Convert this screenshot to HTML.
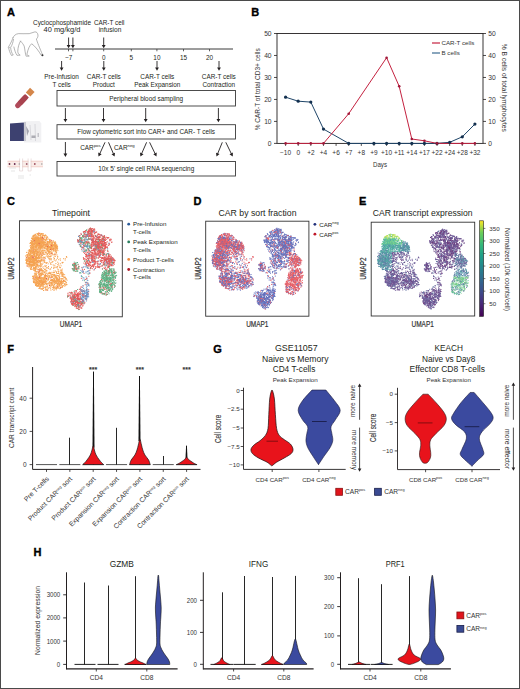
<!DOCTYPE html>
<html><head><meta charset="utf-8"><style>
html,body{margin:0;padding:0;background:#fff;}
svg{display:block;font-family:"Liberation Sans", sans-serif;}
</style></head><body>
<svg width="520" height="689" viewBox="0 0 520 689">
<rect x="0" y="0" width="520" height="689" fill="#fff"/>
<text x="6.9" y="15.6" font-size="11" text-anchor="start" font-weight="bold" fill="#000" stroke="#000" stroke-width="0.35">A</text>
<g transform="translate(5 28) scale(0.08078)" fill="none" stroke="#8c8c8c" stroke-width="8" stroke-linejoin="round" stroke-linecap="round"><path d="M100 118 C110 95 130 75 165 70 C210 68 260 74 300 70 C325 66 345 52 370 48 C392 46 405 62 408 88 C410 108 402 124 388 136 C400 175 430 250 465 332 M445 332 C420 290 380 230 330 195 C305 215 285 260 272 322 C272 335 285 343 300 347 L262 349 C250 320 248 270 238 225 C228 205 215 185 192 162 M192 162 C172 195 160 240 158 290 C160 315 172 330 188 336 L148 338 C130 310 118 270 110 235 M105 140 C100 175 90 210 70 240 C72 280 85 315 102 334 L80 340 C62 310 50 275 46 250 M100 118 C90 150 70 190 40 240 C45 248 52 246 58 240"/><circle cx="463" cy="337" r="13" fill="#333" stroke="none"/></g>
<g transform="translate(22.5 100.5) rotate(-47)"><rect x="-9.5" y="-2.6" width="16" height="5.2" rx="2.6" fill="#b04a5a"/><rect x="-4" y="-2.6" width="10.5" height="5.2" fill="#a8434f"/><rect x="8.2" y="-3.1" width="6.2" height="6.2" fill="#d4864a"/></g>
<path d="M10 123.6 L23.9 122.6 L23.9 140.9 L10 140.9 Z" fill="#3d4170"/><path d="M24 121.2 L39.5 120.9 L41.3 123.5 L41.3 142.4 L24 142.4 Z" fill="#f1f1f3"/><path d="M24 122 L26 122 L26 141 L24 141 Z" fill="#c8c8d0"/><path d="M26 126 L29 131 L27 136 Z" fill="#707080" opacity="0.6"/><path d="M30 125 L31 140 M35 124 L35.5 141" stroke="#d0d0d6" stroke-width="0.8"/><rect x="31.5" y="135.5" width="4" height="2.5" fill="#909098" opacity="0.7"/><rect x="37.5" y="133" width="1.5" height="4" fill="#b0b0b8" opacity="0.7"/>
<g><rect x="7.5" y="161.2" width="35.5" height="5.6" fill="#f9ece8"/><path d="M7.5 161.2 L43 161.2 M7.5 166.8 L43 166.8" stroke="#ecb8b0" stroke-width="0.6"/><rect x="20" y="158" width="2.2" height="13" fill="#fff"/><rect x="28.5" y="158" width="2.2" height="13" fill="#fff"/><path d="M19.6 158.5 L19.6 171 L22.6 171 L22.6 158.5 M28.1 158.5 L28.1 171 L31.1 171 L31.1 158.5" stroke="#d8c0c0" stroke-width="0.5" fill="none"/><circle cx="9.5" cy="164" r="0.9" fill="#6a2a40"/><circle cx="14.7" cy="164" r="0.9" fill="#6a2a50"/><circle cx="19.3" cy="164" r="0.8" fill="#a0a0a0"/><circle cx="26.7" cy="164" r="0.9" fill="#a06070"/><circle cx="34.8" cy="164" r="0.9" fill="#a05060"/><circle cx="41.8" cy="164" r="0.8" fill="#a0a0a0"/><path d="M9 168 L16 168 M11 171 L15 171 M18 176 L24 176 M18 178 L24 178 M29.5 175 L31 175" stroke="#c8c8c8" stroke-width="0.5"/></g>
<text x="62" y="25" font-size="6.4" text-anchor="middle" fill="#231f20" textLength="58" lengthAdjust="spacingAndGlyphs" >Cyclocphosphamide</text>
<text x="62" y="32.2" font-size="6.4" text-anchor="middle" fill="#231f20" textLength="36.8" lengthAdjust="spacingAndGlyphs" >40 mg/kg/d</text>
<text x="109.2" y="25" font-size="6.4" text-anchor="middle" fill="#231f20" textLength="30.6" lengthAdjust="spacingAndGlyphs" >CAR-T cell</text>
<text x="110" y="32.2" font-size="6.4" text-anchor="middle" fill="#231f20" textLength="22.7" lengthAdjust="spacingAndGlyphs" >infusion</text>
<line x1="55" y1="49" x2="233" y2="49" stroke="#3a3a3a" stroke-width="1.0" />
<line x1="68.5" y1="49" x2="68.5" y2="51.3" stroke="#3a3a3a" stroke-width="0.8" />
<line x1="72.9" y1="49" x2="72.9" y2="51.3" stroke="#3a3a3a" stroke-width="0.8" />
<line x1="103.7" y1="49" x2="103.7" y2="51.3" stroke="#3a3a3a" stroke-width="0.8" />
<line x1="131.3" y1="49" x2="131.3" y2="51.3" stroke="#3a3a3a" stroke-width="0.8" />
<line x1="156.9" y1="49" x2="156.9" y2="51.3" stroke="#3a3a3a" stroke-width="0.8" />
<line x1="183.5" y1="49" x2="183.5" y2="51.3" stroke="#3a3a3a" stroke-width="0.8" />
<line x1="209.5" y1="49" x2="209.5" y2="51.3" stroke="#3a3a3a" stroke-width="0.8" />
<line x1="68.6" y1="37.5" x2="68.6" y2="45.4" stroke="#231f20" stroke-width="0.9" />
<path d="M66.69999999999999 44.9 L70.5 44.9 L68.6 48.3 Z" fill="#231f20"/>
<line x1="72.9" y1="37.5" x2="72.9" y2="45.4" stroke="#231f20" stroke-width="0.9" />
<path d="M71.0 44.9 L74.80000000000001 44.9 L72.9 48.3 Z" fill="#231f20"/>
<line x1="103.7" y1="37.5" x2="103.7" y2="45.4" stroke="#231f20" stroke-width="0.9" />
<path d="M101.8 44.9 L105.60000000000001 44.9 L103.7 48.3 Z" fill="#231f20"/>
<text x="68.8" y="59.8" font-size="6.4" text-anchor="middle" fill="#231f20" >−7</text>
<text x="103.7" y="59.8" font-size="6.4" text-anchor="middle" fill="#231f20" >0</text>
<text x="131.3" y="59.8" font-size="6.4" text-anchor="middle" fill="#231f20" >5</text>
<text x="156.9" y="59.8" font-size="6.4" text-anchor="middle" fill="#231f20" >10</text>
<text x="183.5" y="59.8" font-size="6.4" text-anchor="middle" fill="#231f20" >15</text>
<text x="209.5" y="59.8" font-size="6.4" text-anchor="middle" fill="#231f20" >20</text>
<line x1="61.6" y1="61" x2="61.6" y2="67.89999999999999" stroke="#231f20" stroke-width="0.9" />
<path d="M59.7 67.39999999999999 L63.5 67.39999999999999 L61.6 70.8 Z" fill="#231f20"/>
<line x1="103.8" y1="61" x2="103.8" y2="67.89999999999999" stroke="#231f20" stroke-width="0.9" />
<path d="M101.89999999999999 67.39999999999999 L105.7 67.39999999999999 L103.8 70.8 Z" fill="#231f20"/>
<line x1="157" y1="61" x2="157" y2="67.89999999999999" stroke="#231f20" stroke-width="0.9" />
<path d="M155.1 67.39999999999999 L158.9 67.39999999999999 L157 70.8 Z" fill="#231f20"/>
<line x1="219" y1="61" x2="219" y2="67.89999999999999" stroke="#231f20" stroke-width="0.9" />
<path d="M217.1 67.39999999999999 L220.9 67.39999999999999 L219 70.8 Z" fill="#231f20"/>
<text x="61.6" y="79.2" font-size="6.4" text-anchor="middle" fill="#231f20" >Pre-Infusion</text>
<text x="61.6" y="87" font-size="6.4" text-anchor="middle" fill="#231f20" >T cells</text>
<text x="103.8" y="79.2" font-size="6.4" text-anchor="middle" fill="#231f20" >CAR-T cells</text>
<text x="103.8" y="87" font-size="6.4" text-anchor="middle" fill="#231f20" >Product</text>
<text x="157.3" y="79.2" font-size="6.4" text-anchor="middle" fill="#231f20" >CAR-T cells</text>
<text x="157.3" y="87" font-size="6.4" text-anchor="middle" fill="#231f20" >Peak Expansion</text>
<text x="218.8" y="79.2" font-size="6.4" text-anchor="middle" fill="#231f20" >CAR-T cells</text>
<text x="218.8" y="87" font-size="6.4" text-anchor="middle" fill="#231f20" >Contraction</text>
<rect x="57" y="90.5" width="178.5" height="15.5" fill="none" stroke="#3a3a3a" stroke-width="0.9"/>
<text x="146.2" y="100.55" font-size="6.4" text-anchor="middle" fill="#231f20" >Peripheral blood sampling</text>
<rect x="57" y="124.7" width="178.5" height="14.299999999999997" fill="none" stroke="#3a3a3a" stroke-width="0.9"/>
<text x="146.2" y="134.15" font-size="6.4" text-anchor="middle" fill="#231f20" >Flow cytometric sort into CAR+ and CAR- T cells</text>
<rect x="57" y="161.5" width="178.5" height="14.5" fill="none" stroke="#3a3a3a" stroke-width="0.9"/>
<text x="146.2" y="171.05" font-size="6.4" text-anchor="middle" fill="#231f20" >10x 5’ single cell RNA sequencing</text>
<line x1="65.4" y1="108" x2="65.4" y2="119.39999999999999" stroke="#231f20" stroke-width="0.9" />
<path d="M63.50000000000001 118.89999999999999 L67.30000000000001 118.89999999999999 L65.4 122.3 Z" fill="#231f20"/>
<line x1="103.5" y1="108" x2="103.5" y2="119.39999999999999" stroke="#231f20" stroke-width="0.9" />
<path d="M101.6 118.89999999999999 L105.4 118.89999999999999 L103.5 122.3 Z" fill="#231f20"/>
<line x1="145.7" y1="108" x2="145.7" y2="119.39999999999999" stroke="#231f20" stroke-width="0.9" />
<path d="M143.79999999999998 118.89999999999999 L147.6 118.89999999999999 L145.7 122.3 Z" fill="#231f20"/>
<line x1="218.4" y1="108" x2="218.4" y2="119.39999999999999" stroke="#231f20" stroke-width="0.9" />
<path d="M216.5 118.89999999999999 L220.3 118.89999999999999 L218.4 122.3 Z" fill="#231f20"/>
<line x1="65.4" y1="142" x2="65.4" y2="154.1" stroke="#231f20" stroke-width="0.9" />
<path d="M63.50000000000001 153.6 L67.30000000000001 153.6 L65.4 157 Z" fill="#231f20"/>
<line x1="105" y1="142.3" x2="99.70701969815084" y2="153.86312619788586" stroke="#231f20" stroke-width="0.9" />
<path d="M98.19 152.62 L101.64 154.20 L98.5 156.5 Z" fill="#231f20"/>
<line x1="108.5" y1="142.3" x2="113.45536977385015" y2="153.83545094896263" stroke="#231f20" stroke-width="0.9" />
<path d="M111.51 154.13 L115.00 152.63 L114.6 156.5 Z" fill="#231f20"/>
<line x1="146.6" y1="142.3" x2="141.56041062375698" y2="153.84228534558883" stroke="#231f20" stroke-width="0.9" />
<path d="M140.02 152.62 L143.50 154.14 L140.4 156.5 Z" fill="#231f20"/>
<line x1="149.6" y1="142.3" x2="155.2325538832057" y2="153.89163262920593" stroke="#231f20" stroke-width="0.9" />
<path d="M153.31 154.27 L156.72 152.61 L156.5 156.5 Z" fill="#231f20"/>
<line x1="222.3" y1="142.3" x2="217.5965627419308" y2="153.81531190768663" stroke="#231f20" stroke-width="0.9" />
<path d="M216.03 152.63 L219.54 154.07 L216.5 156.5 Z" fill="#231f20"/>
<line x1="225.8" y1="142.3" x2="231.4325538832057" y2="153.89163262920593" stroke="#231f20" stroke-width="0.9" />
<path d="M229.51 154.27 L232.92 152.61 L232.7 156.5 Z" fill="#231f20"/>
<text x="80.2" y="150" font-size="6.4" fill="#231f20">CAR<tspan font-size="4.3" dy="-2.6">pos</tspan></text>
<text x="114" y="150" font-size="6.4" fill="#231f20">CAR<tspan font-size="4.3" dy="-2.6">neg</tspan></text>
<text x="251.3" y="15.5" font-size="11" text-anchor="start" font-weight="bold" fill="#000" stroke="#000" stroke-width="0.35">B</text>
<rect x="277" y="33.5" width="206" height="109.9" fill="none" stroke="#231f20" stroke-width="0.9"/>
<line x1="274" y1="143.4" x2="277" y2="143.4" stroke="#231f20" stroke-width="0.8" />
<line x1="483" y1="143.4" x2="486" y2="143.4" stroke="#231f20" stroke-width="0.8" />
<text x="271.6" y="145.8" font-size="6.7" text-anchor="end" fill="#333" >0</text>
<text x="488.2" y="145.8" font-size="6.7" text-anchor="start" fill="#333" >0</text>
<line x1="274" y1="121.42" x2="277" y2="121.42" stroke="#231f20" stroke-width="0.8" />
<line x1="483" y1="121.42" x2="486" y2="121.42" stroke="#231f20" stroke-width="0.8" />
<text x="271.6" y="123.82000000000001" font-size="6.7" text-anchor="end" fill="#333" >10</text>
<text x="488.2" y="123.82000000000001" font-size="6.7" text-anchor="start" fill="#333" >10</text>
<line x1="274" y1="99.44" x2="277" y2="99.44" stroke="#231f20" stroke-width="0.8" />
<line x1="483" y1="99.44" x2="486" y2="99.44" stroke="#231f20" stroke-width="0.8" />
<text x="271.6" y="101.84" font-size="6.7" text-anchor="end" fill="#333" >20</text>
<text x="488.2" y="101.84" font-size="6.7" text-anchor="start" fill="#333" >20</text>
<line x1="274" y1="77.46000000000001" x2="277" y2="77.46000000000001" stroke="#231f20" stroke-width="0.8" />
<line x1="483" y1="77.46000000000001" x2="486" y2="77.46000000000001" stroke="#231f20" stroke-width="0.8" />
<text x="271.6" y="79.86000000000001" font-size="6.7" text-anchor="end" fill="#333" >30</text>
<text x="488.2" y="79.86000000000001" font-size="6.7" text-anchor="start" fill="#333" >30</text>
<line x1="274" y1="55.480000000000004" x2="277" y2="55.480000000000004" stroke="#231f20" stroke-width="0.8" />
<line x1="483" y1="55.480000000000004" x2="486" y2="55.480000000000004" stroke="#231f20" stroke-width="0.8" />
<text x="271.6" y="57.88" font-size="6.7" text-anchor="end" fill="#333" >40</text>
<text x="488.2" y="57.88" font-size="6.7" text-anchor="start" fill="#333" >40</text>
<line x1="274" y1="33.500000000000014" x2="277" y2="33.500000000000014" stroke="#231f20" stroke-width="0.8" />
<line x1="483" y1="33.500000000000014" x2="486" y2="33.500000000000014" stroke="#231f20" stroke-width="0.8" />
<text x="271.6" y="35.90000000000001" font-size="6.7" text-anchor="end" fill="#333" >50</text>
<text x="488.2" y="35.90000000000001" font-size="6.7" text-anchor="start" fill="#333" >50</text>
<line x1="285.6" y1="143.4" x2="285.6" y2="145.9" stroke="#231f20" stroke-width="0.8" />
<text x="285.6" y="154.9" font-size="6.5" text-anchor="middle" fill="#333" >−10</text>
<line x1="298.22" y1="143.4" x2="298.22" y2="145.9" stroke="#231f20" stroke-width="0.8" />
<text x="298.22" y="154.9" font-size="6.5" text-anchor="middle" fill="#333" >0</text>
<line x1="310.84000000000003" y1="143.4" x2="310.84000000000003" y2="145.9" stroke="#231f20" stroke-width="0.8" />
<text x="310.84000000000003" y="154.9" font-size="6.5" text-anchor="middle" fill="#333" >+2</text>
<line x1="323.46000000000004" y1="143.4" x2="323.46000000000004" y2="145.9" stroke="#231f20" stroke-width="0.8" />
<text x="323.46000000000004" y="154.9" font-size="6.5" text-anchor="middle" fill="#333" >+4</text>
<line x1="336.08000000000004" y1="143.4" x2="336.08000000000004" y2="145.9" stroke="#231f20" stroke-width="0.8" />
<text x="336.08000000000004" y="154.9" font-size="6.5" text-anchor="middle" fill="#333" >+6</text>
<line x1="348.70000000000005" y1="143.4" x2="348.70000000000005" y2="145.9" stroke="#231f20" stroke-width="0.8" />
<text x="348.70000000000005" y="154.9" font-size="6.5" text-anchor="middle" fill="#333" >+7</text>
<line x1="361.32000000000005" y1="143.4" x2="361.32000000000005" y2="145.9" stroke="#231f20" stroke-width="0.8" />
<text x="361.32000000000005" y="154.9" font-size="6.5" text-anchor="middle" fill="#333" >+8</text>
<line x1="373.94" y1="143.4" x2="373.94" y2="145.9" stroke="#231f20" stroke-width="0.8" />
<text x="373.94" y="154.9" font-size="6.5" text-anchor="middle" fill="#333" >+9</text>
<line x1="386.56" y1="143.4" x2="386.56" y2="145.9" stroke="#231f20" stroke-width="0.8" />
<text x="386.56" y="154.9" font-size="6.5" text-anchor="middle" fill="#333" >+10</text>
<line x1="399.18" y1="143.4" x2="399.18" y2="145.9" stroke="#231f20" stroke-width="0.8" />
<text x="399.18" y="154.9" font-size="6.5" text-anchor="middle" fill="#333" >+11</text>
<line x1="411.8" y1="143.4" x2="411.8" y2="145.9" stroke="#231f20" stroke-width="0.8" />
<text x="411.8" y="154.9" font-size="6.5" text-anchor="middle" fill="#333" >+14</text>
<line x1="424.42" y1="143.4" x2="424.42" y2="145.9" stroke="#231f20" stroke-width="0.8" />
<text x="424.42" y="154.9" font-size="6.5" text-anchor="middle" fill="#333" >+17</text>
<line x1="437.04" y1="143.4" x2="437.04" y2="145.9" stroke="#231f20" stroke-width="0.8" />
<text x="437.04" y="154.9" font-size="6.5" text-anchor="middle" fill="#333" >+22</text>
<line x1="449.66" y1="143.4" x2="449.66" y2="145.9" stroke="#231f20" stroke-width="0.8" />
<text x="449.66" y="154.9" font-size="6.5" text-anchor="middle" fill="#333" >+24</text>
<line x1="462.28" y1="143.4" x2="462.28" y2="145.9" stroke="#231f20" stroke-width="0.8" />
<text x="462.28" y="154.9" font-size="6.5" text-anchor="middle" fill="#333" >+28</text>
<line x1="474.9" y1="143.4" x2="474.9" y2="145.9" stroke="#231f20" stroke-width="0.8" />
<text x="474.9" y="154.9" font-size="6.5" text-anchor="middle" fill="#333" >+32</text>
<text x="380" y="166.5" font-size="7.2" text-anchor="middle" fill="#333" textLength="14" lengthAdjust="spacingAndGlyphs" >Days</text>
<text transform="translate(260.4 89.3) rotate(-90)" font-size="8" text-anchor="middle" fill="#333" textLength="82" lengthAdjust="spacingAndGlyphs">% CAR-T of total CD3+ cells</text>
<text transform="translate(502.4 87.8) rotate(90)" font-size="8" text-anchor="middle" fill="#333" textLength="88" lengthAdjust="spacingAndGlyphs">% B cells of total lymphocytes</text>
<polyline points="285.6,97.2 298.2,101.2 310.8,102.1 323.5,129.1 348.7,143.4 373.9,143.4 386.6,143.4 399.2,143.4 411.8,143.4 424.4,143.4 437.0,143.4 449.7,142.3 462.3,136.8 474.9,124.1" fill="none" stroke="#1f4568" stroke-width="1"/>
<polyline points="285.6,143.4 298.2,143.4 310.8,143.4 323.5,143.4 348.7,113.7 386.6,57.7 399.2,86.3 411.8,139.0 424.4,140.8 437.0,143.4 449.7,143.4 462.3,143.4 474.9,143.4" fill="none" stroke="#c4213f" stroke-width="1"/>
<circle cx="285.6" cy="97.2" r="1.6" fill="#13304f"/>
<circle cx="298.2" cy="101.2" r="1.6" fill="#13304f"/>
<circle cx="310.8" cy="102.1" r="1.6" fill="#13304f"/>
<circle cx="323.5" cy="129.1" r="1.6" fill="#13304f"/>
<circle cx="348.7" cy="143.4" r="1.6" fill="#13304f"/>
<circle cx="373.9" cy="143.4" r="1.6" fill="#13304f"/>
<circle cx="386.6" cy="143.4" r="1.6" fill="#13304f"/>
<circle cx="399.2" cy="143.4" r="1.6" fill="#13304f"/>
<circle cx="411.8" cy="143.4" r="1.6" fill="#13304f"/>
<circle cx="424.4" cy="143.4" r="1.6" fill="#13304f"/>
<circle cx="437.0" cy="143.4" r="1.6" fill="#13304f"/>
<circle cx="449.7" cy="142.3" r="1.6" fill="#13304f"/>
<circle cx="462.3" cy="136.8" r="1.6" fill="#13304f"/>
<circle cx="474.9" cy="124.1" r="1.6" fill="#13304f"/>
<circle cx="285.6" cy="143.4" r="1.3" fill="#a0183a"/>
<circle cx="298.2" cy="143.4" r="1.3" fill="#a0183a"/>
<circle cx="310.8" cy="143.4" r="1.3" fill="#a0183a"/>
<circle cx="323.5" cy="143.4" r="1.3" fill="#a0183a"/>
<circle cx="348.7" cy="113.7" r="1.3" fill="#a0183a"/>
<circle cx="386.6" cy="57.7" r="1.3" fill="#a0183a"/>
<circle cx="399.2" cy="86.3" r="1.3" fill="#a0183a"/>
<circle cx="411.8" cy="139.0" r="1.3" fill="#a0183a"/>
<circle cx="424.4" cy="140.8" r="1.3" fill="#a0183a"/>
<circle cx="437.0" cy="143.4" r="1.3" fill="#a0183a"/>
<circle cx="462.3" cy="143.4" r="1.3" fill="#a0183a"/>
<circle cx="474.9" cy="143.4" r="1.3" fill="#a0183a"/>
<line x1="432" y1="43" x2="440" y2="43" stroke="#c4213f" stroke-width="1.2" />
<line x1="432" y1="53" x2="440" y2="53" stroke="#3a6a90" stroke-width="1.2" />
<text x="441.5" y="45.2" font-size="6.2" text-anchor="start" fill="#333" >CAR-T cells</text>
<text x="441.5" y="55.2" font-size="6.2" text-anchor="start" fill="#333" >B cells</text>
<g opacity="0.78" stroke-width="1.0" stroke-linecap="square">
<path d="M33.3 262.6h0M42.4 282.1h0M36.4 277.8h0M56.9 287.6h0M37.3 286.2h0M59.1 286.1h0M55.7 288.1h0M33.9 260.4h0M52.7 274.6h0M34.8 263.4h0M35.1 272.8h0M59.9 285.4h0M49.6 241.2h0M58.5 280.2h0M45.5 242.6h0M36.9 257.5h0M43.6 254.2h0M44.0 279.6h0M56.8 285.2h0M38.5 239.4h0M32.1 251.5h0M43.2 286.2h0M60.7 270.9h0M36.3 244.4h0M53.5 268.2h0M52.1 244.2h0M49.6 242.8h0M38.2 251.6h0M65.3 258.7h0M50.9 249.3h0M32.8 278.2h0M48.5 278.9h0M44.8 276.2h0M42.6 270.6h0M55.8 248.4h0M35.0 249.7h0M46.6 249.0h0M39.3 247.5h0M42.2 246.7h0M47.0 279.2h0M59.5 281.6h0M42.5 273.9h0M54.3 243.0h0M50.7 287.1h0M41.9 282.3h0M54.8 275.7h0M35.8 256.7h0M56.5 278.0h0M35.9 256.8h0M38.2 275.8h0M42.7 289.1h0M50.3 244.5h0M38.5 282.2h0M48.3 247.5h0M28.7 263.4h0M39.7 252.9h0M45.7 280.5h0M33.2 239.8h0M56.7 245.0h0M35.4 266.8h0M26.4 262.6h0M35.7 251.8h0M42.0 260.0h0M40.0 274.2h0M41.3 271.1h0M34.7 260.3h0M40.9 246.0h0M38.6 267.2h0M34.6 258.8h0M36.2 274.4h0M49.4 246.6h0M41.4 241.4h0M31.5 256.2h0M38.9 255.9h0M41.2 239.3h0M31.8 241.4h0M34.3 270.2h0M41.5 239.5h0M29.3 265.2h0M36.8 277.6h0M34.3 239.7h0M40.7 234.6h0M38.8 277.6h0M56.5 252.6h0M38.1 239.4h0M37.1 237.4h0M38.7 233.8h0M45.1 244.7h0M29.6 250.5h0M62.3 275.9h0M47.8 248.8h0M60.6 263.8h0M29.5 263.9h0M43.1 235.6h0M31.5 261.4h0M31.6 265.9h0M50.6 247.8h0M37.7 277.0h0M50.2 251.6h0M37.3 244.5h0M32.5 262.5h0M48.7 252.2h0M41.3 260.7h0M47.1 243.0h0M46.4 256.0h0M45.8 275.8h0M38.8 281.1h0M29.4 254.8h0M50.1 241.4h0M28.6 257.4h0M48.4 241.7h0M26.5 260.0h0M57.2 267.7h0M39.0 288.5h0M44.6 235.6h0M56.7 279.4h0M41.6 277.9h0M51.0 280.5h0M33.0 264.6h0M26.2 258.9h0M33.5 261.9h0M49.7 251.5h0M33.4 259.5h0M40.3 244.9h0M39.8 244.2h0M39.7 257.7h0M42.2 282.5h0M58.7 287.9h0M56.6 275.7h0M39.5 257.9h0M62.6 282.2h0M34.2 262.5h0M38.3 245.4h0M55.5 280.3h0M35.2 280.3h0M58.7 282.8h0M36.1 266.7h0M35.0 237.1h0M64.6 284.1h0M44.1 281.7h0M61.7 287.5h0M27.1 261.9h0M49.4 287.7h0M36.9 258.7h0M26.7 263.6h0M48.7 258.7h0M36.2 277.6h0M37.7 241.8h0M61.8 272.4h0M34.2 276.6h0M39.1 251.9h0M47.5 243.0h0M37.0 286.5h0M44.4 261.9h0M32.9 238.4h0M39.2 244.9h0M36.4 261.2h0M32.4 257.0h0M41.3 278.9h0M59.7 288.7h0M33.6 278.4h0M39.5 278.6h0M37.1 260.8h0M30.3 260.6h0M58.5 283.0h0M29.4 264.9h0M34.9 270.6h0M55.6 246.9h0M56.4 289.8h0M38.8 242.7h0M28.0 261.3h0M48.9 245.2h0M52.1 252.9h0M59.3 278.3h0M27.4 259.9h0M33.5 237.1h0M52.6 279.6h0M57.1 278.7h0M56.9 245.6h0M39.5 276.1h0M27.3 260.2h0M36.7 262.7h0M46.2 253.2h0M36.6 240.8h0M45.0 281.6h0M42.3 264.7h0M32.0 250.4h0M38.9 252.5h0M52.0 244.1h0M42.6 236.8h0M48.8 252.0h0M34.4 243.8h0M45.0 254.1h0M52.4 287.6h0M41.2 241.9h0M53.9 270.9h0M38.8 253.6h0M51.1 243.9h0M34.2 262.4h0M45.9 242.8h0M29.1 249.9h0M30.6 255.0h0M36.0 262.5h0M39.4 251.1h0M38.2 245.1h0M39.9 253.5h0M42.1 289.2h0M36.4 259.8h0M51.6 248.5h0M35.8 245.7h0M52.7 274.3h0M35.0 262.6h0M48.7 246.6h0M55.8 243.0h0M30.7 269.3h0M48.3 245.4h0M53.5 286.3h0M57.1 279.0h0M56.0 247.3h0M33.6 259.0h0M28.6 253.4h0M31.3 240.8h0M46.3 244.8h0M44.1 277.7h0M44.7 275.5h0M35.4 271.1h0M33.5 244.0h0M33.8 242.9h0M43.0 233.8h0M32.7 245.7h0M37.1 265.1h0M33.9 252.8h0M39.9 249.5h0M29.5 250.7h0M59.5 284.5h0M31.1 262.0h0M46.7 239.0h0M49.6 247.5h0M63.1 274.2h0M60.2 258.8h0M35.8 284.0h0M55.6 243.7h0M29.4 262.5h0M63.1 279.1h0M39.8 254.5h0M28.9 258.8h0M44.0 241.0h0M48.3 275.7h0M49.2 282.8h0M29.2 251.2h0M39.7 242.4h0M58.4 281.9h0M30.0 256.8h0M31.2 251.8h0M53.8 281.0h0M50.4 280.3h0M55.0 281.6h0M43.2 239.5h0M35.0 253.4h0M36.0 282.5h0M56.1 266.9h0M40.4 285.7h0M41.4 283.4h0M47.5 246.5h0M40.1 235.2h0M36.2 246.7h0M35.7 242.9h0M37.9 234.7h0M36.3 254.9h0M52.6 279.7h0M29.4 264.7h0M45.7 277.8h0M55.0 250.2h0M41.9 286.6h0M33.8 238.7h0M29.4 257.7h0M44.9 278.9h0M51.6 280.1h0M29.1 264.6h0M37.2 283.2h0M40.9 284.0h0M38.9 239.3h0M57.8 284.6h0M42.6 283.7h0M42.1 239.3h0M39.8 280.7h0M35.4 249.7h0M37.0 238.9h0M30.7 258.3h0M42.7 283.4h0M39.0 238.2h0M40.2 273.5h0M51.1 256.0h0M41.6 268.7h0M36.1 241.7h0M36.6 257.8h0M31.6 247.3h0M66.3 279.1h0M31.2 259.5h0M41.0 247.8h0M36.9 238.4h0M54.4 287.9h0M37.8 265.1h0M54.8 256.0h0M47.9 246.2h0M42.7 237.0h0M55.4 277.7h0M37.1 264.8h0M50.3 286.0h0M30.8 256.4h0M49.9 248.4h0M33.4 254.5h0M40.2 282.2h0M58.8 276.6h0M33.9 281.7h0M61.7 276.1h0M43.0 234.9h0M47.5 257.0h0M28.4 258.6h0M51.8 244.0h0M39.7 260.4h0M34.2 236.2h0M42.2 258.2h0M30.3 267.0h0M60.1 282.8h0M33.9 235.3h0M35.8 239.8h0M33.0 265.2h0M54.2 277.2h0M35.5 257.6h0M33.9 249.3h0M35.0 254.1h0M30.9 258.8h0M45.1 283.9h0M56.7 247.4h0M65.2 260.0h0M26.6 259.0h0M54.6 272.6h0M42.3 249.0h0M43.0 242.8h0M39.3 283.9h0M48.5 266.5h0M57.4 287.4h0M37.9 244.1h0M33.6 241.9h0M35.8 259.1h0M37.4 258.5h0M37.6 279.7h0M35.1 280.0h0M50.6 264.0h0M53.4 249.3h0M30.6 243.0h0M40.0 248.8h0M31.3 259.2h0M32.5 276.4h0M37.1 278.2h0M44.0 251.1h0M43.6 244.0h0M34.2 237.4h0M45.1 271.3h0M34.7 265.1h0M33.5 236.8h0M51.2 279.6h0M41.4 251.8h0M33.1 276.2h0M28.6 264.8h0M58.5 273.5h0M36.5 252.9h0M47.7 237.4h0M34.0 240.3h0M39.3 238.4h0M46.6 246.5h0M39.9 261.9h0M41.6 280.4h0M38.8 260.2h0M64.6 274.7h0M40.1 265.6h0M49.3 242.2h0M54.2 245.2h0M27.3 255.5h0M36.1 239.5h0M54.1 247.6h0M35.8 279.2h0M39.9 242.2h0M41.4 246.1h0M46.4 241.0h0M32.9 258.3h0M53.9 275.4h0M38.7 240.3h0M35.6 285.1h0M31.1 259.2h0M46.9 284.3h0M57.1 246.9h0M30.3 268.4h0M60.3 281.9h0M56.5 288.4h0M37.3 262.2h0M37.2 283.2h0M55.4 275.1h0M39.6 283.5h0M51.6 248.5h0M36.5 238.0h0M35.1 251.6h0M61.9 278.6h0M36.1 267.1h0M53.6 280.8h0M33.9 246.8h0M37.8 238.0h0M35.5 285.4h0M43.0 274.4h0M35.4 258.7h0M30.5 252.7h0M35.7 262.3h0M56.0 282.1h0M32.4 247.7h0M51.7 280.4h0M61.6 274.8h0M51.7 244.7h0M48.3 268.2h0M33.2 246.6h0M38.8 285.1h0M34.9 240.7h0M57.9 288.5h0M36.8 245.3h0M61.9 270.5h0M44.0 278.9h0M34.3 263.1h0M55.5 281.8h0M55.3 256.4h0M35.6 266.9h0M35.6 250.7h0M29.0 253.8h0M38.3 242.5h0M49.4 284.3h0M39.6 262.1h0M53.7 250.8h0M31.1 251.0h0M43.2 286.0h0M43.5 290.5h0M43.9 271.5h0M42.7 243.2h0M47.1 267.8h0M31.5 267.3h0M44.5 277.4h0M34.9 258.5h0M39.7 283.5h0M31.0 268.8h0M39.9 279.2h0M52.4 243.7h0M32.5 239.0h0M34.7 268.1h0M35.1 258.1h0M66.4 284.5h0M33.1 264.1h0M46.4 275.7h0M35.5 250.5h0M41.8 245.3h0M32.0 265.2h0M35.6 251.8h0M32.3 247.3h0M42.3 284.8h0M29.5 261.9h0M50.5 249.4h0M32.4 245.5h0M34.3 259.9h0M37.8 285.2h0M49.6 252.3h0M42.7 272.3h0M42.5 283.4h0M41.1 259.7h0M31.0 251.4h0M34.6 275.0h0M52.5 249.4h0M45.9 289.4h0M48.0 277.2h0M45.6 246.6h0M53.1 285.6h0M38.9 283.9h0M31.8 257.6h0M36.9 238.2h0M41.6 240.1h0M55.8 254.7h0M49.7 258.4h0M46.5 270.3h0M46.3 263.4h0M39.3 243.9h0M37.9 254.5h0M40.7 235.1h0M29.4 263.1h0M41.4 259.7h0M26.2 262.9h0M55.6 247.7h0M30.8 242.8h0M42.8 242.9h0M49.3 282.7h0M41.0 268.4h0M40.7 241.5h0M39.9 271.8h0M61.1 283.5h0M36.6 238.4h0M57.9 283.4h0M58.0 285.5h0M64.8 277.5h0M57.9 250.6h0M60.2 273.7h0M30.2 266.3h0M42.3 250.5h0M36.5 251.2h0M36.9 282.7h0M52.6 246.1h0M54.2 272.2h0M53.0 281.8h0M49.8 239.7h0M43.2 278.1h0M35.5 240.0h0M49.8 240.2h0M33.0 252.8h0M33.3 268.5h0M38.7 241.1h0M51.2 247.1h0M39.7 277.2h0M54.7 282.0h0M36.8 258.8h0M51.3 277.6h0M51.1 241.7h0M37.9 233.5h0M33.8 243.9h0M47.6 247.1h0M49.7 242.9h0M41.2 251.8h0M31.9 255.6h0M51.8 244.9h0M49.2 276.7h0M63.2 283.2h0M38.2 238.6h0M26.7 261.1h0M40.4 282.6h0M51.9 272.3h0M55.0 275.7h0M36.4 282.4h0M45.0 281.1h0M51.9 247.9h0M38.7 240.1h0M46.6 246.3h0M43.4 239.3h0M29.5 261.6h0M36.5 257.9h0M33.5 251.9h0M33.6 240.0h0M54.4 248.2h0M54.0 290.5h0M38.0 265.8h0M44.7 261.9h0M35.4 246.8h0M31.0 256.6h0M49.9 259.9h0M41.6 244.5h0M51.9 249.8h0M45.3 258.6h0M35.5 267.4h0M41.1 285.4h0M50.6 273.0h0M28.9 255.9h0M36.0 237.1h0M43.2 243.1h0M32.9 241.1h0M38.7 245.1h0" stroke="#f38a22"/>
<path d="M43.3 245.1h0M42.5 283.3h0M33.6 258.8h0M59.2 279.6h0M45.0 244.5h0M33.5 250.2h0M40.5 270.1h0M37.8 243.9h0M33.0 248.2h0M60.6 287.4h0M51.4 240.4h0M37.7 252.5h0M36.7 253.7h0M80.7 246.7h0M102.6 260.7h0M101.7 258.5h0M83.7 232.4h0M86.7 236.4h0M98.0 267.1h0M92.5 257.8h0M92.7 236.4h0M101.8 240.6h0M91.7 239.6h0M95.1 262.3h0M111.1 260.8h0M89.9 235.3h0M112.7 259.6h0M92.2 259.6h0M111.3 259.0h0M105.5 245.6h0M97.0 254.9h0M98.9 248.9h0M101.9 244.2h0M99.6 256.6h0M96.4 247.1h0M98.4 243.8h0M108.9 265.3h0M104.3 243.3h0M97.6 243.6h0M97.1 254.0h0M102.1 250.8h0M108.6 267.6h0M112.0 257.6h0M83.5 236.7h0M107.2 241.7h0M91.3 239.9h0M92.2 246.3h0M95.1 248.5h0M104.4 242.1h0M103.6 243.3h0M111.6 259.1h0M101.5 235.0h0M84.9 236.4h0M105.2 237.9h0M88.2 229.3h0M99.8 252.9h0M89.3 264.4h0M99.6 250.1h0M88.5 264.0h0M108.9 243.4h0M109.6 263.2h0M92.5 261.4h0M110.5 257.9h0M98.5 253.4h0M94.7 243.7h0M95.4 240.5h0M111.2 264.5h0M92.1 242.5h0M102.9 257.9h0M110.6 265.0h0M102.4 248.2h0M105.1 247.0h0M111.4 261.2h0M91.8 240.1h0M99.7 246.1h0M83.4 247.7h0M109.3 261.6h0M96.4 241.2h0M96.0 238.4h0M96.2 256.7h0M96.3 242.2h0M95.2 245.4h0M101.2 261.7h0M110.0 240.9h0M100.8 247.3h0M103.2 258.6h0M97.3 241.0h0M109.8 239.7h0M104.3 235.6h0M102.4 257.9h0M104.4 261.7h0M107.0 259.7h0M110.1 258.5h0M95.4 252.8h0M94.9 233.8h0M84.9 245.7h0M93.0 255.8h0M91.3 268.0h0M92.5 260.3h0M91.0 233.1h0M99.5 247.0h0M90.6 267.7h0M95.7 239.1h0M106.6 262.4h0M101.5 251.8h0M98.7 239.6h0M103.5 259.1h0M90.5 228.9h0M102.2 254.4h0M98.2 258.5h0M105.4 247.7h0M97.9 254.9h0M104.0 267.9h0M88.2 263.6h0M92.7 256.9h0M93.3 266.4h0M103.0 262.9h0M93.4 250.6h0M112.2 262.9h0M99.9 257.1h0M91.6 260.4h0M97.7 264.1h0M100.4 241.4h0M93.5 237.8h0M81.2 239.8h0M92.2 259.4h0M87.0 231.7h0M100.4 250.5h0M95.8 267.0h0M90.8 262.4h0M103.0 252.8h0M90.1 265.5h0M88.7 255.5h0M82.0 247.0h0M99.2 256.1h0M103.5 264.4h0M86.5 234.7h0M90.3 245.0h0M78.4 242.1h0M107.3 258.8h0M100.1 237.5h0M103.1 239.0h0M91.8 247.1h0M93.3 236.6h0M89.2 257.1h0M98.7 253.7h0M86.3 254.0h0M102.6 245.1h0M86.7 255.1h0M86.7 263.4h0M83.7 242.9h0M100.3 247.8h0M85.0 246.4h0M93.1 242.8h0M94.5 244.3h0M95.5 236.2h0M96.5 236.4h0M102.9 248.6h0M108.9 264.5h0M107.5 263.3h0M104.5 268.4h0M93.4 266.6h0M93.5 265.0h0M109.3 244.7h0M102.6 244.9h0M94.6 253.9h0M90.4 265.2h0M81.0 233.4h0M106.1 259.9h0M88.1 265.4h0M102.3 245.3h0M105.1 254.8h0M80.9 245.7h0M86.1 251.3h0M100.2 246.7h0M97.7 261.6h0M103.4 254.4h0M91.9 256.9h0M95.2 266.6h0M107.8 261.6h0M110.5 239.2h0M98.8 237.4h0M107.5 238.1h0M79.9 235.7h0M98.9 255.7h0M97.1 266.8h0M100.6 241.8h0M81.1 241.7h0M98.8 246.6h0M102.7 252.5h0M103.1 255.3h0M90.9 229.3h0M88.8 263.3h0M93.4 261.1h0M109.9 265.7h0M87.8 248.8h0M94.2 258.4h0M89.9 245.2h0M88.1 250.8h0M96.0 245.8h0M98.0 254.3h0M93.9 231.9h0M94.7 252.2h0M83.7 245.0h0M95.5 244.2h0M104.6 257.4h0M92.9 240.0h0M94.8 230.1h0M91.8 255.4h0M92.9 233.0h0M91.6 252.9h0M98.0 244.6h0M108.1 261.8h0M99.3 253.0h0M89.6 255.4h0M84.3 243.0h0M101.6 241.0h0M102.7 238.8h0M93.3 239.7h0M94.8 254.4h0M86.1 242.7h0M102.3 245.6h0M104.5 237.6h0M101.9 244.9h0M94.0 270.0h0M88.5 237.9h0M103.7 263.2h0M93.1 244.5h0M95.5 249.5h0M85.7 230.5h0M109.5 240.1h0M100.3 261.5h0M105.2 240.5h0M96.2 254.5h0M98.9 244.4h0M113.1 263.4h0M99.8 255.6h0M114.1 261.8h0M92.5 241.4h0M94.1 246.7h0M88.2 263.2h0M111.3 257.9h0M97.2 252.4h0M115.2 260.7h0M92.3 250.5h0M91.7 239.5h0M108.8 259.3h0M94.5 231.2h0M104.7 260.4h0M88.4 232.5h0M91.8 260.2h0M93.4 256.9h0M111.1 261.1h0M95.3 241.4h0M111.8 259.7h0M107.4 247.7h0M100.7 257.4h0M85.6 244.7h0M113.1 265.6h0M102.4 241.4h0M86.0 241.4h0M87.8 260.9h0M95.5 253.6h0M100.0 254.3h0M99.7 240.8h0M90.9 246.9h0M91.7 266.5h0M100.1 245.1h0M103.5 241.6h0M104.5 237.8h0M96.5 249.1h0M88.5 242.5h0M88.9 250.0h0M93.3 264.8h0M108.6 256.6h0M93.2 229.0h0M114.6 260.1h0M94.0 265.3h0M108.6 237.7h0M92.4 259.2h0M86.0 243.4h0M91.4 231.7h0M81.1 243.8h0M104.7 289.6h0M100.4 287.9h0M104.2 293.5h0M111.2 269.2h0M111.0 286.3h0M109.5 290.8h0M103.6 284.4h0M114.6 272.5h0M103.9 274.1h0M102.4 281.2h0M107.9 271.3h0M101.2 287.9h0M103.5 287.7h0M112.4 273.2h0M104.4 273.3h0M100.4 292.9h0M76.6 269.5h0M73.7 270.1h0M78.1 264.9h0M75.8 271.5h0M72.9 265.3h0M72.4 268.6h0M79.1 266.4h0M74.3 263.5h0M83.3 272.1h0M85.7 279.5h0M81.4 278.3h0M85.9 296.0h0M76.3 300.9h0M70.9 301.4h0M67.5 295.2h0M74.2 299.9h0M88.8 291.7h0M76.3 300.4h0M77.2 301.6h0M81.3 303.6h0M75.7 303.1h0M80.7 304.0h0M74.1 298.7h0M74.8 297.3h0M74.8 300.6h0M81.2 293.4h0M81.6 304.6h0M77.6 294.5h0M74.7 296.0h0M78.1 302.5h0M84.1 303.8h0M76.0 300.4h0M79.9 298.4h0M75.5 303.9h0M78.1 298.2h0M80.2 308.0h0M74.4 297.2h0M79.4 299.0h0M74.4 297.2h0M82.6 305.0h0M76.1 292.2h0M80.2 296.7h0M72.7 305.0h0M78.3 296.8h0M73.4 302.1h0M82.9 294.2h0M79.4 289.4h0M80.2 301.0h0M77.7 299.6h0M78.2 307.8h0M79.3 303.0h0M80.3 303.7h0M83.2 301.1h0M72.8 301.5h0M76.6 290.9h0M80.1 296.9h0M74.7 293.7h0M75.6 293.2h0M71.7 298.8h0M67.9 293.3h0M77.7 303.4h0M78.8 302.9h0M75.8 298.1h0M72.8 304.7h0M72.4 298.8h0M78.1 293.0h0M78.4 299.7h0M76.0 299.5h0M70.6 298.9h0M80.7 305.9h0M77.5 295.5h0M76.3 302.0h0M79.5 299.3h0M81.5 303.9h0M83.7 297.1h0M77.7 295.3h0M74.3 297.8h0M87.6 292.4h0M76.8 301.0h0M81.4 298.7h0M84.9 302.8h0M78.0 304.9h0M79.0 302.5h0M76.8 294.9h0M76.9 300.9h0M73.6 299.3h0M78.7 309.1h0M77.6 302.3h0M79.9 291.5h0M76.8 294.7h0M72.9 293.0h0M74.4 301.4h0M79.9 293.8h0" stroke="#dc2a2a"/>
<path d="M78.4 240.5h0M89.1 246.9h0M95.5 244.1h0M83.0 244.2h0M77.6 239.9h0M107.7 248.8h0M99.8 264.0h0M87.5 247.0h0M112.3 264.6h0M107.7 262.6h0M80.2 241.7h0M84.5 251.5h0M87.9 246.5h0M86.6 250.3h0M100.8 247.9h0M85.9 239.0h0M88.3 259.1h0M80.4 238.1h0M101.4 249.9h0M85.7 250.9h0M87.7 245.4h0M86.5 246.6h0M79.3 235.8h0M81.8 247.2h0M88.6 238.1h0M83.3 236.6h0M87.6 236.3h0M82.1 250.9h0M81.4 234.4h0M93.5 230.2h0M94.4 250.9h0M86.1 271.8h0M84.2 279.2h0M87.6 271.4h0M88.6 268.3h0M82.7 280.2h0M86.8 278.1h0M81.4 276.2h0M88.3 270.9h0M88.0 284.8h0M86.7 294.7h0M87.1 298.1h0M83.0 293.8h0M82.4 295.2h0M81.2 299.7h0M87.1 294.8h0M87.5 289.2h0M89.2 285.9h0M84.8 291.5h0M86.9 294.3h0M86.6 289.2h0M78.2 299.1h0M85.6 296.0h0M84.1 303.3h0M70.1 296.9h0M87.8 280.5h0M85.1 296.0h0M78.0 297.9h0M88.1 283.1h0M83.3 295.2h0M81.1 298.9h0M83.0 298.1h0M86.7 282.3h0M86.2 292.3h0M83.6 288.4h0M86.7 285.2h0M85.5 296.1h0M88.7 285.1h0M86.7 295.7h0M88.5 291.6h0M86.9 295.1h0M83.6 300.8h0M81.0 298.4h0" stroke="#3a78b8"/>
<path d="M94.8 259.0h0M89.6 248.1h0M89.8 231.4h0M91.1 230.5h0M91.3 247.7h0M84.2 233.7h0M89.7 233.3h0M90.5 251.8h0M103.1 251.8h0M86.5 229.9h0M78.6 236.5h0M86.7 239.9h0M107.2 259.8h0M98.2 238.3h0M85.2 245.0h0M108.8 266.4h0M96.4 239.6h0M99.6 236.9h0M84.2 233.2h0M87.6 242.5h0M90.9 254.8h0M104.1 236.3h0M107.4 250.2h0M87.3 244.5h0M84.3 242.2h0M80.9 237.6h0M99.4 250.7h0M86.0 249.4h0M90.2 233.6h0M87.4 243.8h0M89.3 239.5h0M92.1 234.9h0M111.2 284.7h0M105.8 277.1h0M102.1 290.2h0M102.3 279.2h0M100.4 284.3h0M113.8 277.0h0M107.6 284.5h0M100.7 289.6h0M109.6 279.4h0M100.2 281.8h0M113.8 270.5h0M108.0 287.9h0M103.8 275.4h0M103.1 277.8h0M111.4 285.7h0M104.8 278.3h0M101.7 278.0h0M110.4 280.9h0M112.7 282.5h0M100.4 290.3h0M110.2 280.2h0M108.9 286.5h0M106.6 278.7h0M102.3 281.1h0M108.8 282.7h0M110.2 282.7h0M100.8 285.4h0M104.3 282.8h0M110.5 277.6h0M109.4 287.8h0M111.1 279.1h0M108.6 287.5h0M112.5 277.1h0M113.2 272.4h0M110.6 281.0h0M114.3 274.0h0M99.7 285.6h0M104.8 279.9h0M111.2 277.9h0M111.4 276.1h0M100.9 291.9h0M110.9 278.3h0M108.5 270.7h0M105.4 275.9h0M108.8 273.3h0M109.6 269.9h0M104.9 280.2h0M106.3 271.8h0M112.8 280.1h0M111.2 271.4h0M105.9 286.8h0M104.3 274.9h0M112.3 289.3h0M98.7 284.1h0M109.8 287.8h0M111.8 275.4h0M114.5 282.1h0M103.9 293.6h0M109.2 278.4h0M110.7 269.5h0M112.1 288.8h0M106.1 291.6h0M99.0 287.3h0M106.5 284.6h0M112.8 283.3h0M109.2 271.0h0M111.5 291.1h0M104.1 283.7h0M108.0 287.5h0M105.8 274.9h0M101.1 291.9h0M111.0 270.9h0M100.4 285.9h0M114.9 285.6h0M101.6 275.8h0M106.0 295.2h0M108.1 280.2h0M112.8 275.0h0M105.6 278.7h0M104.6 274.4h0M103.9 281.1h0M106.3 285.9h0M111.0 280.0h0M110.8 275.4h0M110.3 279.3h0M108.1 280.0h0M104.8 283.4h0M108.2 271.0h0M112.0 277.4h0M104.2 284.3h0M105.6 274.9h0M116.0 275.7h0M108.6 285.4h0M108.4 281.5h0M111.5 282.0h0M108.9 279.0h0M104.0 284.8h0M111.7 270.3h0M106.1 277.3h0M103.5 290.6h0M105.7 280.6h0M109.5 270.1h0M103.2 290.2h0M110.7 288.1h0M106.3 280.5h0M107.5 276.1h0M102.1 286.4h0M108.2 283.1h0M101.6 289.2h0M109.8 271.3h0M77.2 271.3h0M74.6 264.7h0M74.7 270.7h0M74.0 268.3h0M76.6 268.6h0M74.3 262.2h0M74.5 270.8h0M74.6 265.7h0M77.1 270.7h0M74.3 269.3h0M75.0 264.6h0M78.1 264.3h0M76.0 269.5h0M80.8 273.1h0M71.6 292.4h0M78.3 302.0h0M82.8 303.5h0M80.4 293.9h0M71.9 297.6h0M73.4 301.8h0M78.7 309.6h0M76.4 306.5h0" stroke="#2f9a5e"/>
<path d="M29.4 250.4h0M35.9 238.6h0M50.2 246.9h0M43.3 238.7h0M36.9 258.7h0M54.3 244.5h0M44.6 248.7h0M45.5 274.4h0M48.3 278.9h0M49.2 250.9h0M47.1 247.3h0M43.4 278.8h0M45.1 277.3h0M51.6 275.8h0M38.0 233.5h0M45.8 245.0h0M38.1 278.0h0M36.0 253.8h0M53.0 247.0h0M33.1 236.3h0M36.8 263.9h0M34.3 264.4h0M55.6 246.5h0M55.5 243.2h0M40.0 270.7h0M60.2 267.8h0M61.1 282.6h0M40.6 266.9h0M38.5 274.2h0M57.6 247.0h0M35.4 258.4h0M38.6 235.1h0M42.1 250.1h0M40.2 243.4h0M39.3 277.7h0M53.9 286.3h0M35.6 238.1h0M36.6 271.7h0M36.0 251.7h0M36.1 274.5h0M36.1 261.2h0M35.1 255.4h0M40.3 257.8h0M33.8 249.0h0M38.8 269.4h0M42.8 241.2h0M36.1 257.2h0M65.6 285.0h0M66.4 256.8h0M43.7 259.0h0M43.5 282.9h0M55.1 246.3h0M57.9 279.7h0M31.0 261.0h0M40.5 261.8h0M35.4 284.2h0M40.0 287.0h0M34.9 237.2h0M45.2 243.3h0M37.5 238.3h0M47.4 251.1h0M30.6 258.0h0M30.5 250.4h0M56.3 288.2h0M62.5 287.2h0M34.9 268.9h0M50.9 283.0h0M51.8 249.3h0M50.0 269.6h0M41.8 263.7h0M31.7 242.2h0M41.9 260.4h0M52.2 249.0h0M45.1 272.7h0M35.2 234.4h0M41.1 284.5h0M48.9 251.2h0M36.3 277.0h0M58.5 271.8h0M43.0 263.1h0M30.8 253.3h0M65.5 281.6h0M34.0 279.7h0M27.6 256.8h0M40.0 276.5h0M45.8 252.4h0M56.5 281.8h0M48.7 239.0h0M33.7 263.7h0M36.5 245.4h0M40.3 277.7h0M51.3 283.7h0M42.1 278.9h0M56.3 287.7h0M54.4 279.9h0M56.9 282.5h0M42.8 287.0h0M54.3 284.8h0M56.0 245.8h0M51.5 249.9h0M32.4 253.4h0M44.0 272.6h0M46.0 244.4h0M29.0 264.4h0M45.9 262.6h0M30.5 245.6h0M47.5 253.9h0M37.7 271.6h0M40.2 282.0h0M39.4 274.9h0M44.3 272.3h0M56.6 283.0h0M40.9 275.5h0M56.6 277.2h0M51.1 264.3h0M40.7 248.2h0M28.8 260.3h0M33.8 259.4h0M34.7 268.0h0M57.4 278.1h0M54.3 260.1h0M54.6 280.3h0M38.8 256.9h0M34.4 243.9h0M35.6 248.1h0M34.4 251.3h0M39.1 235.4h0M55.4 245.4h0M41.3 246.9h0M40.0 275.3h0M29.3 251.9h0M30.6 252.9h0M53.0 285.8h0M39.0 285.9h0M58.0 271.2h0M41.2 237.6h0M51.7 262.3h0M47.2 249.7h0M34.9 240.3h0M38.4 260.4h0M46.4 283.4h0M33.9 246.6h0M38.5 247.6h0M38.9 248.5h0M63.1 274.6h0M40.0 268.4h0M44.6 280.1h0M26.3 263.2h0M36.3 284.5h0M31.1 251.0h0M41.0 256.8h0M30.9 242.9h0M36.8 279.0h0M32.0 243.0h0M40.6 269.6h0M45.2 276.0h0M32.8 260.2h0M44.0 250.1h0M44.4 244.9h0M57.6 283.4h0M61.2 284.6h0M31.9 246.6h0M37.5 279.6h0M38.0 282.2h0M40.7 243.2h0M30.5 247.6h0M26.4 257.5h0M29.0 262.3h0M35.3 260.4h0M33.5 282.4h0M32.6 261.8h0M34.7 244.5h0M51.4 274.7h0M30.2 261.7h0M34.2 253.2h0M32.2 260.9h0M37.0 278.5h0M51.5 284.0h0M35.3 269.7h0M66.5 282.7h0M34.8 245.8h0M45.3 278.2h0M36.3 281.1h0M40.3 288.7h0M31.5 255.3h0M46.7 271.9h0M38.0 238.7h0M39.6 274.8h0M34.1 242.6h0M58.2 281.4h0M34.1 265.3h0M64.8 286.2h0M56.3 253.1h0M37.4 234.2h0M34.2 246.3h0M46.1 246.8h0M57.3 279.9h0M44.6 281.7h0M31.6 266.7h0M31.3 267.1h0M41.9 247.5h0M58.6 269.8h0M33.6 244.8h0M35.9 241.4h0M35.2 283.4h0M40.8 248.2h0M29.8 249.5h0M26.0 255.8h0M37.3 239.7h0M39.1 274.0h0M59.8 276.3h0M27.6 254.5h0M39.9 261.5h0M30.3 262.6h0M51.6 252.4h0M37.9 261.6h0M35.7 271.1h0M50.6 241.8h0M39.4 271.5h0M37.9 283.6h0M54.4 279.2h0M28.7 258.5h0M38.0 270.0h0M38.0 241.3h0M39.5 280.8h0M40.6 262.1h0M28.6 258.4h0M44.3 283.1h0M55.1 245.0h0M48.0 273.4h0M45.2 282.2h0M35.5 238.9h0M62.7 272.9h0M35.3 270.7h0M31.9 250.5h0M38.5 247.0h0M28.5 259.0h0M54.0 268.0h0M51.5 283.5h0M40.2 263.6h0M51.3 248.0h0M46.4 284.5h0M36.1 243.2h0M40.6 253.1h0M45.2 290.2h0M42.4 253.0h0M31.5 244.1h0M43.3 248.2h0M40.8 238.7h0M41.8 245.1h0M30.1 246.1h0M37.5 251.6h0M37.6 264.5h0M29.4 265.9h0M50.5 263.0h0M52.6 262.0h0M35.4 263.3h0M30.5 247.9h0M33.9 267.9h0M38.5 256.5h0M36.0 276.4h0M52.5 283.0h0M42.1 237.6h0M43.3 274.7h0M34.2 279.4h0M43.8 245.3h0M37.0 265.6h0M35.7 237.1h0M40.6 282.2h0M39.0 248.2h0M57.7 285.0h0M57.7 256.5h0M29.9 264.4h0M45.5 283.6h0M54.4 280.0h0M48.0 288.1h0M27.0 263.9h0M38.4 234.7h0M53.9 246.0h0M52.3 246.5h0M38.3 239.5h0M35.0 271.1h0M35.1 278.4h0M37.9 285.5h0M42.7 251.0h0M46.5 238.8h0M38.4 234.8h0M32.6 252.3h0M65.9 282.1h0M56.2 245.8h0M35.0 251.1h0M50.7 252.0h0M50.6 288.7h0M28.9 258.5h0M34.6 240.1h0M50.8 284.3h0M27.3 266.1h0M37.3 279.2h0M54.0 244.9h0M40.1 273.1h0M50.0 254.6h0M39.0 241.7h0M35.9 243.7h0M39.7 235.7h0M45.0 241.1h0M34.3 265.6h0M26.8 262.0h0M30.8 254.8h0M34.4 273.9h0M54.0 259.0h0M35.2 242.8h0M38.4 245.9h0M41.2 242.5h0M36.8 242.5h0M35.3 239.2h0M33.7 259.2h0M41.3 255.4h0M47.5 247.5h0M33.6 261.0h0M62.3 269.1h0M39.0 237.5h0M32.0 261.0h0M62.0 279.0h0M47.2 289.7h0M48.1 248.2h0M38.1 277.5h0M42.1 282.4h0M27.3 260.4h0M37.2 245.6h0M51.1 247.7h0M55.9 246.7h0M43.0 273.8h0M55.0 276.0h0M40.7 249.4h0M57.3 249.1h0M37.4 245.1h0M38.9 258.0h0M35.2 252.0h0M40.7 243.9h0M26.7 260.2h0M42.6 242.5h0M58.1 287.1h0M36.6 255.3h0M35.0 261.3h0M48.3 251.6h0M33.5 259.9h0M45.0 282.8h0M28.3 258.8h0M26.8 254.7h0M40.4 286.3h0M35.3 235.8h0M41.2 243.3h0M33.2 236.3h0M36.2 255.5h0M32.4 247.0h0M32.5 245.0h0M36.4 240.5h0M39.7 277.1h0M40.0 247.3h0M32.5 242.9h0M42.7 242.7h0M38.8 240.0h0M41.0 255.2h0M31.4 253.6h0M30.9 255.6h0M37.7 238.4h0M33.9 277.0h0M35.9 265.2h0M59.7 267.3h0M30.8 251.7h0M30.1 249.8h0M57.4 258.3h0M38.5 233.0h0M39.2 242.2h0M46.0 275.8h0M47.5 283.9h0M45.6 240.2h0M50.7 268.8h0M39.7 261.5h0M55.8 250.6h0M42.9 241.7h0M62.0 272.2h0M56.6 252.0h0M58.7 273.0h0M31.1 251.9h0M31.2 258.5h0M29.9 261.2h0M43.0 242.7h0M49.5 247.0h0M34.5 253.5h0M26.5 252.4h0M33.6 261.8h0M45.1 238.0h0M40.4 246.0h0M35.8 241.6h0M52.5 280.9h0M31.7 238.7h0M39.5 281.9h0M33.9 280.4h0M46.5 238.5h0M51.8 277.5h0M56.7 279.9h0M56.5 272.6h0M62.5 262.7h0M44.9 247.1h0M56.8 280.2h0M35.6 281.9h0M56.1 277.1h0M32.3 262.1h0M33.7 243.8h0M34.5 252.8h0M33.8 276.5h0M38.0 242.1h0M51.5 267.3h0M37.9 273.1h0M37.0 260.5h0M32.9 258.6h0M39.1 258.3h0M46.6 239.7h0M44.2 287.1h0M44.2 277.0h0M30.5 264.7h0M34.8 279.4h0M53.3 254.8h0M41.7 246.6h0M58.7 259.7h0M32.9 259.5h0M65.9 283.2h0M32.0 238.3h0M38.3 280.2h0M53.4 272.6h0M33.8 235.4h0M36.5 239.3h0M41.6 281.7h0M59.9 280.1h0M35.7 239.2h0M42.7 241.3h0M35.8 277.7h0M50.8 273.9h0M40.9 247.6h0M33.3 247.8h0M27.9 254.5h0M56.2 283.3h0M41.8 247.3h0M63.6 258.7h0M31.8 264.6h0M37.2 252.5h0M43.8 287.8h0M33.3 281.1h0M45.1 287.5h0M55.1 278.2h0M63.1 273.8h0M36.0 260.7h0M39.1 250.3h0M33.5 254.8h0M38.9 284.2h0M50.8 245.1h0M39.7 269.1h0M40.1 244.2h0M36.7 280.2h0M36.2 250.7h0M31.0 245.1h0M37.7 248.3h0M34.8 240.3h0M39.3 282.2h0M60.4 260.2h0M49.0 257.0h0M38.0 243.6h0M40.0 243.7h0M34.0 278.6h0M40.3 238.0h0M52.8 249.2h0M63.8 280.8h0M57.6 248.6h0M57.1 255.0h0M38.1 243.5h0M30.7 242.4h0M34.7 253.0h0M36.6 246.8h0M45.1 252.4h0M33.4 247.0h0M33.7 263.2h0M61.7 281.3h0M47.8 242.6h0M41.6 242.2h0M32.5 260.7h0M54.0 242.9h0M51.6 246.1h0M52.4 276.9h0M58.9 279.6h0M54.1 280.9h0M61.7 283.0h0M47.5 253.9h0M54.1 282.9h0M61.0 280.8h0M40.0 281.5h0M61.3 270.0h0M39.6 240.8h0M51.6 245.9h0M52.7 284.8h0M38.3 257.4h0M37.0 240.9h0M52.7 289.4h0M38.5 247.8h0M51.1 285.6h0M53.2 280.2h0M32.1 264.2h0M50.8 280.9h0M39.8 245.8h0M33.1 241.4h0M39.7 281.7h0M53.5 287.7h0M39.9 245.7h0M42.1 281.1h0M51.8 247.9h0M57.3 281.3h0M52.1 280.0h0M41.4 280.1h0M28.0 256.2h0M55.5 271.0h0M42.1 273.8h0M61.6 272.6h0M61.6 280.0h0M40.9 243.2h0M35.6 251.3h0M33.4 277.0h0M57.7 264.7h0M32.0 249.1h0M42.6 243.9h0M35.2 242.6h0M55.5 276.6h0M40.6 243.3h0M43.4 280.3h0M55.4 248.0h0M40.4 264.2h0M35.6 243.4h0M43.0 278.8h0M32.8 266.1h0M33.7 249.9h0M34.3 243.7h0M38.0 259.9h0M43.8 268.5h0M31.5 248.8h0M62.8 285.8h0M46.1 277.1h0M40.9 238.6h0M35.7 257.0h0M33.4 257.1h0M53.1 248.9h0M51.1 246.1h0M48.6 245.1h0M42.8 247.0h0M55.1 251.2h0M42.5 246.2h0M43.7 281.4h0M38.5 242.9h0M50.7 273.4h0M43.4 247.1h0M42.8 246.4h0M38.5 240.7h0M56.5 277.2h0M46.0 235.7h0M62.5 286.4h0M47.7 242.8h0M53.4 250.8h0M42.2 248.2h0M55.1 253.1h0" stroke="#f38a22"/>
<path d="M45.9 275.3h0M51.4 253.6h0M40.9 254.2h0M37.7 261.4h0M29.2 261.1h0M50.7 277.9h0M57.4 286.6h0M34.5 254.7h0M33.7 257.1h0M33.3 251.6h0M39.9 245.1h0M47.2 290.3h0M39.6 280.7h0M92.1 234.6h0M83.5 252.2h0M98.1 246.4h0M99.9 243.3h0M100.1 255.0h0M96.5 245.0h0M93.3 235.4h0M103.2 265.1h0M97.2 262.1h0M98.8 254.4h0M102.7 244.8h0M97.1 247.7h0M103.6 254.0h0M103.6 262.4h0M112.5 262.4h0M113.5 262.5h0M108.8 245.1h0M105.5 238.9h0M96.4 253.3h0M96.8 247.4h0M98.1 249.6h0M96.7 241.7h0M99.6 252.0h0M88.4 239.4h0M98.2 239.5h0M98.2 248.1h0M85.9 254.5h0M87.0 260.8h0M83.9 242.4h0M91.7 255.4h0M106.7 259.1h0M84.5 258.9h0M109.6 263.0h0M102.8 252.0h0M104.7 240.0h0M104.4 237.1h0M91.3 245.3h0M99.1 242.2h0M95.2 249.2h0M114.2 260.4h0M104.2 261.9h0M88.1 235.4h0M101.5 260.4h0M103.0 251.8h0M98.3 248.4h0M92.1 235.9h0M111.2 256.1h0M87.2 256.8h0M91.9 257.4h0M94.1 252.9h0M108.8 237.9h0M94.7 232.2h0M94.8 263.1h0M88.6 249.4h0M104.5 259.1h0M111.0 261.8h0M100.3 250.4h0M109.6 243.9h0M101.0 235.2h0M100.2 249.7h0M93.7 242.2h0M85.3 243.1h0M91.2 252.1h0M104.7 263.5h0M100.1 241.4h0M101.9 235.8h0M77.7 239.9h0M81.2 234.5h0M84.9 239.3h0M89.6 238.7h0M104.1 246.2h0M102.4 247.9h0M98.6 251.8h0M87.8 263.5h0M106.0 246.2h0M92.7 240.9h0M86.0 254.5h0M82.5 242.4h0M93.3 240.5h0M101.4 245.9h0M88.8 254.7h0M101.8 243.2h0M103.2 238.5h0M91.7 261.1h0M98.3 242.4h0M80.6 243.2h0M103.9 254.3h0M91.8 235.1h0M103.5 245.8h0M88.9 231.7h0M91.7 228.7h0M96.0 242.6h0M95.4 249.8h0M99.1 239.2h0M108.2 258.8h0M84.3 250.3h0M90.1 254.0h0M111.0 262.6h0M103.7 257.9h0M94.4 261.6h0M88.7 260.0h0M107.9 251.5h0M97.2 246.6h0M106.2 264.7h0M103.2 240.1h0M83.7 231.9h0M104.8 245.5h0M93.2 261.8h0M107.4 246.9h0M97.7 243.8h0M92.1 266.0h0M101.3 245.6h0M91.0 231.4h0M100.4 239.8h0M104.9 245.5h0M92.1 259.5h0M97.3 239.6h0M97.9 246.1h0M86.4 242.4h0M103.8 236.9h0M91.4 229.4h0M92.4 230.4h0M89.2 256.0h0M81.6 249.2h0M88.4 231.3h0M91.5 256.9h0M93.6 254.3h0M95.8 247.0h0M94.6 264.7h0M95.4 241.3h0M110.0 256.1h0M104.1 253.5h0M99.8 246.7h0M100.0 260.1h0M92.1 252.1h0M80.0 239.5h0M108.4 266.6h0M102.5 257.9h0M102.1 243.8h0M83.6 258.9h0M98.9 252.0h0M103.4 255.8h0M101.7 262.6h0M98.3 239.4h0M101.6 247.0h0M99.1 240.8h0M100.5 251.4h0M111.1 256.5h0M108.7 255.5h0M91.7 236.8h0M92.4 230.6h0M112.7 257.9h0M88.7 231.6h0M92.4 231.5h0M113.3 260.2h0M99.3 237.5h0M78.0 241.6h0M94.7 264.4h0M101.8 240.9h0M91.8 255.0h0M92.2 252.9h0M99.5 242.2h0M101.1 248.2h0M92.3 255.9h0M100.7 252.6h0M96.7 255.2h0M95.6 240.5h0M99.3 255.5h0M103.8 242.1h0M91.8 233.8h0M88.4 266.0h0M93.3 242.2h0M94.0 262.0h0M91.9 243.9h0M91.2 233.8h0M96.6 239.3h0M93.9 257.6h0M97.7 235.2h0M95.8 248.6h0M95.9 255.3h0M109.5 262.1h0M102.3 257.7h0M83.3 231.8h0M97.4 248.1h0M93.2 255.5h0M83.4 257.6h0M108.7 260.9h0M94.1 241.7h0M105.0 257.2h0M93.4 239.0h0M94.2 229.2h0M99.0 237.1h0M91.3 232.0h0M109.9 263.8h0M80.7 238.5h0M89.1 258.5h0M99.2 244.4h0M105.0 260.3h0M84.7 233.0h0M103.6 252.6h0M98.3 239.2h0M94.6 229.0h0M98.5 250.5h0M111.7 242.4h0M86.2 255.1h0M86.0 254.3h0M88.4 230.6h0M94.2 263.5h0M113.2 259.5h0M87.8 267.1h0M97.2 248.6h0M87.5 258.2h0M97.8 237.3h0M100.3 234.9h0M92.6 253.4h0M91.9 246.4h0M95.0 241.6h0M109.7 266.3h0M94.5 260.3h0M104.2 239.3h0M108.8 260.0h0M110.1 259.2h0M83.8 243.6h0M104.5 242.7h0M95.1 261.6h0M93.7 236.7h0M84.1 246.3h0M84.5 231.5h0M107.1 253.6h0M100.3 236.1h0M91.2 238.7h0M96.2 261.6h0M113.4 263.1h0M99.6 239.5h0M99.4 234.3h0M90.2 255.9h0M88.8 263.3h0M89.7 266.0h0M87.7 255.7h0M92.2 253.1h0M93.8 243.2h0M87.6 245.7h0M100.5 260.2h0M101.2 243.5h0M95.7 252.4h0M79.7 244.6h0M94.3 238.0h0M114.1 259.8h0M107.8 250.9h0M89.2 260.2h0M79.0 241.1h0M102.9 251.4h0M90.7 247.3h0M87.6 252.6h0M89.7 228.6h0M92.9 245.6h0M86.9 235.8h0M96.6 245.2h0M100.0 264.4h0M108.3 256.3h0M101.7 244.0h0M89.5 253.7h0M94.4 241.9h0M94.6 256.9h0M85.6 232.3h0M96.8 246.9h0M109.2 258.4h0M94.8 248.1h0M86.8 241.5h0M106.5 294.8h0M114.1 283.8h0M113.9 279.5h0M103.1 286.8h0M110.6 283.7h0M114.2 276.5h0M113.9 273.1h0M114.1 270.1h0M111.5 283.6h0M109.2 289.6h0M114.3 271.7h0M112.3 275.4h0M99.7 289.0h0M107.1 281.8h0M108.3 270.7h0M106.8 277.6h0M109.4 272.0h0M77.0 269.5h0M78.9 266.8h0M74.3 264.8h0M78.9 269.0h0M75.8 268.0h0M75.6 264.9h0M76.1 269.3h0M82.4 269.3h0M86.9 278.3h0M87.3 265.7h0M81.9 267.4h0M75.0 290.7h0M78.1 295.0h0M78.4 298.6h0M78.2 306.2h0M73.1 303.2h0M86.3 298.8h0M71.7 300.5h0M77.9 293.9h0M75.6 304.8h0M75.2 305.6h0M80.5 294.3h0M85.6 296.2h0M83.2 305.1h0M79.0 294.2h0M85.2 284.7h0M75.1 305.8h0M72.5 304.2h0M75.2 297.5h0M78.0 299.9h0M85.4 282.3h0M76.9 305.3h0M77.0 304.2h0M73.6 296.2h0M78.2 298.6h0M80.5 298.0h0M77.8 295.0h0M67.5 297.0h0M72.0 302.9h0M79.0 299.0h0M82.1 303.1h0M86.7 299.9h0M78.6 305.1h0M77.9 296.4h0M80.0 298.0h0M77.5 297.7h0M78.7 307.9h0M77.4 295.3h0M76.5 306.6h0M77.9 305.1h0M74.6 297.2h0M81.9 289.8h0M80.3 288.4h0M74.6 301.2h0M77.2 301.5h0M76.6 302.1h0M73.8 299.8h0M71.4 300.7h0M83.2 301.3h0M78.7 295.6h0M77.4 308.6h0M72.0 303.0h0M70.4 297.7h0M74.4 299.0h0M74.5 295.4h0M77.8 304.3h0M81.7 299.3h0M77.4 299.1h0M74.5 304.3h0M80.6 301.6h0M81.7 290.2h0M88.2 294.3h0M71.7 299.1h0M74.0 294.3h0M74.1 300.9h0M78.0 294.4h0M81.4 304.4h0M72.3 293.9h0M77.2 298.5h0M73.5 295.8h0M72.4 302.9h0M70.5 292.8h0M87.8 292.9h0M75.7 300.3h0M78.3 296.7h0M79.4 294.1h0M75.6 302.2h0M78.2 303.8h0M76.8 298.2h0M75.4 299.3h0M74.3 301.3h0M70.9 302.7h0M74.3 298.5h0" stroke="#dc2a2a"/>
<path d="M104.4 254.5h0M78.3 242.4h0M98.9 264.9h0M112.5 258.2h0M88.3 249.1h0M80.9 240.7h0M101.2 235.2h0M84.9 240.4h0M85.5 236.7h0M88.9 256.9h0M85.8 233.0h0M109.4 260.1h0M105.9 258.5h0M88.1 234.0h0M98.2 247.9h0M86.1 238.9h0M81.8 242.3h0M83.2 249.0h0M88.7 260.5h0M88.8 253.8h0M95.5 256.9h0M103.5 244.1h0M85.7 246.2h0M88.0 235.1h0M106.4 260.6h0M106.2 261.4h0M91.8 259.8h0M84.7 238.9h0M106.0 262.0h0M90.5 235.6h0M93.8 231.5h0M89.5 273.7h0M87.0 267.7h0M79.5 272.9h0M88.1 273.2h0M82.9 277.9h0M87.2 280.0h0M83.8 277.8h0M86.1 276.9h0M83.6 297.2h0M82.6 301.9h0M86.4 291.1h0M85.4 298.0h0M75.3 301.5h0M81.6 301.9h0M81.8 298.4h0M82.5 291.6h0M81.1 298.2h0M86.5 296.9h0M87.5 296.2h0M86.1 290.6h0M84.3 296.7h0M73.7 297.5h0M82.4 293.1h0M87.1 286.5h0M81.2 295.8h0M83.6 290.6h0M88.7 296.8h0M85.9 295.7h0M73.9 299.0h0M79.9 302.6h0M83.8 299.8h0M84.5 292.8h0M86.3 293.4h0M83.9 296.4h0M87.1 290.8h0M83.1 296.9h0M83.9 294.9h0M81.1 289.6h0M82.0 297.9h0M86.9 294.6h0M82.9 293.5h0M84.9 293.3h0" stroke="#3a78b8"/>
<path d="M79.9 244.9h0M86.6 230.4h0M102.4 265.3h0M103.6 254.5h0M112.6 262.4h0M79.7 235.6h0M106.5 265.7h0M83.7 237.6h0M79.6 241.9h0M87.0 236.1h0M87.4 233.9h0M85.7 250.9h0M86.6 245.8h0M100.2 248.0h0M81.1 238.3h0M82.1 239.2h0M89.1 261.4h0M96.4 258.1h0M102.4 247.4h0M87.8 260.3h0M80.7 245.2h0M91.2 247.6h0M101.7 250.1h0M108.6 254.5h0M94.2 244.3h0M86.4 247.0h0M84.4 261.1h0M99.6 266.9h0M84.1 246.9h0M79.5 237.8h0M83.9 235.3h0M115.0 273.6h0M105.2 280.1h0M104.1 275.6h0M102.9 280.7h0M101.5 292.2h0M113.7 280.3h0M109.8 281.3h0M109.6 280.0h0M102.2 278.7h0M116.6 275.4h0M112.7 273.3h0M109.4 270.7h0M110.3 278.2h0M105.8 275.9h0M108.2 282.3h0M109.4 271.2h0M104.7 285.7h0M111.2 274.2h0M111.5 284.9h0M102.7 290.6h0M112.4 271.7h0M105.0 270.3h0M108.4 281.4h0M106.0 280.0h0M106.9 273.3h0M104.4 284.1h0M104.3 285.7h0M106.9 271.1h0M99.6 291.5h0M109.3 273.0h0M104.8 293.4h0M111.2 271.3h0M113.9 277.7h0M109.0 282.6h0M103.0 288.0h0M109.0 281.0h0M105.3 287.5h0M107.2 277.1h0M107.5 285.4h0M100.4 292.0h0M109.2 274.0h0M105.7 269.7h0M111.1 285.2h0M113.3 272.6h0M106.7 280.0h0M100.0 286.7h0M101.5 292.5h0M111.3 270.0h0M109.4 291.0h0M111.0 280.3h0M111.4 287.7h0M109.6 272.4h0M106.5 288.6h0M112.7 275.3h0M99.6 283.2h0M115.9 282.9h0M110.3 275.5h0M115.3 283.4h0M109.0 290.5h0M106.6 285.9h0M101.0 291.9h0M106.2 276.3h0M103.6 293.7h0M106.4 274.3h0M108.4 274.2h0M103.4 284.2h0M108.4 290.2h0M115.4 278.0h0M111.0 284.4h0M104.1 286.7h0M109.4 284.2h0M114.1 282.2h0M106.3 270.2h0M107.7 278.0h0M108.3 290.4h0M114.5 273.3h0M104.8 280.2h0M112.4 283.1h0M104.7 284.7h0M104.9 277.3h0M104.8 281.5h0M111.9 272.8h0M111.7 291.0h0M101.3 277.8h0M103.2 276.6h0M113.3 281.1h0M106.2 270.7h0M102.4 274.9h0M106.1 277.8h0M115.4 273.1h0M106.3 284.1h0M99.5 290.2h0M102.8 289.7h0M112.3 285.7h0M105.4 281.7h0M107.2 288.1h0M112.5 283.2h0M111.2 291.2h0M105.8 284.8h0M106.9 275.6h0M99.9 287.1h0M106.8 284.6h0M99.4 284.0h0M108.2 282.7h0M104.3 289.2h0M113.1 277.2h0M103.6 275.2h0M111.2 274.2h0M103.8 285.9h0M102.4 274.2h0M101.1 289.8h0M78.5 268.0h0M77.9 268.7h0M74.7 266.1h0M74.8 264.8h0M75.3 263.4h0M72.3 268.6h0M74.3 265.0h0M74.5 268.1h0M75.5 264.3h0M73.8 266.9h0M74.6 263.7h0M72.7 269.8h0M74.1 269.7h0M87.7 267.2h0M74.7 300.7h0M74.2 291.4h0M71.1 293.5h0M73.2 296.5h0M75.7 300.9h0M73.4 299.4h0M68.1 296.0h0" stroke="#2f9a5e"/>
<path d="M35.7 234.4h0M33.0 265.3h0M49.9 283.3h0M35.6 273.8h0M41.1 266.1h0M39.3 271.6h0M44.7 237.0h0M59.1 285.6h0M28.9 258.4h0M28.2 264.1h0M47.9 242.0h0M30.3 262.2h0M44.7 275.8h0M41.4 238.4h0M27.6 263.5h0M51.9 277.6h0M37.5 241.0h0M42.2 255.3h0M43.4 257.2h0M30.0 243.5h0M61.4 280.7h0M38.6 237.1h0M51.6 249.6h0M35.1 241.8h0M40.4 261.9h0M37.7 285.1h0M47.8 246.6h0M45.5 244.7h0M50.5 246.0h0M45.1 276.5h0M46.2 245.6h0M47.8 248.1h0M57.9 275.5h0M34.1 245.2h0M42.2 246.6h0M35.4 269.6h0M48.9 273.6h0M31.2 262.3h0M44.6 277.8h0M35.3 243.5h0M31.5 269.2h0M52.5 253.3h0M34.8 256.5h0M41.0 238.5h0M55.0 243.2h0M40.2 273.8h0M29.2 253.9h0M48.2 263.8h0M32.1 263.7h0M28.1 263.5h0M38.9 280.5h0M49.9 247.7h0M34.7 244.3h0M40.8 278.6h0M43.2 261.0h0M39.6 246.6h0M44.7 254.4h0M39.5 265.9h0M51.9 251.2h0M47.3 254.8h0M37.3 263.2h0M43.8 238.9h0M38.3 277.8h0M37.7 279.7h0M59.2 275.8h0M39.9 258.4h0M37.7 265.5h0M64.4 281.5h0M53.3 245.2h0M39.5 241.3h0M37.6 243.8h0M33.6 252.3h0M33.5 282.3h0M51.6 242.1h0M25.9 260.5h0M54.1 245.2h0M45.1 239.6h0M40.4 260.3h0M38.6 258.3h0M36.4 272.1h0M56.0 278.0h0M41.1 250.8h0M62.2 262.4h0M49.4 249.7h0M32.4 265.6h0M30.1 252.2h0M47.1 248.5h0M35.8 245.9h0M38.3 285.0h0M36.2 280.8h0M38.0 246.3h0M56.3 247.0h0M54.9 245.7h0M31.2 240.5h0M34.6 252.8h0M49.6 256.5h0M59.7 283.5h0M50.2 247.7h0M43.9 282.1h0M48.8 277.5h0M30.3 264.2h0M36.7 283.5h0M37.1 267.0h0M61.1 278.6h0M36.2 256.2h0M42.9 281.8h0M45.7 288.2h0M33.1 249.7h0M32.0 255.2h0M38.4 243.3h0M47.6 249.6h0M33.0 244.2h0M43.0 282.5h0M56.2 277.0h0M47.7 250.5h0M33.0 238.2h0M49.5 242.7h0M44.5 242.8h0M35.6 237.6h0M40.4 242.8h0M51.5 276.6h0M48.2 280.0h0M35.0 273.5h0M44.0 280.2h0M54.6 284.5h0M30.2 258.3h0M29.4 257.6h0M44.1 280.1h0M43.7 241.9h0M51.4 259.8h0M45.3 279.3h0M55.2 283.5h0M56.9 280.5h0M50.6 256.8h0M60.6 272.4h0M32.5 243.1h0M33.8 254.8h0M32.5 250.1h0M44.7 272.4h0M38.3 257.0h0M55.0 281.6h0M36.5 249.9h0M37.5 285.5h0M36.6 254.7h0M35.9 275.4h0M37.8 255.0h0M45.6 276.4h0M52.0 245.8h0M44.0 235.4h0M61.3 282.2h0M35.3 258.9h0M45.8 278.5h0M54.5 274.6h0M53.2 249.7h0M60.9 270.0h0M53.2 247.2h0M29.2 263.2h0M40.4 246.1h0M40.8 253.0h0M40.7 273.4h0M41.1 284.0h0M48.6 247.7h0M46.3 248.2h0M57.1 286.8h0M31.7 246.6h0M33.8 251.5h0M67.1 280.2h0M40.7 261.0h0M39.5 242.8h0M47.9 246.5h0M37.6 254.7h0M38.5 238.9h0M34.2 275.5h0M48.3 255.8h0M38.3 239.3h0M36.1 264.4h0M32.0 264.5h0M37.0 233.6h0M41.7 259.8h0M33.2 254.6h0M36.1 274.7h0M54.2 284.7h0M27.5 264.1h0M50.6 273.0h0M39.2 240.2h0M31.5 245.1h0M37.3 238.2h0M55.4 287.0h0M36.6 241.8h0M50.9 248.5h0M39.2 284.6h0M48.1 243.7h0M47.4 244.7h0M42.0 244.8h0M33.7 257.9h0M49.7 277.6h0M31.7 243.7h0M34.6 252.4h0M27.0 261.0h0M48.2 245.9h0M38.6 239.1h0M35.5 247.8h0M37.8 282.2h0M36.8 244.6h0M43.3 279.7h0M46.9 270.6h0M31.1 262.4h0M41.8 257.7h0M28.1 261.6h0M36.0 275.9h0M36.9 255.9h0M38.0 241.3h0M46.3 262.9h0M64.9 283.9h0M46.3 265.7h0M38.2 237.4h0M38.5 279.2h0M31.5 249.1h0M54.5 282.0h0M40.6 263.9h0M59.7 274.3h0M34.4 235.3h0M41.1 239.3h0M41.3 258.0h0M31.7 264.9h0M60.3 267.5h0M46.1 245.5h0M36.2 276.1h0M33.1 236.0h0M39.5 288.0h0M41.1 234.0h0M31.2 259.5h0M40.6 238.9h0M34.0 254.5h0M58.1 283.3h0M36.8 285.6h0M38.8 239.0h0M53.4 248.5h0M55.4 249.6h0M38.8 243.0h0M51.1 282.3h0M44.4 257.6h0M52.3 276.4h0M44.8 281.9h0M49.9 285.9h0M41.2 273.8h0M31.4 261.8h0M35.8 245.1h0M31.2 258.3h0M47.8 290.0h0M30.3 264.5h0M27.5 259.1h0M28.6 252.8h0M44.5 250.7h0M32.4 242.3h0M54.0 265.9h0M42.2 242.0h0M41.8 234.7h0M33.1 252.6h0M30.2 257.3h0M59.5 277.6h0M36.8 278.2h0M42.2 283.6h0M58.9 281.9h0M26.7 262.9h0M42.0 260.9h0M54.8 282.8h0M32.2 247.9h0M31.3 261.1h0M59.6 277.9h0M65.5 278.0h0M37.3 255.1h0M42.9 251.2h0M31.6 256.2h0M36.6 255.4h0M43.9 237.8h0M62.5 276.3h0M34.0 259.9h0M38.7 249.7h0M38.1 238.0h0M47.7 285.8h0M54.4 242.5h0M32.1 244.1h0M33.4 261.1h0M35.6 260.4h0M37.5 242.1h0M36.3 273.6h0M58.1 283.6h0M53.0 241.1h0M36.2 269.1h0M55.7 260.9h0M53.8 279.0h0M38.1 277.9h0M28.8 260.2h0M37.9 262.0h0M67.0 284.6h0M31.3 256.6h0M39.9 280.7h0M32.9 259.0h0M50.1 273.5h0M33.6 267.3h0M32.0 238.2h0M35.8 268.2h0M50.4 242.2h0M34.4 263.3h0M50.0 246.4h0M38.1 277.4h0M35.9 259.6h0M32.4 255.8h0M43.6 244.9h0M42.0 259.5h0M47.4 276.3h0M53.8 241.9h0M53.9 287.4h0M51.3 279.5h0M37.4 237.2h0M35.6 268.8h0M57.7 278.8h0M47.9 249.9h0M42.1 277.6h0M52.9 275.0h0M35.0 249.7h0M33.8 262.1h0M54.7 242.7h0M39.8 276.0h0M37.6 283.4h0M56.7 273.8h0M33.7 259.4h0M48.1 246.0h0M34.0 238.7h0M49.6 272.3h0M51.5 283.8h0M38.7 272.5h0M42.2 270.2h0M36.3 253.2h0M45.9 276.0h0M51.5 282.4h0M41.1 240.0h0M32.1 262.6h0M39.9 239.9h0M45.6 250.9h0M42.1 280.6h0M28.6 253.8h0M40.3 236.0h0M40.6 278.0h0M46.1 268.1h0M43.3 240.9h0M36.2 285.6h0M56.2 286.0h0M50.0 247.6h0M33.7 265.6h0M40.0 256.6h0M50.9 290.1h0M44.7 260.5h0M40.7 245.5h0M43.5 283.8h0M43.5 250.2h0M34.1 268.7h0M52.2 245.6h0M36.2 237.8h0M45.1 282.1h0M34.2 260.6h0M46.0 289.3h0M45.8 235.4h0M61.1 265.8h0M48.3 257.1h0M62.3 278.6h0M53.8 283.2h0M57.7 257.1h0M53.2 264.9h0M34.7 247.7h0M53.5 288.0h0M33.0 243.5h0M33.7 270.2h0M37.6 240.4h0M37.6 242.8h0M48.6 283.8h0M40.6 239.0h0M40.1 287.3h0M36.3 243.1h0M40.6 266.2h0M36.6 260.4h0M39.4 255.9h0M35.8 240.8h0M29.1 266.1h0M32.3 252.3h0M35.8 240.7h0M45.6 287.7h0M44.6 269.5h0M57.8 273.5h0M62.6 275.1h0M33.7 252.2h0M38.7 282.2h0M33.5 263.0h0M34.0 251.5h0M56.3 259.8h0M55.2 243.9h0M45.4 245.0h0M42.9 244.0h0M32.5 261.0h0M43.0 246.8h0M36.7 249.0h0M53.3 245.8h0M31.8 257.3h0M38.9 234.2h0M63.4 276.1h0M30.3 260.2h0M44.9 248.2h0M32.3 251.9h0M47.8 279.1h0M36.6 264.5h0M36.3 262.7h0M45.3 246.1h0M48.7 253.4h0M36.4 281.2h0M37.6 281.9h0M45.0 265.4h0M33.9 262.2h0M44.6 244.4h0M61.9 273.3h0M49.9 247.8h0M45.2 235.8h0M45.1 241.9h0M49.5 273.5h0M34.9 243.7h0M47.8 275.9h0M30.7 265.6h0M34.1 258.7h0M45.8 286.9h0M56.7 278.4h0M58.6 286.9h0M41.6 281.1h0M34.7 282.3h0M39.2 248.7h0M49.3 276.0h0M44.4 239.5h0M40.7 237.8h0M32.1 243.5h0M57.7 262.2h0M35.8 259.5h0M38.2 279.4h0M28.0 261.3h0M42.8 242.7h0M47.0 236.5h0M54.2 287.7h0M37.9 250.8h0M30.0 261.7h0M44.4 284.6h0M34.6 281.3h0M36.8 251.1h0M38.0 278.7h0M35.7 282.5h0M43.4 288.5h0M35.2 279.6h0M38.3 273.0h0M57.4 283.9h0M42.5 238.7h0M47.5 286.8h0M25.9 256.1h0M43.8 277.3h0M36.1 235.6h0M48.4 247.8h0M39.6 245.7h0M52.2 242.0h0M42.9 252.2h0M40.9 275.2h0M48.7 279.3h0M42.1 245.7h0M59.5 281.0h0M38.3 261.0h0M51.9 244.1h0M40.3 281.8h0M39.3 288.2h0M41.7 282.5h0M37.3 253.6h0M59.2 266.0h0M38.9 266.3h0M36.8 247.0h0M30.7 252.1h0M41.7 270.5h0M37.0 236.7h0M46.1 286.1h0M40.5 278.5h0M53.2 272.6h0M34.2 241.3h0M30.5 258.3h0M28.3 263.9h0M44.3 247.2h0M38.3 240.8h0M32.2 243.1h0M46.7 273.4h0M31.5 255.5h0M41.7 285.5h0M58.9 271.3h0M44.1 247.0h0M33.2 269.3h0M45.3 234.9h0M41.7 272.7h0M60.2 283.6h0M48.3 251.8h0M49.4 249.9h0M44.2 241.8h0M37.5 243.2h0M41.2 281.2h0M45.8 252.2h0M51.6 280.3h0M47.1 254.2h0M35.2 259.7h0M36.0 264.6h0M45.2 278.9h0M32.0 261.2h0M32.5 255.6h0M57.6 281.8h0M61.9 286.7h0M42.6 255.6h0M32.2 247.4h0M33.0 265.7h0M57.4 275.7h0M33.3 261.6h0M39.8 280.5h0M59.9 285.5h0M31.8 242.1h0M63.2 282.2h0M29.7 251.4h0M39.7 254.6h0M36.4 281.0h0M55.4 241.9h0M30.7 260.9h0M44.2 278.5h0M40.1 243.3h0M33.5 277.7h0M32.4 238.8h0M33.4 240.4h0M39.6 246.6h0M51.4 246.9h0M55.0 282.5h0M41.1 280.2h0M34.8 253.4h0M49.7 275.7h0M39.6 255.5h0M53.2 281.6h0M46.3 246.3h0M38.4 257.9h0M33.7 261.5h0M44.4 262.4h0M41.0 241.2h0M46.9 267.6h0M34.3 258.3h0M48.9 243.3h0M53.9 286.3h0M44.0 266.7h0M49.9 241.1h0M41.8 289.0h0M60.1 278.9h0M29.1 257.2h0M41.6 260.8h0M58.4 279.8h0M34.9 260.8h0M50.1 253.2h0M65.2 277.1h0M44.4 281.7h0M31.4 259.6h0M44.5 236.0h0M30.0 259.4h0M53.4 281.9h0M31.8 256.6h0M55.8 251.8h0" stroke="#f38a22"/>
<path d="M42.9 254.0h0M35.0 277.7h0M26.9 257.3h0M53.3 248.7h0M63.5 280.5h0M47.5 246.3h0M42.2 240.3h0M54.8 254.4h0M47.1 244.3h0M27.1 265.9h0M43.0 282.3h0M49.5 285.5h0M33.0 256.7h0M98.7 264.0h0M91.5 255.3h0M95.0 253.5h0M100.6 239.4h0M109.4 256.6h0M95.2 268.5h0M89.9 255.9h0M87.9 235.1h0M99.1 244.9h0M98.2 237.6h0M110.0 264.3h0M99.7 234.7h0M98.7 244.1h0M85.9 235.6h0M105.4 240.4h0M81.7 240.5h0M97.9 242.5h0M94.9 258.0h0M101.9 243.5h0M106.8 247.7h0M79.4 239.6h0M94.0 249.8h0M104.8 253.0h0M105.3 257.3h0M102.7 236.4h0M80.3 246.4h0M88.3 236.5h0M89.6 229.3h0M111.9 265.8h0M84.4 236.9h0M86.2 265.1h0M92.1 240.4h0M104.2 264.2h0M82.7 236.1h0M95.7 247.1h0M97.7 245.0h0M107.6 267.7h0M103.5 239.3h0M109.2 255.0h0M111.3 239.3h0M97.6 245.5h0M95.4 254.3h0M101.1 249.2h0M99.4 251.7h0M93.9 230.3h0M105.3 250.1h0M98.9 246.8h0M109.9 257.3h0M105.3 246.6h0M86.7 257.0h0M86.5 259.3h0M92.3 252.7h0M106.4 254.3h0M97.1 242.1h0M103.8 255.1h0M85.2 231.4h0M93.6 253.2h0M113.0 260.0h0M102.0 266.2h0M94.6 233.5h0M101.0 252.1h0M86.2 256.1h0M91.1 232.0h0M85.5 259.1h0M89.7 261.5h0M99.7 247.9h0M102.4 238.5h0M104.8 265.7h0M109.1 265.0h0M95.1 254.9h0M107.2 263.6h0M104.2 239.7h0M107.4 258.4h0M94.0 261.1h0M88.3 231.1h0M91.0 254.5h0M94.4 251.5h0M94.0 238.6h0M91.3 246.2h0M99.6 267.7h0M90.4 227.9h0M101.4 252.9h0M106.7 259.1h0M96.0 236.9h0M94.2 248.5h0M79.9 237.3h0M106.1 244.1h0M88.9 236.2h0M111.4 260.6h0M87.5 232.1h0M103.9 250.8h0M78.0 241.8h0M93.5 260.2h0M103.5 238.2h0M107.6 265.0h0M84.6 253.4h0M96.5 246.9h0M110.3 259.2h0M107.8 257.7h0M87.8 234.3h0M90.4 228.5h0M96.3 244.7h0M109.0 267.1h0M88.5 264.6h0M104.6 244.9h0M100.7 243.9h0M84.3 234.4h0M91.4 248.5h0M91.4 266.4h0M96.0 232.3h0M100.1 246.7h0M103.0 249.5h0M88.2 231.9h0M92.3 228.5h0M102.2 238.5h0M96.7 232.0h0M97.1 246.6h0M104.7 239.7h0M101.4 244.8h0M99.3 246.8h0M108.3 263.2h0M108.1 256.4h0M93.2 243.9h0M81.6 242.6h0M99.0 245.6h0M99.8 236.6h0M111.8 258.1h0M91.0 229.1h0M97.2 245.3h0M91.9 256.7h0M103.6 253.4h0M106.3 261.8h0M92.0 266.3h0M91.2 230.2h0M105.6 260.1h0M99.8 252.2h0M104.6 257.0h0M110.2 259.3h0M102.8 253.3h0M91.2 247.6h0M99.4 247.2h0M105.7 260.0h0M102.9 239.7h0M109.4 264.0h0M77.7 240.2h0M95.7 246.5h0M108.8 253.4h0M102.6 255.4h0M88.2 251.2h0M98.2 249.0h0M89.0 253.0h0M98.2 261.3h0M87.7 258.5h0M83.9 263.1h0M95.3 243.3h0M103.5 245.1h0M86.5 265.8h0M102.3 237.3h0M102.4 268.9h0M92.7 239.2h0M98.5 234.4h0M105.5 242.5h0M99.5 240.4h0M96.2 247.4h0M96.4 249.8h0M97.3 254.2h0M100.6 252.3h0M105.0 258.2h0M107.5 263.7h0M102.8 252.4h0M84.7 242.3h0M96.1 232.1h0M110.1 260.5h0M107.3 259.3h0M110.1 254.6h0M92.1 236.0h0M99.7 251.1h0M90.0 231.8h0M97.0 255.0h0M97.8 242.5h0M90.4 232.3h0M112.2 262.6h0M97.4 253.3h0M91.8 243.0h0M80.1 240.8h0M99.2 256.8h0M83.7 259.1h0M90.0 257.7h0M92.2 232.6h0M104.6 236.2h0M106.7 244.5h0M98.3 234.1h0M87.9 232.4h0M93.5 267.2h0M95.3 245.3h0M90.3 265.6h0M89.8 262.4h0M91.3 230.5h0M93.4 245.5h0M97.2 267.1h0M100.6 251.0h0M91.3 250.5h0M98.9 254.1h0M98.0 233.9h0M99.5 240.1h0M101.6 260.2h0M112.5 260.8h0M111.7 264.9h0M104.6 237.6h0M84.1 240.7h0M106.3 260.8h0M109.7 262.2h0M91.7 244.8h0M99.1 236.3h0M80.9 240.6h0M106.1 263.1h0M98.5 266.7h0M93.7 248.6h0M100.8 254.4h0M103.6 236.4h0M98.8 252.8h0M99.6 249.9h0M89.9 251.5h0M84.0 245.9h0M101.7 257.4h0M80.0 242.1h0M95.0 264.2h0M105.3 259.5h0M106.2 237.2h0M103.9 240.2h0M104.4 251.2h0M95.1 250.6h0M93.2 229.7h0M98.3 250.6h0M106.9 261.9h0M97.5 265.8h0M113.1 258.3h0M92.4 268.7h0M94.3 241.9h0M102.0 242.7h0M114.3 262.3h0M88.4 234.1h0M98.9 248.6h0M105.0 247.2h0M98.2 267.2h0M99.2 266.3h0M106.1 259.1h0M83.6 242.7h0M105.9 268.9h0M94.1 235.1h0M91.5 236.1h0M113.8 263.9h0M92.1 249.1h0M103.2 258.0h0M113.7 258.8h0M92.7 242.3h0M100.5 250.5h0M91.4 258.4h0M110.0 261.3h0M92.4 265.5h0M89.6 236.4h0M94.3 249.8h0M97.3 235.1h0M105.6 244.3h0M107.9 262.8h0M90.3 262.7h0M91.6 233.2h0M94.3 244.7h0M91.6 255.5h0M104.7 272.4h0M106.9 290.3h0M109.7 284.6h0M107.0 275.4h0M106.5 277.3h0M105.8 289.2h0M114.7 286.2h0M112.2 287.3h0M105.7 285.8h0M113.9 272.4h0M108.9 289.6h0M101.9 293.0h0M102.1 293.2h0M112.1 286.6h0M109.3 281.4h0M104.2 294.6h0M74.9 263.5h0M78.0 267.8h0M75.2 268.4h0M74.0 263.4h0M76.3 268.1h0M73.8 269.1h0M74.6 264.1h0M75.6 266.7h0M86.4 278.8h0M89.8 270.4h0M82.9 270.2h0M90.1 273.1h0M71.6 299.8h0M77.3 297.9h0M75.8 301.2h0M72.6 295.6h0M78.0 305.8h0M80.8 299.4h0M79.8 303.0h0M75.1 300.4h0M77.4 303.3h0M74.2 294.8h0M85.9 299.0h0M81.5 303.8h0M76.3 290.8h0M80.2 301.9h0M82.2 303.1h0M74.0 301.7h0M81.1 302.5h0M82.3 294.8h0M73.7 303.2h0M78.7 298.5h0M77.8 296.1h0M88.0 283.9h0M70.7 295.9h0M79.6 299.6h0M70.9 294.1h0M72.0 304.6h0M78.4 303.3h0M70.2 298.4h0M78.0 299.4h0M79.9 294.9h0M71.7 292.3h0M82.7 306.2h0M74.5 292.7h0M72.2 294.8h0M82.9 302.2h0M74.6 297.2h0M77.9 302.7h0M76.7 301.2h0M73.2 298.7h0M80.6 290.2h0M82.4 302.3h0M73.6 302.5h0M73.0 298.1h0M74.8 306.6h0M78.7 302.6h0M73.4 297.2h0M77.1 295.1h0M76.7 302.3h0M87.2 283.0h0M82.0 291.4h0M79.1 307.3h0M76.3 295.6h0M75.4 302.0h0M79.7 299.6h0M75.8 302.6h0M79.9 305.2h0M74.3 303.2h0M69.0 294.2h0M75.5 303.2h0M76.8 298.6h0M76.2 294.6h0M72.3 301.2h0M71.5 292.7h0M72.7 296.5h0M74.1 297.2h0M75.3 302.0h0M77.5 293.6h0M87.0 296.4h0M82.6 300.5h0M76.5 306.9h0M72.8 303.6h0M88.7 289.7h0M68.3 296.3h0M72.6 299.8h0M71.9 301.2h0M76.2 304.5h0M78.2 306.2h0M75.0 296.8h0M73.5 300.9h0M81.7 308.0h0M75.5 297.9h0" stroke="#dc2a2a"/>
<path d="M94.4 269.3h0M93.0 262.5h0M81.7 247.1h0M80.3 241.7h0M106.4 256.0h0M90.4 238.1h0M89.2 246.9h0M94.8 251.1h0M85.4 241.3h0M82.8 242.3h0M83.3 249.0h0M86.0 234.4h0M96.8 245.3h0M87.5 246.9h0M84.1 242.4h0M93.2 240.6h0M99.4 243.6h0M79.2 244.2h0M92.6 262.1h0M100.6 248.0h0M98.1 260.8h0M101.9 235.3h0M96.2 245.7h0M89.6 250.6h0M82.2 244.4h0M93.9 232.1h0M112.5 260.9h0M86.1 245.9h0M108.6 263.4h0M100.3 255.6h0M95.8 242.5h0M85.7 266.9h0M86.3 266.0h0M82.7 271.0h0M83.4 271.4h0M81.4 275.8h0M81.9 271.6h0M84.0 266.7h0M83.2 297.5h0M86.3 298.8h0M82.7 290.1h0M86.1 290.9h0M86.0 296.0h0M86.4 289.2h0M88.0 291.5h0M88.1 294.0h0M82.6 296.4h0M72.4 297.4h0M88.4 285.3h0M75.0 301.1h0M84.6 291.6h0M73.4 302.8h0M81.3 299.1h0M82.5 299.9h0M84.1 301.2h0M88.1 290.9h0M84.4 294.9h0M82.8 293.0h0M86.8 297.0h0M81.0 290.8h0M84.5 290.1h0M84.2 293.1h0M81.6 291.3h0M86.4 287.3h0M87.7 296.7h0M86.3 292.6h0M87.2 292.2h0M87.2 293.2h0M75.8 299.0h0M71.4 301.9h0M88.0 296.6h0M82.2 301.8h0M85.9 298.1h0" stroke="#3a78b8"/>
<path d="M89.9 229.0h0M99.5 246.4h0M89.8 243.5h0M108.0 253.4h0M80.3 242.1h0M95.7 245.9h0M82.1 237.9h0M89.6 247.2h0M90.5 268.5h0M98.8 243.6h0M85.7 262.7h0M85.1 241.9h0M84.7 239.9h0M111.9 262.7h0M97.8 250.0h0M110.8 258.6h0M101.9 245.1h0M79.4 240.0h0M88.7 242.0h0M83.3 243.5h0M81.4 239.3h0M83.3 242.6h0M102.5 269.0h0M95.5 235.5h0M89.3 250.3h0M87.8 240.0h0M90.6 233.3h0M103.0 248.4h0M89.0 245.3h0M103.5 237.6h0M81.5 241.3h0M105.1 276.2h0M108.8 277.4h0M115.7 272.0h0M107.8 286.2h0M107.1 273.3h0M108.2 278.3h0M112.6 284.9h0M107.5 279.4h0M108.0 283.1h0M103.8 284.2h0M108.6 272.8h0M112.2 274.7h0M101.3 292.1h0M115.1 275.6h0M109.3 271.3h0M112.8 282.5h0M107.2 282.0h0M105.0 278.6h0M108.3 275.3h0M103.1 275.1h0M103.6 279.8h0M114.5 273.1h0M103.7 271.2h0M101.4 282.4h0M106.5 279.2h0M101.2 283.8h0M102.9 276.4h0M110.6 279.9h0M99.7 292.0h0M111.7 270.7h0M111.1 268.5h0M106.5 270.6h0M106.4 275.8h0M106.0 293.1h0M103.7 273.6h0M106.8 288.7h0M105.9 292.1h0M109.5 277.9h0M105.4 273.2h0M110.6 285.1h0M100.7 282.7h0M109.5 270.3h0M113.2 269.6h0M104.5 271.6h0M112.1 284.3h0M107.3 285.1h0M98.9 284.8h0M100.5 282.4h0M109.2 273.3h0M111.5 286.7h0M103.7 284.1h0M102.1 274.6h0M108.6 287.9h0M109.8 277.8h0M103.4 276.9h0M108.8 288.7h0M100.1 285.6h0M109.0 284.2h0M102.9 277.8h0M111.5 272.5h0M102.2 294.1h0M104.1 272.5h0M107.9 288.6h0M109.8 276.7h0M101.7 284.3h0M112.6 282.6h0M113.0 278.1h0M105.6 273.1h0M100.8 291.4h0M112.6 280.7h0M103.4 278.4h0M102.2 276.4h0M116.1 272.6h0M103.4 284.8h0M102.0 275.8h0M109.5 268.4h0M114.9 273.3h0M109.7 289.8h0M106.6 282.2h0M99.9 286.1h0M106.4 277.9h0M112.4 279.3h0M104.7 288.2h0M108.3 292.6h0M113.0 274.9h0M102.5 293.8h0M111.9 273.7h0M104.2 279.7h0M109.1 290.0h0M105.3 291.8h0M110.6 285.7h0M110.5 270.1h0M100.4 290.7h0M102.4 290.0h0M111.5 272.0h0M105.5 272.5h0M111.2 284.6h0M109.0 293.8h0M106.9 272.6h0M113.4 275.1h0M100.6 284.3h0M111.0 280.0h0M108.1 278.2h0M105.2 294.1h0M106.0 286.2h0M102.8 283.0h0M107.8 286.9h0M113.0 268.6h0M112.0 271.1h0M107.0 287.0h0M109.9 289.9h0M76.1 265.5h0M73.0 265.0h0M74.4 264.6h0M76.4 266.1h0M74.2 265.3h0M76.8 262.8h0M73.9 264.9h0M76.2 271.0h0M73.7 265.8h0M75.8 263.4h0M74.8 264.6h0M77.8 271.1h0M82.0 276.5h0M80.3 272.6h0M81.1 302.8h0M75.4 299.2h0M77.0 306.8h0M67.5 296.7h0M79.0 306.7h0M79.1 301.2h0M73.9 297.7h0" stroke="#2f9a5e"/>
<path d="M55.5 251.1h0M42.2 282.6h0M64.0 280.4h0M50.8 249.8h0M55.2 288.9h0M31.2 261.7h0M35.5 240.9h0M53.1 244.6h0M39.7 278.7h0M45.5 240.1h0M51.4 282.7h0M54.6 243.7h0M32.4 262.6h0M52.5 279.9h0M64.4 284.0h0M36.4 280.0h0M41.0 239.5h0M48.7 278.7h0M32.6 244.6h0M33.3 249.1h0M50.4 282.7h0M29.9 255.7h0M38.1 252.4h0M58.0 280.6h0M55.8 281.5h0M33.9 260.0h0M48.3 288.2h0M62.4 274.3h0M53.8 248.8h0M46.7 243.2h0M33.1 241.5h0M36.3 242.0h0M48.9 246.8h0M40.9 248.7h0M31.7 244.6h0M42.1 236.2h0M40.9 236.4h0M33.6 246.0h0M62.3 283.5h0M30.5 251.9h0M32.6 239.6h0M39.1 238.2h0M52.8 245.1h0M62.2 281.4h0M45.3 240.2h0M37.5 283.6h0M34.3 254.3h0M38.2 262.3h0M52.8 282.2h0M34.9 238.5h0M57.4 266.5h0M41.5 274.5h0M56.3 248.1h0M38.6 283.6h0M31.2 250.2h0M33.3 246.2h0M33.3 253.0h0M42.5 235.7h0M61.7 284.2h0M37.3 258.5h0M57.1 247.3h0M27.8 260.3h0M54.0 275.9h0M37.1 253.6h0M60.2 282.9h0M40.5 273.9h0M36.0 249.7h0M42.0 270.0h0M36.6 280.2h0M33.1 261.9h0M52.6 242.5h0M41.7 274.0h0M55.9 246.3h0M54.1 289.2h0M47.1 262.5h0M39.7 241.1h0M41.8 270.2h0M33.6 239.7h0M37.3 278.1h0M33.8 263.8h0M49.5 241.1h0M32.9 238.8h0M50.7 280.5h0M39.7 261.4h0M46.2 275.6h0M35.1 246.9h0M61.0 281.6h0M40.5 252.5h0M47.7 248.2h0M55.9 263.5h0M26.6 261.5h0M40.5 237.5h0M37.4 265.0h0M59.5 281.0h0M37.0 268.7h0M28.8 257.5h0M49.9 247.1h0M51.4 246.8h0M33.0 278.8h0M41.8 237.8h0M46.2 249.5h0M46.5 281.9h0M33.4 262.2h0M47.0 243.5h0M58.7 264.9h0M39.0 251.0h0M60.4 281.4h0M36.3 260.1h0M40.8 242.1h0M42.0 281.0h0M34.3 261.3h0M36.8 243.6h0M61.2 273.6h0M44.1 245.3h0M54.1 248.8h0M39.9 251.4h0M40.3 240.9h0M34.8 256.7h0M40.8 250.7h0M56.0 247.4h0M37.3 238.6h0M58.3 275.7h0M36.8 263.0h0M29.0 259.2h0M60.9 282.9h0M52.4 245.9h0M40.6 278.8h0M52.3 284.3h0M42.9 285.6h0M34.3 268.9h0M37.8 245.9h0M43.8 282.2h0M61.7 281.2h0M46.4 279.5h0M33.0 265.9h0M54.2 267.3h0M26.4 259.8h0M43.6 270.7h0M40.8 252.7h0M48.7 268.3h0M61.3 284.8h0M40.5 284.2h0M36.5 284.5h0M39.1 286.5h0M40.3 278.8h0M40.7 247.0h0M47.7 276.7h0M37.7 243.7h0M32.5 245.0h0M47.8 256.3h0M41.0 237.1h0M33.8 281.9h0M31.9 256.9h0M32.0 269.3h0M60.7 282.1h0M36.8 242.5h0M30.2 258.2h0M37.7 281.4h0M32.4 259.7h0M37.0 258.3h0M42.0 254.9h0M49.7 273.7h0M38.5 262.8h0M51.8 280.6h0M35.4 250.1h0M38.4 255.7h0M45.4 269.4h0M50.0 239.9h0M51.2 258.6h0M37.7 238.6h0M54.9 265.2h0M60.2 281.9h0M62.9 274.3h0M38.6 285.9h0M36.4 254.1h0M36.3 243.7h0M57.7 269.1h0M39.4 240.4h0M35.6 246.4h0M52.9 261.5h0M41.4 254.1h0M45.4 248.3h0M40.2 277.9h0M36.9 247.4h0M37.4 281.7h0M34.2 258.8h0M37.3 243.1h0M35.9 267.8h0M43.0 252.4h0M31.1 248.9h0M53.8 257.3h0M43.7 244.7h0M36.7 248.7h0M52.5 247.0h0M35.9 247.8h0M30.4 242.8h0M42.8 245.2h0M27.6 258.0h0M45.1 276.8h0M56.0 267.6h0M37.3 245.6h0M40.9 253.4h0M31.0 265.1h0M41.1 244.1h0M56.0 283.7h0M36.9 261.5h0M38.8 280.2h0M34.1 255.2h0M43.5 284.7h0M34.6 235.6h0M30.6 259.9h0M52.8 280.5h0M53.3 280.4h0M41.9 277.4h0M45.3 281.7h0M45.2 273.8h0M29.4 258.5h0M42.1 279.9h0M27.7 256.5h0M43.5 260.7h0M51.6 248.9h0M43.4 281.9h0M55.0 246.2h0M42.8 253.2h0M35.2 237.9h0M47.3 239.1h0M45.0 274.9h0M63.6 277.9h0M33.3 236.1h0M40.8 247.9h0M45.4 270.9h0M32.7 252.6h0M37.8 240.7h0M30.4 263.8h0M40.4 240.7h0M41.8 243.0h0M31.8 264.0h0M38.8 285.9h0M41.2 260.4h0M37.3 243.5h0M32.9 241.0h0M36.5 264.4h0M35.0 244.1h0M65.3 279.9h0M42.4 282.1h0M29.7 254.7h0M60.1 281.8h0M66.8 257.3h0M41.7 245.9h0M39.9 285.0h0M36.8 246.7h0M40.9 288.9h0M33.8 268.0h0M55.2 249.3h0M53.2 240.8h0M30.4 260.2h0M42.3 278.2h0M46.6 281.1h0M37.0 250.3h0M43.0 284.3h0M33.6 262.9h0M34.3 282.8h0M52.2 283.7h0M31.5 252.2h0M34.5 238.7h0M40.9 276.3h0M34.7 249.7h0M30.7 261.9h0M53.7 274.7h0M36.0 241.0h0M59.2 278.1h0M39.8 265.3h0M43.6 242.1h0M49.3 254.3h0M38.9 269.4h0M39.9 243.1h0M41.0 269.9h0M39.1 260.3h0M61.5 282.5h0M42.1 283.9h0M29.4 263.4h0M33.1 264.5h0M56.6 271.8h0M40.3 242.2h0M63.7 281.5h0M33.7 281.6h0M36.9 239.3h0M54.0 276.0h0M39.1 247.3h0M39.7 274.3h0M42.8 267.1h0M42.2 239.4h0M44.5 242.7h0M64.5 277.7h0M40.6 280.3h0M30.3 254.5h0M51.9 282.1h0M37.9 240.5h0M47.4 250.1h0M41.4 265.9h0M52.5 279.9h0M54.0 250.7h0M57.4 280.7h0M51.5 242.8h0M40.7 286.3h0M47.4 241.3h0M47.8 280.8h0M41.8 233.9h0M41.1 273.6h0M38.1 254.5h0M34.5 251.2h0M28.3 250.9h0M40.9 243.3h0M58.3 280.0h0M50.1 253.4h0M66.5 256.6h0M34.9 265.6h0M59.1 278.0h0M35.7 256.6h0M44.7 247.5h0M47.8 248.2h0M50.7 256.4h0M37.0 266.6h0M48.1 247.4h0M46.4 237.6h0M40.7 247.0h0M33.9 244.2h0M47.5 241.5h0M35.0 242.9h0M51.2 245.5h0M46.7 252.8h0M42.9 240.8h0M34.5 256.0h0M49.1 272.7h0M40.7 281.6h0M36.0 256.8h0M57.0 277.6h0M56.7 248.9h0M32.7 250.8h0M37.5 257.5h0M35.9 276.6h0M49.2 252.3h0M54.3 278.8h0M36.1 258.0h0M36.1 274.8h0M47.8 244.6h0M41.8 246.3h0M31.7 265.1h0M31.1 246.1h0M47.8 274.6h0M48.3 242.3h0M56.2 246.0h0M34.4 264.7h0M41.8 288.7h0M60.3 284.0h0M41.7 275.4h0M56.7 248.3h0M64.6 284.9h0M33.0 248.1h0M39.2 272.0h0M55.4 281.4h0M54.3 247.1h0M32.3 241.4h0M54.9 249.0h0M37.9 236.8h0M36.2 246.4h0M36.3 266.0h0M51.1 249.8h0M45.4 280.8h0M40.9 242.9h0M56.0 288.3h0M38.0 278.8h0M39.4 270.7h0M50.8 275.1h0M32.3 249.1h0M50.0 240.2h0M49.8 241.1h0M49.9 259.7h0M30.9 257.6h0M40.7 280.5h0M38.9 239.4h0M43.2 257.3h0M38.7 252.9h0M31.0 248.8h0M50.2 256.1h0M34.5 254.6h0M36.2 236.2h0M56.7 244.9h0M56.2 279.8h0M26.1 259.3h0M40.0 246.0h0M52.6 277.0h0M42.7 274.0h0M35.2 234.4h0M48.8 251.8h0M30.5 256.8h0M34.4 242.1h0M38.4 243.8h0M43.3 279.3h0M60.6 288.4h0M38.3 244.9h0M34.6 268.1h0M66.4 278.9h0M50.2 258.9h0M33.2 248.0h0M35.1 240.6h0M37.8 245.3h0M36.0 259.0h0M39.3 277.1h0M36.9 257.0h0M38.2 277.6h0M33.4 253.4h0M42.6 281.8h0M36.2 247.4h0M29.0 267.1h0M40.3 281.8h0M57.8 273.5h0M34.3 260.9h0M48.7 273.2h0M54.6 246.3h0M36.2 259.9h0M51.5 285.8h0M42.8 242.9h0M56.0 245.2h0M53.6 287.7h0M38.6 284.4h0M58.8 280.0h0M46.7 286.9h0M55.2 244.4h0M54.4 258.5h0M48.5 250.8h0M63.4 281.2h0M33.7 247.6h0M41.6 269.6h0M56.9 278.8h0M41.0 264.5h0M38.3 278.7h0M44.6 257.3h0M51.9 255.0h0M56.1 281.7h0M38.1 235.2h0M58.8 284.6h0M51.8 245.3h0M47.0 245.6h0M64.1 280.3h0M42.6 288.8h0M34.5 256.0h0M38.0 243.7h0M34.1 282.5h0M49.1 244.3h0M43.6 235.6h0M41.6 284.4h0M52.5 246.0h0M35.3 242.1h0M38.2 265.2h0M33.7 255.8h0M40.1 280.8h0M46.3 290.0h0M56.9 249.2h0M34.2 279.3h0M40.4 246.7h0M62.3 262.9h0M43.7 242.9h0M29.0 259.0h0M37.6 249.5h0M50.9 243.8h0M65.9 285.1h0M45.3 257.1h0M48.2 249.3h0M52.7 254.2h0M40.4 246.6h0M49.4 261.9h0M63.4 285.7h0M58.7 263.3h0M49.5 281.7h0M41.2 242.7h0M37.9 269.5h0M65.7 278.2h0M36.2 251.8h0M38.7 238.0h0M63.1 262.4h0M31.2 265.2h0M42.3 233.8h0M40.1 246.1h0M43.6 253.9h0M47.2 237.2h0M39.0 283.6h0M37.2 277.0h0M46.8 251.0h0M41.1 247.4h0M48.5 246.2h0M46.9 283.4h0M45.7 266.5h0M42.6 271.3h0M34.5 263.0h0M36.3 245.0h0M36.7 278.3h0M28.1 266.2h0M41.3 256.3h0M43.1 252.6h0M27.4 260.1h0M64.1 276.8h0M40.8 245.8h0M40.5 235.4h0M45.0 282.4h0M36.3 256.8h0M61.9 285.3h0M37.7 251.9h0M40.8 278.2h0M33.2 245.1h0M32.3 237.2h0M50.4 248.3h0M29.3 255.5h0M44.1 243.5h0M37.2 285.8h0M57.5 246.4h0M37.1 276.0h0M41.5 233.5h0M54.8 243.8h0M34.0 268.1h0M43.2 233.9h0M29.4 259.5h0M49.9 276.5h0M33.0 258.7h0M37.9 281.0h0M30.7 269.1h0M28.0 252.8h0M34.8 239.7h0M57.8 284.5h0M31.4 262.2h0M52.0 246.6h0M30.2 253.4h0M40.7 247.8h0M33.1 265.1h0M59.9 286.7h0M61.8 271.7h0M34.0 239.2h0M49.7 239.8h0M48.2 283.1h0M39.5 238.8h0M36.1 278.5h0M37.4 245.3h0M54.7 254.2h0M31.9 241.5h0M28.8 253.0h0M41.8 279.9h0M31.3 265.7h0M28.1 255.1h0M27.7 255.8h0M56.6 250.7h0M36.8 255.5h0M38.1 243.0h0M41.4 241.0h0M62.9 276.2h0M42.7 284.7h0M34.2 248.5h0M53.4 278.4h0M41.4 239.4h0M31.3 267.5h0M35.7 263.6h0M62.3 281.4h0M39.9 243.2h0M38.2 285.6h0M35.8 284.0h0M40.7 233.4h0M46.9 244.6h0M54.4 242.3h0" stroke="#f38a22"/>
<path d="M39.1 243.4h0M51.5 245.6h0M39.2 270.0h0M44.1 259.1h0M39.4 277.0h0M50.5 249.4h0M32.8 257.7h0M34.4 240.8h0M42.4 237.5h0M46.5 278.5h0M43.1 238.4h0M38.7 272.0h0M39.4 233.3h0M98.8 248.1h0M87.6 262.3h0M95.9 244.6h0M108.3 266.3h0M111.9 242.0h0M101.2 241.4h0M105.7 247.4h0M92.7 231.4h0M89.3 230.7h0M89.6 231.9h0M94.4 251.3h0M111.3 265.1h0M83.3 239.8h0M84.7 249.0h0M96.7 239.0h0M111.8 265.6h0M87.1 252.6h0M94.4 248.9h0M106.6 261.2h0M91.1 230.1h0M96.8 250.8h0M108.3 260.6h0M87.2 234.9h0M105.8 243.9h0M85.9 256.9h0M85.8 256.3h0M108.3 245.4h0M90.4 262.4h0M105.8 269.3h0M104.5 248.6h0M97.3 237.2h0M100.4 242.7h0M82.4 240.8h0M89.2 243.0h0M78.3 240.6h0M104.4 241.9h0M105.2 260.4h0M92.5 258.8h0M85.0 236.1h0M86.5 261.8h0M90.4 267.4h0M92.0 237.2h0M90.9 258.7h0M110.3 259.2h0M106.6 239.3h0M110.8 258.7h0M94.2 237.3h0M102.9 245.0h0M103.2 244.0h0M104.9 258.6h0M97.9 237.9h0M91.7 256.3h0M106.4 247.2h0M94.2 258.5h0M91.7 257.0h0M93.5 241.8h0M89.0 252.7h0M84.9 231.4h0M97.7 242.2h0M96.8 237.3h0M105.1 247.0h0M95.5 259.0h0M98.8 257.5h0M93.8 257.0h0M102.0 250.4h0M88.1 248.6h0M85.2 234.5h0M104.8 242.9h0M107.3 259.6h0M104.7 243.7h0M103.0 246.7h0M107.1 237.5h0M91.0 262.4h0M108.2 257.4h0M97.5 239.2h0M104.2 245.7h0M102.2 242.5h0M100.6 254.1h0M90.9 252.3h0M103.7 241.1h0M102.0 241.0h0M97.7 237.4h0M88.8 258.2h0M89.9 234.2h0M104.8 264.5h0M99.9 243.0h0M91.6 235.1h0M97.3 263.8h0M82.5 236.5h0M82.8 247.7h0M88.1 231.6h0M104.7 244.0h0M91.5 240.9h0M89.8 230.3h0M101.9 265.9h0M83.8 235.2h0M98.9 239.6h0M95.4 232.5h0M91.7 258.2h0M83.9 258.8h0M108.7 255.0h0M105.0 246.0h0M95.0 248.4h0M85.0 261.1h0M97.7 246.6h0M104.1 244.2h0M109.4 260.4h0M108.9 258.5h0M101.1 252.4h0M87.7 261.8h0M98.6 247.4h0M90.1 234.2h0M95.1 261.2h0M95.6 262.9h0M105.6 246.0h0M91.4 236.1h0M94.1 250.4h0M92.7 256.8h0M102.0 239.4h0M95.5 244.7h0M90.9 248.4h0M103.7 250.7h0M101.3 247.3h0M88.2 256.1h0M97.8 263.2h0M95.0 260.9h0M96.0 235.9h0M87.0 256.0h0M89.4 230.2h0M102.7 245.4h0M100.8 242.8h0M107.4 237.6h0M79.8 239.0h0M98.4 243.2h0M85.9 237.6h0M85.4 263.6h0M96.9 244.0h0M91.5 239.6h0M114.1 260.6h0M104.3 259.2h0M91.4 229.8h0M100.9 240.7h0M102.4 241.5h0M86.7 260.0h0M105.0 239.9h0M114.3 264.2h0M98.6 245.4h0M97.6 245.1h0M93.2 243.7h0M97.2 247.6h0M105.6 267.3h0M94.7 256.0h0M98.6 246.6h0M106.3 257.2h0M108.2 258.0h0M93.8 260.3h0M89.7 255.0h0M104.5 259.7h0M90.4 262.9h0M111.3 265.4h0M99.2 250.8h0M105.6 259.5h0M89.0 242.2h0M91.8 244.3h0M88.9 233.6h0M101.7 235.3h0M102.8 239.5h0M87.8 234.1h0M85.2 264.4h0M107.9 266.3h0M94.8 250.4h0M91.8 231.7h0M82.6 247.7h0M87.5 243.8h0M95.3 242.7h0M93.2 241.0h0M87.3 242.2h0M101.2 247.3h0M92.9 250.6h0M109.1 259.0h0M109.0 258.8h0M102.1 243.4h0M108.1 263.3h0M86.5 255.1h0M103.0 253.6h0M88.0 241.2h0M108.6 261.6h0M88.8 231.8h0M94.5 264.3h0M95.9 236.5h0M106.2 256.0h0M110.6 262.9h0M102.2 241.2h0M95.1 239.7h0M95.4 240.5h0M106.7 242.8h0M95.8 263.1h0M113.6 262.4h0M102.4 247.0h0M99.0 238.6h0M109.5 261.1h0M111.1 260.3h0M103.0 260.5h0M96.3 241.6h0M108.4 258.9h0M97.6 242.0h0M91.7 242.8h0M105.5 248.3h0M95.5 268.1h0M90.2 234.5h0M110.8 240.3h0M92.3 238.4h0M104.2 248.1h0M93.0 240.4h0M104.1 249.8h0M108.1 237.6h0M102.1 258.7h0M101.4 239.9h0M96.3 243.3h0M98.9 267.4h0M89.8 264.6h0M88.9 233.5h0M104.2 261.7h0M95.1 251.6h0M79.2 235.7h0M97.2 245.8h0M99.3 246.1h0M91.6 234.7h0M98.2 236.6h0M94.2 256.2h0M83.7 245.5h0M86.9 261.3h0M85.1 252.6h0M110.8 258.2h0M106.2 255.2h0M89.2 255.2h0M104.7 243.1h0M93.3 244.9h0M91.3 244.7h0M100.2 266.3h0M93.6 249.5h0M92.5 254.1h0M106.4 258.4h0M92.4 242.3h0M90.6 236.5h0M98.7 243.9h0M93.8 258.9h0M89.5 235.6h0M102.9 251.0h0M96.9 257.5h0M111.4 259.8h0M97.5 251.4h0M103.1 252.6h0M102.2 238.4h0M92.3 264.7h0M92.7 239.4h0M94.1 229.7h0M85.9 262.4h0M101.8 260.8h0M108.8 255.9h0M95.0 261.2h0M102.8 245.0h0M90.5 239.1h0M99.2 244.5h0M104.4 249.0h0M100.6 247.7h0M88.5 259.3h0M91.2 254.8h0M104.4 241.0h0M109.0 271.0h0M110.2 272.7h0M108.9 275.6h0M105.1 287.7h0M110.0 285.1h0M104.2 293.4h0M99.8 287.0h0M107.1 269.2h0M103.4 288.2h0M106.5 276.1h0M107.0 292.9h0M101.5 279.5h0M108.3 272.1h0M106.9 280.8h0M99.9 284.6h0M107.1 294.4h0M74.4 267.2h0M76.0 265.8h0M74.8 267.2h0M74.7 266.3h0M75.8 267.9h0M74.0 268.7h0M75.1 265.2h0M73.0 264.1h0M90.2 268.8h0M88.8 276.3h0M84.0 273.4h0M84.5 269.4h0M76.5 304.5h0M82.8 294.7h0M80.4 305.8h0M83.1 286.0h0M82.6 296.0h0M79.3 309.4h0M81.2 287.0h0M75.5 297.2h0M74.3 303.5h0M78.8 295.1h0M78.8 294.2h0M74.8 297.4h0M86.5 290.1h0M77.3 294.9h0M77.2 293.7h0M84.7 298.1h0M84.9 295.9h0M71.0 301.4h0M76.8 296.3h0M71.6 298.0h0M79.1 306.9h0M86.2 295.5h0M81.0 307.3h0M81.1 287.1h0M71.5 303.8h0M81.8 301.8h0M75.4 295.0h0M76.3 306.0h0M77.9 305.4h0M74.5 301.2h0M69.8 295.6h0M77.4 298.0h0M75.9 291.1h0M75.3 303.0h0M84.2 302.8h0M75.4 294.4h0M71.9 292.6h0M83.0 300.3h0M75.0 296.6h0M75.7 306.0h0M78.6 304.2h0M73.5 304.2h0M77.4 301.7h0M78.2 299.9h0M73.1 301.5h0M72.0 303.6h0M83.7 295.1h0M84.2 291.3h0M83.7 301.7h0M76.2 308.0h0M77.3 303.9h0M70.7 297.2h0M74.0 294.6h0M74.8 300.6h0M78.8 306.3h0M79.0 303.9h0M68.5 296.0h0M83.4 291.0h0M78.9 305.3h0M78.3 292.9h0M80.6 292.3h0M82.1 303.5h0M73.0 305.4h0M76.9 296.4h0M69.3 292.4h0M71.9 303.8h0M72.0 296.7h0M82.2 300.0h0M81.1 304.9h0M79.3 293.0h0M73.8 297.6h0M77.9 297.6h0M81.7 308.2h0M74.3 300.7h0M71.7 299.4h0M77.8 302.0h0M79.4 300.0h0M72.1 299.9h0M77.7 303.2h0M76.8 308.3h0M73.9 297.1h0" stroke="#dc2a2a"/>
<path d="M96.6 236.7h0M100.5 263.6h0M98.0 249.5h0M87.1 235.9h0M105.3 265.9h0M80.3 240.8h0M108.0 253.5h0M82.0 242.3h0M88.9 253.6h0M87.2 239.4h0M87.8 254.3h0M103.7 240.2h0M87.6 245.3h0M80.1 240.8h0M78.5 236.5h0M87.4 235.3h0M97.9 255.1h0M87.3 239.7h0M109.0 243.1h0M86.5 264.5h0M105.1 262.9h0M89.8 246.4h0M84.1 244.7h0M84.9 246.3h0M91.0 256.2h0M82.1 241.4h0M94.2 245.6h0M107.2 264.0h0M91.1 239.6h0M94.9 248.2h0M88.9 270.9h0M87.7 268.2h0M86.0 272.9h0M80.9 270.4h0M83.3 267.2h0M89.4 272.8h0M82.8 272.5h0M82.2 268.0h0M88.2 293.7h0M86.3 301.0h0M78.6 305.1h0M86.1 295.3h0M80.0 306.2h0M82.6 287.4h0M85.3 298.6h0M77.1 300.3h0M87.1 292.9h0M85.8 299.1h0M83.0 285.7h0M85.5 293.1h0M88.1 295.6h0M80.4 289.3h0M86.1 296.0h0M86.8 282.4h0M86.8 284.3h0M81.0 294.9h0M77.6 305.2h0M86.5 290.2h0M81.5 298.2h0M83.9 291.4h0M83.8 293.6h0M83.0 299.7h0M82.4 301.7h0M86.2 299.5h0M82.0 291.0h0M83.6 301.0h0M85.7 282.9h0M87.5 296.7h0M82.2 296.8h0M87.8 294.1h0M88.8 284.3h0M83.1 290.7h0" stroke="#3a78b8"/>
<path d="M96.3 248.5h0M89.8 246.0h0M87.9 244.1h0M82.8 235.5h0M98.4 241.5h0M83.3 251.2h0M98.3 241.3h0M88.3 243.7h0M111.9 263.2h0M86.2 250.6h0M84.5 242.8h0M104.7 264.3h0M98.7 239.9h0M96.6 247.0h0M88.4 238.6h0M86.3 250.1h0M109.4 266.6h0M101.9 240.1h0M80.5 246.5h0M81.1 238.0h0M101.3 244.9h0M90.5 247.6h0M100.5 253.2h0M86.1 237.5h0M110.3 259.8h0M103.9 254.0h0M87.9 248.8h0M82.9 235.7h0M81.9 237.9h0M106.8 254.5h0M84.9 260.9h0M114.4 285.2h0M100.4 286.5h0M108.0 278.1h0M108.3 275.8h0M109.1 271.9h0M103.3 284.8h0M102.6 272.5h0M111.2 281.2h0M100.1 283.8h0M107.3 273.3h0M112.9 289.0h0M106.1 279.4h0M108.4 281.1h0M99.8 281.8h0M110.6 289.3h0M108.9 284.4h0M101.6 283.8h0M109.9 290.3h0M104.8 280.7h0M105.2 274.5h0M104.1 273.9h0M112.0 285.7h0M102.3 286.7h0M114.0 284.2h0M103.8 278.3h0M113.7 280.8h0M102.3 273.9h0M105.9 284.1h0M107.2 279.7h0M108.8 282.4h0M112.5 275.2h0M104.1 294.2h0M108.7 287.7h0M100.5 281.9h0M106.1 286.5h0M102.4 285.4h0M106.9 273.8h0M112.5 275.0h0M105.8 271.0h0M111.9 278.5h0M105.2 272.8h0M105.7 285.5h0M106.6 282.5h0M107.1 274.8h0M106.5 272.9h0M99.6 289.8h0M112.3 289.8h0M113.4 276.0h0M107.1 289.9h0M107.6 278.6h0M102.7 278.3h0M102.1 284.4h0M115.7 280.6h0M113.2 277.8h0M115.3 278.2h0M115.2 286.2h0M108.7 271.2h0M101.6 280.7h0M104.5 277.4h0M107.7 280.0h0M105.5 286.1h0M107.5 291.5h0M104.4 279.9h0M108.3 272.2h0M106.6 276.4h0M109.4 279.6h0M107.5 278.0h0M104.7 285.1h0M102.5 276.8h0M110.7 278.2h0M113.0 277.5h0M107.5 285.4h0M107.9 287.3h0M99.9 292.3h0M106.2 279.8h0M112.8 283.2h0M100.6 285.0h0M112.5 275.8h0M110.3 288.3h0M102.9 289.7h0M104.2 277.5h0M106.2 278.4h0M114.1 271.3h0M109.0 274.3h0M103.3 278.3h0M115.5 277.3h0M108.3 283.0h0M100.3 286.0h0M100.5 287.3h0M100.2 292.5h0M99.6 283.5h0M113.8 278.9h0M110.5 285.9h0M99.9 289.2h0M113.8 284.7h0M107.3 294.5h0M106.5 277.3h0M104.7 280.5h0M108.6 273.6h0M112.2 288.1h0M110.2 279.4h0M112.9 276.2h0M114.1 269.1h0M115.7 276.8h0M100.6 280.5h0M109.1 279.1h0M114.3 287.5h0M106.1 273.8h0M114.8 277.1h0M106.6 287.1h0M74.6 268.8h0M75.7 263.0h0M74.1 266.3h0M76.5 265.1h0M77.5 262.5h0M72.6 264.6h0M72.5 265.1h0M78.9 268.1h0M73.5 270.8h0M74.6 267.7h0M78.5 266.7h0M77.2 268.3h0M73.3 269.1h0M84.4 280.7h0M88.2 274.2h0M78.4 304.5h0M73.7 305.3h0M83.1 302.8h0M77.6 289.5h0M79.4 301.1h0M74.4 295.7h0M75.7 301.2h0" stroke="#2f9a5e"/>
</g>
<rect x="19.5" y="220.8" width="102.8" height="96.0" fill="none" stroke="#333" stroke-width="0.9"/>
<g opacity="0.78" stroke-width="1.0" stroke-linecap="square">
<path d="M219.5 262.5h0M229.6 245.3h0M237.1 249.9h0M240.6 244.7h0M245.4 285.3h0M215.2 258.4h0M231.8 240.3h0M229.6 278.6h0M244.8 280.0h0M232.1 245.1h0M223.7 241.2h0M229.6 257.2h0M223.0 263.8h0M224.4 252.4h0M246.5 267.7h0M231.8 244.9h0M231.4 276.3h0M224.9 235.4h0M217.9 244.8h0M233.3 279.0h0M238.9 253.4h0M239.1 245.2h0M225.1 269.3h0M226.4 273.6h0M215.4 254.0h0M224.5 262.3h0M229.0 288.8h0M236.2 247.8h0M227.1 278.4h0M229.5 261.0h0M226.2 286.7h0M248.0 283.9h0M212.6 262.5h0M216.8 250.5h0M226.2 274.1h0M246.6 282.6h0M238.1 249.5h0M222.4 274.3h0M228.2 260.4h0M219.8 282.0h0M212.1 260.5h0M227.8 239.7h0M244.8 271.6h0M217.1 253.3h0M226.3 276.4h0M232.1 252.5h0M231.4 244.8h0M242.3 263.4h0M228.4 278.7h0M217.8 261.3h0M243.2 282.3h0M240.6 284.5h0M235.1 277.3h0M235.0 252.3h0M232.3 244.5h0M232.2 262.5h0M229.2 281.6h0M215.7 254.8h0M228.3 280.7h0M242.9 282.7h0M237.4 264.3h0M220.1 259.4h0M219.8 261.9h0M244.7 275.5h0M230.3 280.0h0M245.0 287.6h0M243.0 275.5h0M237.7 259.8h0M220.5 262.4h0M241.8 280.1h0M240.6 267.2h0M221.3 237.3h0M224.0 261.3h0M241.4 281.4h0M223.7 285.2h0M212.9 263.6h0M235.0 258.7h0M234.0 276.5h0M248.2 272.2h0M234.1 256.3h0M223.3 286.2h0M218.2 243.2h0M247.1 281.9h0M227.6 278.7h0M223.3 258.3h0M225.7 278.4h0M243.4 286.5h0M224.7 255.8h0M237.5 258.6h0M221.0 244.7h0M215.5 261.1h0M219.7 237.4h0M223.3 278.3h0M223.3 233.9h0M219.4 254.7h0M231.6 278.0h0M225.6 276.8h0M219.8 250.3h0M238.4 244.2h0M251.2 285.9h0M238.9 247.2h0M222.2 248.0h0M243.7 279.6h0M231.4 276.6h0M221.7 247.9h0M221.4 283.1h0M228.4 288.9h0M222.6 259.8h0M229.8 284.4h0M223.2 255.9h0M235.0 246.7h0M228.2 277.2h0M224.4 237.6h0M217.7 249.2h0M219.9 259.0h0M215.0 258.5h0M227.6 258.0h0M217.9 264.8h0M230.6 282.9h0M234.4 273.2h0M221.7 239.2h0M245.9 284.2h0M225.1 239.2h0M239.7 248.6h0M227.5 260.4h0M222.8 264.3h0M231.1 281.7h0M228.7 253.0h0M226.0 242.6h0M215.6 265.9h0M241.4 281.4h0M219.3 252.7h0M229.3 284.1h0M219.1 257.7h0M229.6 274.5h0M221.0 249.8h0M238.9 279.5h0M245.5 277.9h0M216.2 264.4h0M231.8 283.3h0M222.8 255.4h0M226.2 243.2h0M237.9 279.8h0M225.0 249.8h0M234.0 285.5h0M221.4 278.2h0M226.6 242.4h0M221.7 249.8h0M229.0 283.1h0M229.1 267.0h0M220.8 254.8h0M215.1 260.2h0M216.5 254.5h0M219.2 259.0h0M225.3 241.9h0M225.9 235.9h0M236.3 246.5h0M222.1 259.6h0M221.4 243.0h0M227.2 243.5h0M237.6 279.3h0M227.5 255.5h0M222.0 256.6h0M220.0 257.1h0M218.3 260.9h0M246.4 282.5h0M213.5 260.3h0M220.3 238.9h0M220.7 256.0h0M243.0 247.5h0M212.8 259.0h0M243.0 249.0h0M218.9 250.9h0M228.9 242.7h0M228.4 280.4h0M221.3 261.2h0M213.1 254.8h0M233.4 244.5h0M220.7 264.6h0M228.7 237.7h0M226.0 276.9h0M218.7 243.1h0M227.3 255.2h0M217.2 255.6h0M222.5 246.5h0M222.2 265.2h0M244.1 257.2h0M225.6 238.6h0M225.7 270.6h0M232.3 275.7h0M231.9 240.4h0M236.2 259.7h0M229.5 257.4h0M217.2 248.9h0M217.4 258.5h0M222.1 240.9h0M242.6 279.6h0M248.9 274.9h0M231.4 238.2h0M219.7 262.9h0M216.8 256.8h0M231.7 245.1h0M218.8 261.0h0M220.9 268.0h0M249.8 275.9h0M224.1 238.2h0M234.1 278.9h0M220.1 276.3h0M215.2 267.0h0M225.3 258.3h0M230.5 286.8h0M229.3 282.1h0M235.9 273.4h0M230.2 278.7h0M241.8 281.6h0M232.1 286.6h0M234.8 250.9h0M227.9 269.5h0M222.0 239.4h0M229.5 285.8h0M229.0 243.4h0M214.2 261.3h0M233.3 245.8h0M226.0 283.2h0M220.7 256.0h0M220.9 281.1h0M224.2 278.5h0M233.5 289.9h0M225.2 283.9h0M226.3 280.6h0M222.5 250.8h0M248.6 262.8h0M225.6 281.9h0M229.0 272.2h0M226.5 238.2h0M225.6 287.9h0M228.0 282.3h0M227.5 242.9h0M252.1 278.0h0M228.0 270.4h0M232.4 285.8h0M232.8 270.2h0M240.4 243.1h0M215.6 263.1h0M212.4 262.9h0M233.2 283.2h0M229.1 243.1h0M222.5 245.2h0M235.8 285.2h0M223.2 241.1h0M239.0 289.1h0M226.8 235.6h0M239.6 279.9h0M248.3 285.0h0M227.1 278.1h0M218.8 255.7h0M221.7 240.2h0M243.8 246.6h0M243.8 275.6h0M237.6 247.2h0M225.9 277.0h0M241.0 281.8h0M237.6 277.4h0M224.2 280.8h0M220.1 244.0h0M217.0 260.9h0M244.1 284.2h0M238.1 245.0h0M237.7 247.0h0M219.0 266.0h0M236.1 275.6h0M239.5 281.4h0M218.2 241.7h0M219.3 256.7h0M219.9 240.2h0M240.4 290.2h0M236.2 241.3h0M217.3 256.7h0M227.7 239.6h0M251.6 276.9h0M217.6 259.6h0M222.1 283.8h0M218.1 256.6h0M278.6 234.8h0M269.9 252.3h0M288.2 258.5h0M270.1 232.7h0M286.6 255.0h0M283.0 245.2h0M276.4 256.0h0M279.2 231.7h0M285.6 245.1h0M284.7 237.8h0M283.6 247.8h0M276.2 246.2h0M271.2 249.1h0M283.2 239.2h0M292.0 245.7h0M283.5 255.0h0M285.4 249.0h0M283.3 247.5h0M286.1 256.6h0M283.3 250.9h0M284.9 243.9h0M274.8 239.6h0M289.3 236.6h0M284.7 248.2h0M283.6 254.0h0M299.1 262.4h0M276.1 229.6h0M292.3 269.2h0M291.1 248.7h0M293.7 241.9h0M286.9 242.9h0M278.7 246.4h0M281.6 248.6h0M266.7 242.3h0M290.9 242.1h0M290.0 239.5h0M271.5 236.3h0M291.8 238.2h0M274.6 229.6h0M286.3 252.9h0M267.4 240.9h0M280.3 230.6h0M278.5 236.2h0M285.4 247.0h0M289.5 245.2h0M289.8 244.2h0M293.1 265.6h0M281.2 243.9h0M281.9 240.7h0M283.6 242.3h0M271.7 231.7h0M288.9 248.3h0M291.6 247.1h0M286.7 249.8h0M294.6 253.6h0M286.2 246.2h0M269.9 247.8h0M272.0 259.1h0M286.6 241.6h0M288.4 236.0h0M264.2 240.1h0M267.7 234.7h0M271.3 239.5h0M274.0 247.1h0M290.6 246.3h0M289.6 251.8h0M285.1 251.9h0M274.2 263.5h0M268.5 242.4h0M290.9 235.8h0M288.9 258.0h0M280.9 251.6h0M287.1 254.2h0M287.9 246.1h0M275.3 254.7h0M288.4 243.4h0M289.7 238.7h0M282.5 237.1h0M284.8 242.5h0M294.2 262.6h0M269.2 242.5h0M266.7 241.9h0M277.0 267.6h0M275.4 232.0h0M274.5 231.9h0M264.4 242.0h0M280.0 260.2h0M276.3 230.6h0M288.8 254.4h0M284.7 258.5h0M292.0 247.8h0M290.2 257.9h0M270.3 258.9h0M279.2 256.9h0M279.8 266.3h0M275.0 264.6h0M295.9 260.1h0M270.1 232.2h0M272.2 251.0h0M277.8 248.6h0M277.9 266.4h0M271.5 242.1h0M286.6 246.8h0M287.8 245.7h0M277.4 231.7h0M274.4 246.7h0M286.9 250.6h0M283.2 232.3h0M277.3 262.4h0M291.2 239.9h0M288.5 239.6h0M285.8 246.9h0M277.4 248.5h0M275.6 256.0h0M268.0 249.3h0M273.0 250.4h0M284.3 263.1h0M281.5 260.8h0M282.3 247.1h0M289.7 239.2h0M275.9 230.5h0M289.2 245.6h0M275.7 257.2h0M286.3 246.8h0M272.8 254.0h0M289.1 245.2h0M273.1 255.2h0M283.4 244.1h0M277.9 239.8h0M277.7 247.8h0M277.9 230.1h0M282.0 236.4h0M289.4 239.9h0M273.2 259.9h0M272.6 239.1h0M285.6 241.0h0M284.1 245.3h0M280.0 264.9h0M295.9 244.8h0M299.3 257.9h0M285.1 246.7h0M295.9 266.5h0M290.1 245.2h0M264.4 241.7h0M265.8 240.2h0M288.3 241.1h0M278.3 255.0h0M285.0 234.7h0M286.1 242.4h0M265.6 244.4h0M278.8 255.9h0M287.2 252.7h0M283.2 255.2h0M287.1 252.4h0M274.3 234.4h0M294.0 238.3h0M274.8 266.0h0M279.7 242.4h0M280.5 262.0h0M273.9 243.9h0M281.8 242.8h0M283.1 239.6h0M286.2 251.1h0M276.5 232.1h0M283.5 255.0h0M279.9 261.1h0M295.5 258.8h0M291.6 262.8h0M283.9 248.2h0M279.7 255.6h0M269.9 257.6h0M270.1 259.2h0M275.3 232.1h0M281.2 252.3h0M270.1 245.2h0M285.5 237.3h0M274.3 232.7h0M281.3 230.4h0M281.9 240.7h0M293.3 243.0h0M282.3 263.1h0M271.1 233.2h0M288.9 247.2h0M285.8 253.0h0M296.1 261.1h0M277.8 250.6h0M288.1 241.2h0M289.2 239.0h0M279.8 239.9h0M284.1 242.2h0M272.6 242.9h0M268.3 247.4h0M274.2 267.0h0M288.4 245.1h0M276.1 250.7h0M275.0 238.1h0M286.8 235.2h0M279.5 244.7h0M282.0 249.6h0M272.1 230.8h0M296.0 240.3h0M280.9 260.3h0M291.7 240.7h0M282.7 254.5h0M286.1 250.0h0M276.4 251.6h0M292.9 260.5h0M265.6 235.9h0M283.7 245.9h0M281.4 264.1h0M278.0 234.9h0M286.8 236.4h0M269.7 236.8h0M278.8 250.6h0M278.2 239.7h0M271.5 252.6h0M268.5 241.6h0M276.6 256.0h0M275.2 263.2h0M278.9 268.6h0M280.8 242.1h0M288.5 242.9h0M280.1 249.6h0M278.9 254.2h0M287.2 257.4h0M272.0 244.8h0M285.7 266.3h0M271.2 239.1h0M272.5 241.5h0M274.3 260.8h0M282.0 253.7h0M286.5 254.4h0M292.5 262.0h0M278.6 249.2h0M274.1 252.7h0M276.1 228.9h0M279.2 242.4h0M287.0 250.6h0M283.1 245.4h0M286.5 264.4h0M294.9 256.3h0M288.2 244.2h0M280.8 249.9h0M283.8 235.4h0M285.7 244.6h0M295.2 237.9h0M278.9 259.2h0M272.5 243.6h0M277.9 232.0h0M267.5 244.0h0M295.5 270.9h0M296.7 272.6h0M290.3 275.2h0M290.7 293.1h0M291.6 287.5h0M293.1 277.1h0M300.8 276.3h0M300.4 273.0h0M292.3 270.8h0M298.7 287.0h0M292.2 285.5h0M300.5 272.3h0M295.4 289.3h0M288.4 292.6h0M286.2 288.6h0M293.6 281.5h0M293.4 280.6h0M286.1 289.9h0M286.4 284.4h0M299.5 276.0h0M296.0 271.8h0M262.5 265.4h0M264.3 268.6h0M261.1 266.0h0M260.4 268.2h0M263.0 268.5h0M260.7 262.1h0M258.9 265.1h0M265.4 268.0h0M259.9 270.7h0M261.0 267.6h0M260.2 266.8h0M261.5 265.2h0M264.5 264.2h0M262.5 269.4h0M272.8 278.6h0M274.2 268.1h0M272.7 265.9h0M274.0 271.3h0M275.0 268.2h0M269.2 280.0h0M270.5 273.2h0M273.6 279.8h0M267.9 276.0h0M268.6 267.9h0M258.0 299.4h0M264.5 294.7h0M257.3 301.0h0M258.0 292.1h0M259.0 295.2h0M264.4 305.3h0M272.8 298.4h0M258.2 300.1h0M261.6 300.0h0M262.0 304.3h0M273.1 294.3h0M260.6 294.4h0M266.9 293.9h0M260.5 298.3h0M261.2 296.9h0M272.9 289.8h0M272.5 294.9h0M272.4 295.7h0M268.0 304.2h0M268.8 294.9h0M261.6 297.1h0M269.1 287.1h0M260.1 302.7h0M274.5 291.2h0M258.0 297.6h0M268.2 298.0h0M269.3 303.1h0M269.0 291.3h0M261.9 303.5h0M264.6 297.8h0M267.5 297.8h0M257.3 293.7h0M271.3 291.1h0M265.9 298.6h0M260.8 296.8h0M256.6 298.0h0M273.4 293.9h0M262.5 291.9h0M266.6 296.3h0M258.1 291.9h0M265.0 304.6h0M271.1 291.3h0M264.3 296.0h0M270.8 296.4h0M269.3 293.8h0M265.8 289.1h0M266.6 300.6h0M267.7 298.7h0M262.9 306.1h0M273.2 282.2h0M264.4 304.7h0M273.2 284.1h0M267.0 289.8h0M268.8 301.8h0M260.0 302.0h0M259.4 297.7h0M258.3 297.2h0M264.6 299.5h0M267.7 295.5h0M261.1 293.3h0M258.4 303.2h0M263.6 294.7h0M263.1 301.9h0M265.2 295.2h0M274.6 282.9h0M269.7 294.8h0M262.6 307.5h0M263.8 303.4h0M267.4 290.5h0M270.3 291.0h0M258.8 298.4h0M264.6 292.6h0M265.2 305.8h0M270.2 299.3h0M265.4 303.4h0M273.2 282.1h0M254.9 295.6h0M260.9 303.9h0M272.8 293.0h0M263.9 295.1h0M264.7 292.6h0M262.6 294.2h0M270.3 296.1h0M265.8 300.7h0M260.4 294.0h0M259.4 304.9h0M270.2 296.7h0M259.1 296.1h0M264.4 294.1h0M270.4 294.5h0M274.0 296.3h0M274.1 292.1h0M267.5 289.3h0M273.5 296.0h0M269.0 300.0h0M275.0 291.3h0M264.4 304.4h0M265.4 302.1h0M273.3 294.7h0M254.7 295.9h0M259.0 299.4h0M265.8 293.8h0M265.1 308.6h0M264.2 301.5h0M264.7 305.7h0M261.5 296.4h0M263.2 294.4h0M264.1 302.7h0M260.7 300.8h0M260.9 300.9h0M266.3 293.4h0" stroke="#3848aa"/>
<path d="M222.0 234.7h0M222.7 277.6h0M223.6 286.0h0M242.0 287.8h0M225.9 278.5h0M235.9 241.4h0M213.9 263.5h0M227.3 239.7h0M218.8 244.8h0M220.5 264.4h0M237.9 249.7h0M239.8 268.1h0M236.0 243.0h0M251.7 258.7h0M232.5 245.7h0M231.1 276.0h0M226.5 243.6h0M225.5 277.5h0M228.4 236.4h0M225.5 247.6h0M222.3 251.7h0M221.5 243.6h0M218.9 239.8h0M227.3 238.8h0M220.6 254.3h0M214.3 263.5h0M221.0 244.5h0M221.7 283.9h0M219.5 253.0h0M231.5 243.5h0M243.4 247.4h0M223.3 253.7h0M227.2 246.2h0M224.9 267.2h0M228.0 263.6h0M227.7 241.6h0M240.4 288.9h0M218.1 241.6h0M231.4 239.8h0M229.3 263.0h0M235.8 241.3h0M225.1 277.4h0M242.9 252.6h0M216.3 252.2h0M235.0 239.2h0M234.0 248.3h0M224.3 246.4h0M215.8 263.8h0M217.9 265.8h0M246.1 283.3h0M219.3 278.6h0M232.5 249.6h0M215.2 264.3h0M233.8 254.0h0M236.4 241.6h0M230.6 272.2h0M227.2 275.3h0M230.4 245.4h0M227.0 248.4h0M235.8 242.8h0M221.0 267.9h0M226.6 243.0h0M225.1 256.9h0M226.1 244.4h0M216.5 258.4h0M215.7 257.6h0M224.1 246.1h0M248.1 281.0h0M247.0 272.3h0M220.1 254.9h0M230.4 281.4h0M220.1 246.7h0M223.2 258.7h0M230.9 279.9h0M217.3 251.1h0M217.1 243.1h0M247.3 269.9h0M222.7 261.2h0M218.7 257.0h0M218.7 259.7h0M234.9 247.9h0M232.6 248.3h0M217.9 246.7h0M212.7 257.5h0M227.0 261.0h0M219.8 282.1h0M218.8 261.8h0M249.3 274.2h0M213.6 259.9h0M218.2 264.4h0M221.9 246.6h0M232.5 253.2h0M226.6 288.3h0M228.6 264.7h0M218.3 250.5h0M225.9 274.6h0M228.9 237.1h0M225.4 284.3h0M242.6 253.1h0M240.2 270.7h0M237.4 244.1h0M232.2 242.9h0M228.1 247.6h0M222.2 262.5h0M227.4 244.3h0M227.1 248.3h0M214.3 261.5h0M216.8 259.9h0M251.3 283.7h0M234.6 245.5h0M236.9 242.0h0M214.8 253.4h0M220.7 235.5h0M241.3 246.4h0M226.9 262.0h0M214.8 258.4h0M229.3 234.0h0M223.4 265.0h0M226.9 239.1h0M220.3 254.5h0M217.4 262.0h0M249.4 274.0h0M225.1 243.2h0M232.7 284.2h0M226.9 253.1h0M227.5 273.7h0M217.7 261.7h0M253.2 257.3h0M215.5 251.3h0M216.6 264.5h0M216.3 256.8h0M230.8 250.8h0M236.7 280.1h0M228.6 278.0h0M221.3 253.5h0M226.7 285.4h0M238.5 283.5h0M220.4 279.2h0M230.1 245.5h0M222.0 237.3h0M225.3 248.3h0M223.5 255.1h0M224.7 234.9h0M227.2 283.7h0M244.2 284.4h0M229.0 251.0h0M223.1 239.5h0M240.4 275.8h0M242.5 246.0h0M240.2 278.7h0M222.3 241.8h0M237.1 284.1h0M223.6 279.0h0M240.3 245.1h0M223.2 238.6h0M218.3 238.4h0M234.2 246.3h0M220.6 265.5h0M217.1 254.9h0M227.4 273.4h0M228.3 259.5h0M226.5 281.9h0M221.6 239.4h0M221.9 268.7h0M244.1 278.6h0M231.0 247.6h0M228.4 258.2h0M241.0 242.9h0M220.2 235.5h0M243.1 273.6h0M223.5 245.8h0M237.5 245.7h0M233.0 252.9h0M229.2 241.0h0M251.6 260.0h0M227.4 240.2h0M243.7 287.1h0M222.4 258.0h0M222.1 259.1h0M231.3 282.5h0M222.5 285.3h0M236.9 264.0h0M220.0 265.5h0M226.3 248.9h0M218.7 247.2h0M230.3 251.2h0M229.9 244.1h0M231.4 271.2h0M229.0 242.8h0M240.7 247.2h0M241.2 249.1h0M234.6 257.1h0M220.3 240.5h0M232.9 246.7h0M219.2 243.7h0M218.6 249.2h0M226.9 239.2h0M222.6 243.3h0M226.9 266.1h0M222.8 260.4h0M222.1 241.0h0M216.1 261.2h0M235.8 247.2h0M212.3 259.3h0M229.0 273.8h0M220.3 251.5h0M220.6 242.2h0M229.6 279.1h0M222.8 238.2h0M242.8 272.4h0M248.9 262.7h0M219.5 248.2h0M221.9 281.7h0M218.6 262.1h0M223.2 257.0h0M224.3 242.3h0M237.8 267.2h0M222.7 281.0h0M247.9 274.7h0M220.5 260.9h0M230.5 276.9h0M231.5 236.0h0M229.1 243.0h0M245.0 259.7h0M233.0 286.6h0M240.8 258.5h0M220.1 235.7h0M220.0 247.7h0M240.1 250.9h0M218.4 243.6h0M244.0 262.2h0M219.5 247.9h0M238.2 245.5h0M228.9 288.5h0M226.2 279.0h0M223.0 251.2h0M221.4 258.1h0M238.9 246.1h0M221.5 242.3h0M228.8 238.9h0M226.4 244.4h0M223.0 279.9h0M217.3 245.3h0M221.0 240.5h0M223.9 249.6h0M235.0 279.1h0M231.6 257.1h0M220.3 278.4h0M226.6 281.5h0M245.1 263.3h0M224.4 243.7h0M223.1 247.1h0M225.0 238.2h0M226.8 278.3h0M227.9 242.4h0M218.8 260.6h0M227.0 235.4h0M218.5 243.3h0M217.8 255.6h0M228.9 271.1h0M219.5 269.2h0M226.2 271.7h0M246.6 283.4h0M244.3 283.1h0M227.1 246.0h0M231.3 282.1h0M221.5 259.7h0M231.5 278.7h0M218.5 237.4h0M226.2 245.8h0M238.1 248.1h0M238.5 279.8h0M229.5 234.2h0M236.2 276.3h0M222.6 280.8h0M217.6 262.2h0M238.3 246.7h0M235.5 276.5h0M225.9 246.7h0M212.9 261.1h0M227.4 280.0h0M222.7 282.1h0M222.4 278.3h0M217.8 248.9h0M219.9 261.5h0M227.3 241.4h0M217.6 265.7h0M235.3 243.5h0M223.0 255.6h0M241.4 251.2h0M230.0 281.2h0M227.8 260.8h0M239.7 278.2h0M236.4 253.3h0M248.7 281.2h0M248.9 286.1h0M227.0 233.6h0M240.8 242.5h0M276.3 229.3h0M283.1 236.9h0M289.7 265.1h0M296.5 264.2h0M287.1 263.5h0M276.3 231.7h0M297.9 259.0h0M277.6 230.8h0M295.4 265.3h0M298.5 265.8h0M289.3 252.1h0M285.6 242.3h0M294.2 248.9h0M288.1 260.3h0M297.4 258.7h0M297.1 257.9h0M284.8 241.5h0M291.0 259.1h0M297.2 265.0h0M276.9 251.9h0M291.3 265.6h0M294.0 258.4h0M290.9 261.7h0M275.4 253.7h0M277.5 233.4h0M297.9 260.5h0M294.7 258.8h0M296.9 259.2h0M272.2 262.7h0M289.5 262.9h0M291.3 245.6h0M282.5 232.6h0M273.0 246.0h0M289.5 252.8h0M283.1 247.1h0M271.7 245.2h0M284.3 250.1h0M287.4 248.1h0M291.1 257.1h0M286.8 247.9h0M292.2 260.0h0M294.0 263.2h0M289.1 255.4h0M295.2 255.5h0M281.1 253.9h0M288.4 245.2h0M292.7 259.9h0M291.0 259.7h0M292.1 259.5h0M275.1 260.5h0M275.2 242.2h0M274.0 242.7h0M274.3 260.3h0M267.1 245.4h0M277.6 247.7h0M296.1 262.0h0M296.4 265.6h0M284.6 260.8h0M288.2 250.2h0M289.0 268.9h0M292.7 256.0h0M291.5 260.3h0M290.1 252.6h0M299.1 260.8h0M283.7 248.7h0M272.9 247.1h0M295.4 260.0h0M300.7 261.7h0M270.9 261.1h0M301.8 260.7h0M295.3 259.3h0M291.2 260.4h0M278.3 259.8h0M293.0 258.4h0M299.7 265.5h0M292.4 268.8h0M300.4 263.8h0M289.7 258.0h0M296.5 261.3h0M278.6 235.1h0M281.4 248.3h0M301.6 273.4h0M295.4 277.3h0M302.3 271.9h0M294.3 285.9h0M293.6 273.1h0M294.7 278.1h0M299.2 284.6h0M294.0 279.2h0M294.5 282.9h0M290.4 283.9h0M295.1 272.7h0M298.7 274.5h0M287.8 291.8h0M286.3 281.5h0M297.1 289.0h0M295.4 284.1h0M288.1 283.5h0M297.0 280.7h0M289.3 290.2h0M298.9 271.5h0M291.5 270.2h0M290.2 271.1h0M287.9 282.1h0M293.0 279.0h0M300.2 280.6h0M288.8 273.7h0M290.8 282.5h0M297.1 277.4h0M295.9 287.5h0M297.7 278.9h0M295.1 287.2h0M299.1 276.9h0M299.8 272.3h0M297.2 280.8h0M291.8 287.2h0M293.8 276.9h0M294.1 285.1h0M297.1 284.9h0M291.7 272.7h0M292.2 285.2h0M293.2 282.2h0M293.6 274.6h0M293.1 272.8h0M286.1 289.5h0M298.9 289.5h0M300.0 275.9h0M293.7 289.6h0M294.1 278.4h0M289.2 278.1h0M288.6 284.2h0M302.3 280.4h0M299.8 277.6h0M301.9 278.0h0M301.8 286.0h0M295.3 271.0h0M288.1 280.5h0M291.0 277.2h0M294.2 279.8h0M292.0 285.8h0M294.0 291.1h0M290.9 279.7h0M294.9 272.1h0M299.4 283.1h0M295.7 270.8h0M298.0 290.8h0M290.6 283.5h0M294.6 287.2h0M292.3 274.8h0M287.6 291.6h0M297.5 270.8h0M286.9 285.6h0M301.4 285.3h0M288.2 275.6h0M291.3 280.0h0M298.9 282.9h0M291.2 284.5h0M286.4 285.8h0M293.0 277.7h0M298.9 279.1h0M291.3 287.9h0M294.9 292.2h0M299.6 274.7h0M289.1 293.5h0M294.9 282.7h0M286.8 285.7h0M287.0 287.0h0M286.7 292.1h0M286.1 283.2h0M302.6 275.6h0M288.9 289.7h0M298.1 271.9h0M292.0 272.4h0M297.8 284.4h0M291.3 280.3h0M295.1 273.4h0M298.7 287.8h0M296.8 279.2h0M296.1 270.0h0M289.7 289.8h0M297.3 287.8h0M292.9 280.2h0M294.1 275.9h0M288.6 286.1h0M294.8 282.8h0M288.1 288.9h0M296.4 271.2h0M260.8 267.1h0M265.3 266.8h0M260.8 264.7h0M262.7 268.0h0M258.8 268.5h0M262.5 269.2h0M268.9 269.2h0M272.1 279.3h0M274.1 267.1h0M269.2 294.3h0M265.1 304.6h0M271.7 284.5h0M271.4 295.5h0M274.5 283.7h0M261.5 300.7h0M266.8 289.0h0M253.9 296.3h0M269.7 300.8h0M266.3 302.2h0M268.6 299.6h0M260.3 297.3h0" stroke="#e0303a"/>
<path d="M215.7 250.5h0M243.2 287.3h0M241.6 288.6h0M217.5 261.6h0M239.4 244.8h0M221.1 263.4h0M221.4 272.7h0M216.6 262.2h0M237.9 275.6h0M238.3 277.4h0M228.5 255.3h0M224.8 239.6h0M236.7 282.5h0M241.9 243.3h0M224.0 284.8h0M248.8 274.2h0M233.0 243.3h0M222.5 242.2h0M240.3 286.1h0M245.8 281.4h0M225.4 238.4h0M237.0 286.8h0M241.3 243.4h0M223.8 283.4h0M242.8 277.8h0M239.1 281.9h0M225.2 280.3h0M227.8 274.4h0M224.9 283.3h0M217.4 250.3h0M221.2 237.4h0M221.7 266.7h0M216.9 258.0h0M224.6 277.6h0M237.8 245.7h0M221.2 268.8h0M228.3 269.9h0M225.7 241.5h0M219.9 252.4h0M242.2 246.4h0M220.5 270.1h0M222.5 276.8h0M224.9 258.3h0M242.4 277.8h0M218.7 265.5h0M221.4 247.1h0M226.8 252.6h0M234.1 248.9h0M223.7 264.9h0M240.7 279.7h0M215.0 257.5h0M237.7 246.9h0M218.6 253.5h0M230.3 272.5h0M233.4 243.2h0M222.5 256.3h0M225.0 280.9h0M226.5 281.8h0M234.7 241.9h0M243.6 267.6h0M243.1 279.1h0M230.8 242.9h0M240.7 260.1h0M219.7 259.5h0M221.8 248.2h0M241.8 245.5h0M230.0 242.1h0M249.0 282.0h0M241.6 283.2h0M225.3 285.6h0M222.3 266.6h0M229.9 270.6h0M227.1 252.8h0M247.7 284.5h0M222.7 284.2h0M249.5 274.4h0M226.2 268.3h0M223.9 242.0h0M222.5 284.3h0M221.6 258.9h0M223.0 278.8h0M218.2 269.2h0M231.5 275.8h0M227.1 253.1h0M247.5 284.3h0M230.4 259.1h0M227.0 243.3h0M221.1 270.4h0M225.1 242.9h0M224.8 239.1h0M245.7 278.1h0M218.5 260.8h0M244.1 269.0h0M228.0 259.8h0M239.2 261.5h0M240.5 284.4h0M236.9 272.9h0M224.3 238.9h0M244.5 281.1h0M234.4 243.8h0M227.5 242.1h0M232.4 246.9h0M213.9 258.0h0M215.3 250.0h0M224.0 281.9h0M229.6 279.5h0M216.0 249.6h0M212.2 255.8h0M222.0 245.8h0M221.3 262.6h0M232.6 262.8h0M237.9 252.5h0M231.5 273.7h0M228.3 279.7h0M226.9 263.9h0M229.6 281.7h0M226.8 270.0h0M221.6 271.0h0M243.8 286.3h0M227.1 248.0h0M217.5 259.5h0M218.1 250.6h0M218.0 263.9h0M225.1 285.6h0M222.0 283.7h0M222.3 243.4h0M251.7 279.7h0M246.5 281.6h0M244.8 281.6h0M241.5 249.4h0M221.7 263.2h0M222.2 282.2h0M222.3 276.2h0M220.6 282.6h0M227.1 276.1h0M216.9 261.9h0M215.6 264.6h0M232.1 277.6h0M229.2 251.3h0M217.8 256.2h0M225.1 269.3h0M231.2 278.7h0M225.3 260.3h0M238.6 246.6h0M215.6 263.4h0M242.9 271.7h0M221.8 260.4h0M224.7 235.1h0M226.0 274.2h0M226.4 273.4h0M236.9 288.4h0M250.8 277.5h0M238.2 281.9h0M226.3 273.0h0M224.0 265.1h0M236.7 242.4h0M213.0 261.9h0M220.7 273.7h0M220.8 251.3h0M223.1 242.6h0M236.4 253.5h0M220.7 241.0h0M238.1 244.2h0M225.3 237.8h0M221.2 249.8h0M226.1 275.8h0M233.8 241.7h0M217.2 258.8h0M231.4 283.6h0M243.7 249.2h0M243.4 277.5h0M228.6 249.1h0M212.9 260.2h0M231.9 251.0h0M235.5 252.3h0M222.4 274.7h0M242.5 285.7h0M216.8 243.2h0M217.6 259.2h0M246.6 283.8h0M250.9 284.6h0M247.0 287.1h0M232.3 289.0h0M219.6 251.7h0M220.2 276.8h0M240.1 282.9h0M231.7 280.6h0M220.9 247.9h0M227.9 280.2h0M251.0 274.5h0M236.1 241.3h0M226.4 287.0h0M222.0 279.0h0M215.4 266.0h0M220.7 254.6h0M240.2 275.2h0M244.1 273.3h0M226.3 246.1h0M224.9 282.0h0M222.1 241.8h0M223.6 262.2h0M220.2 280.1h0M247.0 288.1h0M237.8 240.6h0M220.1 246.9h0M242.5 276.9h0M221.6 258.7h0M222.6 262.6h0M238.0 280.1h0M234.7 268.1h0M248.3 273.2h0M221.1 279.2h0M229.4 238.6h0M234.1 275.7h0M252.3 282.9h0M221.9 266.8h0M227.9 280.9h0M225.9 262.0h0M227.3 264.4h0M222.0 277.5h0M224.4 279.2h0M245.2 284.4h0M221.1 258.5h0M218.0 264.5h0M230.1 287.6h0M218.7 239.2h0M222.0 282.2h0M224.6 272.8h0M243.8 283.6h0M218.2 265.1h0M226.6 246.9h0M225.9 245.8h0M224.1 284.9h0M228.8 283.1h0M226.6 246.8h0M249.8 285.4h0M234.3 277.0h0M239.5 285.3h0M218.1 257.7h0M227.9 240.3h0M217.4 265.1h0M226.4 246.3h0M225.3 283.3h0M238.7 276.7h0M233.0 273.3h0M233.8 254.0h0M235.6 282.4h0M227.0 241.7h0M239.0 284.5h0M230.5 242.0h0M223.8 243.4h0M246.6 273.6h0M237.9 280.1h0M222.8 251.3h0M238.9 246.2h0M243.9 281.6h0M223.5 285.6h0M219.2 265.7h0M214.2 256.3h0M241.9 270.9h0M228.4 273.6h0M247.9 272.4h0M219.3 258.7h0M224.2 233.7h0M214.2 252.9h0M221.0 239.9h0M227.4 251.9h0M229.7 280.0h0M246.3 286.4h0M221.1 253.5h0M234.5 282.9h0M238.2 248.0h0M229.7 239.5h0M233.2 267.6h0M225.7 233.6h0M234.9 245.2h0M228.1 288.7h0M229.0 284.5h0M229.1 246.5h0M221.9 263.6h0M230.8 236.2h0M229.5 243.2h0M233.2 244.8h0M264.9 240.6h0M278.0 255.4h0M284.6 246.5h0M286.4 243.5h0M298.5 242.1h0M287.7 241.6h0M292.2 247.6h0M264.7 242.6h0M275.8 230.9h0M281.6 262.3h0M286.2 235.0h0M285.2 244.3h0M278.7 259.6h0M276.3 243.6h0M295.3 245.2h0M292.0 239.1h0M282.9 253.4h0M290.1 254.6h0M284.6 249.7h0M282.9 247.2h0M269.4 244.3h0M292.3 244.0h0M299.1 258.2h0M269.3 235.7h0M272.3 254.6h0M294.8 245.6h0M273.6 236.2h0M264.1 240.1h0M269.9 236.9h0M271.0 258.9h0M277.8 240.1h0M293.0 256.0h0M291.2 240.2h0M291.0 242.3h0M290.1 243.5h0M279.0 258.8h0M271.4 236.7h0M290.7 261.8h0M274.6 235.6h0M287.6 249.3h0M285.9 251.8h0M276.2 233.5h0M276.9 238.4h0M280.7 237.5h0M279.0 261.4h0M280.6 253.0h0M295.3 238.1h0M281.2 232.5h0M281.3 263.0h0M280.7 258.5h0M280.0 241.9h0M296.1 244.1h0M287.5 235.5h0M281.0 233.7h0M280.2 242.4h0M271.8 243.3h0M277.6 252.2h0M280.3 257.0h0M276.2 261.4h0M286.2 248.0h0M288.9 238.7h0M291.4 243.1h0M293.8 259.6h0M281.6 254.9h0M289.5 246.8h0M290.7 239.9h0M277.5 262.4h0M280.5 261.1h0M298.9 264.6h0M279.2 241.1h0M272.4 254.6h0M288.7 242.7h0M279.8 240.7h0M286.1 267.6h0M276.9 228.2h0M287.9 252.9h0M275.3 258.2h0M298.4 263.2h0M280.7 248.6h0M286.4 243.2h0M278.1 235.4h0M278.3 235.3h0M290.1 246.0h0M269.3 247.8h0M272.3 233.3h0M291.2 244.1h0M277.9 241.1h0M277.0 229.2h0M270.7 250.4h0M276.5 254.1h0M265.0 236.7h0M278.1 258.2h0M274.7 263.5h0M294.4 251.6h0M283.7 246.7h0M271.5 261.0h0M271.0 243.0h0M287.2 244.1h0M270.7 234.6h0M272.4 234.7h0M287.6 252.5h0M274.2 261.8h0M291.2 264.2h0M289.5 249.6h0M274.7 232.1h0M278.8 228.8h0M291.4 245.6h0M277.8 236.4h0M283.8 239.8h0M279.2 256.8h0M275.1 255.5h0M282.0 244.8h0M285.7 256.1h0M279.7 244.1h0M274.1 245.4h0M276.8 245.1h0M264.9 242.3h0M280.1 254.3h0M274.6 234.3h0M281.1 264.7h0M278.3 247.2h0M279.8 236.8h0M266.5 240.9h0M278.4 266.2h0M286.6 260.1h0M295.4 266.3h0M266.5 239.7h0M270.2 243.1h0M288.6 243.9h0M279.6 243.0h0M281.0 244.4h0M265.0 236.7h0M288.9 241.6h0M289.4 248.7h0M291.5 240.1h0M282.2 246.6h0M279.9 266.5h0M278.2 237.0h0M273.8 235.6h0M284.7 261.3h0M268.2 242.5h0M267.4 233.6h0M280.2 260.3h0M272.9 265.7h0M288.9 245.5h0M289.0 268.8h0M279.2 239.4h0M270.6 233.4h0M292.0 242.7h0M273.8 239.9h0M282.7 247.5h0M282.9 249.9h0M283.8 254.3h0M289.3 239.7h0M285.3 237.6h0M278.3 234.0h0M271.1 242.5h0M282.6 232.3h0M269.1 247.9h0M267.5 241.9h0M269.7 243.7h0M278.6 236.3h0M273.7 242.4h0M287.7 247.4h0M279.4 250.7h0M269.7 242.8h0M288.8 257.7h0M269.8 232.1h0M278.3 243.2h0M266.6 241.0h0M285.7 256.8h0M284.5 254.3h0M280.4 232.2h0M279.9 239.2h0M280.7 229.5h0M284.8 234.3h0M288.7 241.4h0M295.2 254.5h0M278.3 255.4h0M279.3 233.3h0M278.1 253.0h0M276.3 246.6h0M272.1 246.4h0M284.8 239.4h0M276.1 255.5h0M270.7 243.2h0M298.3 242.6h0M272.6 255.1h0M272.4 254.4h0M281.3 254.5h0M292.0 248.5h0M291.1 237.8h0M275.8 250.4h0M274.5 235.4h0M271.3 246.4h0M284.3 237.5h0M285.6 236.5h0M279.0 253.5h0M267.3 237.8h0M281.5 241.7h0M280.2 248.7h0M287.3 254.5h0M290.7 239.5h0M285.3 252.9h0M275.4 233.7h0M286.3 255.6h0M281.5 251.6h0M279.0 241.6h0M280.6 246.9h0M285.8 246.2h0M292.7 237.5h0M290.4 240.4h0M277.6 238.9h0M282.7 261.6h0M292.8 261.4h0M286.1 239.7h0M285.9 234.6h0M284.0 265.7h0M291.2 243.2h0M279.8 245.0h0M277.8 244.8h0M286.7 266.2h0M274.0 245.9h0M294.0 247.8h0M287.7 243.7h0M284.7 267.1h0M285.2 244.1h0M272.6 246.0h0M293.7 263.9h0M294.3 251.0h0M275.7 260.2h0M265.5 241.3h0M289.4 251.5h0M295.1 263.3h0M275.8 239.7h0M278.8 264.7h0M279.2 239.6h0M280.6 230.0h0M277.9 258.4h0M270.4 235.6h0M278.9 265.4h0M276.0 236.7h0M289.4 245.1h0M276.9 239.3h0M280.5 265.2h0M283.3 247.0h0M295.7 258.4h0M281.3 248.3h0M273.2 241.7h0M293.1 294.4h0M291.2 289.3h0M286.9 287.6h0M295.4 275.4h0M301.0 273.0h0M297.8 269.1h0M296.6 284.8h0M292.3 288.9h0M295.6 280.8h0M290.1 284.1h0M293.7 269.1h0M289.9 287.9h0M293.1 275.9h0M293.6 292.5h0M288.0 279.3h0M288.6 292.9h0M298.6 286.3h0M298.5 273.6h0M295.9 281.2h0M290.9 273.1h0M290.7 294.3h0M261.0 268.7h0M262.1 263.0h0M259.4 264.9h0M260.8 264.6h0M261.2 264.8h0M261.7 263.3h0M261.1 266.3h0M261.0 270.7h0M261.0 265.6h0M263.6 270.6h0M260.7 269.2h0M262.2 263.4h0M261.0 263.6h0M259.1 269.6h0M260.5 269.6h0M275.9 273.5h0M270.7 279.0h0M272.5 272.7h0M265.9 272.8h0M274.5 273.1h0M269.4 277.8h0M267.8 278.1h0M276.6 273.0h0M270.9 269.3h0M274.7 270.8h0M262.9 304.0h0M274.6 293.3h0M264.8 298.2h0M253.9 294.9h0M260.7 299.5h0M272.7 298.4h0M267.2 299.0h0M266.3 302.5h0M272.7 300.6h0M263.8 302.8h0M261.7 305.1h0M269.1 289.7h0M273.5 297.7h0M272.8 290.8h0M269.6 304.6h0M261.3 300.1h0M266.6 301.5h0M263.7 294.5h0M261.5 305.3h0M258.9 303.7h0M268.8 294.4h0M264.5 302.0h0M263.2 295.9h0M271.9 282.0h0M262.5 299.9h0M264.3 295.7h0M266.4 298.0h0M269.0 296.0h0M260.0 295.8h0M264.7 298.2h0M272.3 298.6h0M257.9 303.3h0M258.4 304.1h0M253.9 296.6h0M274.9 285.0h0M262.7 305.5h0M264.4 299.0h0M268.5 302.7h0M273.2 299.5h0M256.2 295.2h0M269.5 302.4h0M274.5 295.2h0M260.9 292.4h0M266.4 297.6h0M264.0 297.3h0M265.1 307.4h0M263.8 294.9h0M258.3 292.2h0M263.2 300.8h0M269.4 299.9h0M259.7 298.3h0M264.0 289.2h0M262.1 305.5h0M265.1 303.8h0M259.9 303.8h0M263.9 301.2h0M261.2 306.1h0M266.5 296.5h0M259.5 301.1h0M260.2 299.4h0M270.1 290.3h0M270.8 294.6h0M270.6 291.0h0M269.3 292.6h0M272.4 295.3h0M264.1 302.9h0M265.3 302.4h0M262.2 297.7h0M257.1 296.8h0M267.6 298.4h0M260.9 295.1h0M264.3 303.8h0M264.8 299.3h0M268.1 298.9h0M262.5 299.0h0M260.7 302.7h0M257.0 298.5h0M255.4 293.9h0M267.1 301.2h0M272.9 287.1h0M262.7 301.5h0M267.0 292.0h0M258.1 298.7h0M258.7 300.7h0M273.2 284.9h0M272.8 292.2h0M260.5 300.5h0M263.3 296.0h0M260.5 296.8h0M260.7 297.4h0M273.2 295.3h0M258.7 293.6h0M263.2 300.5h0M265.5 300.7h0M267.5 304.4h0M263.0 306.4h0M256.9 292.4h0M274.2 293.8h0M273.3 294.2h0M268.1 307.7h0M274.5 296.2h0M258.4 300.7h0M275.3 284.1h0M264.0 301.8h0M265.8 299.6h0M258.5 299.5h0M261.8 298.9h0M259.3 292.6h0M268.2 307.5h0M257.3 302.2h0M260.7 298.1h0" stroke="#3848aa"/>
<path d="M241.9 251.2h0M236.5 247.0h0M223.1 258.7h0M230.9 248.9h0M233.4 247.4h0M231.0 275.7h0M250.7 283.7h0M230.3 279.4h0M219.3 236.6h0M224.9 237.3h0M222.6 244.5h0M226.3 270.6h0M234.1 246.8h0M224.8 274.0h0M219.3 241.7h0M228.4 250.2h0M220.3 245.3h0M228.5 246.7h0M232.9 249.1h0M222.8 271.6h0M230.9 277.6h0M216.8 252.0h0M240.7 243.2h0M248.6 281.1h0M222.2 256.9h0M221.2 238.7h0M242.7 248.2h0M225.9 246.7h0M219.5 240.0h0M223.8 238.6h0M222.0 251.9h0M227.6 270.9h0M237.3 282.8h0M250.8 281.2h0M218.0 242.3h0M217.8 256.3h0M227.5 239.5h0M227.4 284.3h0M228.1 270.1h0M222.6 272.0h0M227.0 234.8h0M220.2 279.4h0M213.8 256.8h0M225.0 234.1h0M222.1 246.1h0M248.6 275.8h0M212.9 261.5h0M241.3 245.9h0M236.0 256.5h0M236.5 247.8h0M223.5 244.7h0M232.8 281.7h0M233.3 243.6h0M224.0 271.5h0M218.3 255.2h0M233.9 249.7h0M229.3 282.2h0M230.9 235.9h0M219.2 238.4h0M226.6 241.1h0M221.8 237.8h0M237.9 276.5h0M221.2 273.3h0M240.9 284.3h0M238.8 246.1h0M227.6 247.0h0M216.8 252.9h0M232.7 279.3h0M245.0 282.6h0M233.5 249.8h0M224.7 260.4h0M222.8 250.0h0M225.2 248.6h0M238.3 246.0h0M225.4 252.0h0M220.1 281.7h0M225.5 245.0h0M219.1 260.2h0M230.3 250.2h0M244.0 283.2h0M236.0 273.5h0M224.8 262.7h0M221.7 250.2h0M253.4 279.9h0M236.3 240.1h0M234.2 246.6h0M235.2 245.3h0M216.4 261.7h0M220.5 253.3h0M225.6 240.5h0M213.5 260.2h0M213.7 264.0h0M223.2 247.5h0M233.0 271.7h0M223.5 238.4h0M220.4 242.8h0M237.2 248.6h0M220.6 244.0h0M233.7 244.9h0M216.6 242.9h0M230.9 281.5h0M217.6 267.0h0M223.6 245.7h0M219.9 245.0h0M224.4 245.2h0M228.1 257.7h0M222.2 275.7h0M224.3 241.5h0M216.9 269.2h0M239.8 286.0h0M242.3 247.5h0M240.7 279.0h0M232.6 245.0h0M224.3 241.5h0M246.7 267.4h0M220.1 243.1h0M241.5 245.2h0M231.5 282.0h0M224.1 240.9h0M216.7 263.8h0M223.1 285.3h0M241.7 249.7h0M223.5 243.6h0M230.7 257.6h0M236.2 285.7h0M215.9 254.8h0M234.6 275.5h0M227.1 238.9h0M228.1 245.2h0M223.1 246.8h0M214.8 252.8h0M236.8 263.0h0M240.3 265.8h0M229.5 239.7h0M223.3 250.4h0M238.8 282.8h0M245.3 281.7h0M213.0 262.9h0M228.3 260.9h0M218.4 248.1h0M245.9 277.7h0M240.8 279.8h0M220.2 259.9h0M224.6 239.7h0M218.4 244.3h0M226.1 280.4h0M223.2 239.2h0M216.9 258.3h0M222.5 269.0h0M237.4 256.1h0M220.9 240.3h0M217.9 247.5h0M226.2 280.5h0M233.7 250.2h0M236.3 254.7h0M240.3 250.8h0M231.3 241.3h0M233.8 241.5h0M228.0 234.2h0M240.4 259.0h0M219.6 254.5h0M227.5 242.7h0M248.1 276.0h0M221.2 265.5h0M219.9 261.0h0M226.0 260.4h0M220.0 262.1h0M234.4 247.5h0M223.9 283.1h0M220.2 244.3h0M221.3 243.1h0M220.1 249.4h0M221.3 254.1h0M226.9 249.5h0M222.2 256.8h0M229.3 243.0h0M214.9 253.9h0M219.8 242.1h0M219.8 259.9h0M229.6 241.0h0M217.9 265.0h0M236.3 247.7h0M234.7 242.5h0M219.5 236.5h0M227.0 245.6h0M222.7 240.7h0M220.3 268.6h0M222.5 238.0h0M219.7 237.0h0M237.5 279.4h0M219.4 276.0h0M244.9 273.3h0M227.1 243.0h0M243.8 258.3h0M225.5 242.4h0M236.4 240.4h0M240.5 245.3h0M227.0 280.3h0M225.2 239.6h0M225.6 255.9h0M227.7 246.2h0M222.5 236.5h0M230.9 269.3h0M233.3 284.0h0M216.5 268.3h0M235.2 251.9h0M225.8 281.7h0M225.8 283.2h0M243.1 279.7h0M239.6 245.9h0M236.5 258.9h0M240.0 280.6h0M231.2 248.3h0M218.5 251.9h0M222.9 264.4h0M231.6 246.3h0M235.0 253.5h0M223.3 260.5h0M231.3 265.4h0M232.9 239.9h0M236.2 247.9h0M237.8 285.5h0M228.0 246.7h0M224.9 284.1h0M241.6 256.4h0M221.9 250.7h0M249.8 281.0h0M235.7 284.0h0M230.7 239.7h0M230.9 257.3h0M238.3 255.0h0M233.4 267.7h0M230.8 277.2h0M217.2 268.7h0M224.3 243.9h0M220.9 268.0h0M249.4 273.7h0M219.3 264.0h0M232.7 275.5h0M226.0 269.0h0M212.1 256.2h0M230.1 277.1h0M236.8 249.5h0M238.5 242.1h0M246.8 260.2h0M252.3 284.8h0M226.2 243.9h0M224.5 261.0h0M235.7 261.9h0M243.4 255.0h0M224.1 269.4h0M222.9 247.0h0M219.7 247.1h0M228.6 234.0h0M220.4 241.5h0M216.7 258.3h0M237.9 246.2h0M227.3 247.5h0M217.0 243.0h0M230.4 247.1h0M247.7 269.9h0M225.9 241.0h0M227.6 256.3h0M224.6 257.4h0M244.3 250.7h0M228.5 250.6h0M224.0 252.0h0M219.4 245.2h0M239.3 281.5h0M215.6 255.5h0M228.9 255.6h0M219.5 268.4h0M215.6 259.5h0M227.2 243.3h0M244.1 264.6h0M218.2 255.6h0M226.9 243.5h0M219.6 240.6h0M219.4 265.1h0M241.3 282.3h0M220.2 239.4h0M220.5 243.8h0M232.6 246.4h0M224.7 257.9h0M215.0 253.0h0M228.0 279.7h0M219.7 252.0h0M213.9 255.8h0M229.1 247.1h0M227.6 241.2h0M215.4 257.2h0M220.5 248.6h0M238.3 249.9h0M221.8 267.3h0M232.3 235.9h0M222.3 237.4h0M219.2 241.2h0M289.1 260.7h0M280.9 269.2h0M295.9 256.7h0M273.0 230.7h0M297.6 260.8h0M299.3 259.6h0M285.4 264.8h0M300.0 262.4h0M284.5 249.6h0M291.9 257.3h0M298.6 257.6h0M294.1 267.6h0M284.9 241.7h0M270.6 233.9h0M289.6 251.9h0M297.8 256.2h0M291.4 258.6h0M293.0 254.4h0M290.3 255.1h0M275.5 252.7h0M270.1 237.8h0M295.6 265.0h0M281.3 251.1h0M293.6 259.7h0M272.9 230.3h0M290.4 254.4h0M274.0 232.4h0M294.2 265.0h0M273.9 234.2h0M295.3 255.1h0M292.8 264.6h0M295.9 260.4h0M286.9 240.0h0M283.3 245.5h0M284.7 238.5h0M294.9 263.1h0M293.9 258.8h0M296.5 256.1h0M292.1 260.1h0M284.7 248.0h0M289.3 253.4h0M296.0 264.0h0M295.4 253.5h0M282.9 239.8h0M292.2 267.2h0M275.2 231.9h0M292.9 257.2h0M284.4 255.1h0M291.6 254.9h0M287.9 250.0h0M294.3 261.5h0M294.0 263.6h0M295.5 243.2h0M267.6 238.2h0M289.6 255.3h0M275.3 253.8h0M287.1 248.1h0M282.0 256.9h0M294.7 263.2h0M288.4 235.5h0M291.5 257.2h0M291.1 257.4h0M300.1 262.3h0M282.7 245.8h0M280.7 244.4h0M292.8 260.8h0M292.6 263.0h0M296.6 259.2h0M285.9 250.8h0M293.6 253.7h0M272.4 249.5h0M280.4 232.3h0M274.9 232.7h0M300.9 262.3h0M275.4 245.4h0M292.6 259.1h0M273.8 243.9h0M290.0 237.9h0M277.5 239.8h0M295.3 255.9h0M286.8 255.6h0M280.9 250.9h0M291.6 276.0h0M286.9 286.3h0M294.5 278.0h0M294.8 275.6h0M295.6 271.7h0M289.9 284.5h0M289.1 272.4h0M297.7 281.0h0M286.7 283.6h0M293.9 273.2h0M299.5 288.7h0M292.6 279.2h0M294.9 280.9h0M289.6 277.6h0M297.9 285.4h0M291.3 278.1h0M297.7 274.0h0M298.1 284.7h0M289.6 275.0h0M290.1 279.6h0M298.6 285.5h0M288.9 286.4h0M300.5 283.9h0M295.3 282.4h0M296.8 282.5h0M287.3 285.1h0M286.1 291.1h0M295.9 272.9h0M291.4 293.1h0M297.7 271.2h0M300.4 277.5h0M295.5 282.4h0M289.5 287.7h0M293.4 288.4h0M292.5 291.8h0M296.1 277.7h0M292.0 273.0h0M298.4 278.3h0M287.4 291.5h0M297.4 278.1h0M295.0 270.6h0M291.9 275.7h0M295.4 273.2h0M296.1 269.8h0M291.4 279.9h0M292.8 271.6h0M299.4 279.9h0M297.8 271.3h0M292.5 286.5h0M290.9 274.8h0M298.9 289.0h0M285.2 283.9h0M296.3 287.5h0M298.3 275.2h0M301.1 281.8h0M290.4 293.3h0M295.7 278.2h0M297.2 269.4h0M298.7 288.5h0M292.7 291.3h0M285.5 287.0h0M293.0 284.4h0M289.9 284.0h0M294.9 289.9h0M302.0 277.8h0M297.6 284.1h0M290.6 286.4h0M295.9 283.9h0M300.7 282.0h0M292.8 270.1h0M294.2 277.8h0M294.9 290.1h0M301.1 273.2h0M301.5 273.2h0M296.3 289.5h0M293.1 281.9h0M289.4 289.4h0M290.8 277.3h0M292.7 278.2h0M300.7 271.1h0M295.6 274.1h0M289.8 278.1h0M302.1 277.1h0M291.4 283.1h0M294.7 270.9h0M298.6 277.2h0M290.7 284.0h0M292.1 274.7h0M297.0 285.6h0M286.4 288.9h0M300.4 284.4h0M293.8 294.2h0M293.1 277.1h0M298.3 270.2h0M292.6 277.1h0M290.0 290.3h0M292.2 280.4h0M285.9 283.7h0M294.8 282.5h0M290.9 288.9h0M299.7 277.0h0M290.1 275.0h0M297.7 274.1h0M290.3 285.6h0M288.9 274.0h0M287.6 289.5h0M263.4 269.4h0M261.6 268.3h0M260.4 263.3h0M262.2 267.8h0M262.0 264.9h0M262.0 266.6h0M268.5 276.3h0M273.7 265.6h0M266.7 272.4h0M269.6 285.7h0M272.0 295.8h0M266.4 305.7h0M261.9 298.8h0M258.8 297.0h0M264.6 298.7h0M259.6 296.1h0M256.5 296.5h0M264.4 297.5h0M259.8 301.4h0M260.8 295.3h0M257.8 301.5h0" stroke="#e0303a"/>
<path d="M228.7 281.9h0M229.6 239.0h0M232.2 275.2h0M231.0 237.3h0M239.0 274.4h0M235.5 251.0h0M234.2 242.2h0M231.4 277.1h0M227.7 238.6h0M222.7 279.8h0M243.1 284.9h0M219.5 249.2h0M229.4 285.9h0M226.7 261.9h0M247.4 282.4h0M236.8 246.2h0M219.1 278.0h0M229.2 254.0h0M235.3 273.4h0M228.8 273.7h0M226.6 257.8h0M228.8 283.1h0M231.6 240.4h0M222.1 256.7h0M252.0 284.7h0M224.4 275.7h0M243.8 266.5h0M224.7 281.9h0M214.9 263.4h0M226.0 253.0h0M225.8 265.8h0M233.6 254.8h0M230.1 239.1h0M240.3 275.8h0M242.7 287.9h0M226.2 258.4h0M239.7 245.3h0M219.4 261.9h0M228.0 273.9h0M225.2 255.9h0M235.2 251.3h0M219.8 239.9h0M223.6 277.9h0M219.2 239.0h0M232.5 275.4h0M233.4 248.6h0M224.5 284.7h0M237.7 283.5h0M229.4 235.8h0M220.9 252.9h0M236.2 247.2h0M230.2 281.9h0M216.5 264.1h0M222.9 283.2h0M247.4 278.3h0M245.1 264.8h0M232.0 287.9h0M214.8 257.4h0M220.5 261.2h0M247.6 273.5h0M227.9 277.7h0M243.8 277.9h0M240.9 280.0h0M223.1 263.0h0M220.6 251.4h0M230.4 279.9h0M225.8 257.9h0M215.5 252.0h0M224.6 245.5h0M236.9 256.9h0M238.0 262.3h0M251.0 283.8h0M248.1 287.2h0M213.3 261.8h0M222.8 254.8h0M222.1 275.2h0M222.5 277.4h0M212.5 263.2h0M220.5 276.4h0M227.3 237.4h0M240.8 274.4h0M219.1 238.6h0M239.7 248.8h0M246.1 288.3h0M227.4 283.7h0M216.6 260.6h0M231.3 244.7h0M231.7 269.3h0M223.9 254.8h0M246.5 281.7h0M249.9 280.3h0M222.5 243.8h0M243.5 278.5h0M225.8 275.9h0M222.4 274.5h0M231.7 248.4h0M217.8 255.4h0M241.7 286.7h0M220.4 265.2h0M238.8 287.3h0M220.5 246.5h0M236.0 277.4h0M220.5 262.3h0M224.9 239.3h0M217.3 265.0h0M233.2 270.4h0M217.3 262.4h0M237.0 277.7h0M225.4 273.9h0M213.8 254.5h0M239.7 280.1h0M224.2 261.6h0M222.0 271.0h0M240.9 281.7h0M229.8 260.7h0M236.8 249.5h0M231.0 275.4h0M232.4 245.7h0M219.5 236.3h0M227.4 234.2h0M226.2 249.6h0M224.8 247.1h0M235.9 247.6h0M228.5 240.5h0M237.6 248.1h0M238.6 276.2h0M226.1 254.6h0M235.5 282.5h0M223.8 251.7h0M240.1 280.8h0M216.8 248.1h0M224.8 256.5h0M219.9 262.8h0M228.5 283.4h0M223.3 265.5h0M222.5 255.0h0M244.0 284.7h0M226.1 265.2h0M229.9 242.3h0M235.6 254.4h0M234.4 287.8h0M213.2 263.8h0M215.4 264.6h0M224.4 238.3h0M225.2 239.5h0M224.2 285.2h0M250.0 281.3h0M222.5 273.4h0M225.3 238.4h0M224.0 244.0h0M224.3 277.7h0M222.9 257.8h0M252.7 278.9h0M227.7 265.8h0M243.8 280.5h0M237.9 243.0h0M234.1 280.6h0M217.1 256.4h0M214.5 251.0h0M240.2 287.1h0M220.0 259.2h0M245.4 277.8h0M219.3 248.3h0M239.2 274.8h0M248.4 278.8h0M224.4 277.3h0M240.6 277.0h0M241.4 275.8h0M228.5 270.1h0M223.7 245.2h0M240.9 272.5h0M227.0 244.0h0M223.8 257.5h0M222.2 276.4h0M222.8 255.4h0M223.7 258.5h0M226.7 286.0h0M226.3 256.7h0M222.5 255.5h0M223.4 278.0h0M220.5 237.6h0M231.4 281.9h0M227.6 251.9h0M224.2 237.0h0M222.6 266.0h0M234.0 237.7h0M217.1 251.8h0M224.3 278.6h0M219.9 270.1h0M233.9 283.7h0M235.6 242.4h0M217.1 257.6h0M242.9 252.1h0M236.5 256.1h0M213.3 265.8h0M229.3 242.9h0M217.3 259.2h0M219.9 261.7h0M232.9 278.3h0M238.9 280.7h0M217.9 238.9h0M229.2 244.1h0M238.1 277.3h0M218.1 257.3h0M216.6 260.2h0M225.6 276.9h0M220.8 252.9h0M221.9 262.3h0M219.2 258.6h0M230.9 244.5h0M225.1 284.8h0M223.1 245.4h0M242.4 245.4h0M220.6 263.1h0M220.3 258.7h0M224.6 280.0h0M221.0 282.1h0M246.2 279.8h0M227.0 238.0h0M230.2 271.4h0M224.3 235.5h0M242.6 283.0h0M250.0 258.8h0M224.2 250.9h0M230.7 284.4h0M231.4 287.2h0M227.9 284.2h0M224.5 265.1h0M220.0 255.9h0M233.9 286.5h0M215.8 261.8h0M218.6 245.6h0M227.2 275.0h0M245.8 280.7h0M220.9 274.9h0M232.2 289.1h0M223.6 253.6h0M216.9 242.6h0M216.9 252.1h0M223.2 237.0h0M236.1 258.4h0M232.6 263.4h0M230.6 247.3h0M227.6 259.7h0M234.8 246.3h0M228.0 285.3h0M247.4 280.6h0M214.3 266.1h0M234.6 251.9h0M250.5 276.7h0M224.9 271.9h0M237.4 285.3h0M222.6 256.8h0M223.2 282.5h0M225.9 281.5h0M229.5 277.9h0M236.1 240.4h0M223.3 275.9h0M219.6 261.5h0M226.1 280.3h0M222.9 253.8h0M218.1 242.3h0M237.4 241.9h0M219.6 276.8h0M233.9 247.3h0M236.0 243.0h0M221.4 242.8h0M227.0 247.9h0M221.8 243.5h0M236.0 240.0h0M225.9 255.6h0M230.1 268.4h0M232.4 276.9h0M219.7 257.1h0M240.2 286.0h0M230.3 266.6h0M228.8 246.3h0M237.0 273.2h0M217.5 267.4h0M242.8 277.1h0M224.5 285.4h0M239.8 281.7h0M225.0 245.2h0M285.2 263.9h0M274.1 262.3h0M281.5 253.6h0M287.1 239.6h0M275.6 247.1h0M278.9 257.8h0M279.2 236.6h0M288.4 240.8h0M278.2 239.8h0M289.2 244.9h0M297.9 265.0h0M269.8 240.0h0M268.1 247.2h0M274.4 244.2h0M284.4 242.7h0M281.4 258.0h0M288.4 243.7h0M293.4 247.9h0M294.6 253.5h0M283.2 241.9h0M286.1 252.1h0M290.8 243.4h0M272.3 257.0h0M266.7 246.5h0M266.8 241.9h0M288.6 250.8h0M276.8 262.4h0M278.1 255.4h0M272.6 265.0h0M278.6 240.6h0M290.7 264.2h0M269.2 236.4h0M282.2 247.3h0M290.9 237.3h0M277.7 245.5h0M288.0 235.3h0M297.9 239.5h0M284.1 245.6h0M281.9 254.4h0M277.4 258.7h0M286.1 250.1h0M293.2 239.5h0M291.8 250.2h0M266.7 241.0h0M278.4 257.4h0M273.2 257.0h0M273.0 259.3h0M278.8 252.7h0M293.0 247.3h0M278.5 242.7h0M286.8 250.5h0M275.6 247.0h0M288.6 266.1h0M283.3 237.6h0M287.6 252.1h0M272.7 256.1h0M277.6 232.3h0M282.9 241.4h0M288.6 250.5h0M274.5 248.7h0M271.7 234.7h0M274.8 243.8h0M287.7 261.7h0M291.2 243.9h0M287.3 247.4h0M293.7 237.7h0M266.0 242.1h0M296.4 239.9h0M274.7 231.4h0M277.5 254.6h0M272.0 236.9h0M268.9 242.6h0M277.8 246.4h0M290.2 241.3h0M288.5 241.2h0M284.2 237.6h0M279.5 255.8h0M276.3 234.4h0M267.0 243.4h0M292.6 244.2h0M273.7 239.6h0M275.4 236.5h0M269.0 236.8h0M278.2 229.0h0M288.0 251.9h0M285.2 239.8h0M285.6 239.4h0M288.4 265.8h0M271.1 253.5h0M283.0 247.1h0M281.9 232.8h0M280.9 261.6h0M275.1 260.0h0M282.8 244.8h0M281.5 248.5h0M279.8 250.7h0M291.1 245.1h0M290.7 244.3h0M278.1 260.4h0M284.2 264.1h0M286.9 241.6h0M280.0 238.0h0M285.1 247.5h0M276.5 234.5h0M281.6 261.2h0M282.1 262.8h0M288.7 238.7h0M292.4 258.5h0M283.6 246.7h0M276.6 265.4h0M298.4 262.6h0M268.5 247.1h0M278.8 230.7h0M287.8 247.4h0M268.0 242.7h0M274.9 231.6h0M278.0 256.9h0M282.5 236.2h0M277.5 229.4h0M283.7 245.5h0M281.9 241.4h0M290.1 253.5h0M293.9 237.9h0M274.9 238.8h0M277.6 230.5h0M278.6 252.2h0M286.3 252.3h0M289.0 257.9h0M271.4 246.6h0M285.4 252.0h0M289.9 255.8h0M272.4 239.2h0M283.0 236.7h0M288.1 247.2h0M297.3 258.6h0M287.0 251.5h0M274.7 251.3h0M284.7 249.1h0M278.9 230.9h0M281.2 256.0h0M278.9 231.8h0M281.8 243.5h0M266.8 238.3h0M269.7 249.1h0M281.2 264.4h0M276.9 262.9h0M272.5 251.4h0M285.7 250.9h0M284.3 261.6h0M286.0 240.6h0M278.3 244.4h0M275.4 233.9h0M288.2 235.5h0M297.1 239.4h0M290.4 242.3h0M266.3 235.9h0M281.3 250.5h0M278.3 232.0h0M287.1 242.0h0M277.7 234.1h0M285.3 246.8h0M279.7 241.2h0M267.9 239.5h0M277.4 229.6h0M282.4 255.3h0M276.9 232.6h0M288.6 243.6h0M283.9 253.4h0M272.9 255.1h0M273.0 246.8h0M274.5 241.4h0M280.6 241.9h0M278.7 232.9h0M291.1 236.4h0M293.3 244.7h0M297.1 262.9h0M279.4 240.2h0M267.1 238.7h0M275.5 258.5h0M285.7 244.5h0M277.8 230.8h0M265.8 236.0h0M283.7 267.0h0M287.1 251.0h0M281.1 229.3h0M285.0 250.6h0M284.5 234.1h0M286.0 240.3h0M288.1 260.2h0M274.8 230.9h0M288.9 245.7h0M282.0 268.0h0M270.5 240.9h0M297.3 240.5h0M273.9 258.3h0M278.2 245.0h0M279.5 240.6h0M267.3 240.8h0M278.4 246.6h0M285.0 266.6h0M287.9 240.1h0M282.8 243.5h0M290.2 236.6h0M276.3 264.6h0M275.1 238.3h0M291.0 242.8h0M281.6 261.6h0M280.2 236.9h0M268.7 244.5h0M274.7 263.2h0M284.8 236.8h0M280.7 256.3h0M290.9 251.3h0M281.6 250.7h0M300.0 263.0h0M284.8 250.6h0M293.4 261.9h0M275.6 255.2h0M278.3 260.2h0M279.9 256.9h0M278.7 253.1h0M281.8 241.6h0M274.9 234.4h0M287.1 260.2h0M291.5 247.3h0M277.0 236.8h0M268.5 251.0h0M280.8 238.2h0M270.0 242.9h0M289.4 251.1h0M280.6 235.4h0M277.9 236.4h0M284.0 251.5h0M278.2 266.4h0M288.7 238.6h0M290.0 241.8h0M291.1 238.0h0M277.0 235.9h0M272.4 262.3h0M288.3 260.8h0M279.8 264.7h0M281.5 261.2h0M279.7 229.3h0M281.1 257.0h0M272.0 232.6h0M276.8 262.7h0M278.1 233.5h0M280.8 244.8h0M278.1 255.5h0M291.2 272.2h0M300.7 283.5h0M300.4 279.3h0M288.2 277.8h0M289.7 286.5h0M290.3 278.1h0M293.5 271.0h0M290.7 293.1h0M301.2 285.9h0M300.7 270.0h0M301.2 272.4h0M290.5 273.9h0M288.9 281.0h0M294.5 271.1h0M293.1 276.2h0M294.8 272.0h0M299.3 282.9h0M298.9 273.1h0M289.4 289.4h0M297.8 290.9h0M293.6 294.0h0M263.7 271.1h0M263.0 269.4h0M260.5 266.2h0M262.9 265.1h0M262.8 266.1h0M260.6 265.2h0M258.7 268.5h0M260.7 264.9h0M260.9 268.0h0M261.9 264.3h0M262.2 267.9h0M265.0 266.7h0M261.2 264.5h0M264.2 270.9h0M275.4 270.8h0M276.6 268.7h0M269.7 272.0h0M276.2 270.3h0M269.1 270.8h0M269.9 271.2h0M267.8 275.6h0M273.3 277.9h0M268.4 271.5h0M270.2 277.6h0M272.5 276.8h0M262.7 300.4h0M263.7 297.5h0M262.2 300.8h0M264.6 305.7h0M259.5 302.7h0M269.1 295.7h0M265.7 308.9h0M263.7 301.1h0M261.9 296.8h0M260.7 303.1h0M269.0 301.4h0M265.2 294.8h0M272.4 298.5h0M267.9 303.4h0M264.7 301.6h0M265.4 293.8h0M269.5 293.5h0M268.6 302.7h0M260.4 301.2h0M267.5 302.0h0M272.9 288.9h0M267.7 299.3h0M270.5 303.4h0M271.7 298.2h0M263.4 304.8h0M265.5 306.4h0M263.4 303.7h0M272.6 295.2h0M257.0 295.5h0M275.7 285.6h0M266.6 307.5h0M260.8 296.8h0M268.3 301.4h0M264.8 302.8h0M258.4 302.4h0M269.0 304.5h0M264.3 304.9h0M266.4 294.6h0M263.4 306.3h0M259.1 304.5h0M269.2 305.7h0M263.8 297.5h0M262.3 290.8h0M258.6 294.5h0M269.4 301.7h0M261.0 296.8h0M264.3 302.3h0M264.1 299.2h0M268.8 292.8h0M264.7 307.3h0M270.6 300.8h0M265.7 302.5h0M266.8 303.3h0M269.6 300.6h0M259.2 301.1h0M263.0 290.6h0M274.2 280.3h0M263.0 301.6h0M274.6 290.6h0M271.5 295.6h0M262.0 292.8h0M270.2 294.7h0M275.1 296.4h0M272.9 289.9h0M273.2 296.6h0M263.8 308.1h0M258.4 302.5h0M256.8 297.3h0M259.2 304.2h0M261.8 301.5h0M266.1 299.2h0M262.3 302.2h0M270.2 293.2h0M266.4 304.8h0M269.5 299.2h0M271.0 292.5h0M268.8 301.3h0M269.9 290.7h0M261.9 302.8h0M268.1 289.8h0M274.7 293.9h0M270.1 288.1h0M274.2 296.3h0M268.5 303.0h0M257.9 292.4h0M270.1 300.6h0M269.5 296.5h0M272.2 282.7h0M275.2 284.8h0M273.7 292.9h0M261.7 301.5h0M263.9 293.2h0M268.6 296.4h0M267.8 298.3h0M271.4 302.4h0M268.4 297.5h0M259.2 303.2h0M275.2 289.4h0M263.2 294.5h0M263.3 300.4h0M260.8 300.3h0M262.1 300.7h0M262.0 301.7h0M270.1 300.4h0M266.4 291.2h0M262.8 306.0h0M268.6 301.4h0M269.5 290.4h0M263.2 307.8h0M261.9 297.5h0M272.3 297.7h0" stroke="#3848aa"/>
<path d="M219.2 265.3h0M236.2 283.0h0M227.4 266.0h0M220.2 260.4h0M246.2 285.1h0M231.8 242.7h0M223.2 257.5h0M222.2 253.9h0M216.3 243.6h0M247.1 270.7h0M221.3 242.0h0M238.4 244.4h0M234.6 287.9h0M240.1 248.9h0M234.8 278.7h0M244.2 275.4h0M227.1 248.8h0M221.3 249.8h0M221.9 238.3h0M217.5 262.3h0M248.6 283.2h0M222.4 261.2h0M221.0 256.5h0M241.2 275.5h0M252.8 256.8h0M229.8 282.6h0M234.6 247.6h0M219.5 246.4h0M228.7 236.0h0M233.7 251.2h0M214.0 260.3h0M248.9 286.9h0M224.0 265.4h0M220.9 258.8h0M223.9 244.0h0M238.5 249.1h0M221.4 234.7h0M240.5 245.3h0M226.7 260.3h0M220.1 263.7h0M251.9 281.3h0M248.6 262.4h0M226.0 261.3h0M242.8 281.5h0M215.8 250.6h0M222.7 245.6h0M246.9 263.7h0M242.6 287.4h0M236.9 247.9h0M236.5 251.7h0M228.1 238.0h0M223.3 266.9h0M216.7 245.8h0M219.3 249.8h0M227.1 242.2h0M219.3 244.4h0M225.3 288.2h0M234.0 250.5h0M226.2 251.5h0M221.1 256.7h0M227.1 250.8h0M223.6 238.8h0M226.6 245.0h0M247.3 282.6h0M228.5 282.2h0M229.2 285.3h0M230.1 282.0h0M221.5 280.1h0M227.5 237.8h0M218.8 250.2h0M224.6 257.0h0M226.8 284.0h0M224.1 255.0h0M230.3 235.7h0M227.3 256.8h0M230.7 261.9h0M239.6 247.3h0M215.4 263.1h0M223.9 281.2h0M219.8 278.2h0M223.4 260.8h0M238.1 280.4h0M215.6 264.8h0M241.9 247.1h0M242.7 289.5h0M224.0 238.8h0M238.5 253.0h0M234.7 255.9h0M224.6 239.5h0M243.3 245.7h0M221.1 245.9h0M226.5 277.7h0M231.3 281.4h0M217.8 245.2h0M223.6 243.2h0M222.9 242.0h0M217.3 249.0h0M230.0 244.9h0M223.0 248.8h0M218.0 243.8h0M220.9 252.5h0M234.5 246.0h0M244.9 269.7h0M225.6 251.2h0M242.3 283.5h0M238.0 248.6h0M220.8 235.8h0M226.2 261.5h0M232.6 265.7h0M224.8 279.0h0M225.7 271.4h0M246.1 274.1h0M224.2 269.9h0M229.1 253.3h0M233.6 239.3h0M222.5 275.9h0M219.4 236.2h0M220.1 252.9h0M215.7 250.8h0M244.5 283.1h0M228.1 243.2h0M246.6 258.8h0M237.4 282.0h0M215.7 262.4h0M228.7 281.9h0M230.3 241.2h0M229.6 248.3h0M217.4 258.3h0M234.1 289.6h0M213.7 259.1h0M220.1 267.9h0M218.7 242.4h0M216.7 260.2h0M228.1 234.9h0M242.4 266.9h0M227.7 283.1h0M217.8 252.3h0M220.8 238.9h0M221.9 243.0h0M226.9 281.9h0M222.3 241.1h0M215.6 257.7h0M247.9 282.2h0M221.3 271.0h0M228.9 283.4h0M232.8 239.0h0M218.9 252.3h0M239.3 241.3h0M242.1 260.9h0M227.9 268.6h0M224.1 261.9h0M213.5 266.1h0M224.2 240.7h0M227.3 247.9h0M219.8 267.2h0M222.2 243.9h0M220.7 263.2h0M241.8 277.5h0M236.6 285.7h0M224.4 254.6h0M224.7 246.1h0M245.2 276.4h0M252.9 256.6h0M233.8 257.0h0M234.2 250.0h0M234.1 248.3h0M216.5 266.9h0M234.4 248.3h0M222.1 240.0h0M219.2 265.1h0M221.8 257.6h0M242.3 246.8h0M229.3 273.6h0M222.6 253.3h0M225.2 258.0h0M226.2 240.1h0M224.1 244.3h0M234.6 251.6h0M232.4 268.0h0M228.1 246.4h0M221.4 279.8h0M239.8 249.4h0M227.5 243.4h0M231.0 260.4h0M218.7 245.2h0M229.8 250.3h0M226.3 247.5h0M225.4 271.8h0M225.1 240.2h0M218.6 241.5h0M247.5 265.7h0M248.6 278.4h0M216.4 249.9h0M239.8 287.7h0M225.1 260.2h0M226.3 265.6h0M226.0 261.5h0M222.4 239.7h0M240.4 247.8h0M225.0 253.0h0M217.3 252.0h0M243.1 245.1h0M221.8 284.8h0M220.0 252.3h0M221.5 234.7h0M242.8 288.1h0M224.7 243.9h0M237.9 248.6h0M223.0 249.1h0M252.8 278.7h0M222.4 267.0h0M243.1 279.9h0M222.3 259.0h0M229.3 274.3h0M216.7 252.8h0M228.9 281.6h0M222.5 247.5h0M223.9 281.6h0M238.0 244.9h0M219.4 246.7h0M222.5 259.9h0M244.3 288.2h0M221.2 243.9h0M219.1 259.5h0M241.6 244.6h0M245.0 286.6h0M224.5 242.7h0M225.4 248.8h0M217.3 251.1h0M229.8 290.2h0M227.2 247.8h0M217.7 267.2h0M233.3 236.8h0M223.4 252.6h0M238.7 243.9h0M241.4 278.0h0M252.8 284.3h0M225.4 250.4h0M219.8 254.8h0M232.6 289.7h0M243.2 249.3h0M220.5 279.0h0M224.0 248.4h0M220.6 259.9h0M237.3 244.0h0M224.3 243.8h0M234.6 249.4h0M239.0 254.3h0M238.8 249.5h0M235.9 281.4h0M225.2 283.7h0M222.5 251.9h0M249.5 262.4h0M234.1 242.7h0M229.9 253.9h0M233.6 237.4h0M224.6 241.0h0M240.5 280.6h0M240.4 282.6h0M227.2 268.3h0M231.6 235.2h0M228.0 272.6h0M222.9 238.6h0M235.7 250.0h0M224.7 248.0h0M233.4 254.3h0M222.3 264.5h0M240.5 272.1h0M236.8 248.4h0M228.3 280.9h0M218.4 247.5h0M227.8 233.8h0M248.0 279.8h0M215.9 251.5h0M241.7 242.1h0M241.8 276.4h0M218.7 239.0h0M249.6 283.0h0M224.5 238.8h0M226.6 282.4h0M238.2 272.1h0M225.8 239.1h0M223.7 245.4h0M241.0 254.2h0M215.7 261.6h0M222.8 257.9h0M220.6 258.3h0M240.7 248.4h0M224.4 243.2h0M221.7 247.0h0M236.2 259.9h0M227.9 244.7h0M221.2 260.8h0M227.4 285.2h0M226.2 243.4h0M234.0 243.0h0M241.5 253.1h0M281.3 259.0h0M282.8 248.6h0M284.5 267.0h0M286.0 246.5h0M279.5 262.4h0M282.0 244.3h0M299.0 262.4h0M298.3 265.5h0M294.9 260.5h0M277.8 247.8h0M293.3 259.1h0M291.7 260.4h0M295.7 255.0h0M266.1 235.9h0M269.8 251.3h0M296.1 263.2h0M268.6 238.1h0M287.7 235.5h0M289.4 257.9h0M299.6 260.0h0M295.8 261.6h0M293.8 263.6h0M294.7 257.4h0M296.6 258.5h0M291.3 264.4h0M275.4 256.9h0M293.1 262.4h0M272.7 250.7h0M294.4 257.7h0M274.3 254.4h0M298.8 262.9h0M295.5 258.5h0M292.1 246.1h0M285.2 240.1h0M286.7 248.1h0M294.7 256.4h0M267.5 238.5h0M290.6 253.6h0M271.9 263.6h0M268.5 239.4h0M300.7 260.6h0M295.5 264.4h0M291.1 268.3h0M279.7 240.8h0M289.1 245.0h0M276.9 265.2h0M299.8 260.2h0M286.1 237.1h0M288.4 240.3h0M289.9 254.5h0M279.1 262.0h0M289.3 252.4h0M296.7 260.5h0M277.4 254.8h0M287.9 245.0h0M275.3 263.2h0M273.0 264.4h0M298.8 262.5h0M289.6 253.7h0M295.2 260.9h0M287.0 253.3h0M296.5 263.8h0M282.0 235.8h0M297.6 260.3h0M280.7 263.5h0M296.3 262.1h0M296.2 266.2h0M299.7 263.4h0M291.9 259.5h0M277.1 233.6h0M286.1 266.8h0M297.3 258.2h0M299.6 258.3h0M270.5 247.0h0M280.7 245.7h0M300.7 259.8h0M298.0 259.8h0M277.4 247.1h0M279.9 230.5h0M271.3 260.9h0M301.1 260.1h0M280.3 231.8h0M297.7 284.4h0M292.3 276.9h0M288.6 289.9h0M288.8 279.0h0M287.0 284.0h0M300.4 276.8h0M294.1 284.3h0M287.2 289.2h0M296.1 279.2h0M286.8 281.6h0M300.3 270.3h0M294.6 287.6h0M292.4 275.7h0M294.7 282.1h0M296.0 271.1h0M291.2 285.5h0M291.5 278.4h0M291.3 280.5h0M291.8 274.4h0M290.6 273.7h0M295.4 286.2h0M293.1 278.5h0M288.8 280.9h0M290.9 283.9h0M290.8 285.4h0M297.1 279.7h0M286.2 291.6h0M298.3 270.6h0M297.6 268.4h0M293.1 270.5h0M292.9 275.6h0M292.6 292.8h0M290.2 273.5h0M288.9 285.1h0M293.4 273.7h0M299.0 274.8h0M297.8 277.7h0M295.7 273.8h0M292.2 269.6h0M297.7 284.9h0M299.8 272.5h0M293.2 279.8h0M286.5 286.4h0M288.0 292.2h0M297.8 269.8h0M295.9 290.7h0M297.6 280.1h0M298.0 287.4h0M296.2 272.3h0M293.0 288.3h0M299.3 275.1h0M286.2 282.9h0M302.5 282.7h0M296.8 275.3h0M301.9 283.2h0M295.5 290.1h0M293.1 285.6h0M287.6 291.6h0M292.7 276.1h0M290.1 293.3h0M292.9 274.1h0M294.9 274.0h0M299.1 282.3h0M299.6 277.9h0M292.1 273.0h0M287.3 291.1h0M299.2 280.5h0M290.0 278.2h0M288.8 276.2h0M302.6 272.4h0M290.0 284.6h0M288.5 275.7h0M296.0 268.3h0M287.1 284.7h0M299.1 275.6h0M296.9 288.0h0M291.1 274.2h0M290.4 280.9h0M292.8 285.6h0M297.5 279.8h0M297.4 275.2h0M296.9 279.0h0M294.7 279.8h0M288.9 274.7h0M292.6 277.6h0M301.9 273.0h0M292.9 283.8h0M297.0 270.0h0M295.2 285.1h0M294.9 281.3h0M298.1 281.8h0M295.5 278.8h0M290.5 284.5h0M292.3 284.5h0M293.5 275.4h0M286.4 286.9h0M293.3 284.4h0M294.6 278.0h0M291.8 293.7h0M292.5 285.9h0M289.3 282.7h0M294.4 286.6h0M299.6 268.5h0M298.5 270.9h0M293.6 286.7h0M296.4 289.5h0M264.4 267.7h0M261.3 267.2h0M262.2 271.4h0M259.3 265.3h0M261.0 264.0h0M259.4 264.1h0M273.4 278.1h0M267.3 273.0h0M274.7 274.1h0M267.6 286.8h0M260.6 291.0h0M271.2 297.7h0M260.1 304.8h0M267.5 286.8h0M259.8 302.3h0M260.1 297.1h0M265.4 306.2h0M270.2 301.3h0M259.8 299.0h0M265.1 309.0h0M274.3 292.6h0" stroke="#e0303a"/>
<path d="M222.2 238.8h0M221.8 273.7h0M245.5 285.8h0M221.8 241.1h0M234.6 278.6h0M214.5 264.1h0M237.8 282.5h0M218.7 262.6h0M238.9 279.7h0M229.9 254.3h0M239.3 247.1h0M218.3 251.5h0M216.2 255.7h0M242.2 281.2h0M224.4 251.7h0M237.2 249.4h0M221.7 258.4h0M235.2 246.9h0M228.5 246.8h0M221.3 255.4h0M225.4 243.6h0M228.2 282.0h0M237.7 253.6h0M222.4 257.3h0M234.5 263.8h0M230.0 259.0h0M241.4 246.4h0M244.3 279.5h0M226.8 261.8h0M232.0 280.2h0M238.3 251.3h0M223.6 258.5h0M228.3 260.0h0M221.3 277.5h0M245.5 275.7h0M226.8 273.8h0M222.8 280.0h0M235.8 246.8h0M219.8 258.8h0M231.4 272.6h0M227.2 254.3h0M213.1 257.3h0M223.1 277.4h0M235.8 249.8h0M223.4 237.6h0M225.5 269.9h0M222.5 280.6h0M242.7 247.1h0M217.5 240.7h0M223.2 268.6h0M224.0 276.8h0M237.8 250.0h0M245.6 279.4h0M227.5 260.7h0M232.7 256.0h0M232.1 275.6h0M246.8 281.1h0M225.7 274.7h0M212.7 260.0h0M242.6 276.8h0M237.3 280.3h0M242.3 247.5h0M234.5 279.8h0M220.7 244.1h0M226.8 278.6h0M238.6 284.0h0M226.3 275.1h0M231.6 279.1h0M243.2 280.2h0M219.3 265.8h0M212.6 259.8h0M231.0 272.3h0M232.8 283.2h0M224.8 247.7h0M225.4 286.2h0M226.6 278.6h0M231.9 276.2h0M224.0 243.8h0M247.6 281.9h0M232.1 278.3h0M218.2 256.9h0M226.8 269.4h0M226.7 246.2h0M226.9 273.3h0M228.3 254.9h0M224.2 281.9h0M220.1 251.6h0M221.6 260.4h0M241.3 265.1h0M237.7 274.6h0M222.7 254.2h0M239.0 279.4h0M237.8 283.7h0M252.9 282.4h0M223.0 262.7h0M222.5 280.8h0M225.4 240.4h0M222.1 267.7h0M240.2 257.3h0M228.3 245.0h0M220.0 257.9h0M225.1 253.7h0M213.2 260.9h0M216.8 255.0h0M222.2 241.6h0M223.1 261.5h0M225.1 280.0h0M220.3 255.2h0M239.0 274.2h0M239.2 280.3h0M216.5 262.6h0M233.8 246.4h0M243.4 278.8h0M214.0 256.6h0M238.0 249.0h0M230.4 277.5h0M225.7 280.6h0M231.3 274.8h0M219.0 245.9h0M231.7 270.8h0M249.0 272.8h0M214.7 259.0h0M240.3 267.9h0M237.8 283.3h0M219.1 241.2h0M249.4 278.9h0M231.5 289.9h0M226.2 284.7h0M223.8 264.4h0M238.9 262.0h0M220.1 267.8h0M216.4 257.3h0M223.1 278.0h0M233.8 246.6h0M241.2 282.5h0M240.0 274.5h0M251.9 277.8h0M241.3 250.3h0M228.2 286.3h0M220.1 238.9h0M230.2 238.0h0M227.3 269.8h0M240.2 246.1h0M228.3 283.6h0M240.8 242.7h0M219.6 261.0h0M220.0 281.4h0M252.3 281.8h0M221.2 251.1h0M228.5 239.6h0M230.8 242.9h0M253.4 284.3h0M241.1 254.4h0M238.8 279.7h0M241.2 256.1h0M229.0 237.2h0M223.4 264.7h0M229.9 245.1h0M240.1 242.1h0M220.2 281.4h0M223.7 237.5h0M214.6 258.6h0M228.4 277.4h0M220.5 236.4h0M223.3 266.5h0M227.0 247.1h0M234.4 246.1h0M225.0 272.4h0M235.4 272.6h0M232.2 275.9h0M221.4 252.1h0M218.3 262.6h0M225.6 283.6h0M234.8 266.5h0M240.6 278.6h0M223.9 279.5h0M234.1 274.4h0M237.3 289.8h0M218.8 276.2h0M229.8 283.5h0M238.5 245.7h0M241.7 281.1h0M232.1 235.6h0M224.0 238.6h0M222.7 253.0h0M246.0 267.2h0M239.5 264.8h0M226.2 261.9h0M237.1 274.9h0M223.9 243.0h0M237.0 268.7h0M213.5 255.5h0M245.1 272.9h0M232.8 241.2h0M219.1 258.3h0M231.9 287.5h0M212.7 252.5h0M239.0 276.8h0M226.7 246.2h0M242.6 259.8h0M223.5 283.0h0M232.8 238.8h0M229.3 246.9h0M231.2 247.3h0M224.1 245.5h0M226.2 245.3h0M224.5 277.4h0M218.6 247.8h0M244.1 273.3h0M235.0 273.0h0M216.7 264.7h0M239.7 254.8h0M248.2 270.4h0M245.2 279.8h0M218.3 238.5h0M239.8 272.5h0M227.9 281.5h0M243.2 278.6h0M224.5 278.5h0M242.5 281.5h0M214.1 254.6h0M228.1 247.5h0M240.5 287.4h0M224.0 252.6h0M219.6 280.9h0M235.4 244.5h0M229.7 288.2h0M221.7 250.6h0M228.1 245.5h0M228.5 284.5h0M234.7 248.0h0M215.3 259.0h0M235.9 252.4h0M217.2 251.5h0M239.1 249.3h0M244.0 248.7h0M245.5 265.9h0M225.2 266.3h0M223.2 238.4h0M220.0 263.1h0M248.0 281.1h0M224.2 254.5h0M223.5 276.8h0M245.2 279.4h0M248.1 282.7h0M232.0 266.4h0M220.7 263.0h0M247.4 283.3h0M244.3 285.3h0M251.1 277.3h0M227.5 281.0h0M216.4 266.2h0M218.3 264.1h0M226.1 246.0h0M239.9 287.4h0M248.3 286.5h0M243.7 281.0h0M227.7 279.9h0M241.2 243.9h0M220.3 268.1h0M246.3 285.3h0M223.1 258.8h0M226.0 254.7h0M217.0 269.0h0M218.2 249.2h0M230.5 278.3h0M226.4 243.5h0M225.9 280.5h0M248.1 271.6h0M219.9 250.0h0M224.3 259.9h0M249.2 285.6h0M230.7 262.4h0M214.3 255.1h0M243.0 250.7h0M224.3 265.7h0M246.4 278.7h0M229.7 247.2h0M224.7 240.9h0M236.9 272.9h0M216.3 259.4h0M228.5 248.3h0M267.2 246.9h0M285.3 248.2h0M291.0 254.5h0M282.4 244.8h0M273.2 236.7h0M276.1 248.2h0M279.8 235.7h0M274.4 235.3h0M283.7 262.0h0M285.3 254.4h0M280.9 251.4h0M276.3 235.5h0M272.4 235.9h0M291.9 240.6h0M268.1 240.7h0M273.6 252.6h0M280.9 249.0h0M288.5 244.3h0M277.6 230.4h0M265.9 239.8h0M280.5 249.9h0M273.7 235.2h0M284.8 239.7h0M284.1 243.7h0M272.3 256.3h0M274.8 236.7h0M273.5 260.8h0M270.4 242.6h0M270.8 237.1h0M283.8 237.4h0M274.7 249.2h0M268.8 241.0h0M275.7 243.2h0M264.8 240.8h0M284.2 245.2h0M291.8 265.9h0M281.7 249.3h0M273.0 261.7h0M276.9 267.3h0M278.5 237.4h0M275.7 264.3h0M284.9 248.5h0M275.0 263.9h0M295.5 243.6h0M273.7 256.8h0M291.9 246.7h0M285.0 253.4h0M284.4 238.1h0M278.2 256.3h0M275.0 249.5h0M278.2 257.0h0M280.1 253.2h0M271.3 231.7h0M284.2 242.4h0M278.3 240.3h0M291.6 247.1h0M282.0 259.0h0M285.3 257.5h0M276.0 247.3h0M282.5 238.6h0M282.7 256.7h0M282.8 242.4h0M281.7 245.5h0M276.0 238.9h0M296.5 241.1h0M288.9 248.0h0M271.4 240.6h0M283.8 241.2h0M292.5 246.4h0M284.0 239.4h0M290.8 245.8h0M271.9 241.5h0M280.5 238.8h0M277.4 252.3h0M281.9 252.9h0M281.4 234.0h0M271.4 245.8h0M278.1 261.1h0M277.8 267.9h0M266.3 237.5h0M273.5 236.3h0M286.0 247.1h0M283.8 263.7h0M282.2 239.3h0M290.4 250.9h0M282.5 242.7h0M281.9 249.9h0M290.0 238.4h0M269.7 249.1h0M270.2 235.4h0M285.4 239.8h0M284.4 255.0h0M274.3 234.5h0M276.9 228.9h0M291.6 246.1h0M271.0 251.5h0M289.7 240.3h0M284.2 246.7h0M286.5 257.1h0M279.7 261.8h0M293.9 247.1h0M284.2 244.0h0M278.6 265.9h0M267.7 240.0h0M278.7 259.4h0M273.5 232.0h0M293.8 259.8h0M282.3 267.0h0M271.2 240.1h0M284.4 246.2h0M272.9 242.5h0M290.3 237.2h0M277.9 229.7h0M290.3 250.8h0M272.9 235.0h0M274.6 256.1h0M285.5 245.7h0M286.3 236.9h0M286.7 237.7h0M273.5 256.0h0M274.0 247.0h0M278.4 256.8h0M287.3 243.0h0M285.2 253.7h0M266.3 239.2h0M284.9 243.3h0M272.4 237.9h0M273.1 263.4h0M270.5 242.6h0M270.1 258.9h0M286.0 247.4h0M287.4 240.9h0M288.2 262.6h0M284.8 239.6h0M264.1 240.4h0M272.8 250.2h0M285.1 245.5h0M279.7 243.8h0M283.7 247.7h0M275.4 253.1h0M274.2 258.5h0M270.4 263.0h0M285.8 237.7h0M274.5 265.4h0M276.1 255.0h0M288.8 237.6h0M267.3 245.8h0M278.7 252.9h0M286.7 246.8h0M287.6 248.3h0M275.5 242.4h0M278.4 256.9h0M281.7 266.5h0M282.1 240.7h0M285.8 255.6h0M271.7 264.3h0M267.0 246.7h0M285.4 255.7h0M283.6 266.7h0M278.4 244.0h0M296.7 254.7h0M272.1 251.0h0M280.4 257.6h0M284.2 235.4h0M282.3 248.7h0M284.3 242.7h0M274.2 245.5h0M274.3 248.9h0M280.7 258.4h0M276.4 245.4h0M274.6 250.9h0M282.5 245.9h0M276.4 257.7h0M281.0 264.3h0M282.4 236.8h0M282.0 244.3h0M277.8 232.3h0M280.0 267.1h0M281.8 245.4h0M276.8 265.5h0M276.2 262.4h0M284.5 244.8h0M279.8 245.7h0M285.5 238.8h0M270.6 244.8h0M272.6 237.7h0M285.4 254.1h0M282.8 241.8h0M295.0 258.9h0M270.7 242.4h0M278.2 242.9h0M299.7 259.5h0M291.1 237.8h0M276.7 234.7h0M280.4 269.9h0M278.7 238.6h0M290.7 248.2h0M296.9 259.8h0M290.6 249.9h0M294.7 237.8h0M288.7 258.7h0M286.8 261.5h0M290.4 254.0h0M285.5 267.3h0M285.5 244.6h0M270.3 243.8h0M270.5 246.0h0M288.2 257.4h0M266.5 242.3h0M270.5 246.4h0M271.0 231.8h0M283.7 252.4h0M274.3 248.9h0M270.2 245.7h0M273.3 261.3h0M279.7 230.0h0M281.0 231.5h0M269.3 235.9h0M276.7 233.9h0M276.2 266.0h0M274.1 255.8h0M274.1 236.5h0M280.3 243.3h0M299.0 260.9h0M285.4 248.7h0M278.9 242.4h0M266.2 244.7h0M288.9 241.6h0M280.3 258.9h0M275.9 235.8h0M267.9 234.6h0M283.4 257.5h0M286.2 241.0h0M277.2 247.4h0M293.4 254.5h0M286.6 245.3h0M279.4 245.7h0M273.3 236.1h0M283.0 249.2h0M275.0 242.7h0M275.4 250.1h0M267.9 241.5h0M276.0 253.7h0M280.9 242.0h0M292.1 244.5h0M290.9 249.1h0M287.1 247.8h0M275.0 259.3h0M277.6 254.9h0M290.9 241.2h0M301.0 285.0h0M293.4 290.0h0M296.2 284.4h0M294.9 275.1h0M293.6 275.2h0M297.1 283.5h0M297.5 286.0h0M296.1 290.5h0M286.3 286.7h0M298.0 275.9h0M298.1 283.3h0M295.7 289.3h0M300.8 271.6h0M298.8 275.3h0M287.7 287.6h0M290.1 287.4h0M291.4 277.1h0M294.8 270.6h0M286.9 290.4h0M293.4 277.4h0M286.9 292.6h0M265.0 267.9h0M261.1 264.7h0M261.1 270.5h0M260.1 270.0h0M263.9 262.5h0M259.0 264.6h0M263.2 262.8h0M260.3 264.9h0M262.6 270.9h0M260.2 265.7h0M260.4 268.6h0M261.4 264.6h0M263.6 268.2h0M259.7 269.0h0M272.6 271.6h0M272.2 266.8h0M273.4 267.6h0M275.3 276.1h0M267.3 270.3h0M269.7 267.1h0M275.9 272.7h0M268.4 267.3h0M269.2 272.4h0M270.5 266.7h0M261.4 290.4h0M269.7 297.1h0M274.4 284.6h0M266.8 305.3h0M261.1 300.2h0M270.1 296.8h0M275.2 291.3h0M262.7 299.9h0M264.3 293.5h0M267.7 303.2h0M262.1 302.7h0M264.9 304.0h0M267.1 303.5h0M265.2 293.8h0M261.2 297.0h0M262.8 290.4h0M272.5 290.6h0M271.8 297.6h0M263.7 293.3h0M264.0 294.1h0M261.1 295.7h0M257.4 301.0h0M264.4 299.5h0M268.0 301.5h0M265.1 298.1h0M273.5 294.4h0M274.5 293.6h0M274.0 288.9h0M273.6 292.5h0M267.4 306.8h0M266.1 299.2h0M266.9 297.6h0M264.2 294.6h0M273.0 296.5h0M261.8 294.6h0M269.4 285.4h0M265.4 298.6h0M274.0 295.8h0M260.9 300.7h0M272.0 292.7h0M273.1 288.9h0M272.6 290.2h0M264.7 296.4h0M259.8 301.6h0M261.7 302.6h0M270.7 302.3h0M261.8 294.0h0M272.1 295.6h0M272.5 295.6h0M269.0 299.5h0M273.6 286.2h0M261.4 296.2h0M261.0 296.8h0M268.4 289.5h0M266.8 288.1h0M261.0 300.8h0M263.6 301.1h0M262.1 300.5h0M265.1 302.1h0M267.4 294.5h0M259.8 296.8h0M257.8 300.3h0M258.1 298.4h0M254.3 293.0h0M273.6 282.7h0M267.9 297.8h0M268.5 291.0h0M265.6 306.8h0M262.8 295.3h0M260.8 298.6h0M260.4 294.3h0M261.3 300.2h0M270.9 289.8h0M269.4 297.7h0M270.6 292.8h0M263.9 298.7h0M268.0 291.0h0M272.7 291.9h0M267.1 305.4h0M265.3 304.8h0M263.2 298.2h0M272.7 299.1h0M266.0 298.9h0M268.5 290.6h0M267.9 303.5h0M273.6 290.5h0M272.0 295.7h0M273.7 291.8h0M264.1 294.9h0M255.7 292.0h0M267.9 304.0h0M258.3 303.3h0M258.4 296.3h0M263.6 298.1h0M259.9 295.4h0M258.8 302.5h0M265.7 292.7h0M260.2 297.2h0M264.3 297.2h0M262.2 299.9h0M264.8 296.3h0M260.0 298.8h0M258.1 299.0h0M262.6 304.1h0M264.6 303.3h0M263.2 297.8h0M269.3 293.2h0M259.9 300.5h0M267.4 298.0h0M271.4 293.0h0M260.3 296.7h0" stroke="#3848aa"/>
<path d="M228.5 282.3h0M250.4 280.2h0M225.6 271.4h0M231.8 274.2h0M240.9 243.9h0M224.3 233.8h0M224.4 277.8h0M235.0 278.5h0M247.8 280.5h0M241.9 246.7h0M244.4 280.4h0M220.2 260.0h0M226.9 266.8h0M243.9 247.2h0M234.1 248.2h0M228.9 270.5h0M242.2 248.5h0M221.7 269.5h0M227.2 236.6h0M219.9 246.2h0M222.4 274.3h0M217.8 269.1h0M220.0 249.1h0M229.1 241.4h0M218.3 263.6h0M236.7 244.6h0M217.3 261.0h0M231.0 254.5h0M243.1 245.2h0M223.6 263.1h0M224.0 279.5h0M221.0 260.3h0M222.3 249.8h0M236.3 269.4h0M239.0 242.7h0M238.0 242.3h0M233.4 262.4h0M226.0 241.3h0M215.5 265.2h0M220.6 239.9h0M227.4 250.9h0M237.0 280.3h0M224.4 239.6h0M247.3 281.4h0M220.0 263.6h0M226.6 277.5h0M226.7 237.7h0M245.8 280.7h0M229.1 286.7h0M242.4 246.0h0M218.8 262.5h0M219.6 262.2h0M225.3 251.1h0M222.6 260.1h0M224.6 243.5h0M223.0 243.7h0M243.0 277.0h0M240.4 248.9h0M215.1 260.3h0M219.3 264.6h0M212.4 258.9h0M236.0 251.6h0M215.2 259.2h0M226.0 257.7h0M225.3 235.7h0M220.5 268.8h0M239.4 285.5h0M244.4 271.1h0M218.7 243.3h0M221.2 240.5h0M235.0 268.2h0M235.7 287.4h0M226.9 247.2h0M218.7 245.2h0M233.8 243.2h0M239.5 249.8h0M223.1 242.6h0M216.4 258.2h0M230.7 245.0h0M218.1 246.8h0M223.7 279.4h0M244.9 282.7h0M216.7 247.7h0M215.2 262.3h0M225.8 243.0h0M214.3 261.3h0M220.5 275.3h0M224.9 285.6h0M222.4 264.4h0M221.5 269.6h0M227.7 254.2h0M222.8 241.0h0M223.7 281.5h0M220.4 258.8h0M225.2 252.6h0M229.3 252.5h0M235.1 252.0h0M231.3 254.1h0M223.6 234.5h0M229.1 245.4h0M217.9 266.6h0M242.3 267.5h0M227.2 253.5h0M223.0 244.8h0M226.2 253.5h0M223.6 239.9h0M246.1 276.1h0M242.1 243.2h0M231.6 281.5h0M215.7 258.5h0M224.2 283.3h0M217.6 241.0h0M227.4 239.5h0M221.4 238.1h0M219.7 244.2h0M249.9 277.7h0M225.7 287.7h0M218.9 252.6h0M221.5 270.6h0M226.6 240.9h0M233.0 239.2h0M226.4 263.5h0M241.9 243.8h0M221.3 244.3h0M215.2 258.8h0M217.7 244.3h0M222.0 245.2h0M228.0 246.1h0M216.3 246.3h0M227.2 288.6h0M217.5 251.9h0M239.5 241.0h0M228.5 242.2h0M232.9 280.9h0M245.8 277.4h0M228.4 237.8h0M226.4 235.5h0M222.5 246.9h0M224.1 234.9h0M217.6 261.1h0M244.1 256.5h0M248.8 276.1h0M223.5 283.0h0M219.4 264.5h0M228.4 239.5h0M223.7 242.3h0M244.5 283.4h0M225.3 247.4h0M237.1 252.1h0M215.1 258.5h0M226.9 280.1h0M217.5 256.6h0M217.4 259.5h0M236.4 273.4h0M240.7 287.6h0M222.0 268.1h0M226.9 286.1h0M224.4 277.2h0M218.7 255.9h0M236.2 248.6h0M233.7 276.1h0M244.6 279.7h0M229.3 235.2h0M233.8 247.6h0M248.6 269.0h0M237.0 256.5h0M233.5 289.4h0M232.7 237.8h0M228.4 282.2h0M219.9 259.4h0M237.4 247.8h0M235.9 272.1h0M237.8 283.5h0M227.0 281.4h0M237.9 282.2h0M244.5 286.8h0M226.6 236.2h0M226.9 277.8h0M234.2 244.8h0M214.5 258.8h0M217.4 246.2h0M221.6 236.0h0M242.5 246.1h0M228.1 288.4h0M228.0 275.2h0M243.1 248.4h0M219.2 248.3h0M221.0 265.0h0M220.5 260.6h0M217.6 253.7h0M214.9 264.7h0M237.4 249.9h0M242.3 288.0h0M224.8 233.3h0M223.9 240.6h0M234.9 283.6h0M242.2 250.7h0M229.2 241.9h0M248.4 272.1h0M226.2 242.4h0M218.6 252.3h0M224.9 240.5h0M220.8 253.6h0M243.5 247.1h0M246.6 281.6h0M241.5 244.0h0M241.8 275.0h0M224.6 245.0h0M221.4 251.7h0M248.3 278.4h0M225.2 234.5h0M221.4 240.8h0M221.8 285.1h0M220.0 244.0h0M219.6 253.5h0M242.3 281.9h0M224.2 273.0h0M226.6 281.6h0M220.1 262.2h0M240.9 246.4h0M221.1 240.9h0M231.4 242.1h0M240.0 287.4h0M216.9 265.6h0M243.0 278.2h0M215.2 253.9h0M222.8 239.5h0M235.6 275.9h0M229.0 241.4h0M237.2 273.8h0M222.1 259.5h0M229.1 242.8h0M250.4 280.1h0M216.3 261.7h0M220.4 282.3h0M229.9 235.8h0M222.2 260.7h0M221.4 279.3h0M237.1 245.3h0M221.9 251.9h0M218.6 247.4h0M222.4 235.8h0M230.0 243.0h0M229.2 252.2h0M235.4 257.0h0M228.4 245.9h0M227.4 259.7h0M238.2 244.2h0M250.2 280.6h0M231.9 246.7h0M220.9 253.0h0M231.4 252.5h0M242.2 254.7h0M239.5 272.5h0M225.6 244.1h0M214.5 263.9h0M233.2 251.0h0M241.9 247.8h0M245.3 271.2h0M226.3 281.3h0M223.0 278.1h0M238.0 246.0h0M229.3 252.7h0M213.6 260.1h0M232.2 252.3h0M237.1 280.7h0M219.4 241.6h0M218.2 261.1h0M236.1 239.9h0M230.4 243.6h0M219.3 252.8h0M225.0 241.3h0M249.6 282.0h0M221.9 251.4h0M228.9 244.0h0M219.7 277.5h0M216.4 253.5h0M241.7 248.2h0M226.7 264.2h0M229.3 278.6h0M241.4 275.6h0M231.3 280.9h0M225.0 240.3h0M232.9 246.4h0M227.1 238.8h0M221.9 257.0h0M239.4 249.0h0M237.5 246.3h0M231.0 261.9h0M249.2 276.1h0M224.8 243.0h0M244.8 279.6h0M231.6 258.6h0M230.7 281.4h0M215.1 256.0h0M239.8 250.9h0M242.2 251.9h0M266.4 245.0h0M294.8 266.2h0M281.7 268.4h0M276.0 232.2h0M290.2 254.0h0M290.1 262.4h0M288.9 265.3h0M293.2 261.2h0M291.3 253.0h0M295.1 267.5h0M296.2 263.0h0M298.1 259.1h0M300.7 260.4h0M282.1 246.0h0M296.8 259.2h0M296.5 257.3h0M286.3 264.0h0M297.7 264.5h0M297.6 261.7h0M297.9 261.2h0M291.2 263.5h0M289.7 258.6h0M276.9 268.4h0M293.3 259.1h0M279.0 260.3h0M285.3 243.7h0M290.0 259.1h0M297.5 262.5h0M290.5 267.8h0M295.6 267.0h0M273.1 240.1h0M290.2 240.4h0M278.5 259.5h0M280.6 250.4h0M288.0 244.9h0M290.0 264.4h0M298.4 258.1h0M292.8 261.8h0M294.9 266.6h0M296.8 259.3h0M290.8 259.2h0M300.9 264.1h0M297.7 256.5h0M275.6 261.4h0M274.7 259.1h0M285.9 243.7h0M294.7 258.0h0M282.9 258.1h0M297.8 265.4h0M288.9 247.5h0M291.5 258.3h0M294.4 266.2h0M293.8 259.3h0M289.2 252.6h0M290.7 236.5h0M295.7 259.0h0M277.0 247.8h0M294.0 250.3h0M290.0 244.2h0M295.2 261.6h0M273.8 244.7h0M281.6 239.9h0M294.7 261.8h0M289.6 260.5h0M298.3 264.8h0M290.2 263.2h0M274.3 240.2h0M290.7 261.7h0M297.9 258.0h0M277.4 256.3h0M289.5 248.5h0M292.7 255.2h0M297.7 261.1h0M298.4 259.7h0M282.2 252.4h0M268.4 238.1h0M266.0 238.0h0M289.6 252.6h0M300.3 258.8h0M295.1 256.7h0M294.5 262.8h0M282.3 242.7h0M291.7 279.8h0M290.6 275.5h0M289.4 280.5h0M288.0 291.8h0M300.3 280.1h0M296.4 281.1h0M296.2 279.8h0M288.7 278.5h0M303.2 275.3h0M299.2 273.1h0M295.9 270.6h0M296.8 278.0h0M301.7 275.4h0M295.9 271.1h0M299.4 282.2h0M293.7 281.8h0M296.5 290.0h0M299.2 282.3h0M286.9 290.0h0M296.7 280.0h0M295.0 281.2h0M292.5 279.8h0M293.4 273.2h0M287.7 283.6h0M289.4 276.2h0M292.4 283.9h0M293.7 279.5h0M295.4 282.2h0M299.1 275.0h0M290.6 293.8h0M295.2 287.4h0M287.0 281.6h0M292.6 286.2h0M300.8 273.9h0M286.2 285.3h0M291.3 279.7h0M286.9 291.7h0M287.3 282.5h0M296.1 270.2h0M299.8 269.4h0M291.0 271.4h0M298.7 284.0h0M293.8 284.9h0M285.4 284.5h0M287.0 282.1h0M295.7 273.1h0M298.0 286.4h0M290.2 283.8h0M288.7 274.5h0M295.2 287.6h0M296.4 277.6h0M290.0 276.7h0M295.4 288.4h0M286.6 285.3h0M295.5 283.9h0M289.5 277.6h0M298.1 272.4h0M288.7 293.8h0M290.6 272.3h0M294.4 288.3h0M296.4 276.5h0M288.2 284.0h0M295.9 279.4h0M294.0 277.8h0M291.2 284.8h0M289.0 276.7h0M297.2 278.0h0M299.5 277.3h0M294.0 285.1h0M294.4 287.0h0M286.4 292.0h0M292.7 279.6h0M292.5 294.8h0M294.7 279.9h0M299.4 274.9h0M292.1 278.5h0M291.3 281.3h0M298.4 272.7h0M298.3 290.6h0M287.8 277.6h0M289.8 276.4h0M299.9 280.9h0M292.7 270.6h0M290.8 279.5h0M295.6 289.7h0M291.9 291.5h0M297.2 285.5h0M300.4 278.7h0M298.9 285.5h0M291.9 281.5h0M293.8 287.8h0M299.0 282.9h0M295.5 293.4h0M293.5 272.5h0M300.0 274.9h0M287.1 284.1h0M297.5 279.8h0M300.7 269.0h0M302.3 276.6h0M287.1 280.3h0M295.6 278.9h0M300.8 287.2h0M292.6 273.7h0M301.4 276.9h0M293.2 286.8h0M261.3 263.4h0M262.4 265.8h0M264.5 264.9h0M265.4 268.9h0M260.2 269.0h0M265.5 266.3h0M260.7 263.4h0M270.9 280.5h0M269.3 270.1h0M272.3 295.6h0M267.6 302.3h0M267.7 293.1h0M261.7 301.1h0M263.5 299.9h0M257.5 293.2h0M266.8 293.6h0M270.6 302.9h0M264.0 304.7h0M260.3 298.6h0M262.2 298.5h0M254.5 295.6h0" stroke="#e0303a"/>
</g>
<rect x="205.7" y="221.2" width="103.2" height="95.0" fill="none" stroke="#333" stroke-width="0.9"/>
<g opacity="0.78" stroke-width="1.0" stroke-linecap="square">
<path d="M385.1 263.0h0M406.2 245.4h0M386.6 263.9h0M384.2 263.0h0M395.2 257.8h0M381.7 256.3h0M390.0 252.3h0M384.6 278.3h0M398.9 279.2h0M381.0 254.5h0M409.4 266.9h0M409.9 279.8h0M391.8 286.9h0M389.2 259.1h0M403.4 246.4h0M403.7 250.1h0M393.8 260.9h0M390.8 256.5h0M389.1 278.2h0M391.0 270.3h0M408.3 247.8h0M401.8 247.9h0M413.0 278.6h0M381.2 255.4h0M409.2 268.1h0M407.9 248.2h0M407.4 246.2h0M408.8 280.5h0M395.5 271.0h0M388.4 255.4h0M397.4 276.5h0M388.8 286.4h0M393.2 279.0h0M413.2 284.5h0M409.1 286.7h0M406.9 265.6h0M388.2 254.8h0M385.0 255.2h0M407.3 286.8h0M408.2 253.7h0M379.4 258.5h0M382.8 265.5h0M377.7 256.4h0M379.3 255.1h0M389.7 262.1h0M402.4 250.1h0M383.0 260.0h0M405.9 268.3h0M403.2 248.8h0M401.1 282.7h0M387.2 263.7h0M387.8 276.5h0M388.8 265.9h0M406.9 250.9h0M383.3 256.8h0M392.9 270.2h0M405.8 246.8h0M415.7 281.5h0M402.5 288.5h0M384.7 259.5h0M402.3 243.1h0M386.2 274.1h0M403.2 279.6h0M403.7 244.9h0M388.9 266.9h0M406.5 272.8h0M389.3 259.1h0M388.0 256.1h0M416.6 284.8h0M388.1 266.4h0M409.7 257.7h0M391.3 271.0h0M399.4 283.9h0M387.6 279.2h0M378.8 266.3h0M409.8 273.7h0M385.4 262.2h0M408.3 260.3h0M403.4 241.3h0M387.2 259.3h0M387.5 262.7h0M401.4 273.7h0M385.9 259.2h0M400.4 251.6h0M392.8 264.9h0M379.7 261.8h0M389.6 253.2h0M387.5 282.5h0M414.2 263.3h0M401.5 253.0h0M391.2 288.1h0M411.2 266.4h0M401.6 258.9h0M406.0 243.8h0M398.8 283.4h0M413.0 280.8h0M416.1 277.0h0M403.0 285.5h0M413.9 285.2h0M391.5 281.7h0M393.2 280.1h0M388.5 254.3h0M403.2 277.7h0M379.8 253.5h0M413.8 271.9h0M403.8 248.6h0M384.8 257.3h0M400.5 245.9h0M402.5 273.2h0M407.1 253.7h0M442.0 230.2h0M448.8 237.7h0M462.3 264.7h0M465.0 260.1h0M451.2 265.3h0M443.3 231.7h0M461.2 265.7h0M464.3 258.1h0M463.9 259.6h0M431.8 236.7h0M452.0 264.4h0M463.5 264.9h0M442.6 252.5h0M447.1 251.8h0M459.0 259.7h0M456.2 254.9h0M459.9 265.4h0M439.6 235.0h0M461.0 255.7h0M461.7 260.9h0M449.0 246.2h0M448.8 247.8h0M437.4 245.9h0M456.4 254.2h0M434.2 240.2h0M459.8 263.7h0M445.4 241.6h0M451.6 244.4h0M450.1 255.7h0M463.6 265.8h0M460.1 262.0h0M455.0 253.0h0M462.4 261.0h0M432.8 246.1h0M441.0 254.4h0M442.7 248.4h0M459.7 250.9h0M454.1 236.3h0M452.7 253.8h0M447.7 236.6h0M464.8 261.3h0M458.4 263.5h0M451.7 251.4h0M443.1 256.8h0M461.1 259.8h0M463.5 261.6h0M441.1 246.1h0M458.2 269.2h0M443.2 240.5h0M460.9 257.2h0M446.6 251.6h0M457.4 276.3h0M454.4 290.0h0M452.7 284.2h0M459.8 279.4h0M453.5 291.9h0M461.6 271.5h0M462.5 280.2h0M456.0 278.4h0M457.1 293.2h0M460.9 287.4h0M465.6 272.6h0M452.0 285.5h0M464.5 287.1h0M464.5 284.2h0M465.8 276.2h0M465.1 275.4h0M458.9 285.8h0M458.9 276.5h0M465.4 278.1h0M456.4 286.6h0M464.4 286.5h0M467.3 273.5h0M464.0 290.7h0M467.9 277.4h0M451.9 283.4h0M455.1 289.5h0M463.8 272.3h0M460.9 273.8h0M455.9 275.3h0M462.1 271.6h0M426.1 263.8h0M424.4 268.9h0M433.0 273.3h0M438.0 295.7h0M426.8 300.2h0M432.0 302.5h0M430.7 304.6h0M426.2 291.1h0M436.9 297.7h0M425.7 304.8h0M424.4 297.0h0M427.1 300.7h0M428.0 290.9h0M425.3 296.2h0M422.2 296.5h0M427.8 300.5h0M430.1 297.6h0M432.0 302.2h0M432.7 292.1h0M425.5 299.0h0M433.5 298.3h0M426.0 297.4h0M428.5 305.9h0" stroke="#3b528b"/>
<path d="M381.2 251.1h0M402.1 247.7h0M388.8 258.1h0M383.9 252.2h0M385.7 260.5h0M383.5 245.5h0M406.3 243.9h0M383.9 264.1h0M400.2 248.3h0M408.7 245.9h0M382.3 251.2h0M386.4 259.3h0M385.6 264.2h0M399.7 249.5h0M408.0 246.6h0M385.2 262.6h0M406.0 249.6h0M377.9 259.4h0M387.4 248.8h0M381.2 258.2h0M385.6 255.5h0M389.7 255.6h0M405.1 250.5h0M381.0 263.6h0M384.2 260.2h0M381.1 265.3h0M379.8 261.8h0M379.1 260.4h0M383.7 264.9h0M379.3 264.5h0M402.8 249.2h0M403.0 244.8h0M387.3 248.5h0M379.8 262.0h0M407.7 243.9h0M383.3 249.9h0M406.9 247.1h0M392.7 248.6h0M382.2 264.2h0M407.4 250.3h0M381.4 255.3h0M380.3 253.4h0M382.3 248.7h0M383.1 261.6h0M385.8 260.4h0M408.1 246.6h0M380.7 259.0h0M405.9 245.8h0M382.6 255.4h0M385.2 255.1h0M384.8 249.0h0M406.6 243.6h0M400.0 246.8h0M390.8 258.5h0M388.0 258.5h0M383.4 265.5h0M408.1 246.8h0M386.0 261.1h0M388.0 247.2h0M391.9 266.0h0M388.4 260.9h0M384.1 252.9h0M386.3 254.2h0M382.1 268.7h0M403.5 249.3h0M387.9 267.4h0M384.1 262.6h0M382.3 253.4h0M385.7 262.7h0M401.8 248.6h0M407.2 245.3h0M393.7 248.1h0M404.3 244.6h0M384.9 264.5h0M387.5 252.5h0M402.4 250.2h0M402.8 244.7h0M392.2 247.5h0M384.3 261.1h0M407.5 248.5h0M403.6 246.7h0M387.1 260.2h0M381.1 256.1h0M385.6 244.7h0M383.2 262.7h0M407.3 248.8h0M390.2 258.5h0M388.3 258.4h0M386.1 258.8h0M388.6 256.2h0M403.9 250.5h0M405.4 251.5h0M455.9 254.6h0M457.6 257.9h0M466.5 260.9h0M462.2 257.9h0M463.3 262.2h0M457.1 266.1h0M462.4 259.0h0M461.4 267.4h0M458.6 262.3h0M466.4 261.1h0M461.1 254.1h0M458.4 260.4h0M455.6 255.1h0M460.4 263.7h0M455.3 261.0h0M461.1 260.5h0M458.5 255.8h0M466.1 264.3h0M460.2 263.3h0M460.6 275.9h0M461.7 271.0h0M455.4 286.7h0M462.3 285.0h0M458.7 275.9h0M452.1 286.9h0M459.4 274.9h0M458.8 273.1h0M461.5 273.5h0M461.2 289.5h0M463.0 269.8h0M451.9 288.8h0M468.4 272.8h0M453.9 275.9h0M461.3 274.5h0M461.6 281.4h0M459.2 275.7h0M452.6 292.7h0M464.3 271.3h0" stroke="#2c728e"/>
<path d="M387.5 235.5h0M394.0 237.2h0M392.5 235.7h0M390.9 236.5h0M389.2 235.3h0M384.9 237.1h0M389.7 235.7h0M394.9 236.0h0M387.1 236.9h0M388.1 237.3h0M385.6 236.5h0M394.1 234.9h0M384.1 238.2h0M387.9 238.2h0" stroke="#addc30"/>
<path d="M394.3 282.1h0M404.6 274.7h0M407.8 281.5h0M404.5 254.0h0M389.4 283.6h0M392.8 254.9h0M406.3 279.9h0M395.9 272.8h0M392.1 282.0h0M407.2 283.4h0M396.5 272.7h0M415.1 274.8h0M412.7 282.1h0M403.1 259.2h0M391.2 277.1h0M404.6 274.5h0M396.6 275.7h0M397.3 271.2h0M404.5 262.5h0M406.7 255.0h0M393.1 256.0h0M389.9 277.6h0M409.0 277.7h0M387.9 275.0h0M412.6 287.2h0M398.4 278.6h0M399.7 279.1h0M394.9 282.3h0M408.1 281.7h0M390.8 284.1h0M415.4 285.6h0M401.2 282.6h0M390.5 272.2h0M395.1 278.1h0M406.6 282.0h0M391.4 280.8h0M394.5 284.7h0M450.9 264.4h0M452.9 240.3h0M441.3 247.7h0M442.1 256.5h0M451.0 255.0h0M455.0 245.6h0M442.0 244.4h0M457.7 239.9h0M448.6 253.9h0M448.9 242.6h0M438.0 257.5h0M449.3 254.6h0M441.8 230.5h0M440.4 249.8h0M456.7 238.1h0M451.3 243.1h0M442.6 267.7h0M441.4 264.8h0M458.9 240.2h0M457.6 247.4h0M447.6 241.4h0M445.7 242.7h0M450.0 243.1h0M447.7 259.5h0M448.7 242.1h0M454.3 251.1h0M457.1 243.8h0M462.3 241.9h0M443.2 262.9h0M434.1 243.2h0M438.1 255.1h0M447.1 234.9h0M450.5 243.3h0M439.2 237.1h0M449.6 264.2h0M438.0 234.2h0M447.6 250.6h0M436.8 254.1h0M440.8 260.5h0M449.4 247.4h0M437.1 261.5h0M435.8 233.0h0M449.9 264.6h0M439.9 262.2h0M440.4 233.0h0M444.3 260.1h0M449.3 247.4h0M453.7 245.6h0M456.0 251.5h0M440.6 232.5h0M441.6 231.3h0M432.2 241.7h0M454.9 245.9h0M454.8 258.4h0M451.1 252.6h0M455.1 240.7h0M457.3 240.9h0M443.9 237.8h0M454.9 245.7h0M439.9 259.1h0M444.6 232.7h0M438.6 266.1h0M454.6 246.2h0M442.6 263.4h0M444.5 256.5h0M452.9 253.0h0M448.3 233.2h0M435.4 244.4h0M451.9 251.8h0M445.1 251.3h0M454.6 258.3h0M449.6 248.9h0M446.1 233.0h0M440.0 233.5h0M447.5 246.1h0M442.0 247.3h0M451.5 253.6h0M451.1 254.7h0M451.8 241.0h0M446.5 264.0h0M441.5 251.0h0M441.8 251.3h0M456.4 248.8h0M446.7 260.8h0M451.2 245.3h0M447.3 252.3h0M449.4 246.6h0M440.0 249.6h0M444.5 251.3h0M450.5 251.3h0M440.6 233.6h0M441.9 266.4h0M439.8 256.3h0M436.2 247.7h0M451.1 249.3h0M450.9 244.8h0M460.1 251.6h0M431.6 238.8h0M441.5 240.4h0M444.9 243.2h0M442.7 236.7h0M438.1 262.8h0M433.6 242.2h0M446.2 265.7h0M444.6 259.7h0M443.4 255.5h0M428.1 266.2h0M426.9 267.6h0M431.0 269.3h0M426.1 269.0h0M431.2 266.7h0M441.1 271.2h0M435.4 272.4h0M439.4 266.0h0M433.5 278.4h0M427.8 300.7h0M430.1 305.2h0M427.2 300.0h0M432.6 294.0h0M428.4 290.6h0M429.7 294.2h0M434.5 294.5h0M434.7 296.0h0M433.2 297.9h0M422.2 298.1h0M435.0 293.9h0M434.7 299.5h0M434.5 301.8h0M425.4 296.8h0M436.3 291.1h0M428.4 295.3h0M427.9 302.1h0M420.5 295.7h0M430.4 292.7h0M439.9 296.3h0M435.8 300.6h0M423.9 303.3h0M433.2 289.4h0M434.7 300.0h0M439.0 294.8h0M427.6 301.7h0M425.0 292.7h0" stroke="#440154"/>
<path d="M387.7 239.6h0M397.4 241.0h0M384.3 245.5h0M388.1 245.2h0M399.7 248.9h0M392.7 249.5h0M398.4 249.8h0M382.3 252.6h0M390.7 269.7h0M407.0 247.1h0M399.2 251.8h0M392.8 246.9h0M389.4 244.7h0M377.6 261.0h0M390.4 258.9h0M381.9 252.8h0M389.8 247.1h0M383.4 266.3h0M382.1 264.6h0M390.8 251.7h0M378.3 260.5h0M391.7 252.1h0M385.2 260.0h0M381.1 252.6h0M378.1 260.3h0M385.7 247.4h0M389.5 242.7h0M383.7 257.4h0M395.9 250.9h0M383.5 247.4h0M380.8 262.7h0M408.9 246.4h0M388.7 248.2h0M387.7 268.2h0M399.3 245.6h0M383.4 267.0h0M382.3 255.6h0M388.6 245.5h0M388.7 262.0h0M382.1 263.1h0M385.4 259.6h0M385.3 244.9h0M394.1 241.3h0M387.9 244.1h0M387.6 245.9h0M391.6 243.3h0M381.8 257.3h0M385.7 268.2h0M383.9 248.7h0M391.6 265.7h0M404.2 247.3h0M392.1 243.1h0M404.9 242.0h0M392.8 248.6h0M399.8 247.0h0M387.7 260.1h0M390.2 246.7h0M399.4 248.3h0M391.6 260.9h0M389.0 246.5h0M385.7 250.1h0M408.6 248.2h0M378.4 260.7h0M380.4 254.5h0M382.9 246.9h0M391.8 249.6h0M384.3 245.9h0M391.9 248.1h0M406.3 247.9h0M382.6 252.4h0M397.5 241.1h0M391.2 256.5h0M387.6 241.7h0M387.6 242.5h0M398.3 239.5h0M385.0 248.8h0M384.0 252.5h0M380.7 267.4h0M394.9 239.4h0M386.1 263.5h0M391.0 249.5h0M385.1 248.6h0M389.9 244.6h0M391.0 251.1h0M392.0 245.1h0M382.8 246.0h0M394.0 246.5h0M397.5 247.4h0M388.5 247.6h0M382.9 265.6h0M377.9 263.3h0M392.5 242.4h0M396.1 242.7h0M383.8 261.6h0M384.0 248.2h0M403.2 247.9h0M403.0 242.6h0M401.6 243.8h0M403.3 247.7h0M398.2 247.1h0M383.7 242.4h0M389.9 266.2h0M386.0 249.3h0M390.3 241.6h0M461.3 271.3h0M463.6 269.4h0M466.9 272.7h0M466.6 271.9h0M464.7 273.4h0" stroke="#21918c"/>
<path d="M394.0 282.5h0M389.2 286.1h0M397.4 274.6h0M395.2 278.9h0M404.5 280.0h0M395.9 279.6h0M412.7 271.1h0M389.5 285.0h0M417.3 259.2h0M409.8 275.7h0M388.4 271.9h0M411.4 281.7h0M406.8 275.8h0M418.4 257.4h0M395.4 282.9h0M397.5 280.5h0M390.2 277.9h0M393.2 271.3h0M416.4 281.5h0M393.6 264.1h0M392.9 284.5h0M394.8 263.5h0M390.7 277.7h0M408.5 253.2h0M414.3 276.1h0M394.0 279.0h0M401.6 257.1h0M395.7 282.1h0M398.4 281.9h0M412.4 281.4h0M392.8 275.6h0M403.0 264.7h0M406.5 280.3h0M406.5 284.5h0M410.7 287.7h0M403.3 260.3h0M405.0 285.7h0M410.0 271.4h0M396.0 281.7h0M392.3 284.2h0M388.0 277.7h0M392.9 257.4h0M396.2 262.4h0M409.6 283.4h0M389.8 282.2h0M419.1 280.2h0M385.3 282.4h0M400.2 256.4h0M409.7 269.4h0M406.1 284.6h0M392.2 288.5h0M398.6 272.1h0M400.7 252.6h0M405.8 271.1h0M407.9 267.9h0M407.9 283.7h0M411.7 276.4h0M393.7 277.5h0M405.4 286.2h0M406.5 282.0h0M411.7 274.5h0M412.3 267.8h0M391.3 287.8h0M410.1 283.3h0M412.2 259.3h0M396.3 258.2h0M417.4 279.9h0M393.1 274.0h0M391.7 284.9h0M402.3 280.4h0M398.5 281.1h0M411.5 277.7h0M393.3 283.3h0M410.9 281.9h0M405.6 274.8h0M397.6 277.9h0M396.8 279.0h0M393.9 283.8h0M409.8 284.6h0M391.7 280.7h0M406.0 276.1h0M402.7 252.7h0M393.4 269.0h0M419.1 284.5h0M402.0 273.7h0M407.4 277.8h0M406.0 259.5h0M410.8 276.7h0M418.5 257.2h0M402.6 257.0h0M389.4 283.3h0M398.6 253.5h0M394.0 270.5h0M403.5 282.4h0M394.0 280.7h0M398.0 268.4h0M402.5 264.4h0M393.6 288.5h0M391.0 272.2h0M384.9 276.3h0M385.7 277.1h0M405.4 287.9h0M402.6 269.1h0M395.1 257.9h0M387.4 285.0h0M400.7 252.5h0M407.4 275.3h0M408.5 272.8h0M402.1 259.4h0M387.5 281.9h0M394.5 281.8h0M389.8 273.3h0M413.6 275.0h0M396.1 277.2h0M395.8 278.9h0M407.4 281.8h0M408.6 278.5h0M415.4 281.2h0M401.2 276.2h0M402.7 274.1h0M399.0 268.1h0M391.5 283.5h0M385.1 281.2h0M415.1 274.0h0M387.0 279.6h0M398.2 289.8h0M391.2 282.2h0M400.6 279.4h0M393.0 260.2h0M401.3 262.4h0M409.0 255.6h0M397.0 253.1h0M413.7 281.3h0M390.8 283.5h0M413.7 282.9h0M392.8 268.7h0M391.7 272.1h0M409.9 283.4h0M405.2 280.2h0M406.1 272.4h0M394.5 256.2h0M391.6 280.5h0M401.8 276.6h0M385.3 277.8h0M411.9 286.6h0M393.0 280.2h0M396.9 281.2h0M393.6 280.0h0M414.9 276.4h0M410.4 279.9h0M393.0 285.4h0M414.5 286.3h0M432.9 247.5h0M456.7 255.1h0M435.8 233.5h0M453.4 242.3h0M440.1 236.1h0M451.4 245.8h0M442.0 236.4h0M436.8 249.8h0M433.8 241.4h0M454.2 244.4h0M451.9 257.1h0M449.1 251.5h0M439.4 236.0h0M464.8 258.7h0M464.9 262.8h0M436.0 243.3h0M456.8 249.4h0M436.7 259.5h0M444.4 247.1h0M447.3 249.2h0M456.7 243.0h0M447.4 249.9h0M438.7 262.2h0M440.3 236.5h0M455.3 252.5h0M440.7 264.4h0M451.1 247.6h0M444.7 261.9h0M438.9 257.5h0M450.1 238.9h0M440.7 250.2h0M437.3 232.6h0M461.9 244.8h0M452.5 250.4h0M460.3 254.2h0M435.5 248.5h0M452.0 248.7h0M437.4 235.5h0M459.6 260.1h0M455.3 247.5h0M459.4 238.5h0M458.3 247.1h0M444.9 241.8h0M454.5 243.4h0M443.1 252.9h0M447.6 253.5h0M449.9 238.4h0M443.8 261.6h0M443.5 268.3h0M452.1 243.9h0M444.0 236.2h0M448.0 240.0h0M440.2 232.8h0M451.3 240.2h0M454.5 255.0h0M448.8 247.7h0M456.0 258.5h0M436.0 259.4h0M457.3 246.8h0M453.0 244.8h0M443.8 260.9h0M453.4 253.1h0M444.3 266.3h0M433.4 240.8h0M440.1 247.4h0M452.6 251.3h0M458.2 259.1h0M444.9 257.4h0M456.1 238.0h0M443.6 230.6h0M438.6 235.8h0M442.5 245.8h0M452.0 237.7h0M452.4 238.5h0M439.2 256.5h0M447.7 242.2h0M453.0 243.7h0M444.1 266.6h0M450.7 244.1h0M452.1 252.9h0M436.2 243.3h0M445.4 243.7h0M453.2 241.7h0M450.5 240.4h0M463.1 259.2h0M445.6 267.0h0M461.6 245.5h0M450.4 261.8h0M451.5 238.5h0M446.9 264.8h0M444.4 253.5h0M451.8 243.1h0M439.5 240.7h0M444.0 245.1h0M441.1 234.7h0M451.5 256.1h0M437.4 264.8h0M440.5 266.4h0M449.4 267.2h0M439.6 244.6h0M437.8 251.6h0M439.4 243.1h0M443.1 230.5h0M442.6 233.5h0M457.4 263.3h0M442.1 246.0h0M435.6 258.2h0M446.3 242.6h0M446.7 264.7h0M448.1 237.6h0M450.5 235.2h0M461.0 255.1h0M441.2 259.0h0M448.1 263.6h0M450.2 245.5h0M437.8 247.1h0M461.8 261.6h0M436.4 243.9h0M460.7 259.4h0M449.8 242.9h0M454.6 246.4h0M436.2 241.7h0M439.6 258.8h0M451.3 237.4h0M433.0 241.6h0M460.4 238.6h0M454.4 259.2h0M453.0 255.1h0M451.2 267.7h0M436.0 244.5h0M436.2 246.7h0M431.3 236.8h0M447.2 264.6h0M443.8 235.8h0M452.5 237.2h0M447.3 251.3h0M445.4 230.9h0M459.1 262.4h0M446.5 242.9h0M446.0 244.1h0M464.8 261.4h0M444.6 243.2h0M431.8 245.4h0M446.0 259.4h0M441.6 236.7h0M452.2 255.0h0M458.2 262.4h0M443.9 266.9h0M441.9 229.8h0M440.7 243.4h0M444.6 265.9h0M447.2 261.7h0M445.4 230.2h0M456.7 249.8h0M438.2 244.3h0M443.8 256.1h0M430.6 268.3h0M430.0 269.0h0M426.8 266.5h0M426.9 265.2h0M427.3 263.8h0M424.4 268.9h0M426.4 265.3h0M426.6 268.4h0M427.6 264.7h0M425.9 267.2h0M426.6 264.1h0M424.7 270.0h0M426.2 269.9h0M439.9 268.5h0M438.2 273.1h0M434.8 271.2h0M435.6 271.6h0M433.5 276.0h0M434.0 271.8h0M436.2 267.1h0M427.0 290.5h0M435.4 297.2h0M430.5 298.2h0M435.8 296.8h0M423.8 300.1h0M427.7 304.3h0M438.8 294.4h0M432.8 303.5h0M438.5 290.9h0M438.2 295.0h0M438.1 295.7h0M427.2 305.3h0M438.6 289.0h0M430.1 299.5h0M433.7 301.5h0M423.6 297.7h0M433.9 298.1h0M432.0 298.0h0M427.6 303.4h0M441.4 285.8h0M432.6 297.7h0M424.1 304.1h0M430.5 302.8h0M424.1 302.4h0M430.0 304.9h0M432.0 294.6h0M423.8 292.0h0M430.7 304.6h0M440.2 295.3h0M426.5 292.5h0M424.2 294.5h0M431.5 289.2h0M429.5 295.0h0M424.0 292.3h0M434.5 292.9h0M436.3 300.8h0M426.7 296.8h0M430.7 303.7h0M426.7 300.8h0M429.3 301.1h0M428.7 301.6h0M440.3 290.7h0M437.2 295.7h0M436.5 294.6h0M419.9 293.1h0M440.3 283.1h0M435.4 294.9h0M431.2 306.7h0M433.1 290.6h0M433.2 298.5h0M426.6 295.1h0M430.9 305.7h0M436.3 292.9h0M429.5 298.7h0M422.7 298.5h0M432.8 305.4h0M431.0 304.8h0M438.4 299.1h0M433.6 303.4h0M425.1 304.9h0M439.4 291.9h0M430.1 294.1h0M426.4 297.4h0M438.9 295.4h0M429.2 298.1h0M440.7 291.4h0M422.6 292.5h0M430.0 297.3h0M429.0 300.4h0M426.4 300.3h0M423.8 299.0h0M429.7 301.8h0M428.8 297.9h0M427.5 298.9h0M433.1 298.0h0M423.0 302.2h0M426.4 298.1h0" stroke="#472d7b"/>
<path d="M396.5 238.1h0M390.5 236.2h0M386.7 238.2h0M393.1 240.2h0M388.9 238.4h0M390.2 244.2h0M392.2 243.7h0M399.4 243.9h0M391.3 243.7h0M388.4 241.7h0M382.2 243.7h0M385.6 243.8h0M389.6 241.6h0M389.1 244.4h0M387.5 243.8h0M389.3 243.0h0M387.9 242.6h0M394.6 238.0h0M389.3 238.3h0M391.7 240.8h0M397.7 236.5h0M391.0 243.1h0M388.1 244.0h0M388.3 239.0h0M396.3 240.5h0M387.1 243.0h0M390.1 241.7h0M401.7 240.7h0M385.8 240.1h0M396.4 237.0h0M466.1 280.3h0M465.0 284.8h0M456.1 284.1h0M460.7 281.1h0M461.2 284.4h0M457.1 280.7h0M453.7 282.3h0M462.5 282.7h0M461.1 282.4h0M457.1 279.9h0M458.0 285.4h0M461.7 290.8h0M456.0 284.0h0M465.6 277.9h0M461.1 288.6h0M455.2 277.9h0M455.9 293.4h0M463.8 290.9h0M464.9 280.7h0M454.5 276.5h0M452.1 292.1h0M457.0 281.5h0M463.3 280.0h0M465.6 281.1h0M452.5 285.9h0M466.2 278.9h0M463.6 284.6h0M452.1 287.0h0M460.5 282.7h0" stroke="#5ec962"/>
<path d="M387.3 241.8h0M389.3 242.0h0M384.9 242.5h0M384.4 240.6h0M385.0 240.8h0M401.4 242.1h0M399.0 249.3h0M395.0 236.7h0M384.9 250.5h0M396.4 243.7h0M386.8 238.1h0M386.5 245.4h0M383.3 245.9h0M393.1 242.8h0M389.2 246.4h0M393.0 240.3h0M387.3 239.9h0M384.2 243.2h0M387.8 241.9h0M390.8 240.3h0M396.4 243.6h0M396.9 242.1h0M386.0 237.3h0M386.8 243.8h0M393.7 247.1h0M388.0 238.8h0M392.7 243.7h0M387.9 240.5h0M398.3 241.9h0M397.1 247.0h0M386.7 241.6h0M385.5 248.4h0M398.9 246.4h0M389.6 249.1h0M382.5 243.3h0M391.9 246.9h0M392.4 236.4h0M384.9 242.4h0M387.0 243.5h0M385.2 241.4h0M391.3 239.8h0M392.9 242.1h0M390.4 243.8h0M394.1 249.0h0M452.6 286.4h0M460.3 283.1h0M463.9 284.9h0M463.5 279.1h0M458.2 291.9h0M451.2 284.7h0M455.0 278.4h0M467.7 283.4h0M459.8 291.3h0M459.8 278.1h0M459.8 285.3h0M460.6 292.3h0M452.1 289.0h0M464.5 288.0h0M455.1 283.0h0" stroke="#28ae80"/>
<path d="M460.3 278.2h0M460.5 282.3h0M452.7 290.1h0M454.6 286.6h0M456.6 282.7h0M464.9 277.2h0M459.5 277.2h0M459.0 280.0h0M458.2 286.7h0M451.9 283.1h0M453.9 284.2h0M458.3 294.9h0M457.9 278.8h0M464.7 279.3h0M457.6 291.6h0M460.9 285.3h0M463.9 282.0h0M458.0 280.6h0M458.6 280.5h0M459.3 286.9h0" stroke="#9ad8b0"/>
<path d="M469.0 275.6h0M464.5 274.8h0M460.7 275.5h0M466.8 273.3h0M458.8 270.9h0M461.8 270.6h0M456.4 272.7h0M464.2 273.9h0M466.5 269.4h0" stroke="#8ab8d0"/>
<path d="M387.4 274.0h0M383.0 262.1h0M401.1 251.6h0M388.2 280.0h0M388.6 264.3h0M407.5 244.1h0M414.4 274.5h0M387.2 258.9h0M404.7 245.9h0M400.1 264.3h0M401.8 248.5h0M390.4 283.6h0M391.3 266.2h0M378.1 263.0h0M412.2 282.8h0M405.3 246.0h0M385.4 253.0h0M397.0 272.9h0M388.6 277.7h0M392.3 253.2h0M383.3 261.8h0M403.3 247.6h0M398.2 256.6h0M380.4 257.9h0M413.2 273.8h0M385.3 262.4h0M395.9 280.2h0M402.5 257.4h0M389.6 261.8h0M378.5 264.0h0M378.0 263.6h0M406.4 274.8h0M411.7 288.5h0M393.9 255.5h0M390.2 256.3h0M403.3 274.9h0M393.6 260.3h0M404.8 262.0h0M404.0 245.0h0M404.5 247.8h0M386.0 262.8h0M387.0 283.3h0M390.9 274.2h0M404.8 280.5h0M387.5 271.3h0M391.3 280.8h0M380.2 259.5h0M405.3 249.3h0M415.1 279.2h0M389.3 252.3h0M384.9 253.3h0M385.4 263.3h0M406.8 282.8h0M381.7 264.8h0M401.2 255.0h0M403.5 280.1h0M406.4 243.4h0M394.6 267.4h0M380.6 260.7h0M391.9 273.3h0M378.5 262.4h0M382.6 256.9h0M402.0 254.1h0M385.5 257.6h0M382.7 259.3h0M387.0 252.7h0M389.4 279.8h0M384.3 276.5h0M407.3 281.4h0M387.8 265.6h0M397.3 280.8h0M393.5 280.5h0M392.0 287.2h0M408.5 252.7h0M384.7 258.9h0M382.9 259.7h0M404.6 277.1h0M382.3 257.3h0M383.6 257.9h0M390.0 277.7h0M403.6 280.4h0M413.9 270.8h0M397.6 286.8h0M391.4 262.5h0M390.1 278.7h0M386.7 259.0h0M395.7 287.7h0M390.1 265.6h0M380.8 259.5h0M394.5 272.5h0M393.5 282.5h0M390.7 266.7h0M398.4 270.6h0M381.2 263.5h0M399.4 254.6h0M386.3 263.5h0M416.8 277.6h0M381.9 266.7h0M388.7 282.7h0M409.5 281.8h0M385.1 262.0h0M411.9 285.5h0M389.8 281.0h0M382.5 261.4h0M384.6 266.4h0M414.8 285.7h0M379.9 255.7h0M395.9 267.0h0M383.2 260.1h0M454.9 261.2h0M446.6 269.6h0M455.5 265.5h0M463.4 261.3h0M447.7 245.0h0M464.8 262.9h0M450.2 250.2h0M443.5 248.5h0M459.0 259.6h0M450.7 242.5h0M447.9 246.7h0M450.5 242.2h0M455.2 258.5h0M435.8 238.6h0M460.5 257.9h0M441.1 254.3h0M441.1 257.4h0M438.4 251.3h0M460.1 258.2h0M440.0 254.9h0M461.2 259.0h0M451.0 240.9h0M460.6 263.6h0M459.6 259.4h0M453.1 248.7h0M455.1 254.0h0M456.8 268.7h0M441.3 261.9h0M454.2 245.9h0M451.9 237.9h0M453.7 250.6h0M444.8 262.5h0M460.2 266.6h0M440.0 260.8h0M453.6 245.7h0M461.8 262.5h0M462.2 266.1h0M450.3 261.3h0M461.0 261.4h0M439.5 245.4h0M460.5 262.3h0M446.4 245.1h0M462.0 266.7h0M436.5 261.6h0M467.6 261.2h0M446.1 233.2h0M444.0 260.3h0M446.4 246.4h0M439.5 244.6h0M445.7 231.4h0M444.3 236.0h0M446.0 232.6h0M466.8 285.1h0M460.1 286.1h0M466.4 283.7h0M466.2 279.6h0M458.1 276.0h0M454.0 278.1h0M454.5 281.1h0M455.1 276.5h0M463.4 268.8h0M458.0 289.0h0M461.3 281.0h0M464.8 275.1h0M457.4 273.0h0M451.9 289.7h0M458.5 272.0h0M462.6 275.6h0M458.4 291.4h0M465.2 283.3h0M453.4 287.7h0M453.4 291.7h0M466.9 273.5h0M464.9 275.9h0M457.0 288.1h0M458.5 271.0h0M451.8 290.0h0M452.6 290.5h0M457.7 272.8h0M455.5 290.0h0M466.6 287.4h0M427.0 263.9h0M427.9 271.7h0M427.7 267.1h0M439.8 267.5h0M429.4 297.5h0M435.3 285.9h0M433.3 286.9h0M437.7 295.9h0M433.3 293.2h0M427.4 301.1h0M429.2 299.9h0M433.2 287.0h0M429.1 306.2h0M425.5 302.3h0M425.8 297.1h0M430.3 307.2h0M431.1 306.2h0M435.8 301.3h0M433.8 298.9h0M431.5 300.7h0M427.9 298.6h0M426.5 295.4h0M423.4 301.5h0M429.8 302.7h0" stroke="#3b528b"/>
<path d="M407.5 251.8h0M388.7 259.2h0M397.7 245.8h0M386.1 264.8h0M397.4 245.6h0M383.0 262.7h0M386.6 257.1h0M379.8 263.9h0M382.8 261.5h0M389.1 263.6h0M388.9 254.3h0M383.3 256.8h0M379.3 257.3h0M378.4 262.0h0M384.3 263.0h0M380.8 264.8h0M380.6 260.8h0M390.6 257.5h0M391.6 258.3h0M386.1 269.2h0M390.2 260.9h0M403.9 246.6h0M405.2 248.0h0M382.0 258.7h0M400.5 248.5h0M396.8 245.4h0M384.4 262.3h0M386.0 253.9h0M387.1 270.0h0M385.3 250.9h0M393.9 245.7h0M386.5 253.1h0M391.8 254.1h0M387.6 246.5h0M400.2 246.2h0M407.9 248.1h0M380.3 258.9h0M389.0 265.5h0M383.7 251.2h0M407.5 244.5h0M383.2 262.2h0M385.6 268.3h0M386.8 254.1h0M389.1 255.7h0M384.9 264.9h0M388.0 269.4h0M379.1 266.5h0M385.3 267.6h0M395.5 245.8h0M387.5 269.1h0M386.8 250.4h0M392.6 247.8h0M387.4 258.1h0M394.2 249.7h0M387.6 259.6h0M405.4 250.1h0M408.7 249.1h0M383.2 254.3h0M403.0 250.5h0M406.1 246.0h0M390.5 253.6h0M381.7 261.7h0M377.8 259.8h0M392.2 246.8h0M394.9 247.6h0M396.8 247.9h0M391.8 246.0h0M385.1 254.0h0M386.1 261.4h0M388.0 260.4h0M405.7 251.5h0M389.8 251.6h0M386.5 268.4h0M385.3 255.4h0M377.6 256.7h0M391.5 246.5h0M400.1 250.1h0M404.4 250.2h0M382.3 258.8h0M383.3 256.1h0M390.1 258.0h0M389.6 252.6h0M403.7 248.7h0M407.3 242.8h0M403.9 247.4h0M384.9 265.5h0M385.5 262.0h0M387.5 257.6h0M379.4 256.4h0M407.0 251.9h0M395.2 247.9h0M398.8 245.5h0M463.6 259.5h0M455.0 252.7h0M462.6 259.7h0M457.1 259.2h0M465.4 260.5h0M459.5 264.1h0M463.7 261.0h0M455.3 263.3h0M457.8 260.6h0M456.6 259.7h0M463.5 257.1h0M456.8 260.2h0M457.3 258.8h0M455.3 254.2h0M464.1 265.2h0M465.5 263.9h0M458.4 259.6h0M455.4 253.2h0M458.8 294.5h0M459.2 290.1h0M456.5 293.2h0M457.4 287.6h0M463.3 286.2h0M461.8 290.6h0M457.7 273.4h0M457.7 276.0h0M461.1 273.5h0M463.5 271.7h0M456.6 275.1h0M454.2 292.7h0M454.3 293.0h0M455.8 287.6h0M461.8 268.7h0M463.1 275.5h0M452.1 284.6h0M461.8 270.4h0M459.8 276.2h0M454.6 274.4h0" stroke="#2c728e"/>
<path d="M389.8 234.6h0M392.8 237.4h0M390.5 234.9h0M393.1 238.6h0M386.4 236.6h0M393.7 235.7h0M387.5 238.1h0M398.3 238.6h0M385.0 237.3h0M387.0 235.5h0M398.9 237.6h0M399.1 238.2h0M393.4 234.6h0M392.6 234.5h0" stroke="#addc30"/>
<path d="M408.8 287.5h0M400.1 278.9h0M396.9 276.6h0M394.4 283.3h0M393.9 260.5h0M388.1 277.1h0M389.6 277.1h0M393.1 261.2h0M408.7 279.4h0M407.4 280.3h0M392.7 253.4h0M400.6 259.2h0M392.7 253.7h0M412.1 281.9h0M405.8 257.9h0M392.4 264.4h0M396.8 275.1h0M414.6 273.1h0M388.6 278.3h0M393.2 266.3h0M394.0 277.7h0M406.2 277.3h0M400.4 266.9h0M408.1 285.9h0M397.9 289.1h0M389.1 283.2h0M400.2 268.5h0M386.6 279.5h0M410.8 284.6h0M409.4 283.8h0M405.1 285.5h0M413.1 283.5h0M393.1 281.2h0M409.4 275.9h0M396.1 278.6h0M401.7 275.9h0M402.6 273.6h0M451.0 248.9h0M452.3 255.6h0M441.8 248.9h0M430.4 243.3h0M450.4 238.6h0M449.4 248.5h0M440.1 245.0h0M447.1 258.5h0M449.1 248.2h0M435.1 245.0h0M449.8 244.5h0M438.0 255.2h0M439.3 237.0h0M452.6 243.6h0M449.9 245.9h0M455.7 240.3h0M444.2 238.2h0M451.9 250.8h0M442.6 239.1h0M461.1 238.9h0M447.0 263.5h0M441.2 253.3h0M445.9 243.1h0M443.4 252.8h0M441.7 248.0h0M454.2 236.8h0M440.5 244.5h0M456.4 247.0h0M431.7 242.8h0M449.7 240.2h0M437.6 242.2h0M454.1 244.1h0M446.4 249.2h0M434.9 243.2h0M455.8 246.7h0M453.8 252.5h0M443.6 241.9h0M450.4 259.0h0M442.6 229.8h0M447.2 249.2h0M455.4 241.0h0M457.0 246.3h0M459.7 247.7h0M453.5 246.4h0M439.2 232.9h0M449.0 233.2h0M446.3 251.1h0M440.8 256.1h0M445.4 244.8h0M443.7 257.4h0M444.0 247.9h0M450.9 254.3h0M444.3 252.8h0M452.5 248.6h0M443.6 231.0h0M454.6 242.4h0M438.5 250.8h0M450.4 249.8h0M446.9 256.6h0M450.8 247.4h0M447.5 244.2h0M435.4 249.8h0M454.6 238.4h0M444.0 255.6h0M448.9 255.8h0M455.0 240.5h0M444.0 232.9h0M451.0 247.4h0M433.5 240.2h0M441.0 263.7h0M454.4 244.3h0M438.7 247.4h0M459.0 245.4h0M454.4 242.1h0M459.0 243.7h0M431.5 236.8h0M450.5 240.1h0M453.8 242.0h0M436.4 243.1h0M433.9 248.0h0M454.1 245.8h0M437.0 247.1h0M445.3 245.4h0M448.6 244.2h0M451.8 250.6h0M447.4 262.1h0M434.4 245.2h0M435.4 237.6h0M438.1 250.1h0M434.2 242.3h0M442.4 234.7h0M444.6 269.0h0M454.2 243.6h0M445.8 250.2h0M453.4 244.4h0M434.2 251.6h0M455.2 251.7h0M455.2 252.1h0M452.3 246.0h0M444.9 240.4h0M448.7 249.9h0M436.1 236.4h0M449.5 236.2h0M437.7 233.5h0M443.8 234.4h0M456.7 242.0h0M425.7 270.4h0M430.2 265.3h0M428.4 268.4h0M427.7 265.3h0M428.2 269.6h0M434.5 269.6h0M439.1 278.4h0M435.0 270.5h0M434.0 267.7h0M419.6 294.9h0M438.4 298.4h0M438.4 300.6h0M438.0 298.6h0M438.6 289.9h0M424.6 303.7h0M423.1 301.0h0M438.3 295.2h0M423.6 303.3h0M428.4 305.5h0M436.3 302.3h0M438.9 282.4h0M435.3 300.6h0M424.1 303.1h0M439.3 283.0h0M436.0 291.1h0M430.5 299.3h0M438.3 292.0h0M428.3 294.3h0M434.2 290.8h0M435.9 296.8h0M439.8 292.2h0M428.8 300.5h0M434.1 297.6h0M427.8 299.9h0M430.3 303.3h0M428.9 307.7h0" stroke="#440154"/>
<path d="M395.2 239.7h0M382.1 262.7h0M390.4 240.4h0M399.7 247.4h0M388.1 242.9h0M394.0 247.4h0M391.1 248.3h0M386.9 256.0h0M406.9 244.1h0M380.5 263.9h0M409.0 248.1h0M387.8 250.5h0M404.6 243.4h0M406.1 246.0h0M382.6 253.9h0M387.6 246.7h0M381.3 264.3h0M402.5 248.6h0M398.0 250.2h0M400.3 242.6h0M395.9 246.1h0M385.6 260.0h0M392.2 245.7h0M389.6 246.8h0M399.0 250.4h0M388.3 250.6h0M384.3 245.9h0M383.7 269.5h0M396.2 245.7h0M387.3 250.8h0M390.6 243.6h0M387.4 247.2h0M383.3 255.9h0M382.9 249.6h0M388.6 249.4h0M400.1 246.7h0M387.8 263.0h0M392.9 245.0h0M382.8 262.9h0M382.4 269.6h0M403.5 249.6h0M384.5 253.2h0M392.0 264.0h0M386.8 245.0h0M393.5 246.7h0M381.8 246.9h0M383.0 252.5h0M383.3 252.9h0M382.4 262.4h0M395.5 243.0h0M389.9 239.0h0M394.6 251.7h0M389.7 262.4h0M390.8 242.7h0M386.2 263.7h0M384.2 256.4h0M392.7 244.2h0M380.2 259.1h0M400.0 248.2h0M403.0 248.5h0M386.8 254.7h0M409.3 249.9h0M389.4 258.0h0M389.7 245.0h0M401.9 248.4h0M383.1 259.7h0M395.8 251.8h0M404.1 246.4h0M382.7 256.2h0M381.9 250.5h0M401.7 242.1h0M393.2 246.9h0M394.8 243.6h0M385.8 252.2h0M384.3 261.5h0M389.6 239.0h0M385.5 244.7h0M384.7 259.1h0M408.0 246.1h0M384.7 260.0h0M387.5 240.2h0M383.3 267.6h0M384.2 240.0h0M385.5 256.4h0M408.8 249.9h0M404.1 242.9h0M391.8 244.6h0M393.1 243.6h0M388.0 252.5h0M380.1 264.3h0M400.4 247.0h0M379.9 266.5h0M389.4 244.1h0M384.3 256.2h0M384.8 253.4h0M383.6 243.0h0M387.5 252.0h0M394.5 244.7h0M386.6 254.1h0M389.3 246.1h0M385.2 257.6h0M401.8 242.1h0M386.7 261.3h0M387.5 264.1h0M462.5 273.0h0M466.2 273.3h0M456.2 274.2h0M460.2 271.5h0M460.6 271.0h0" stroke="#21918c"/>
<path d="M388.2 277.9h0M393.0 266.4h0M391.5 278.8h0M396.9 277.4h0M416.4 283.9h0M394.1 255.9h0M410.0 280.7h0M413.0 282.6h0M390.3 274.3h0M394.4 270.9h0M396.5 277.9h0M392.2 258.4h0M392.0 273.9h0M404.7 282.2h0M392.7 278.7h0M396.6 255.0h0M391.8 274.4h0M414.5 287.1h0M393.8 270.3h0M385.3 282.2h0M393.7 270.5h0M388.2 272.3h0M385.8 279.7h0M408.4 281.8h0M388.0 280.8h0M408.2 287.5h0M394.7 286.9h0M384.8 278.8h0M410.7 265.2h0M389.5 271.8h0M394.9 282.5h0M402.9 280.5h0M410.3 275.8h0M412.9 282.9h0M404.2 284.2h0M414.6 282.2h0M413.7 281.3h0M412.6 272.6h0M400.6 268.6h0M401.3 287.6h0M396.5 280.2h0M397.7 278.6h0M412.9 270.2h0M385.4 278.5h0M403.7 280.6h0M397.3 269.7h0M404.0 253.6h0M390.4 285.8h0M409.1 278.8h0M398.1 253.8h0M396.9 281.6h0M391.4 274.9h0M391.0 284.5h0M401.6 277.7h0M410.6 270.1h0M393.7 258.3h0M398.2 263.3h0M398.2 266.1h0M390.4 279.2h0M389.8 283.6h0M396.0 277.8h0M396.1 283.1h0M397.1 282.2h0M388.6 285.5h0M387.6 283.9h0M404.2 276.5h0M397.1 290.0h0M400.2 275.8h0M410.4 281.9h0M405.9 266.3h0M387.8 282.4h0M392.3 285.6h0M394.1 283.6h0M386.0 279.5h0M411.5 278.0h0M409.7 257.0h0M414.5 276.4h0M392.8 283.9h0M408.5 272.1h0M385.5 281.6h0M394.5 283.3h0M405.8 279.0h0M416.5 277.7h0M418.3 279.1h0M401.9 255.2h0M389.9 277.5h0M393.8 260.0h0M410.2 280.0h0M399.4 257.6h0M394.0 258.8h0M394.0 282.4h0M394.9 274.0h0M392.5 281.6h0M391.1 283.9h0M409.3 287.3h0M396.8 282.7h0M399.7 274.8h0M395.3 283.8h0M397.0 282.1h0M413.1 266.1h0M414.2 278.7h0M389.8 278.9h0M392.5 280.6h0M410.7 273.2h0M398.8 284.2h0M408.4 288.3h0M395.2 279.3h0M418.5 279.0h0M405.6 280.9h0M387.3 285.3h0M407.9 282.1h0M388.2 281.3h0M396.9 265.8h0M403.4 285.7h0M410.7 260.2h0M398.6 286.8h0M406.4 259.0h0M386.5 282.3h0M395.1 285.9h0M409.6 262.7h0M396.3 277.5h0M394.5 288.7h0M386.5 281.3h0M393.5 284.4h0M398.2 275.8h0M388.6 280.2h0M394.7 252.8h0M418.0 285.0h0M385.8 278.7h0M415.8 280.8h0M401.4 281.7h0M415.1 262.9h0M392.4 278.6h0M404.3 277.0h0M406.0 282.9h0M391.9 281.5h0M393.6 272.9h0M409.9 285.4h0M399.0 254.9h0M404.9 281.8h0M409.3 281.3h0M391.5 277.3h0M388.2 281.0h0M401.1 276.8h0M406.9 282.5h0M403.8 272.5h0M405.1 281.6h0M398.8 268.0h0M395.6 281.4h0M405.3 278.4h0M408.4 277.4h0M387.6 284.0h0M444.3 235.7h0M450.3 247.2h0M452.1 244.2h0M444.7 258.4h0M444.9 232.6h0M446.6 252.0h0M451.0 245.0h0M444.4 260.1h0M457.8 246.4h0M454.2 245.0h0M450.4 250.4h0M446.2 250.6h0M440.5 240.4h0M450.4 248.8h0M454.4 251.5h0M458.1 269.6h0M435.6 237.7h0M444.3 241.3h0M458.7 256.5h0M456.9 240.9h0M455.8 244.2h0M437.2 237.1h0M457.5 238.9h0M447.6 255.0h0M433.0 241.6h0M444.3 237.0h0M432.4 241.8h0M444.1 257.9h0M450.7 254.0h0M446.9 244.6h0M446.4 259.0h0M452.6 251.1h0M437.0 232.5h0M446.8 234.6h0M453.3 252.8h0M437.6 259.6h0M440.2 249.3h0M433.3 235.6h0M453.4 262.2h0M453.1 248.1h0M450.9 252.5h0M464.6 265.0h0M456.5 246.5h0M434.6 243.3h0M453.6 246.8h0M441.0 255.3h0M437.1 246.5h0M448.3 237.9h0M432.7 244.1h0M458.4 244.9h0M441.1 237.3h0M441.1 232.9h0M430.1 242.7h0M455.8 239.2h0M436.4 251.0h0M451.1 240.6h0M443.9 258.7h0M440.4 264.0h0M445.6 251.3h0M456.4 245.0h0M445.4 262.3h0M452.7 242.3h0M452.3 247.5h0M442.2 235.3h0M444.5 229.8h0M457.2 246.3h0M443.0 262.9h0M438.6 243.3h0M451.6 247.6h0M443.1 249.1h0M433.7 249.9h0M451.2 246.4h0M445.8 254.9h0M448.0 247.8h0M455.4 240.0h0M454.9 246.3h0M441.4 257.7h0M432.0 239.9h0M461.1 266.8h0M438.8 263.8h0M443.7 240.6h0M451.7 248.0h0M447.7 237.2h0M455.2 249.4h0M451.3 241.8h0M440.4 251.9h0M444.6 231.8h0M436.1 263.5h0M446.0 260.8h0M433.0 246.5h0M450.8 235.5h0M457.7 243.4h0M451.7 241.4h0M444.1 257.5h0M447.5 267.0h0M440.0 235.2h0M459.8 239.1h0M436.8 243.2h0M446.2 262.5h0M433.2 242.7h0M445.4 242.0h0M455.4 255.9h0M448.0 249.3h0M439.9 246.2h0M449.7 253.9h0M445.4 256.1h0M451.5 257.4h0M442.1 258.2h0M446.9 252.9h0M435.8 245.9h0M462.9 263.4h0M432.8 239.5h0M442.5 265.9h0M443.8 253.6h0M436.8 234.1h0M455.8 253.2h0M441.8 256.0h0M464.0 243.3h0M445.5 240.7h0M443.9 243.7h0M465.5 260.1h0M442.4 235.5h0M440.7 238.9h0M445.2 241.4h0M456.3 250.6h0M437.8 231.7h0M446.0 249.3h0M456.1 254.6h0M448.4 255.1h0M442.1 252.2h0M458.6 261.0h0M432.1 243.0h0M451.5 246.9h0M458.5 238.3h0M456.2 241.2h0M439.0 261.8h0M451.8 240.4h0M442.4 256.5h0M443.5 245.5h0M466.6 262.8h0M444.7 254.7h0M437.7 245.5h0M454.6 242.4h0M438.2 242.3h0M433.6 235.5h0M431.1 242.1h0M449.8 252.1h0M459.1 255.1h0M445.1 246.4h0M452.3 264.8h0M461.1 256.5h0M441.7 254.3h0M446.6 242.8h0M460.9 238.7h0M446.5 245.5h0M433.2 244.7h0M428.2 265.8h0M425.0 265.4h0M426.4 265.0h0M428.5 266.5h0M426.3 265.6h0M428.9 263.3h0M426.0 265.3h0M428.2 271.2h0M425.8 266.2h0M427.8 263.8h0M426.9 265.0h0M429.8 271.3h0M438.3 272.0h0M436.4 279.2h0M441.9 270.7h0M433.0 270.7h0M435.4 267.5h0M439.0 278.2h0M434.9 272.7h0M434.3 268.3h0M423.6 299.4h0M430.2 294.7h0M432.5 305.2h0M432.9 299.0h0M430.0 293.6h0M429.5 302.8h0M427.3 305.1h0M439.2 297.8h0M426.9 297.0h0M432.3 301.4h0M429.4 294.6h0M426.0 301.2h0M434.7 287.3h0M425.7 302.7h0M440.2 291.3h0M428.1 299.9h0M429.9 295.7h0M439.7 289.0h0M422.7 295.6h0M431.7 299.2h0M423.0 293.8h0M438.7 296.6h0M427.5 294.7h0M435.1 285.6h0M439.7 295.9h0M426.6 300.7h0M421.9 295.3h0M434.8 305.6h0M429.5 297.6h0M425.5 301.6h0M427.3 302.6h0M430.8 307.3h0M430.0 302.2h0M429.8 299.2h0M439.3 286.4h0M427.1 296.3h0M432.7 290.0h0M432.4 288.2h0M425.1 297.7h0M439.9 280.5h0M430.8 302.1h0M433.1 294.6h0M435.7 290.4h0M423.8 298.4h0M430.8 295.3h0M438.1 295.4h0M429.8 302.9h0M429.4 303.4h0M422.7 296.9h0M427.4 301.5h0M431.8 299.2h0M435.9 293.3h0M431.1 303.4h0M438.9 282.3h0M434.5 301.3h0M438.4 293.1h0M438.6 287.2h0M436.0 296.1h0M426.1 294.0h0M437.7 295.7h0M429.0 296.1h0M426.2 296.9h0M439.4 293.0h0M427.4 301.5h0M433.2 304.4h0M428.6 306.3h0M424.8 303.1h0M439.0 294.3h0M430.4 296.4h0M425.7 298.9h0M430.8 308.5h0M435.8 300.4h0M424.2 299.5h0M434.3 301.3h0M426.4 300.8h0M427.6 297.6h0" stroke="#472d7b"/>
<path d="M401.5 242.2h0M392.0 244.3h0M397.1 244.2h0M391.5 242.0h0M398.9 244.3h0M388.6 244.4h0M389.2 239.6h0M382.7 243.8h0M389.6 239.6h0M389.2 243.9h0M389.8 242.2h0M385.1 237.1h0M392.2 241.7h0M395.9 242.0h0M390.1 240.5h0M390.3 235.9h0M386.4 241.0h0M399.3 242.2h0M390.9 238.6h0M395.1 241.8h0M389.7 237.8h0M389.4 241.4h0M391.8 243.1h0M386.9 241.5h0M383.9 244.3h0M395.6 243.8h0M384.0 244.0h0M396.0 244.3h0M389.9 243.9h0M384.7 242.0h0M460.5 278.4h0M462.0 280.0h0M452.5 281.8h0M455.4 277.9h0M456.9 285.6h0M455.0 290.4h0M461.1 282.7h0M462.9 279.9h0M466.2 277.8h0M463.5 278.0h0M463.4 285.1h0M463.8 286.6h0M454.4 284.4h0M455.7 277.0h0M467.6 286.1h0M456.7 277.5h0M462.1 276.8h0M453.0 291.2h0M463.0 278.3h0M452.7 285.8h0M467.2 285.5h0M458.7 278.0h0M453.6 277.9h0M460.4 280.1h0M458.4 277.9h0M459.5 288.0h0M458.8 277.4h0M459.1 284.6h0M456.6 289.1h0" stroke="#5ec962"/>
<path d="M399.0 248.1h0M392.9 240.5h0M387.4 239.1h0M390.9 239.2h0M393.2 242.3h0M392.9 251.6h0M397.0 245.5h0M383.0 241.4h0M384.8 245.1h0M393.1 247.7h0M390.4 248.3h0M390.4 239.9h0M389.8 239.7h0M386.0 247.1h0M387.7 242.3h0M389.8 242.2h0M391.8 250.3h0M388.8 251.0h0M385.6 239.7h0M390.9 248.1h0M389.8 241.4h0M380.1 251.6h0M400.0 249.0h0M392.9 240.9h0M400.2 243.3h0M394.6 243.6h0M391.1 239.4h0M394.8 242.6h0M390.2 244.6h0M384.1 248.5h0M394.7 243.8h0M394.5 242.2h0M388.6 251.8h0M386.6 241.2h0M390.5 239.0h0M386.0 242.2h0M394.1 251.2h0M384.9 245.9h0M391.9 244.2h0M390.1 239.6h0M390.5 241.1h0M391.2 234.4h0M393.5 245.4h0M390.5 245.9h0M455.6 284.7h0M452.4 283.8h0M458.9 278.8h0M461.3 282.6h0M461.9 278.0h0M464.6 289.6h0M468.1 280.6h0M453.3 291.7h0M460.2 288.5h0M456.9 285.0h0M452.9 284.9h0M454.8 293.6h0M461.3 279.1h0M462.5 279.4h0M460.5 283.1h0" stroke="#28ae80"/>
<path d="M454.6 279.3h0M457.1 278.4h0M455.9 279.8h0M466.3 284.1h0M459.5 279.7h0M458.4 286.4h0M462.9 285.1h0M459.6 285.1h0M458.8 288.5h0M452.3 285.5h0M460.7 290.0h0M462.0 289.6h0M452.1 286.0h0M455.5 276.7h0M458.6 284.0h0M454.6 289.8h0M461.3 293.5h0M468.1 276.9h0M465.5 277.3h0M458.9 287.0h0" stroke="#9ad8b0"/>
<path d="M459.6 273.5h0M456.1 275.5h0M455.4 275.3h0M454.5 274.0h0M458.0 271.2h0M460.8 270.9h0M460.6 272.4h0M457.8 275.0h0" stroke="#8ab8d0"/>
<path d="M407.2 288.7h0M405.0 245.5h0M380.0 264.5h0M408.7 285.1h0M402.3 282.7h0M392.3 262.4h0M402.4 246.9h0M400.8 247.6h0M387.6 257.3h0M395.6 259.5h0M393.3 274.7h0M392.3 262.3h0M403.9 251.9h0M382.4 258.5h0M386.7 269.2h0M388.4 280.3h0M393.6 274.2h0M386.1 270.5h0M391.9 276.7h0M407.9 263.9h0M386.4 253.5h0M384.2 254.1h0M397.8 263.0h0M391.3 275.1h0M408.2 277.1h0M406.3 260.6h0M391.4 258.5h0M387.9 267.0h0M413.3 284.7h0M392.1 278.9h0M388.1 284.5h0M392.4 269.8h0M392.5 273.6h0M391.3 278.7h0M387.1 260.9h0M381.0 261.6h0M391.4 276.2h0M387.9 274.9h0M385.9 265.7h0M385.5 258.5h0M378.7 261.4h0M398.8 270.8h0M388.7 256.4h0M400.6 247.4h0M393.9 280.0h0M383.5 265.3h0M383.6 264.4h0M403.4 283.5h0M391.7 255.1h0M389.4 264.9h0M390.3 257.1h0M384.6 258.3h0M404.5 279.8h0M393.8 286.5h0M388.4 256.0h0M390.9 260.8h0M386.9 278.5h0M392.0 273.7h0M382.0 255.1h0M389.6 265.5h0M399.7 280.9h0M405.7 242.9h0M411.1 278.1h0M383.8 261.4h0M401.0 272.9h0M408.6 249.7h0M378.6 255.3h0M412.2 284.0h0M393.2 252.5h0M405.7 283.2h0M405.1 265.3h0M385.5 270.5h0M382.6 258.1h0M402.1 256.7h0M405.8 275.6h0M378.2 253.1h0M390.5 282.2h0M403.7 277.6h0M382.1 260.7h0M385.6 276.6h0M390.7 285.0h0M410.8 280.1h0M387.4 267.2h0M411.9 280.1h0M390.0 279.5h0M415.6 259.3h0M397.0 287.4h0M394.1 284.7h0M389.6 285.1h0M386.5 275.2h0M399.9 277.3h0M382.5 252.7h0M398.2 263.9h0M393.2 260.2h0M393.5 285.4h0M400.2 252.5h0M404.6 289.2h0M388.2 257.4h0M392.6 278.3h0M389.1 285.8h0M406.8 244.6h0M413.6 272.8h0M385.2 277.1h0M403.7 245.7h0M400.1 283.1h0M398.0 277.2h0M408.6 251.4h0M393.7 288.8h0M381.8 260.0h0M447.0 259.5h0M448.6 249.3h0M438.7 231.5h0M445.2 262.9h0M455.8 262.9h0M454.6 265.7h0M460.6 261.0h0M460.9 268.0h0M461.9 263.5h0M460.0 249.5h0M435.5 251.9h0M458.7 255.0h0M462.9 265.4h0M461.4 265.4h0M442.6 268.8h0M438.6 231.1h0M451.0 244.4h0M463.3 263.0h0M456.3 268.2h0M458.5 265.1h0M456.0 241.1h0M450.5 239.3h0M460.4 257.0h0M433.2 239.3h0M456.8 257.6h0M461.7 264.4h0M454.9 256.0h0M457.9 267.7h0M458.6 257.7h0M448.6 258.6h0M454.6 248.2h0M440.9 242.9h0M439.7 243.4h0M433.2 239.0h0M456.4 237.4h0M452.8 248.8h0M447.8 257.5h0M455.8 245.0h0M454.8 269.3h0M458.5 256.6h0M448.4 246.5h0M458.6 261.3h0M440.0 240.9h0M459.4 254.3h0M451.8 267.3h0M456.9 260.9h0M464.1 260.2h0M465.5 266.0h0M455.7 238.7h0M466.0 259.4h0M452.5 256.2h0M448.0 243.4h0M458.1 277.2h0M459.4 273.5h0M454.8 272.8h0M466.1 270.7h0M467.5 275.7h0M465.0 282.5h0M459.2 273.5h0M458.2 284.1h0M464.9 275.4h0M458.3 292.9h0M466.6 274.2h0M452.7 291.8h0M465.6 272.8h0M461.9 270.2h0M465.2 280.1h0M461.3 284.1h0M451.3 287.2h0M464.9 282.6h0M467.8 278.1h0M460.6 290.2h0M465.1 283.2h0M457.1 277.4h0M466.5 271.5h0M454.7 275.1h0M462.8 270.4h0M464.6 285.6h0M463.6 291.0h0M452.8 280.6h0M465.4 268.9h0M429.1 269.8h0M427.8 268.2h0M434.2 276.6h0M432.4 272.8h0M434.9 294.4h0M434.8 295.7h0M433.3 302.3h0M433.6 303.3h0M437.3 284.7h0M437.1 295.6h0M435.0 303.0h0M431.1 298.7h0M435.2 302.3h0M432.5 293.6h0M436.3 302.8h0M429.7 289.3h0M429.7 304.7h0M434.2 291.1h0M429.6 295.1h0M425.4 301.4h0M434.3 299.6h0M430.8 308.9h0M440.0 292.7h0" stroke="#3b528b"/>
<path d="M384.8 265.7h0M385.7 260.9h0M387.8 254.4h0M407.6 247.4h0M405.7 249.6h0M387.9 261.7h0M386.1 254.9h0M402.2 245.3h0M382.9 250.9h0M387.5 252.5h0M389.5 265.8h0M403.6 243.1h0M391.5 261.8h0M406.9 246.6h0M397.8 245.2h0M388.1 260.6h0M384.8 265.0h0M386.2 244.8h0M386.2 252.0h0M382.3 253.5h0M390.2 257.6h0M389.5 244.6h0M388.2 261.7h0M384.2 257.6h0M388.9 261.3h0M378.2 258.1h0M400.8 246.0h0M387.9 264.8h0M379.1 260.7h0M386.0 259.3h0M387.7 248.6h0M383.1 267.4h0M381.6 250.3h0M382.3 260.4h0M399.4 247.1h0M380.4 254.0h0M407.1 245.9h0M385.7 253.5h0M382.9 262.5h0M381.2 262.9h0M383.0 258.9h0M405.1 241.8h0M378.5 263.4h0M394.8 251.9h0M387.3 250.4h0M386.8 251.8h0M383.0 257.2h0M405.9 251.4h0M389.9 255.1h0M386.7 266.0h0M385.6 262.6h0M384.8 265.5h0M407.9 247.5h0M392.6 244.7h0M385.3 260.4h0M399.0 245.2h0M385.8 269.0h0M406.8 249.7h0M386.5 248.5h0M391.6 262.0h0M382.8 249.6h0M408.7 245.8h0M391.9 246.8h0M407.1 244.7h0M386.9 252.3h0M385.7 247.6h0M388.7 257.6h0M388.8 261.0h0M396.5 245.3h0M388.7 246.1h0M387.6 260.0h0M382.8 269.1h0M387.8 261.2h0M393.7 246.2h0M388.0 251.4h0M384.2 246.3h0M382.7 252.1h0M389.7 269.8h0M403.5 246.9h0M385.0 269.5h0M401.3 250.6h0M387.8 265.0h0M385.1 268.8h0M399.5 247.9h0M381.9 254.1h0M378.5 261.6h0M380.6 253.6h0M383.1 266.1h0M406.3 249.0h0M394.4 247.0h0M394.7 247.2h0M406.4 243.3h0M465.8 262.9h0M459.9 268.0h0M463.1 259.3h0M456.8 259.6h0M461.6 262.1h0M459.7 259.0h0M455.8 259.6h0M464.6 263.3h0M460.7 267.0h0M457.9 260.5h0M461.0 256.1h0M457.3 255.5h0M459.6 259.8h0M460.9 262.1h0M462.0 262.6h0M463.6 258.5h0M466.4 260.3h0M462.3 261.8h0M468.1 272.2h0M452.7 287.7h0M457.2 270.6h0M462.9 283.7h0M466.6 276.6h0M456.0 273.8h0M455.9 284.3h0M463.8 283.5h0M455.7 288.1h0M454.7 281.2h0M459.3 292.6h0M458.7 274.5h0M463.3 271.2h0M459.4 281.8h0M465.1 275.2h0M459.2 280.8h0M464.0 270.5h0M456.5 294.3h0M463.5 274.4h0" stroke="#2c728e"/>
<path d="M384.8 237.4h0M394.3 236.8h0M392.3 238.5h0M395.9 236.5h0M386.2 236.4h0M394.0 238.6h0M390.2 235.7h0M385.7 236.4h0M385.3 237.8h0M390.7 235.3h0M395.5 236.6h0M392.5 236.2h0M395.1 235.0h0" stroke="#addc30"/>
<path d="M397.8 275.5h0M410.5 280.3h0M394.7 254.6h0M393.8 282.3h0M386.8 277.8h0M398.1 275.8h0M406.2 284.7h0M394.8 281.8h0M393.4 278.0h0M390.9 285.8h0M407.0 281.6h0M413.8 272.6h0M392.9 283.9h0M415.5 280.6h0M394.0 289.0h0M393.1 258.6h0M409.4 286.5h0M412.1 281.8h0M411.1 278.2h0M404.4 280.0h0M404.8 275.2h0M390.5 272.7h0M401.1 252.9h0M392.3 286.2h0M402.7 275.3h0M385.7 280.4h0M400.6 273.4h0M393.5 269.9h0M408.2 283.2h0M391.9 280.8h0M393.5 270.8h0M401.4 285.4h0M403.5 280.4h0M407.5 271.3h0M409.8 284.4h0M395.7 268.8h0M390.1 285.5h0M439.8 262.8h0M464.2 242.9h0M447.5 268.8h0M441.5 231.8h0M441.7 233.1h0M442.0 246.9h0M461.1 245.9h0M446.7 249.6h0M459.1 248.5h0M458.0 244.7h0M435.0 236.5h0M432.4 242.6h0M429.7 240.9h0M443.5 240.9h0M456.6 242.9h0M444.7 259.3h0M452.1 253.5h0M446.1 231.5h0M446.4 238.3h0M446.9 233.4h0M458.7 248.0h0M441.3 247.7h0M451.9 246.9h0M443.3 233.1h0M452.4 242.3h0M448.4 257.2h0M439.7 247.8h0M456.4 240.7h0M449.5 241.9h0M443.2 255.2h0M452.9 254.7h0M453.7 253.5h0M444.7 260.8h0M439.4 240.3h0M439.7 233.3h0M448.2 243.5h0M442.0 231.5h0M430.7 237.5h0M460.2 252.2h0M436.7 252.2h0M436.7 243.7h0M437.9 251.6h0M437.2 242.8h0M455.3 250.2h0M452.6 240.7h0M443.5 237.2h0M457.0 240.7h0M451.5 256.6h0M439.8 246.1h0M447.2 261.3h0M444.1 257.3h0M440.6 239.6h0M438.8 255.7h0M454.4 244.7h0M430.6 237.5h0M438.9 260.5h0M447.9 247.3h0M449.4 248.4h0M446.8 254.5h0M433.9 243.2h0M455.8 245.9h0M441.8 255.6h0M454.1 241.8h0M436.3 234.3h0M454.0 236.4h0M432.6 247.3h0M444.1 244.8h0M448.8 240.3h0M453.4 248.1h0M450.1 243.4h0M435.5 233.0h0M448.2 246.6h0M451.3 238.1h0M447.3 240.7h0M451.4 245.3h0M449.5 267.4h0M438.3 238.5h0M450.3 235.0h0M447.0 255.1h0M456.8 238.6h0M449.4 249.3h0M444.5 239.4h0M433.0 238.6h0M455.9 237.4h0M440.8 239.1h0M444.7 242.3h0M436.7 232.6h0M443.4 239.7h0M443.9 240.5h0M435.0 236.7h0M457.0 244.0h0M445.5 245.7h0M452.4 266.7h0M459.7 248.5h0M447.9 253.0h0M438.2 246.7h0M441.4 260.7h0M443.1 247.7h0M444.5 265.1h0M456.8 238.8h0M448.8 246.1h0M454.1 261.3h0M446.8 257.5h0M449.0 247.7h0M440.7 259.9h0M426.4 267.5h0M431.0 267.2h0M426.4 265.2h0M427.9 268.3h0M426.7 264.5h0M425.1 264.5h0M438.5 278.9h0M431.6 273.1h0M441.6 273.0h0M436.6 269.7h0M430.3 305.6h0M440.9 291.5h0M426.3 294.5h0M426.9 297.0h0M426.9 300.1h0M426.8 295.7h0M437.6 282.3h0M425.7 295.9h0M429.9 294.7h0M434.7 304.5h0M427.5 294.1h0M435.1 299.9h0M424.9 301.1h0M429.2 294.8h0M430.9 302.4h0M430.2 292.7h0M435.9 299.4h0M435.6 290.8h0M435.8 288.3h0M434.2 303.0h0M424.7 296.2h0M424.3 293.6h0M439.2 296.0h0M439.9 293.8h0M420.3 295.9h0M432.1 291.3h0M426.5 300.9h0" stroke="#440154"/>
<path d="M402.7 250.5h0M393.2 239.4h0M403.5 250.4h0M409.5 247.8h0M394.0 250.8h0M386.8 250.5h0M385.4 246.8h0M391.0 244.3h0M397.1 241.2h0M391.4 247.4h0M395.7 239.9h0M391.3 242.3h0M404.1 249.8h0M400.8 251.9h0M384.7 239.8h0M381.3 251.2h0M389.2 265.4h0M389.1 245.4h0M388.0 256.8h0M399.5 250.4h0M399.5 251.2h0M386.6 257.2h0M391.6 245.1h0M386.0 262.9h0M384.3 250.8h0M390.7 249.3h0M382.9 251.7h0M384.7 239.4h0M383.6 247.4h0M382.3 248.4h0M399.8 247.3h0M386.6 246.6h0M391.0 241.1h0M386.2 244.7h0M390.7 254.2h0M393.7 248.3h0M385.4 245.7h0M390.0 245.9h0M388.2 260.3h0M381.2 259.0h0M380.5 259.0h0M381.3 251.4h0M384.7 241.9h0M383.2 245.0h0M381.0 251.9h0M388.6 247.5h0M396.3 251.4h0M388.0 247.6h0M388.1 255.5h0M390.7 269.7h0M381.1 263.9h0M387.4 260.9h0M388.4 258.3h0M387.8 244.6h0M386.1 265.9h0M401.8 249.2h0M385.5 259.7h0M399.8 250.6h0M385.7 245.0h0M385.8 239.7h0M386.3 256.6h0M388.1 253.9h0M394.5 243.4h0M386.8 261.7h0M382.3 243.9h0M384.2 247.8h0M395.3 251.0h0M384.8 248.9h0M389.6 239.4h0M398.4 247.3h0M401.2 243.1h0M380.9 266.5h0M385.5 252.9h0M389.1 262.7h0M390.2 245.7h0M396.8 249.0h0M386.3 253.5h0M390.9 258.8h0M393.5 247.4h0M387.4 251.4h0M382.9 251.7h0M389.0 253.2h0M401.0 245.2h0M402.7 246.0h0M384.1 248.0h0M389.4 250.2h0M390.1 261.5h0M388.6 247.8h0M388.7 239.2h0M398.7 251.7h0M394.7 243.8h0M379.1 260.6h0M392.7 246.6h0M387.3 241.0h0M384.8 266.1h0M381.5 252.1h0M391.6 255.3h0M383.7 256.2h0M401.6 240.8h0M383.3 249.5h0M385.4 241.0h0M387.2 247.6h0M383.0 267.9h0M395.0 244.0h0M461.2 275.7h0M466.5 270.3h0M466.2 272.6h0M464.6 275.6h0M456.6 273.5h0" stroke="#21918c"/>
<path d="M401.8 283.2h0M391.2 271.8h0M386.9 273.0h0M396.6 276.0h0M403.9 277.7h0M400.6 278.8h0M405.4 268.5h0M400.2 288.1h0M400.4 279.0h0M391.1 277.8h0M414.2 283.4h0M402.6 287.0h0M408.4 278.1h0M390.0 276.0h0M395.0 261.5h0M413.7 284.1h0M408.3 288.0h0M411.2 276.0h0M401.9 269.8h0M406.0 289.0h0M392.3 260.8h0M408.0 278.1h0M414.2 262.9h0M412.9 281.6h0M392.1 277.8h0M411.4 281.0h0M411.7 283.5h0M400.7 277.6h0M390.6 281.1h0M393.8 281.0h0M390.9 288.4h0M403.5 276.8h0M386.8 273.7h0M394.0 282.4h0M408.6 275.9h0M397.2 279.4h0M398.3 279.5h0M410.7 282.8h0M413.7 287.4h0M388.3 284.4h0M399.5 276.8h0M385.6 281.9h0M397.0 276.1h0M401.6 273.8h0M410.5 283.0h0M392.6 261.5h0M386.0 275.7h0M404.6 279.7h0M393.3 254.8h0M388.1 281.1h0M389.2 281.7h0M394.8 253.1h0M396.9 254.7h0M396.5 281.7h0M392.8 254.1h0M395.3 284.6h0M405.3 280.4h0M397.1 281.7h0M409.1 279.1h0M395.4 261.2h0M394.7 253.9h0M388.1 276.3h0M387.1 271.0h0M390.6 285.8h0M403.0 282.3h0M392.4 253.7h0M401.8 285.8h0M418.9 257.9h0M392.8 288.7h0M407.0 281.6h0M394.9 284.3h0M404.4 283.0h0M404.1 283.7h0M393.8 261.4h0M409.7 284.9h0M406.4 280.1h0M413.5 282.5h0M399.6 285.7h0M394.4 283.6h0M388.1 273.7h0M391.6 274.5h0M403.0 256.6h0M392.4 280.3h0M389.2 279.3h0M406.3 287.8h0M402.2 285.9h0M399.3 276.4h0M385.7 281.7h0M409.7 278.8h0M399.0 289.5h0M408.7 274.0h0M403.4 283.7h0M417.2 260.5h0M387.8 276.7h0M400.2 252.3h0M388.0 285.5h0M402.8 289.9h0M393.5 275.5h0M403.1 279.7h0M400.2 257.6h0M407.9 288.1h0M397.9 276.0h0M392.5 266.5h0M396.5 269.7h0M394.6 274.1h0M404.5 280.9h0M391.4 283.5h0M413.9 278.7h0M408.7 280.2h0M391.1 277.2h0M403.4 267.7h0M389.4 281.9h0M409.7 273.7h0M409.9 288.4h0M399.7 276.0h0M407.2 256.9h0M410.6 286.8h0M401.3 284.2h0M396.5 257.8h0M403.9 255.6h0M406.1 287.6h0M391.7 279.2h0M385.9 282.5h0M418.5 284.5h0M390.2 273.2h0M395.7 277.4h0M412.4 260.7h0M397.2 257.6h0M404.6 254.8h0M397.8 289.3h0M390.7 283.9h0M407.8 255.3h0M405.1 272.9h0M410.8 279.6h0M410.9 271.5h0M413.3 270.3h0M412.2 283.6h0M397.7 252.9h0M402.7 280.9h0M393.9 281.1h0M404.1 280.1h0M413.6 280.1h0M409.7 265.1h0M415.2 283.2h0M392.2 282.6h0M407.0 275.9h0M387.9 278.6h0M396.6 262.3h0M401.8 260.4h0M397.2 259.1h0M396.3 281.7h0M405.3 281.9h0M435.6 252.9h0M447.2 254.2h0M438.9 237.5h0M458.0 248.2h0M454.1 241.5h0M452.0 235.8h0M435.5 240.8h0M433.8 247.9h0M439.3 253.2h0M455.9 255.2h0M460.3 254.1h0M450.6 244.6h0M456.6 244.2h0M432.4 247.2h0M439.2 261.3h0M443.9 256.0h0M449.5 238.2h0M456.5 264.6h0M434.9 237.2h0M447.9 247.9h0M457.6 266.3h0M437.1 237.5h0M456.4 262.3h0M453.4 250.0h0M451.7 252.4h0M457.6 250.8h0M461.9 263.7h0M455.5 244.9h0M458.8 266.0h0M444.5 253.3h0M444.3 243.4h0M445.8 253.8h0M457.4 247.8h0M449.0 238.3h0M457.4 247.8h0M446.0 257.6h0M429.8 240.9h0M447.4 246.2h0M441.7 239.7h0M454.7 248.7h0M439.9 263.9h0M440.4 232.3h0M437.7 237.7h0M446.2 239.6h0M451.8 268.1h0M442.6 229.1h0M455.5 239.5h0M464.2 263.7h0M432.0 238.3h0M443.8 236.2h0M442.7 268.0h0M435.0 248.5h0M450.9 240.5h0M442.7 230.1h0M435.9 236.3h0M457.7 248.5h0M446.6 262.1h0M444.9 257.5h0M461.7 260.6h0M452.2 257.7h0M443.6 249.3h0M449.9 244.7h0M457.0 264.7h0M443.1 232.6h0M447.8 263.3h0M454.5 239.5h0M449.5 240.6h0M454.2 240.4h0M447.7 245.5h0M441.3 256.5h0M433.7 243.5h0M450.0 263.6h0M464.2 258.6h0M440.3 235.1h0M449.4 246.2h0M462.3 256.7h0M459.7 238.6h0M452.3 260.6h0M438.1 238.6h0M449.1 244.8h0M437.1 247.2h0M446.7 245.1h0M453.9 263.1h0M429.8 241.2h0M450.8 246.2h0M445.4 244.6h0M441.1 253.7h0M461.7 267.0h0M440.2 265.8h0M444.9 240.1h0M451.4 251.5h0M450.0 262.1h0M441.2 243.1h0M452.9 253.3h0M449.6 254.9h0M451.1 238.4h0M444.0 234.9h0M451.1 256.3h0M434.8 248.5h0M443.4 234.9h0M455.0 253.2h0M449.9 236.2h0M448.1 255.9h0M461.3 259.4h0M444.0 243.9h0M432.3 241.8h0M440.2 242.1h0M441.0 233.0h0M445.6 240.0h0M446.4 230.4h0M445.1 240.9h0M447.6 241.4h0M445.1 234.2h0M457.3 260.8h0M445.6 246.4h0M452.9 251.7h0M446.8 230.2h0M448.5 242.6h0M438.1 254.9h0M438.3 243.6h0M456.8 238.6h0M463.1 241.2h0M443.9 245.7h0M462.7 260.3h0M447.7 250.3h0M447.2 242.5h0M453.7 240.8h0M457.4 241.5h0M442.0 265.0h0M456.4 262.2h0M466.5 262.2h0M446.3 247.5h0M440.4 263.7h0M450.5 237.6h0M435.9 246.4h0M458.5 261.9h0M446.7 232.4h0M449.7 266.1h0M444.4 253.7h0M439.7 246.6h0M453.0 257.9h0M450.4 267.5h0M436.8 239.9h0M459.5 264.4h0M447.7 254.2h0M443.6 237.2h0M442.9 248.1h0M439.8 253.3h0M439.0 236.9h0M441.1 250.8h0M454.0 244.9h0M446.5 250.5h0M442.6 240.1h0M442.5 263.2h0M443.6 232.8h0M426.6 269.1h0M427.8 263.4h0M426.2 266.6h0M428.6 265.5h0M429.6 263.0h0M424.7 265.0h0M424.6 265.5h0M431.0 268.4h0M425.5 271.1h0M426.7 268.1h0M430.6 267.1h0M429.3 268.6h0M425.3 269.4h0M442.3 269.1h0M439.1 268.0h0M441.0 276.4h0M440.7 268.6h0M434.9 280.2h0M439.3 280.0h0M433.5 276.3h0M440.4 271.2h0M428.6 304.0h0M440.3 293.4h0M426.3 299.5h0M431.4 308.8h0M427.6 296.8h0M426.4 303.0h0M434.7 301.4h0M430.9 293.9h0M431.1 293.9h0M435.2 293.6h0M429.3 293.4h0M434.5 294.9h0M430.2 302.0h0M428.9 296.0h0M437.4 298.2h0M429.0 304.8h0M431.2 306.3h0M434.7 291.4h0M433.1 306.7h0M438.0 298.7h0M426.5 296.8h0M431.5 298.6h0M426.4 296.8h0M439.1 294.0h0M428.1 292.0h0M432.3 296.3h0M424.8 304.4h0M438.3 290.4h0M430.4 296.5h0M436.4 296.4h0M429.6 297.4h0M426.6 296.9h0M437.8 295.7h0M438.2 295.7h0M430.0 304.6h0M438.9 284.3h0M427.7 305.5h0M425.7 302.0h0M429.5 301.2h0M430.3 299.5h0M433.3 295.5h0M426.8 293.4h0M427.7 292.9h0M428.7 301.9h0M435.0 292.7h0M438.9 296.7h0M429.5 308.0h0M427.9 297.7h0M424.8 304.2h0M426.1 294.4h0M426.9 300.2h0M435.1 297.7h0M428.1 299.1h0M426.4 302.7h0M426.6 303.8h0M432.8 301.2h0M428.9 298.2h0M423.7 298.7h0M438.9 285.1h0M426.1 300.5h0M437.9 282.9h0M440.9 285.0h0M433.6 303.9h0M424.1 296.4h0M437.0 302.4h0M431.4 292.8h0M425.9 297.2h0M428.9 294.6h0M424.6 299.4h0M431.5 293.8h0M428.3 304.0h0M430.3 305.6h0M435.0 293.2h0M425.6 300.5h0M433.8 307.4h0M426.0 296.7h0" stroke="#472d7b"/>
<path d="M381.8 244.3h0M392.8 239.5h0M389.3 239.3h0M397.0 240.5h0M402.0 242.3h0M396.5 236.7h0M386.8 241.2h0M388.6 243.4h0M388.9 234.7h0M385.9 243.5h0M390.0 238.4h0M392.9 235.1h0M393.7 243.9h0M394.1 242.9h0M394.0 240.3h0M388.7 240.3h0M388.7 239.4h0M393.0 243.4h0M394.8 241.7h0M388.2 241.5h0M399.6 238.5h0M401.9 241.2h0M390.5 241.3h0M397.0 242.8h0M389.9 236.3h0M388.8 237.8h0M391.5 241.7h0M390.5 242.1h0M393.2 242.0h0M457.4 280.1h0M466.2 277.1h0M452.9 289.4h0M465.3 288.8h0M462.9 289.1h0M459.5 282.0h0M460.7 281.4h0M456.7 284.1h0M451.9 291.3h0M461.0 287.6h0M464.2 278.6h0M452.3 286.6h0M459.9 278.7h0M460.9 287.7h0M467.7 278.2h0M456.2 293.3h0M460.0 280.1h0M455.6 284.2h0M454.8 277.0h0M465.3 277.6h0M460.0 278.1h0M464.7 283.1h0M456.5 277.6h0M455.6 278.4h0M460.6 283.0h0M461.4 289.8h0M459.6 294.3h0M456.3 284.7h0M451.6 283.9h0M454.3 286.3h0" stroke="#5ec962"/>
<path d="M399.8 242.9h0M386.9 242.8h0M394.0 247.5h0M394.6 242.1h0M383.6 242.3h0M389.9 240.4h0M400.6 240.0h0M393.6 238.8h0M384.7 239.2h0M395.6 242.8h0M383.8 243.9h0M390.2 240.3h0M389.1 239.2h0M394.7 246.1h0M389.1 240.7h0M387.0 238.9h0M390.6 243.9h0M399.4 247.3h0M395.8 238.8h0M390.9 239.2h0M399.3 250.8h0M388.6 243.4h0M387.7 240.7h0M384.5 251.5h0M393.0 244.2h0M390.7 241.0h0M384.8 244.4h0M390.8 240.3h0M394.8 244.8h0M398.5 240.6h0M383.8 239.3h0M392.6 238.8h0M387.3 251.2h0M392.1 239.0h0M393.5 241.1h0M391.2 244.8h0M388.3 251.9h0M391.7 246.5h0M392.4 244.2h0M387.4 244.3h0M395.3 240.3h0M400.8 244.2h0M393.3 240.4h0M463.5 284.6h0M463.5 281.2h0M463.7 285.6h0M456.5 285.6h0M455.3 287.8h0M459.8 285.3h0M457.2 280.2h0M462.1 287.6h0M454.4 293.9h0M456.7 280.0h0M456.4 283.7h0M460.4 280.2h0M452.7 287.2h0M457.0 280.5h0M463.3 280.1h0M462.2 289.7h0" stroke="#28ae80"/>
<path d="M453.8 292.0h0M457.2 278.7h0M464.4 285.7h0M466.0 280.8h0M461.7 287.6h0M459.1 288.5h0M453.1 291.6h0M452.8 282.4h0M464.6 289.1h0M461.5 278.5h0M461.7 284.1h0M458.9 282.2h0M455.2 289.5h0M456.5 279.8h0M463.0 285.7h0M457.7 281.7h0M455.8 290.4h0M463.0 288.0h0M460.1 286.8h0M453.3 289.6h0" stroke="#9ad8b0"/>
<path d="M465.0 273.5h0M461.7 271.5h0M457.5 274.7h0M459.2 271.4h0M463.7 276.2h0M464.1 275.6h0M457.9 273.3h0M465.8 275.2h0" stroke="#8ab8d0"/>
<path d="M411.1 286.0h0M380.7 259.0h0M403.3 282.7h0M404.9 247.8h0M395.0 286.1h0M412.2 268.1h0M402.8 250.0h0M405.9 286.2h0M387.9 257.8h0M390.8 280.6h0M390.3 282.2h0M391.5 253.6h0M387.2 267.1h0M405.9 276.1h0M391.8 258.9h0M384.9 262.3h0M385.4 259.3h0M378.7 257.8h0M384.2 265.9h0M403.2 283.7h0M380.6 258.0h0M400.6 252.9h0M397.7 276.0h0M408.5 282.9h0M409.4 278.2h0M388.7 263.5h0M391.9 275.4h0M403.6 262.8h0M389.3 285.4h0M391.8 268.7h0M413.3 282.2h0M405.3 249.5h0M388.8 258.8h0M382.1 261.1h0M389.4 255.4h0M411.3 278.4h0M418.5 282.7h0M402.5 273.2h0M416.8 286.1h0M409.3 279.9h0M389.6 282.2h0M390.6 280.2h0M386.9 263.0h0M403.5 253.1h0M395.2 281.9h0M387.2 271.4h0M401.5 248.3h0M393.0 260.9h0M394.3 253.6h0M381.1 266.3h0M382.0 257.9h0M392.7 276.4h0M381.1 265.1h0M397.4 283.6h0M378.8 264.3h0M380.9 265.0h0M385.1 261.5h0M386.3 255.3h0M403.8 282.1h0M409.4 280.7h0M389.0 265.2h0M405.8 287.3h0M387.5 257.2h0M414.0 279.1h0M378.3 259.5h0M383.9 263.0h0M386.2 265.1h0M391.5 277.2h0M385.1 252.3h0M411.6 267.6h0M391.8 262.4h0M416.6 274.8h0M379.0 256.1h0M386.3 255.2h0M397.5 287.6h0M414.6 275.2h0M385.3 263.4h0M386.4 268.4h0M408.1 277.2h0M388.1 263.1h0M405.3 255.4h0M417.9 283.1h0M405.4 272.8h0M408.8 278.8h0M379.6 255.1h0M383.5 265.0h0M389.8 278.8h0M400.3 248.6h0M392.8 275.4h0M404.7 249.9h0M389.1 254.2h0M385.5 263.6h0M389.7 255.1h0M398.6 273.6h0M397.5 266.8h0M394.9 253.3h0M412.2 273.9h0M383.9 264.6h0M404.5 246.9h0M409.4 247.2h0M385.8 268.5h0M388.6 259.3h0M382.5 269.4h0M395.3 280.3h0M389.9 260.4h0M396.2 262.9h0M406.0 290.3h0M417.2 277.2h0M383.6 257.1h0M432.1 245.7h0M460.6 266.6h0M451.8 247.2h0M452.8 264.0h0M442.0 232.5h0M458.9 261.7h0M457.1 253.6h0M464.3 266.2h0M457.4 260.9h0M436.3 234.8h0M462.8 258.4h0M453.4 236.3h0M463.7 261.7h0M455.5 259.1h0M456.7 262.1h0M457.1 264.9h0M458.9 262.9h0M462.6 259.7h0M437.9 263.1h0M438.8 240.9h0M438.7 246.7h0M452.4 248.8h0M455.8 264.8h0M450.0 250.7h0M450.4 248.7h0M461.2 264.9h0M448.7 240.5h0M440.4 259.6h0M460.5 258.6h0M454.1 241.1h0M440.8 261.0h0M459.8 264.1h0M461.3 243.9h0M443.1 255.4h0M443.4 248.4h0M438.7 264.9h0M464.6 263.0h0M454.0 250.9h0M457.3 257.8h0M456.8 258.0h0M463.4 260.8h0M438.6 247.8h0M462.4 259.7h0M442.8 234.4h0M455.3 249.1h0M465.4 258.8h0M458.7 258.9h0M434.1 238.9h0M455.4 258.5h0M437.0 261.4h0M447.1 249.0h0M467.3 273.8h0M456.4 275.8h0M461.4 272.1h0M459.9 284.5h0M460.3 287.8h0M452.0 281.8h0M464.7 271.9h0M458.8 279.2h0M464.0 271.0h0M463.5 271.5h0M452.7 281.9h0M459.2 274.0h0M461.5 274.2h0M456.7 271.8h0M463.6 270.2h0M454.4 274.8h0M453.9 280.8h0M453.8 279.5h0M461.5 271.2h0M463.4 284.3h0M458.5 279.8h0M457.0 280.2h0M464.2 273.1h0M465.3 275.0h0M467.7 273.3h0M468.3 275.9h0M460.7 281.6h0M459.2 272.8h0M461.4 279.2h0M453.8 289.1h0M430.1 268.1h0M425.0 265.7h0M436.6 280.8h0M440.4 274.4h0M423.7 292.2h0M438.5 298.4h0M430.5 304.0h0M430.4 301.6h0M432.1 305.6h0M427.5 298.8h0M440.2 283.9h0M423.2 293.3h0M430.3 298.7h0M432.5 289.1h0M419.5 296.4h0M424.0 297.2h0M435.4 300.8h0M426.0 298.6h0M440.4 294.0h0M423.6 292.5h0M431.2 300.7h0M420.1 295.6h0M427.8 300.7h0" stroke="#3b528b"/>
<path d="M395.2 245.9h0M406.5 244.6h0M385.1 249.8h0M404.0 245.1h0M407.8 249.1h0M383.3 269.5h0M387.7 257.4h0M408.3 248.9h0M385.1 253.6h0M379.5 260.8h0M390.5 267.6h0M381.0 265.6h0M385.5 264.1h0M402.1 248.5h0M388.9 267.3h0M383.8 255.8h0M386.5 268.3h0M380.8 259.7h0M382.0 258.9h0M390.2 246.2h0M388.7 259.2h0M390.9 252.6h0M384.6 260.7h0M392.3 246.9h0M390.4 263.2h0M407.5 247.7h0M382.0 262.2h0M388.1 244.5h0M397.3 249.1h0M390.8 253.2h0M398.0 247.6h0M380.9 250.6h0M403.6 249.3h0M391.7 262.0h0M402.5 242.7h0M389.8 270.3h0M384.5 246.6h0M385.8 255.1h0M390.4 247.8h0M380.7 259.3h0M382.1 264.9h0M382.2 260.7h0M386.5 250.4h0M381.2 258.3h0M382.5 258.8h0M389.6 244.8h0M383.0 260.0h0M387.6 268.5h0M386.3 251.9h0M385.4 261.5h0M382.0 267.3h0M385.4 260.0h0M389.2 245.9h0M397.5 251.6h0M380.1 259.3h0M385.5 265.9h0M386.5 265.4h0M380.4 265.2h0M390.7 260.7h0M407.8 251.3h0M382.9 252.6h0M401.4 247.8h0M409.1 247.7h0M397.2 245.8h0M405.2 246.6h0M389.6 246.1h0M388.4 264.9h0M403.6 245.6h0M406.5 247.1h0M382.4 266.0h0M403.8 246.2h0M381.8 262.2h0M404.5 246.8h0M391.6 269.4h0M392.2 247.5h0M386.1 260.4h0M403.8 244.9h0M386.5 253.6h0M396.2 248.0h0M388.1 245.9h0M409.9 251.3h0M402.4 249.1h0M381.2 260.0h0M383.8 249.9h0M392.6 248.6h0M385.5 250.7h0M381.2 262.1h0M385.3 252.6h0M403.1 246.9h0M380.9 257.7h0M380.7 256.5h0M461.7 257.2h0M464.1 265.9h0M461.5 255.6h0M463.5 256.7h0M456.0 255.7h0M457.0 263.9h0M459.3 260.2h0M460.5 259.3h0M455.3 253.4h0M462.5 259.8h0M466.7 264.6h0M465.6 260.7h0M457.9 260.0h0M461.4 259.5h0M462.2 264.2h0M456.0 263.6h0M463.1 258.8h0M463.8 260.4h0M466.9 260.6h0M457.0 289.5h0M462.0 284.6h0M456.0 271.5h0M458.8 277.4h0M456.4 293.2h0M467.0 286.1h0M465.5 269.8h0M457.9 285.7h0M461.5 289.4h0M461.9 272.6h0M461.0 271.4h0M460.7 274.4h0M458.6 270.5h0M454.3 276.0h0M456.9 274.5h0M460.5 271.3h0M459.1 277.7h0M459.3 294.1h0M458.3 274.0h0" stroke="#2c728e"/>
<path d="M390.5 238.1h0M387.0 235.5h0M387.4 238.6h0M394.4 237.9h0M394.8 234.9h0M392.0 236.3h0M393.6 235.0h0M392.2 237.0h0M390.3 234.1h0M397.0 236.8h0M387.9 236.6h0M397.1 236.0h0M397.9 236.8h0" stroke="#addc30"/>
<path d="M411.1 285.5h0M395.5 254.9h0M394.4 274.0h0M403.3 254.2h0M392.4 274.1h0M397.7 253.1h0M411.2 279.7h0M397.5 288.1h0M400.1 280.1h0M416.6 284.1h0M390.9 286.4h0M399.7 256.9h0M395.9 259.6h0M403.4 283.9h0M402.6 278.0h0M392.3 270.4h0M399.9 273.6h0M405.7 281.0h0M417.9 282.1h0M406.8 256.6h0M412.0 282.7h0M397.0 283.9h0M406.2 278.9h0M388.9 278.3h0M401.8 260.3h0M412.6 288.2h0M396.1 287.0h0M387.6 277.8h0M399.1 290.1h0M411.4 281.0h0M389.0 277.1h0M404.6 284.7h0M405.5 287.6h0M394.0 273.9h0M393.0 252.5h0M405.8 286.2h0M430.5 241.4h0M453.9 259.0h0M450.3 267.4h0M445.5 236.5h0M443.9 240.5h0M447.3 262.8h0M448.9 240.0h0M450.1 243.4h0M451.1 249.7h0M448.6 247.9h0M450.5 240.5h0M438.0 256.9h0M460.6 246.3h0M438.3 265.5h0M432.4 243.0h0M443.5 246.2h0M449.8 246.3h0M453.8 260.9h0M441.9 234.4h0M439.4 257.4h0M434.2 238.9h0M449.3 243.0h0M454.3 266.5h0M438.4 256.7h0M451.0 258.1h0M441.9 261.9h0M448.5 243.1h0M457.0 244.6h0M437.1 241.4h0M446.2 261.6h0M454.6 258.5h0M443.5 247.1h0M445.2 256.4h0M443.2 234.3h0M432.3 242.6h0M456.2 251.5h0M457.0 244.9h0M435.4 249.8h0M450.1 255.5h0M445.5 266.7h0M440.7 265.0h0M449.9 247.4h0M438.1 235.5h0M448.2 233.5h0M444.4 259.9h0M457.9 246.8h0M436.9 240.9h0M442.3 265.8h0M444.5 231.6h0M438.7 251.0h0M446.8 265.1h0M445.5 237.6h0M438.5 254.6h0M437.5 264.0h0M443.4 248.4h0M438.1 240.0h0M453.8 247.8h0M452.8 252.1h0M439.5 236.4h0M440.9 232.8h0M442.6 265.6h0M432.5 239.1h0M431.5 240.9h0M454.7 269.2h0M431.3 245.1h0M447.9 241.5h0M447.0 251.1h0M447.5 243.6h0M444.3 237.1h0M449.3 255.6h0M435.4 243.5h0M446.4 258.9h0M450.2 254.9h0M443.5 233.1h0M447.0 231.3h0M443.5 231.7h0M451.2 239.6h0M450.8 251.2h0M454.9 239.8h0M440.5 231.8h0M439.9 267.4h0M440.2 236.2h0M450.0 238.3h0M461.8 241.1h0M451.1 253.5h0M456.8 243.6h0M445.9 237.7h0M446.4 256.8h0M456.6 251.9h0M437.2 253.2h0M441.3 255.8h0M444.0 260.7h0M445.6 257.5h0M447.5 242.4h0M452.8 260.7h0M451.4 266.7h0M440.0 261.3h0M449.1 258.1h0M444.3 249.9h0M455.8 242.5h0M452.7 251.2h0M443.6 258.9h0M445.5 265.2h0M457.9 245.2h0M452.8 248.4h0M447.0 248.9h0M428.6 269.8h0M427.3 268.7h0M426.7 266.7h0M425.8 269.4h0M427.2 265.6h0M426.4 263.9h0M441.6 273.9h0M437.8 279.5h0M436.2 273.6h0M440.1 284.8h0M424.7 295.3h0M429.3 301.1h0M430.9 294.8h0M435.3 304.5h0M434.3 302.6h0M427.3 297.1h0M429.1 303.6h0M430.3 298.2h0M433.9 301.3h0M438.9 299.5h0M428.8 300.8h0M434.1 289.6h0M426.9 306.1h0M435.9 294.8h0M424.0 302.5h0M429.9 303.8h0M436.7 292.6h0M433.8 290.0h0M431.7 298.9h0M438.5 292.3h0M421.3 292.1h0M429.5 293.3h0M425.5 295.5h0M440.9 289.5h0M441.0 284.3h0M427.1 296.5h0M438.0 297.7h0" stroke="#440154"/>
<path d="M396.5 249.5h0M379.4 263.9h0M389.9 253.1h0M398.1 246.4h0M385.9 246.0h0M387.2 269.9h0M387.8 252.3h0M385.6 249.8h0M390.1 262.7h0M385.1 247.1h0M386.5 260.8h0M401.4 247.4h0M407.8 247.1h0M385.4 240.6h0M401.4 250.4h0M399.6 249.0h0M388.8 269.0h0M403.4 250.7h0M382.2 246.4h0M386.1 261.7h0M392.5 249.0h0M392.6 251.4h0M404.4 246.8h0M384.8 266.2h0M378.8 262.3h0M392.5 247.8h0M387.1 259.4h0M391.1 245.7h0M392.6 244.0h0M385.6 252.2h0M384.0 261.3h0M388.6 263.1h0M383.8 251.1h0M395.6 245.6h0M383.5 244.6h0M390.4 240.1h0M391.2 251.8h0M392.7 248.9h0M385.9 255.8h0M379.5 257.1h0M398.2 245.7h0M390.6 240.0h0M388.3 264.8h0M395.1 248.9h0M393.6 245.9h0M379.2 259.6h0M407.1 250.1h0M395.6 246.1h0M390.8 249.0h0M391.7 244.0h0M383.9 245.0h0M384.4 252.9h0M383.4 248.1h0M403.4 243.7h0M401.9 247.2h0M387.0 243.7h0M386.2 241.7h0M396.6 248.2h0M379.0 260.8h0M403.1 246.3h0M392.5 250.1h0M387.8 257.4h0M388.4 255.9h0M399.7 245.5h0M391.8 257.2h0M392.6 246.3h0M395.5 244.8h0M384.3 243.8h0M388.3 253.6h0M389.4 243.7h0M406.0 248.4h0M383.0 259.1h0M396.9 239.0h0M383.5 239.7h0M388.5 249.7h0M387.8 259.6h0M388.0 248.2h0M382.3 265.1h0M386.7 244.6h0M380.7 254.5h0M392.8 248.4h0M386.3 256.6h0M386.9 258.6h0M383.8 265.5h0M381.3 262.3h0M389.8 244.5h0M409.6 249.4h0M383.6 258.2h0M385.2 247.8h0M392.9 248.2h0M396.0 247.8h0M388.8 241.8h0M390.3 248.6h0M401.7 241.1h0M379.7 256.8h0M384.8 259.2h0M386.6 240.7h0M391.4 247.4h0M391.4 256.1h0M398.5 247.1h0M405.0 249.7h0M382.8 257.2h0M387.3 267.7h0M457.0 272.6h0M459.3 275.5h0M459.4 269.5h0M458.8 276.2h0M460.6 272.3h0M461.7 272.2h0" stroke="#21918c"/>
<path d="M416.0 280.5h0M407.6 288.0h0M411.9 285.3h0M403.5 276.0h0M390.0 278.0h0M413.4 280.7h0M391.8 270.9h0M392.4 267.2h0M396.7 276.3h0M400.8 273.8h0M387.9 274.6h0M414.2 281.4h0M417.6 284.9h0M394.6 288.9h0M387.2 284.1h0M399.2 255.4h0M389.5 279.8h0M402.9 283.0h0M388.0 274.6h0M399.0 262.9h0M410.5 272.0h0M417.5 281.6h0M402.6 280.6h0M390.1 284.9h0M412.6 264.2h0M408.8 282.5h0M402.1 252.3h0M388.5 283.4h0M399.4 254.6h0M396.1 272.5h0M408.6 277.3h0M401.6 252.2h0M395.9 280.2h0M392.4 278.9h0M394.7 285.5h0M395.7 282.2h0M387.0 280.4h0M406.2 267.6h0M398.3 283.4h0M387.7 275.5h0M386.0 276.7h0M388.6 279.1h0M389.5 281.4h0M389.3 279.7h0M386.7 270.8h0M408.3 289.6h0M414.9 274.5h0M388.8 278.6h0M397.2 278.3h0M392.1 278.0h0M394.1 265.1h0M410.1 281.4h0M404.4 287.5h0M397.0 276.9h0M395.1 279.8h0M387.8 276.0h0M416.9 283.9h0M397.1 274.0h0M391.2 271.7h0M406.3 279.3h0M392.5 262.5h0M415.6 278.0h0M411.5 284.4h0M415.1 274.4h0M398.3 284.4h0M396.7 281.9h0M394.3 282.1h0M399.7 289.8h0M402.4 263.4h0M394.2 278.3h0M408.0 267.3h0M386.1 282.8h0M395.2 274.8h0M392.5 282.2h0M417.5 278.1h0M399.9 288.0h0M389.1 283.2h0M386.9 271.4h0M389.8 285.4h0M410.1 283.6h0M407.7 261.4h0M389.9 278.0h0M402.7 284.3h0M391.8 280.7h0M392.5 286.2h0M393.0 273.8h0M392.0 282.2h0M413.7 276.3h0M414.2 269.4h0M391.7 276.1h0M401.5 272.5h0M407.0 276.2h0M397.8 276.2h0M410.1 287.0h0M392.4 278.0h0M386.9 280.0h0M396.5 260.9h0M396.9 271.6h0M392.9 255.8h0M410.5 273.7h0M409.4 258.9h0M400.5 283.8h0M414.0 272.4h0M408.2 279.9h0M412.3 281.9h0M391.4 281.9h0M408.7 279.9h0M414.5 263.1h0M415.4 276.2h0M394.9 274.6h0M400.6 254.1h0M392.2 281.8h0M413.9 273.5h0M405.6 287.6h0M390.4 284.3h0M390.2 280.2h0M393.5 281.2h0M393.4 281.7h0M395.4 290.3h0M395.7 271.7h0M416.1 280.3h0M396.3 284.6h0M407.0 278.3h0M395.2 288.4h0M399.4 286.7h0M386.0 279.3h0M400.9 257.6h0M394.3 283.3h0M392.1 281.8h0M410.7 263.8h0M417.7 278.2h0M398.0 286.0h0M395.4 254.5h0M406.1 280.9h0M394.4 271.5h0M388.5 278.4h0M393.2 256.8h0M396.9 282.4h0M397.1 279.0h0M413.9 286.6h0M388.9 276.2h0M415.2 282.2h0M407.4 276.7h0M392.3 264.6h0M394.9 278.9h0M388.3 282.4h0M406.6 254.8h0M412.0 279.0h0M393.4 261.3h0M402.0 253.9h0M414.3 281.4h0M407.8 252.5h0M443.7 255.9h0M448.1 245.5h0M448.7 245.9h0M444.9 237.4h0M449.5 262.5h0M463.7 265.5h0M438.1 236.7h0M457.7 241.3h0M449.2 255.5h0M443.3 231.3h0M431.5 240.6h0M451.8 252.7h0M455.0 237.4h0M440.5 237.5h0M442.6 262.9h0M436.5 237.9h0M459.5 242.6h0M434.5 241.7h0M441.4 243.9h0M430.4 241.5h0M453.8 236.1h0M463.6 240.2h0M440.3 230.5h0M443.1 259.3h0M450.6 249.2h0M461.3 244.3h0M455.2 245.9h0M446.3 253.6h0M438.7 259.8h0M443.9 256.8h0M443.9 257.5h0M454.7 249.0h0M453.2 236.3h0M444.0 241.0h0M437.5 244.0h0M448.2 239.4h0M454.7 239.5h0M437.0 240.3h0M447.3 255.5h0M455.4 252.4h0M462.2 240.7h0M456.6 236.6h0M446.7 252.2h0M445.5 241.4h0M456.0 242.0h0M454.2 242.0h0M441.0 258.7h0M442.0 235.3h0M460.0 263.1h0M451.7 247.8h0M434.6 237.6h0M443.9 229.9h0M445.7 260.7h0M454.2 266.3h0M442.3 254.7h0M447.6 233.6h0M440.0 235.3h0M448.6 245.5h0M456.9 245.8h0M436.4 235.5h0M443.6 266.8h0M445.7 238.8h0M450.8 248.2h0M447.4 261.7h0M459.5 260.3h0M448.0 267.4h0M450.1 246.9h0M464.2 263.1h0M434.1 247.8h0M453.5 248.1h0M440.3 256.7h0M430.5 243.0h0M448.2 237.0h0M443.2 230.3h0M439.7 247.7h0M455.9 254.1h0M452.0 247.5h0M443.3 231.4h0M432.1 240.4h0M435.8 243.8h0M435.8 259.4h0M455.6 256.4h0M448.7 237.5h0M438.3 239.8h0M449.8 246.0h0M445.7 265.3h0M465.1 258.4h0M433.1 234.5h0M430.1 242.5h0M438.2 252.0h0M452.5 247.5h0M453.4 249.0h0M448.4 248.2h0M448.7 250.6h0M462.8 240.2h0M456.1 243.0h0M432.0 236.8h0M445.5 243.1h0M452.8 242.8h0M462.4 255.2h0M446.1 258.1h0M442.2 233.0h0M445.6 261.6h0M440.0 249.6h0M438.6 255.7h0M440.3 251.5h0M435.8 259.7h0M444.4 233.8h0M456.9 237.2h0M447.7 245.1h0M445.7 267.5h0M444.0 256.0h0M441.9 262.9h0M465.9 262.8h0M454.7 247.8h0M436.2 245.5h0M443.5 251.2h0M438.3 255.7h0M453.9 260.7h0M457.8 249.1h0M447.7 268.4h0M446.2 270.3h0M452.5 236.0h0M444.8 254.1h0M444.1 247.2h0M450.7 267.1h0M452.6 262.0h0M456.5 240.3h0M441.1 234.6h0M452.0 256.2h0M453.9 258.0h0M436.2 247.1h0M457.6 260.1h0M449.4 253.0h0M448.4 262.1h0M465.8 263.5h0M451.7 235.4h0M440.9 263.7h0M439.8 237.4h0M440.6 235.2h0M457.2 248.0h0M442.8 237.6h0M446.6 239.0h0M435.7 243.6h0M446.3 236.2h0M451.9 241.7h0M460.9 263.8h0M454.5 239.4h0M446.3 230.9h0M460.6 256.9h0M441.7 237.5h0M455.1 245.8h0M451.4 245.3h0M461.5 258.9h0M438.9 242.4h0M429.3 271.5h0M426.7 265.1h0M426.7 270.9h0M426.1 268.6h0M428.7 268.9h0M426.4 262.6h0M426.6 271.0h0M426.7 266.0h0M429.2 271.0h0M426.4 269.6h0M427.1 265.0h0M430.2 264.7h0M428.1 269.8h0M437.9 267.2h0M438.4 266.3h0M439.7 271.7h0M440.2 273.4h0M435.1 278.0h0M442.3 273.3h0M435.9 277.9h0M438.2 277.1h0M428.4 300.4h0M423.0 301.0h0M425.2 302.7h0M428.4 299.9h0M433.4 303.1h0M427.7 302.6h0M434.8 289.9h0M426.1 298.3h0M438.2 290.7h0M437.5 297.6h0M433.7 304.1h0M433.2 302.0h0M433.4 299.3h0M436.2 303.3h0M430.8 298.1h0M439.2 294.5h0M440.2 293.7h0M439.3 292.6h0M430.2 297.8h0M432.3 307.4h0M437.0 291.3h0M419.5 296.7h0M440.6 285.2h0M430.1 299.0h0M434.2 302.7h0M437.7 292.8h0M438.8 289.0h0M436.7 291.4h0M430.0 296.0h0M432.1 297.6h0M435.1 301.7h0M432.3 300.6h0M433.4 298.7h0M428.6 306.0h0M425.3 298.3h0M431.4 302.5h0M432.4 303.2h0M425.5 303.7h0M428.7 290.7h0M432.2 296.5h0M425.2 301.1h0M425.9 299.4h0M423.5 300.3h0M440.8 296.4h0M438.6 290.0h0M433.6 297.8h0M428.3 307.4h0M422.5 297.4h0M426.4 298.7h0M424.4 298.4h0M436.6 289.9h0M432.1 304.7h0M435.2 299.3h0M433.7 291.1h0M421.0 294.0h0M427.6 302.8h0M428.4 301.5h0M424.4 300.7h0M439.3 290.6h0M435.2 296.6h0M429.8 294.9h0M436.0 294.6h0M439.7 296.3h0M434.3 296.5h0M424.5 302.4h0M430.1 304.4h0M431.1 302.0h0M433.8 307.6h0M440.2 296.3h0M424.0 300.7h0M429.9 301.5h0M431.5 299.6h0M428.8 294.4h0M435.2 290.5h0M437.1 293.1h0M432.0 293.5h0" stroke="#472d7b"/>
<path d="M401.5 243.7h0M386.7 239.5h0M383.5 243.1h0M386.1 240.7h0M392.7 243.0h0M401.4 243.6h0M392.9 238.2h0M401.9 240.9h0M391.2 241.3h0M388.4 242.7h0M399.1 240.1h0M392.4 239.9h0M398.6 240.0h0M395.1 240.5h0M398.4 239.8h0M388.8 239.9h0M383.8 239.2h0M387.1 240.1h0M394.8 243.7h0M386.0 238.4h0M385.8 241.3h0M392.4 240.0h0M386.2 243.0h0M390.1 243.4h0M394.7 243.6h0M393.5 243.1h0M388.5 239.4h0M389.8 234.6h0M391.7 244.1h0M455.1 280.8h0M462.2 281.4h0M461.9 279.5h0M462.6 278.3h0M465.2 282.4h0M453.9 283.7h0M458.2 280.1h0M453.5 283.8h0M462.8 277.7h0M457.6 287.4h0M453.0 282.7h0M453.7 292.3h0M463.7 287.6h0M462.1 277.9h0M468.2 282.9h0M461.3 290.3h0M464.4 288.7h0M461.7 279.7h0M460.3 287.4h0M466.5 282.2h0M455.7 284.8h0M456.9 284.7h0M458.5 278.5h0M462.7 279.3h0M457.1 283.4h0M456.4 284.2h0M464.8 283.2h0M458.1 284.7h0M460.4 278.2h0M467.2 277.2h0" stroke="#5ec962"/>
<path d="M397.4 243.5h0M398.6 244.1h0M387.1 244.3h0M386.5 245.2h0M393.4 240.5h0M386.9 247.8h0M388.3 246.2h0M399.0 243.9h0M392.1 241.8h0M384.3 244.0h0M398.1 248.9h0M385.3 238.2h0M400.0 244.5h0M397.7 243.7h0M383.1 241.7h0M398.0 246.3h0M392.7 239.7h0M386.3 239.7h0M390.5 250.4h0M394.1 240.4h0M391.5 236.7h0M399.7 249.0h0M399.4 242.4h0M385.4 242.8h0M394.3 238.5h0M384.1 242.3h0M384.1 249.8h0M387.6 241.7h0M389.8 243.0h0M385.0 247.4h0M388.3 240.3h0M394.6 244.1h0M394.4 239.7h0M389.9 244.4h0M399.7 243.5h0M382.5 243.7h0M391.6 246.7h0M392.8 244.1h0M384.2 239.8h0M386.1 244.6h0M392.7 239.6h0M394.6 247.8h0M399.6 243.7h0M461.1 277.5h0M454.4 278.8h0M462.7 281.0h0M452.0 291.8h0M462.9 281.1h0M463.2 278.4h0M459.4 289.7h0M466.9 282.1h0M457.8 286.0h0M458.8 284.6h0M455.7 278.4h0M458.6 285.8h0M452.4 292.2h0M458.4 277.4h0M457.5 293.8h0" stroke="#28ae80"/>
<path d="M458.3 279.5h0M462.3 290.1h0M461.2 286.4h0M453.1 285.3h0M456.4 293.9h0M454.6 285.3h0M458.9 282.5h0M463.3 280.3h0M451.0 284.1h0M458.5 276.4h0M460.2 287.2h0M462.7 288.1h0M456.2 281.1h0M464.4 277.5h0M462.8 285.8h0M466.2 284.6h0M452.8 284.3h0M458.3 286.1h0M456.1 285.8h0" stroke="#9ad8b0"/>
<path d="M460.9 273.0h0M463.5 274.4h0M456.4 274.1h0M461.6 273.2h0M458.0 270.0h0M463.9 272.7h0M458.0 275.1h0M465.3 276.4h0" stroke="#8ab8d0"/>
</g>
<rect x="371.2" y="222.2" width="103.5" height="93.8" fill="none" stroke="#333" stroke-width="0.9"/>
<text x="6.95" y="205.1" font-size="11" text-anchor="start" font-weight="bold" fill="#000" stroke="#000" stroke-width="0.35">C</text>
<text x="193.5" y="205.1" font-size="11" text-anchor="start" font-weight="bold" fill="#000" stroke="#000" stroke-width="0.35">D</text>
<text x="358.9" y="205.1" font-size="11" text-anchor="start" font-weight="bold" fill="#000" stroke="#000" stroke-width="0.35">E</text>
<text x="71" y="216" font-size="8.7" text-anchor="middle" fill="#231f20" textLength="38" lengthAdjust="spacingAndGlyphs" >Timepoint</text>
<text x="257.5" y="216" font-size="8.7" text-anchor="middle" fill="#231f20" textLength="78" lengthAdjust="spacingAndGlyphs" >CAR by sort fraction</text>
<text x="422.7" y="216" font-size="8.7" text-anchor="middle" fill="#231f20" textLength="99.7" lengthAdjust="spacingAndGlyphs" >CAR transcript expression</text>
<text x="71" y="326.6" font-size="8.2" text-anchor="middle" fill="#333" textLength="22.3" lengthAdjust="spacingAndGlyphs" stroke="#333" stroke-width="0.2">UMAP1</text>
<text x="257.3" y="326.6" font-size="8.2" text-anchor="middle" fill="#333" textLength="22.3" lengthAdjust="spacingAndGlyphs" stroke="#333" stroke-width="0.2">UMAP1</text>
<text x="422.7" y="326.6" font-size="8.2" text-anchor="middle" fill="#333" textLength="22.3" lengthAdjust="spacingAndGlyphs" stroke="#333" stroke-width="0.2">UMAP1</text>
<text transform="translate(14.3 268.6) rotate(-90)" font-size="8.4" text-anchor="middle" fill="#333" stroke="#333" stroke-width="0.2" textLength="22.3" lengthAdjust="spacingAndGlyphs">UMAP2</text>
<text transform="translate(200.5 268.6) rotate(-90)" font-size="8.4" text-anchor="middle" fill="#333" stroke="#333" stroke-width="0.2" textLength="22.3" lengthAdjust="spacingAndGlyphs">UMAP2</text>
<text transform="translate(365.8 268.6) rotate(-90)" font-size="8.4" text-anchor="middle" fill="#333" stroke="#333" stroke-width="0.2" textLength="22.3" lengthAdjust="spacingAndGlyphs">UMAP2</text>
<circle cx="128.7" cy="224.2" r="1.4" fill="#2a5a98"/>
<text x="133" y="226.39999999999998" font-size="6.2" text-anchor="start" fill="#231f20" >Pre-Infusion</text>
<text x="133" y="233.89999999999998" font-size="6.2" text-anchor="start" fill="#231f20" >T-cells</text>
<circle cx="128.7" cy="241.9" r="1.4" fill="#2a7e5e"/>
<text x="133" y="244.1" font-size="6.2" text-anchor="start" fill="#231f20" >Peak Expansion</text>
<text x="133" y="251.6" font-size="6.2" text-anchor="start" fill="#231f20" >T-cells</text>
<circle cx="128.7" cy="259.4" r="1.4" fill="#ec8a3e"/>
<text x="133" y="261.59999999999997" font-size="6.2" text-anchor="start" fill="#231f20" >Product T-cells</text>
<circle cx="128.7" cy="269.5" r="1.4" fill="#b01e2a"/>
<text x="133" y="271.7" font-size="6.2" text-anchor="start" fill="#231f20" >Contraction</text>
<text x="133" y="279.2" font-size="6.2" text-anchor="start" fill="#231f20" >T-cells</text>
<circle cx="314.9" cy="224.3" r="1.4" fill="#22307a"/>
<circle cx="314.9" cy="234.2" r="1.4" fill="#c0182a"/>
<text x="319.2" y="226.6" font-size="6.2" fill="#231f20">CAR<tspan font-size="3.8" dy="-2.4">neg</tspan></text>
<text x="319.2" y="236.5" font-size="6.2" fill="#231f20">CAR<tspan font-size="3.8" dy="-2.4">pos</tspan></text>
<defs><linearGradient id="vir" x1="0" y1="1" x2="0" y2="0"><stop offset="0" stop-color="#440154"/><stop offset="0.13" stop-color="#482878"/><stop offset="0.25" stop-color="#3e4989"/><stop offset="0.38" stop-color="#31688e"/><stop offset="0.5" stop-color="#26828e"/><stop offset="0.63" stop-color="#1f9e89"/><stop offset="0.75" stop-color="#35b779"/><stop offset="0.88" stop-color="#6ece58"/><stop offset="1" stop-color="#fde725"/></linearGradient></defs>
<rect x="479.6" y="220.8" width="4" height="95.6" fill="url(#vir)" stroke="#222" stroke-width="0.6"/>
<line x1="483.6" y1="228.4" x2="485.4" y2="228.4" stroke="#222" stroke-width="0.6" />
<text x="489.3" y="230.6" font-size="6.2" text-anchor="start" fill="#333" >350</text>
<line x1="483.6" y1="240.95000000000002" x2="485.4" y2="240.95000000000002" stroke="#222" stroke-width="0.6" />
<text x="489.3" y="243.15" font-size="6.2" text-anchor="start" fill="#333" >300</text>
<line x1="483.6" y1="253.5" x2="485.4" y2="253.5" stroke="#222" stroke-width="0.6" />
<text x="489.3" y="255.7" font-size="6.2" text-anchor="start" fill="#333" >250</text>
<line x1="483.6" y1="266.05" x2="485.4" y2="266.05" stroke="#222" stroke-width="0.6" />
<text x="489.3" y="268.25" font-size="6.2" text-anchor="start" fill="#333" >200</text>
<line x1="483.6" y1="278.6" x2="485.4" y2="278.6" stroke="#222" stroke-width="0.6" />
<text x="489.3" y="280.8" font-size="6.2" text-anchor="start" fill="#333" >150</text>
<line x1="483.6" y1="291.15" x2="485.4" y2="291.15" stroke="#222" stroke-width="0.6" />
<text x="489.3" y="293.34999999999997" font-size="6.2" text-anchor="start" fill="#333" >100</text>
<line x1="483.6" y1="303.70000000000005" x2="485.4" y2="303.70000000000005" stroke="#222" stroke-width="0.6" />
<text x="489.3" y="305.90000000000003" font-size="6.2" text-anchor="start" fill="#333" >50</text>
<text transform="translate(504.5 269.5) rotate(90)" font-size="6.6" text-anchor="middle" fill="#333" textLength="83" lengthAdjust="spacingAndGlyphs">Normalized (10k counts/cell)</text>
<text x="7.3" y="353.4" font-size="11" text-anchor="start" font-weight="bold" fill="#000" stroke="#000" stroke-width="0.35">F</text>
<line x1="32.6" y1="367" x2="32.6" y2="469.4" stroke="#231f20" stroke-width="1.0" />
<line x1="32.6" y1="469.4" x2="200.5" y2="469.4" stroke="#231f20" stroke-width="1.0" />
<line x1="29.6" y1="464.6" x2="32.6" y2="464.6" stroke="#231f20" stroke-width="0.8" />
<text x="26.6" y="466.90000000000003" font-size="6.5" text-anchor="end" fill="#333" >0</text>
<line x1="29.6" y1="431.40000000000003" x2="32.6" y2="431.40000000000003" stroke="#231f20" stroke-width="0.8" />
<text x="26.6" y="433.70000000000005" font-size="6.5" text-anchor="end" fill="#333" >20</text>
<line x1="29.6" y1="398.20000000000005" x2="32.6" y2="398.20000000000005" stroke="#231f20" stroke-width="0.8" />
<text x="26.6" y="400.50000000000006" font-size="6.5" text-anchor="end" fill="#333" >40</text>
<text transform="translate(13.5 417.8) rotate(-90)" font-size="7.6" text-anchor="middle" fill="#333" textLength="60.4" lengthAdjust="spacingAndGlyphs">CAR transcript count</text>
<line x1="46.5" y1="469.4" x2="46.5" y2="471.9" stroke="#231f20" stroke-width="0.8" />
<line x1="69.85" y1="469.4" x2="69.85" y2="471.9" stroke="#231f20" stroke-width="0.8" />
<line x1="93.2" y1="469.4" x2="93.2" y2="471.9" stroke="#231f20" stroke-width="0.8" />
<line x1="116.55000000000001" y1="469.4" x2="116.55000000000001" y2="471.9" stroke="#231f20" stroke-width="0.8" />
<line x1="139.9" y1="469.4" x2="139.9" y2="471.9" stroke="#231f20" stroke-width="0.8" />
<line x1="163.25" y1="469.4" x2="163.25" y2="471.9" stroke="#231f20" stroke-width="0.8" />
<line x1="186.60000000000002" y1="469.4" x2="186.60000000000002" y2="471.9" stroke="#231f20" stroke-width="0.8" />
<line x1="36.0" y1="464.6" x2="57.0" y2="464.6" stroke="#555" stroke-width="1.0" />
<line x1="59.349999999999994" y1="464.6" x2="80.35" y2="464.6" stroke="#555" stroke-width="1.0" />
<line x1="69.5" y1="437.7" x2="69.5" y2="464.6" stroke="#000" stroke-width="0.85" />
<line x1="82.7" y1="464.6" x2="103.7" y2="464.6" stroke="#555" stroke-width="1.0" />
<line x1="93.5" y1="371.7" x2="93.5" y2="464.6" stroke="#000" stroke-width="0.85" />
<line x1="106.05000000000001" y1="464.6" x2="127.05000000000001" y2="464.6" stroke="#555" stroke-width="1.0" />
<line x1="116.5" y1="427.8" x2="116.5" y2="464.6" stroke="#000" stroke-width="0.85" />
<line x1="129.4" y1="464.6" x2="150.4" y2="464.6" stroke="#555" stroke-width="1.0" />
<line x1="139.5" y1="376" x2="139.5" y2="464.6" stroke="#000" stroke-width="0.85" />
<line x1="152.75" y1="464.6" x2="173.75" y2="464.6" stroke="#555" stroke-width="1.0" />
<line x1="163.5" y1="456" x2="163.5" y2="464.6" stroke="#000" stroke-width="0.85" />
<line x1="176.10000000000002" y1="464.6" x2="197.10000000000002" y2="464.6" stroke="#555" stroke-width="1.0" />
<line x1="186.5" y1="445.8" x2="186.5" y2="464.6" stroke="#000" stroke-width="0.85" />
<path d="M93.1 371.7 L93.9 371.7 L94.5 447.6 L92.5 447.6 Z" fill="#111"/>
<path d="M139.1 376 L139.9 376 L140.5 441 L138.5 441 Z" fill="#111"/>
<path d="M186.1 445.8 L186.9 445.8 L187.5 458.5 L185.5 458.5 Z" fill="#111"/>
<path d="M82.75 464.60 C83.11 464.25 84.19 463.27 84.90 462.50 C85.61 461.73 86.10 461.25 87.00 460.00 C87.90 458.75 89.47 456.67 90.30 455.00 C91.13 453.33 91.58 451.40 92.00 450.00 C92.42 448.60 92.53 447.17 92.80 446.60 C93.07 446.03 93.33 446.03 93.60 446.60 C93.87 447.17 93.98 448.60 94.40 450.00 C94.82 451.40 95.27 453.33 96.10 455.00 C96.93 456.67 98.50 458.75 99.40 460.00 C100.30 461.25 100.79 461.73 101.50 462.50 C102.21 463.27 103.29 464.25 103.65 464.60 Z" fill="#e8131b" stroke="#151515" stroke-width="0.7"/>
<path d="M129.60 464.60 C129.87 463.83 130.32 461.60 131.20 460.00 C132.08 458.40 133.93 456.67 134.90 455.00 C135.87 453.33 136.43 451.67 137.00 450.00 C137.57 448.33 137.88 446.67 138.30 445.00 C138.72 443.33 139.17 440.83 139.50 440.00 C139.83 439.17 139.97 439.17 140.30 440.00 C140.63 440.83 141.08 443.33 141.50 445.00 C141.92 446.67 142.23 448.33 142.80 450.00 C143.37 451.67 143.93 453.33 144.90 455.00 C145.87 456.67 147.72 458.40 148.60 460.00 C149.48 461.60 149.93 463.83 150.20 464.60 Z" fill="#e8131b" stroke="#151515" stroke-width="0.7"/>
<path d="M176.50 464.60 C177.02 464.33 178.58 463.60 179.60 463.00 C180.62 462.40 181.77 461.58 182.60 461.00 C183.43 460.42 184.00 460.08 184.60 459.50 C185.20 458.92 185.80 457.83 186.20 457.50 C186.60 457.17 186.60 457.17 187.00 457.50 C187.40 457.83 188.00 458.92 188.60 459.50 C189.20 460.08 189.77 460.42 190.60 461.00 C191.43 461.58 192.58 462.40 193.60 463.00 C194.62 463.60 196.18 464.33 196.70 464.60 Z" fill="#e8131b" stroke="#151515" stroke-width="0.7"/>
<text x="93.2" y="372" font-size="7" text-anchor="middle" fill="#333" stroke="#333" stroke-width="0.25">***</text>
<text x="139.9" y="372" font-size="7" text-anchor="middle" fill="#333" stroke="#333" stroke-width="0.25">***</text>
<text x="186.60000000000002" y="372" font-size="7" text-anchor="middle" fill="#333" stroke="#333" stroke-width="0.25">***</text>
<text transform="translate(49.3 479.3) rotate(-45)" font-size="6.8" text-anchor="end" fill="#333">Pre T-cells</text>
<text transform="translate(72.6 479.3) rotate(-45)" font-size="6.8" text-anchor="end" fill="#333">Product CAR<tspan font-size="3.8" dy="-2">neg</tspan><tspan dy="2"> sort</tspan></text>
<text transform="translate(96.0 479.3) rotate(-45)" font-size="6.8" text-anchor="end" fill="#333">Product CAR<tspan font-size="3.8" dy="-2">pos</tspan><tspan dy="2"> sort</tspan></text>
<text transform="translate(119.4 479.3) rotate(-45)" font-size="6.8" text-anchor="end" fill="#333">Expansion CAR<tspan font-size="3.8" dy="-2">neg</tspan><tspan dy="2"> sort</tspan></text>
<text transform="translate(142.7 479.3) rotate(-45)" font-size="6.8" text-anchor="end" fill="#333">Expansion CAR<tspan font-size="3.8" dy="-2">pos</tspan><tspan dy="2"> sort</tspan></text>
<text transform="translate(166.1 479.3) rotate(-45)" font-size="6.8" text-anchor="end" fill="#333">Contraction CAR<tspan font-size="3.8" dy="-2">neg</tspan><tspan dy="2"> sort</tspan></text>
<text transform="translate(189.4 479.3) rotate(-45)" font-size="6.8" text-anchor="end" fill="#333">Contraction CAR<tspan font-size="3.8" dy="-2">pos</tspan><tspan dy="2"> sort</tspan></text>
<text x="213.35" y="353.3" font-size="11" text-anchor="start" font-weight="bold" fill="#000" stroke="#000" stroke-width="0.35">G</text>
<text x="296.3" y="350.6" font-size="8.5" text-anchor="middle" fill="#231f20" textLength="42.7" lengthAdjust="spacingAndGlyphs" >GSE11057</text>
<text x="295.2" y="361.5" font-size="8.5" text-anchor="middle" fill="#231f20" textLength="66.5" lengthAdjust="spacingAndGlyphs" >Naive vs Memory</text>
<text x="294" y="371.7" font-size="8.5" text-anchor="middle" fill="#231f20" textLength="42.7" lengthAdjust="spacingAndGlyphs" >CD4 T-cells</text>
<text x="295.2" y="382.3" font-size="6.2" text-anchor="middle" fill="#333" textLength="45" lengthAdjust="spacingAndGlyphs" >Peak Expansion</text>
<text x="448.8" y="350.6" font-size="8.5" text-anchor="middle" fill="#231f20" textLength="28.4" lengthAdjust="spacingAndGlyphs" >KEACH</text>
<text x="448.7" y="361.5" font-size="8.5" text-anchor="middle" fill="#231f20" textLength="53.3" lengthAdjust="spacingAndGlyphs" >Naive vs Day8</text>
<text x="447.3" y="371.7" font-size="8.5" text-anchor="middle" fill="#231f20" textLength="75.4" lengthAdjust="spacingAndGlyphs" >Effector CD8 T-cells</text>
<text x="448.7" y="382.3" font-size="6.2" text-anchor="middle" fill="#333" textLength="44.3" lengthAdjust="spacingAndGlyphs" >Peak Expansion</text>
<line x1="243.5" y1="387.7" x2="243.5" y2="469.4" stroke="#231f20" stroke-width="0.9" />
<line x1="243.5" y1="469.4" x2="345.7" y2="469.4" stroke="#231f20" stroke-width="0.9" />
<line x1="240.7" y1="390.5" x2="243.5" y2="390.5" stroke="#231f20" stroke-width="0.8" />
<text x="239.6" y="392.7" font-size="6.2" text-anchor="end" fill="#333" >0</text>
<line x1="240.7" y1="409.2" x2="243.5" y2="409.2" stroke="#231f20" stroke-width="0.8" />
<text x="239.6" y="411.4" font-size="6.2" text-anchor="end" fill="#333" >−2.5</text>
<line x1="240.7" y1="428" x2="243.5" y2="428" stroke="#231f20" stroke-width="0.8" />
<text x="239.6" y="430.2" font-size="6.2" text-anchor="end" fill="#333" >−5</text>
<line x1="240.7" y1="446.5" x2="243.5" y2="446.5" stroke="#231f20" stroke-width="0.8" />
<text x="239.6" y="448.7" font-size="6.2" text-anchor="end" fill="#333" >−7.5</text>
<line x1="240.7" y1="464.9" x2="243.5" y2="464.9" stroke="#231f20" stroke-width="0.8" />
<text x="239.6" y="467.09999999999997" font-size="6.2" text-anchor="end" fill="#333" >−10</text>
<text transform="translate(221 428.9) rotate(-90)" font-size="8.5" text-anchor="middle" fill="#333" stroke="#333" stroke-width="0.12" textLength="28.4" lengthAdjust="spacingAndGlyphs">Cell score</text>
<line x1="272.2" y1="469.4" x2="272.2" y2="472" stroke="#231f20" stroke-width="0.8" />
<line x1="318.9" y1="469.4" x2="318.9" y2="472" stroke="#231f20" stroke-width="0.8" />
<path d="M271.40 391.00 C270.92 392.33 270.13 395.07 269.70 399.00 C269.27 402.93 269.08 409.70 268.80 414.60 C268.52 419.50 268.57 424.93 268.00 428.40 C267.43 431.87 266.70 433.37 265.40 435.40 C264.10 437.43 262.08 439.02 260.20 440.60 C258.32 442.18 255.63 443.47 254.10 444.90 C252.57 446.33 251.28 447.77 251.00 449.20 C250.72 450.63 251.17 452.05 252.40 453.50 C253.63 454.95 255.95 456.45 258.40 457.90 C260.85 459.35 264.93 460.92 267.10 462.20 C269.27 463.48 270.53 465.03 271.40 465.60 C272.27 466.17 271.43 466.17 272.30 465.60 C273.17 465.03 274.58 463.48 276.60 462.20 C278.62 460.92 281.95 459.35 284.40 457.90 C286.85 456.45 289.87 454.95 291.30 453.50 C292.73 452.05 293.15 450.78 293.00 449.20 C292.85 447.62 291.83 445.58 290.40 444.00 C288.97 442.42 286.27 441.13 284.40 439.70 C282.53 438.27 280.50 437.28 279.20 435.40 C277.90 433.52 277.23 431.87 276.60 428.40 C275.97 424.93 275.77 419.50 275.40 414.60 C275.03 409.70 274.87 402.93 274.40 399.00 C273.93 395.07 273.10 392.33 272.60 391.00 C272.10 389.67 271.88 389.67 271.40 391.00 Z" fill="#e8131b" stroke="#1a1010" stroke-width="0.7"/>
<line x1="266.5" y1="441.2" x2="278" y2="441.2" stroke="#5a0a0a" stroke-width="0.7" />
<path d="M312.01 390.03 C310.42 391.82 304.80 397.39 302.49 400.76 C300.18 404.13 298.17 407.10 298.17 410.28 C298.17 413.45 300.91 417.05 302.49 419.79 C304.08 422.53 306.96 424.41 307.68 426.71 C308.40 429.02 307.10 431.33 306.82 433.63 C306.53 435.94 305.81 438.25 305.95 440.55 C306.10 442.86 306.53 444.88 307.68 447.47 C308.84 450.07 311.14 453.39 312.87 456.12 C314.60 458.86 317.05 462.61 318.06 463.91 C319.07 465.21 317.92 465.21 318.93 463.91 C319.94 462.61 322.24 458.86 324.12 456.12 C325.99 453.39 328.73 450.07 330.17 447.47 C331.61 444.88 332.48 442.86 332.77 440.55 C333.06 438.25 332.19 435.94 331.90 433.63 C331.61 431.33 330.46 429.02 331.04 426.71 C331.61 424.41 333.84 422.53 335.36 419.79 C336.89 417.05 340.35 413.45 340.21 410.28 C340.06 407.10 336.89 404.13 334.50 400.76 C332.10 397.39 327.29 391.82 325.85 390.03 Z" fill="#3b4a9f" stroke="#1a1a3a" stroke-width="0.6"/>
<line x1="312" y1="421.5" x2="326.7" y2="421.5" stroke="#101030" stroke-width="0.7" />
<line x1="359.6" y1="386.0" x2="359.6" y2="419.8" stroke="#231f20" stroke-width="0.8" />
<line x1="359.6" y1="427.6" x2="359.6" y2="469.2" stroke="#231f20" stroke-width="0.8" />
<path d="M357.8 386.7 L361.40000000000003 386.7 L359.6 383.5 Z" fill="#231f20"/>
<path d="M357.8 468.5 L361.40000000000003 468.5 L359.6 471.7 Z" fill="#231f20"/>
<text transform="translate(355 401) rotate(-90)" font-size="6.5" text-anchor="middle" fill="#333">more naive</text>
<text transform="translate(351.6 450) rotate(90)" font-size="6.5" text-anchor="middle" fill="#333" textLength="40" lengthAdjust="spacingAndGlyphs">more memory</text>
<line x1="397.5" y1="387.8" x2="397.5" y2="469.6" stroke="#231f20" stroke-width="0.9" />
<line x1="397.5" y1="469.6" x2="500" y2="469.6" stroke="#231f20" stroke-width="0.9" />
<line x1="394.7" y1="394.2" x2="397.5" y2="394.2" stroke="#231f20" stroke-width="0.8" />
<text x="393" y="396.4" font-size="6.2" text-anchor="end" fill="#333" >0</text>
<line x1="394.7" y1="422.6" x2="397.5" y2="422.6" stroke="#231f20" stroke-width="0.8" />
<text x="393" y="424.8" font-size="6.2" text-anchor="end" fill="#333" >−5</text>
<line x1="394.7" y1="450.9" x2="397.5" y2="450.9" stroke="#231f20" stroke-width="0.8" />
<text x="393" y="453.09999999999997" font-size="6.2" text-anchor="end" fill="#333" >−10</text>
<text transform="translate(376 427.9) rotate(-90)" font-size="8.5" text-anchor="middle" fill="#333" stroke="#333" stroke-width="0.12" textLength="28.2" lengthAdjust="spacingAndGlyphs">Cell score</text>
<line x1="425.6" y1="469.6" x2="425.6" y2="472.2" stroke="#231f20" stroke-width="0.8" />
<line x1="472" y1="469.6" x2="472" y2="472.2" stroke="#231f20" stroke-width="0.8" />
<path d="M422.96 394.19 C421.66 395.57 417.77 399.52 415.17 402.49 C412.58 405.46 409.06 409.27 407.39 412.01 C405.72 414.75 405.14 416.62 405.14 418.93 C405.14 421.23 405.72 423.40 407.39 425.85 C409.06 428.30 413.07 431.33 415.17 433.63 C417.28 435.94 419.09 437.67 420.02 439.69 C420.94 441.71 420.80 443.58 420.71 445.74 C420.62 447.91 419.61 450.65 419.50 452.66 C419.38 454.68 419.44 456.18 420.02 457.85 C420.59 459.53 421.75 461.89 422.96 462.70 C424.17 463.51 426.04 463.51 427.28 462.70 C428.52 461.89 429.82 459.53 430.40 457.85 C430.97 456.18 430.83 454.68 430.74 452.66 C430.66 450.65 429.88 447.91 429.88 445.74 C429.88 443.58 429.73 441.71 430.74 439.69 C431.75 437.67 433.77 435.94 435.93 433.63 C438.10 431.33 441.99 428.30 443.72 425.85 C445.45 423.40 446.31 421.23 446.31 418.93 C446.31 416.62 445.45 414.75 443.72 412.01 C441.99 409.27 438.53 405.46 435.93 402.49 C433.34 399.52 429.45 395.57 428.15 394.19 Z" fill="#e8131b" stroke="#2a1a1a" stroke-width="0.6"/>
<line x1="417.8" y1="422.9" x2="432.5" y2="422.9" stroke="#5a0a0a" stroke-width="0.7" />
<path d="M470.14 392.46 C468.64 394.13 463.94 398.94 461.14 402.49 C458.34 406.04 454.94 411.00 453.36 413.74 C451.77 416.48 451.19 417.05 451.63 418.93 C452.06 420.80 453.79 422.82 455.95 424.98 C458.11 427.15 462.87 429.60 464.60 431.90 C466.33 434.21 466.76 435.94 466.33 438.82 C465.90 441.71 463.02 446.61 462.01 449.20 C461.00 451.80 459.84 452.66 460.28 454.39 C460.71 456.12 462.73 457.71 464.60 459.58 C466.48 461.46 470.22 464.63 471.52 465.64 C472.82 466.65 471.23 466.65 472.39 465.64 C473.54 464.63 476.57 461.46 478.44 459.58 C480.32 457.71 482.91 456.12 483.63 454.39 C484.35 452.66 483.49 451.80 482.77 449.20 C482.05 446.61 479.45 441.71 479.31 438.82 C479.16 435.94 480.17 434.35 481.90 431.90 C483.63 429.45 487.81 426.42 489.69 424.12 C491.56 421.81 493.00 420.08 493.15 418.06 C493.29 416.04 492.28 414.60 490.55 412.01 C488.82 409.41 485.51 405.75 482.77 402.49 C480.03 399.23 475.56 394.13 474.12 392.46 Z" fill="#3b4a9f" stroke="#1a1a3a" stroke-width="0.6"/>
<line x1="464.6" y1="426.7" x2="479.3" y2="426.7" stroke="#101030" stroke-width="0.7" />
<line x1="513.4" y1="385.1" x2="513.4" y2="419.8" stroke="#231f20" stroke-width="0.8" />
<line x1="513.4" y1="427.6" x2="513.4" y2="468.3" stroke="#231f20" stroke-width="0.8" />
<path d="M511.59999999999997 385.8 L515.1999999999999 385.8 L513.4 382.6 Z" fill="#231f20"/>
<path d="M511.59999999999997 467.6 L515.1999999999999 467.6 L513.4 470.8 Z" fill="#231f20"/>
<text transform="translate(508.6 400.6) rotate(-90)" font-size="6.5" text-anchor="middle" fill="#333">more naive</text>
<text transform="translate(504.5 449) rotate(90)" font-size="6.5" text-anchor="middle" fill="#333" textLength="40" lengthAdjust="spacingAndGlyphs">more effector</text>
<text x="272.2" y="481.6" font-size="6.2" text-anchor="middle" fill="#333">CD4 CAR<tspan font-size="3.8" dy="-2.3">pos</tspan></text>
<text x="318.9" y="481.6" font-size="6.2" text-anchor="middle" fill="#333">CD4 CAR<tspan font-size="3.8" dy="-2.3">neg</tspan></text>
<text x="425.6" y="481.6" font-size="6.2" text-anchor="middle" fill="#333">CD8 CAR<tspan font-size="3.8" dy="-2.3">pos</tspan></text>
<text x="472" y="481.6" font-size="6.2" text-anchor="middle" fill="#333">CD8 CAR<tspan font-size="3.8" dy="-2.3">neg</tspan></text>
<rect x="335.8" y="488.3" width="6.7" height="7" fill="#e0141c" stroke="#8a1010" stroke-width="0.8"/>
<rect x="374.6" y="488.3" width="6.7" height="7" fill="#3a4a92" stroke="#1a1f4a" stroke-width="0.8"/>
<text x="345" y="494" font-size="6.6" fill="#333">CAR<tspan font-size="3.9" dy="-2.6">pos</tspan></text>
<text x="384.2" y="494" font-size="6.6" fill="#333">CAR<tspan font-size="3.9" dy="-2.6">neg</tspan></text>
<text x="33.5" y="556.3" font-size="11" text-anchor="start" font-weight="bold" fill="#000" stroke="#000" stroke-width="0.35">H</text>
<line x1="66.5" y1="572.3" x2="66.5" y2="669.5" stroke="#231f20" stroke-width="1.0" />
<line x1="66.5" y1="668.9" x2="177.6" y2="668.9" stroke="#231f20" stroke-width="1.1" />
<line x1="63.2" y1="664.4" x2="66.5" y2="664.4" stroke="#231f20" stroke-width="0.9" />
<text x="60.2" y="666.8" font-size="7.0" text-anchor="end" fill="#333" textLength="3.39" lengthAdjust="spacingAndGlyphs" >0</text>
<line x1="63.2" y1="641.1" x2="66.5" y2="641.1" stroke="#231f20" stroke-width="0.9" />
<text x="60.2" y="643.5" font-size="7.0" text-anchor="end" fill="#333" textLength="13.55" lengthAdjust="spacingAndGlyphs" >1000</text>
<line x1="63.2" y1="617.9" x2="66.5" y2="617.9" stroke="#231f20" stroke-width="0.9" />
<text x="60.2" y="620.3" font-size="7.0" text-anchor="end" fill="#333" textLength="13.55" lengthAdjust="spacingAndGlyphs" >2000</text>
<line x1="63.2" y1="594.8" x2="66.5" y2="594.8" stroke="#231f20" stroke-width="0.9" />
<text x="60.2" y="597.1999999999999" font-size="7.0" text-anchor="end" fill="#333" textLength="13.55" lengthAdjust="spacingAndGlyphs" >3000</text>
<text x="121.8" y="566.5" font-size="8.2" text-anchor="middle" fill="#231f20" textLength="24.2" lengthAdjust="spacingAndGlyphs" >GZMB</text>
<line x1="96.3" y1="669" x2="96.3" y2="671.5" stroke="#231f20" stroke-width="0.8" />
<text x="96.3" y="680.4" font-size="6.6" text-anchor="middle" fill="#333" >CD4</text>
<line x1="146.8" y1="669" x2="146.8" y2="671.5" stroke="#231f20" stroke-width="0.8" />
<text x="146.8" y="680.4" font-size="6.6" text-anchor="middle" fill="#333" >CD8</text>
<text transform="translate(40.4 620.5) rotate(-90)" font-size="7.5" text-anchor="middle" fill="#333" textLength="69" lengthAdjust="spacingAndGlyphs">Normalized expression</text>
<line x1="203.3" y1="572.3" x2="203.3" y2="669.5" stroke="#231f20" stroke-width="1.0" />
<line x1="203.3" y1="668.9" x2="313.6" y2="668.9" stroke="#231f20" stroke-width="1.1" />
<line x1="200.0" y1="664.3" x2="203.3" y2="664.3" stroke="#231f20" stroke-width="0.9" />
<text x="197.0" y="666.6999999999999" font-size="7.0" text-anchor="end" fill="#333" textLength="3.39" lengthAdjust="spacingAndGlyphs" >0</text>
<line x1="200.0" y1="632.4" x2="203.3" y2="632.4" stroke="#231f20" stroke-width="0.9" />
<text x="197.0" y="634.8" font-size="7.0" text-anchor="end" fill="#333" textLength="10.16" lengthAdjust="spacingAndGlyphs" >100</text>
<line x1="200.0" y1="600.3" x2="203.3" y2="600.3" stroke="#231f20" stroke-width="0.9" />
<text x="197.0" y="602.6999999999999" font-size="7.0" text-anchor="end" fill="#333" textLength="10.16" lengthAdjust="spacingAndGlyphs" >200</text>
<text x="258.5" y="566.5" font-size="8.2" text-anchor="middle" fill="#231f20" textLength="19.4" lengthAdjust="spacingAndGlyphs" >IFNG</text>
<line x1="233.6" y1="669" x2="233.6" y2="671.5" stroke="#231f20" stroke-width="0.8" />
<text x="233.6" y="680.4" font-size="6.6" text-anchor="middle" fill="#333" >CD4</text>
<line x1="283.8" y1="669" x2="283.8" y2="671.5" stroke="#231f20" stroke-width="0.8" />
<text x="283.8" y="680.4" font-size="6.6" text-anchor="middle" fill="#333" >CD8</text>
<line x1="340.5" y1="572.3" x2="340.5" y2="669.5" stroke="#231f20" stroke-width="1.0" />
<line x1="340.5" y1="668.9" x2="450.9" y2="668.9" stroke="#231f20" stroke-width="1.1" />
<line x1="337.2" y1="664.3" x2="340.5" y2="664.3" stroke="#231f20" stroke-width="0.9" />
<text x="334.2" y="666.6999999999999" font-size="7.0" text-anchor="end" fill="#333" textLength="3.39" lengthAdjust="spacingAndGlyphs" >0</text>
<line x1="337.2" y1="635.9" x2="340.5" y2="635.9" stroke="#231f20" stroke-width="0.9" />
<text x="334.2" y="638.3" font-size="7.0" text-anchor="end" fill="#333" textLength="10.16" lengthAdjust="spacingAndGlyphs" >100</text>
<line x1="337.2" y1="606.6" x2="340.5" y2="606.6" stroke="#231f20" stroke-width="0.9" />
<text x="334.2" y="609.0" font-size="7.0" text-anchor="end" fill="#333" textLength="10.16" lengthAdjust="spacingAndGlyphs" >200</text>
<line x1="337.2" y1="577.7" x2="340.5" y2="577.7" stroke="#231f20" stroke-width="0.9" />
<text x="334.2" y="580.1" font-size="7.0" text-anchor="end" fill="#333" textLength="10.16" lengthAdjust="spacingAndGlyphs" >300</text>
<text x="395.2" y="566.5" font-size="8.2" text-anchor="middle" fill="#231f20" textLength="19" lengthAdjust="spacingAndGlyphs" >PRF1</text>
<line x1="370" y1="669" x2="370" y2="671.5" stroke="#231f20" stroke-width="0.8" />
<text x="370" y="680.4" font-size="6.6" text-anchor="middle" fill="#333" >CD4</text>
<line x1="420.8" y1="669" x2="420.8" y2="671.5" stroke="#231f20" stroke-width="0.8" />
<text x="420.8" y="680.4" font-size="6.6" text-anchor="middle" fill="#333" >CD8</text>
<line x1="74.5" y1="664.4" x2="95.5" y2="664.4" stroke="#222" stroke-width="1.0" />
<line x1="84.5" y1="582.5" x2="84.5" y2="664.4" stroke="#000" stroke-width="0.85" />
<line x1="97.5" y1="664.4" x2="118.5" y2="664.4" stroke="#222" stroke-width="1.0" />
<line x1="108.5" y1="585.5" x2="108.5" y2="664.4" stroke="#000" stroke-width="0.85" />
<line x1="124.5" y1="664.4" x2="146.5" y2="664.4" stroke="#222" stroke-width="1.0" />
<line x1="135.5" y1="576.2" x2="135.5" y2="664.4" stroke="#000" stroke-width="0.85" />
<path d="M125.10 664.50 C125.33 664.37 125.85 664.02 126.50 663.70 C127.15 663.38 128.08 663.02 129.00 662.60 C129.92 662.18 131.17 661.63 132.00 661.20 C132.83 660.77 133.48 660.48 134.00 660.00 C134.52 659.52 134.78 658.58 135.10 658.30 C135.42 658.02 135.58 658.02 135.90 658.30 C136.22 658.58 136.48 659.52 137.00 660.00 C137.52 660.48 138.17 660.77 139.00 661.20 C139.83 661.63 141.08 662.18 142.00 662.60 C142.92 663.02 143.85 663.38 144.50 663.70 C145.15 664.02 145.67 664.37 145.90 664.50 Z" fill="#e8131b" stroke="#111" stroke-width="0.6"/>
<path d="M146.80 664.50 C146.85 664.08 146.82 662.92 147.10 662.00 C147.38 661.08 147.78 660.17 148.50 659.00 C149.22 657.83 150.48 656.33 151.40 655.00 C152.32 653.67 153.32 652.17 154.00 651.00 C154.68 649.83 155.07 649.17 155.50 648.00 C155.93 646.83 156.43 646.17 156.60 644.00 C156.78 641.83 156.62 638.33 156.55 635.00 C156.48 631.67 156.34 627.17 156.20 624.00 C156.06 620.83 155.83 618.67 155.70 616.00 C155.57 613.33 155.37 610.67 155.40 608.00 C155.43 605.33 155.67 603.00 155.90 600.00 C156.13 597.00 156.53 593.00 156.80 590.00 C157.07 587.00 157.30 584.37 157.50 582.00 C157.70 579.63 157.82 576.83 158.00 575.80 C158.18 574.77 158.42 574.77 158.60 575.80 C158.78 576.83 158.90 579.63 159.10 582.00 C159.30 584.37 159.53 587.00 159.80 590.00 C160.07 593.00 160.47 597.00 160.70 600.00 C160.93 603.00 161.17 605.33 161.20 608.00 C161.23 610.67 161.03 613.33 160.90 616.00 C160.77 618.67 160.54 620.83 160.40 624.00 C160.26 627.17 160.12 631.67 160.05 635.00 C159.98 638.33 159.82 641.83 160.00 644.00 C160.18 646.17 160.67 646.83 161.10 648.00 C161.53 649.17 161.92 649.83 162.60 651.00 C163.28 652.17 164.28 653.67 165.20 655.00 C166.12 656.33 167.38 657.83 168.10 659.00 C168.82 660.17 169.22 661.08 169.50 662.00 C169.78 662.92 169.75 664.08 169.80 664.50 Z" fill="#3b4a9f" stroke="#111" stroke-width="0.6"/>
<line x1="210.5" y1="664.4" x2="233.5" y2="664.4" stroke="#222" stroke-width="1.0" />
<line x1="222.5" y1="592.3" x2="222.5" y2="664.4" stroke="#000" stroke-width="0.85" />
<path d="M213.80 664.50 C214.30 664.25 215.90 663.50 216.80 663.00 C217.70 662.50 218.60 662.00 219.20 661.50 C219.80 661.00 220.03 660.58 220.40 660.00 C220.77 659.42 221.10 658.33 221.40 658.00 C221.70 657.67 221.90 657.67 222.20 658.00 C222.50 658.33 222.83 659.42 223.20 660.00 C223.57 660.58 223.80 661.00 224.40 661.50 C225.00 662.00 225.90 662.50 226.80 663.00 C227.70 663.50 229.30 664.25 229.80 664.50 Z" fill="#e8131b" stroke="#111" stroke-width="0.6"/>
<line x1="233.7" y1="664.4" x2="255.7" y2="664.4" stroke="#222" stroke-width="1.0" />
<line x1="244.5" y1="576" x2="244.5" y2="664.4" stroke="#000" stroke-width="0.85" />
<line x1="261.4" y1="664.4" x2="283.4" y2="664.4" stroke="#222" stroke-width="1.0" />
<line x1="272.5" y1="577" x2="272.5" y2="664.4" stroke="#000" stroke-width="0.85" />
<path d="M261.60 664.50 C261.98 664.33 263.07 663.92 263.90 663.50 C264.73 663.08 265.67 662.58 266.60 662.00 C267.53 661.42 268.78 660.67 269.50 660.00 C270.22 659.33 270.48 658.70 270.90 658.00 C271.32 657.30 271.68 656.17 272.00 655.80 C272.32 655.43 272.48 655.43 272.80 655.80 C273.12 656.17 273.48 657.30 273.90 658.00 C274.32 658.70 274.58 659.33 275.30 660.00 C276.02 660.67 277.27 661.42 278.20 662.00 C279.13 662.58 280.07 663.08 280.90 663.50 C281.73 663.92 282.82 664.33 283.20 664.50 Z" fill="#e8131b" stroke="#111" stroke-width="0.6"/>
<line x1="295.5" y1="575.9" x2="295.5" y2="640" stroke="#000" stroke-width="0.85" />
<path d="M283.90 664.50 C283.98 664.25 283.78 663.75 284.40 663.00 C285.02 662.25 286.62 661.33 287.60 660.00 C288.58 658.67 289.52 656.67 290.30 655.00 C291.08 653.33 291.77 651.67 292.30 650.00 C292.83 648.33 293.08 646.73 293.50 645.00 C293.92 643.27 294.42 640.50 294.80 639.60 C295.18 638.70 295.42 638.70 295.80 639.60 C296.18 640.50 296.68 643.27 297.10 645.00 C297.52 646.73 297.77 648.33 298.30 650.00 C298.83 651.67 299.52 653.33 300.30 655.00 C301.08 656.67 302.02 658.67 303.00 660.00 C303.98 661.33 305.58 662.25 306.20 663.00 C306.82 663.75 306.62 664.25 306.70 664.50 Z" fill="#3b4a9f" stroke="#111" stroke-width="0.6"/>
<line x1="348" y1="664.4" x2="370" y2="664.4" stroke="#222" stroke-width="1.0" />
<line x1="358.5" y1="578.2" x2="358.5" y2="664.4" stroke="#000" stroke-width="0.85" />
<path d="M352.00 664.50 C352.67 664.30 354.90 663.72 356.00 663.30 C357.10 662.88 358.03 662.22 358.60 662.00 C359.17 661.78 358.83 661.78 359.40 662.00 C359.97 662.22 360.90 662.88 362.00 663.30 C363.10 663.72 365.33 664.30 366.00 664.50 Z" fill="#e8131b" stroke="#111" stroke-width="0.6"/>
<line x1="370.6" y1="664.4" x2="392.6" y2="664.4" stroke="#222" stroke-width="1.0" />
<line x1="381.5" y1="584.2" x2="381.5" y2="664.4" stroke="#000" stroke-width="0.85" />
<path d="M374.60 664.50 C375.27 664.35 377.50 663.93 378.60 663.60 C379.70 663.27 380.63 662.68 381.20 662.50 C381.77 662.32 381.43 662.32 382.00 662.50 C382.57 662.68 383.50 663.27 384.60 663.60 C385.70 663.93 387.93 664.35 388.60 664.50 Z" fill="#3b4a9f" stroke="#111" stroke-width="0.6"/>
<line x1="409.5" y1="576.1" x2="409.5" y2="646" stroke="#000" stroke-width="0.85" />
<path d="M408.30 664.40 C407.80 664.25 406.73 664.07 405.30 663.50 C403.87 662.93 400.87 661.83 399.70 661.00 C398.53 660.17 397.50 659.50 398.30 658.50 C399.10 657.50 402.97 656.42 404.50 655.00 C406.03 653.58 406.77 651.72 407.50 650.00 C408.23 648.28 408.53 645.58 408.90 644.70 C409.27 643.82 409.33 643.82 409.70 644.70 C410.07 645.58 410.37 648.28 411.10 650.00 C411.83 651.72 412.57 653.58 414.10 655.00 C415.63 656.42 419.50 657.50 420.30 658.50 C421.10 659.50 420.07 660.17 418.90 661.00 C417.73 661.83 414.73 662.93 413.30 663.50 C411.87 664.07 410.80 664.25 410.30 664.40 Z" fill="#e8131b" stroke="#111" stroke-width="0.6"/>
<path d="M426.30 664.60 C425.63 664.17 423.22 662.93 422.30 662.00 C421.38 661.07 420.92 660.17 420.80 659.00 C420.68 657.83 421.10 656.50 421.60 655.00 C422.10 653.50 422.82 651.67 423.80 650.00 C424.78 648.33 426.55 646.67 427.50 645.00 C428.45 643.33 429.13 642.50 429.50 640.00 C429.87 637.50 429.73 633.33 429.70 630.00 C429.67 626.67 429.42 623.33 429.30 620.00 C429.18 616.67 428.97 613.33 429.00 610.00 C429.03 606.67 429.28 603.33 429.50 600.00 C429.72 596.67 430.03 593.00 430.30 590.00 C430.57 587.00 430.82 584.35 431.10 582.00 C431.38 579.65 431.75 576.92 432.00 575.90 C432.25 574.88 432.35 574.88 432.60 575.90 C432.85 576.92 433.22 579.65 433.50 582.00 C433.78 584.35 434.03 587.00 434.30 590.00 C434.57 593.00 434.88 596.67 435.10 600.00 C435.32 603.33 435.57 606.67 435.60 610.00 C435.63 613.33 435.42 616.67 435.30 620.00 C435.18 623.33 434.93 626.67 434.90 630.00 C434.87 633.33 434.73 637.50 435.10 640.00 C435.47 642.50 436.15 643.33 437.10 645.00 C438.05 646.67 439.82 648.33 440.80 650.00 C441.78 651.67 442.50 653.50 443.00 655.00 C443.50 656.50 443.92 657.83 443.80 659.00 C443.68 660.17 443.22 661.07 442.30 662.00 C441.38 662.93 438.97 664.17 438.30 664.60 Z" fill="#3b4a9f" stroke="#111" stroke-width="0.6"/>
<rect x="456.9" y="612" width="6.9" height="6.8" fill="#e0141c" stroke="#8a1010" stroke-width="0.8"/>
<rect x="456.9" y="625.4" width="6.9" height="6.8" fill="#3a4a92" stroke="#1a1f4a" stroke-width="0.8"/>
<text x="466.2" y="618" font-size="6.6" fill="#333">CAR<tspan font-size="3.9" dy="-2.6">pos</tspan></text>
<text x="466.2" y="631.4" font-size="6.6" fill="#333">CAR<tspan font-size="3.9" dy="-2.6">neg</tspan></text>
<rect x="0.5" y="0.5" width="519" height="688" fill="none" stroke="#4a4a4a" stroke-width="1"/>
</svg></body></html>
